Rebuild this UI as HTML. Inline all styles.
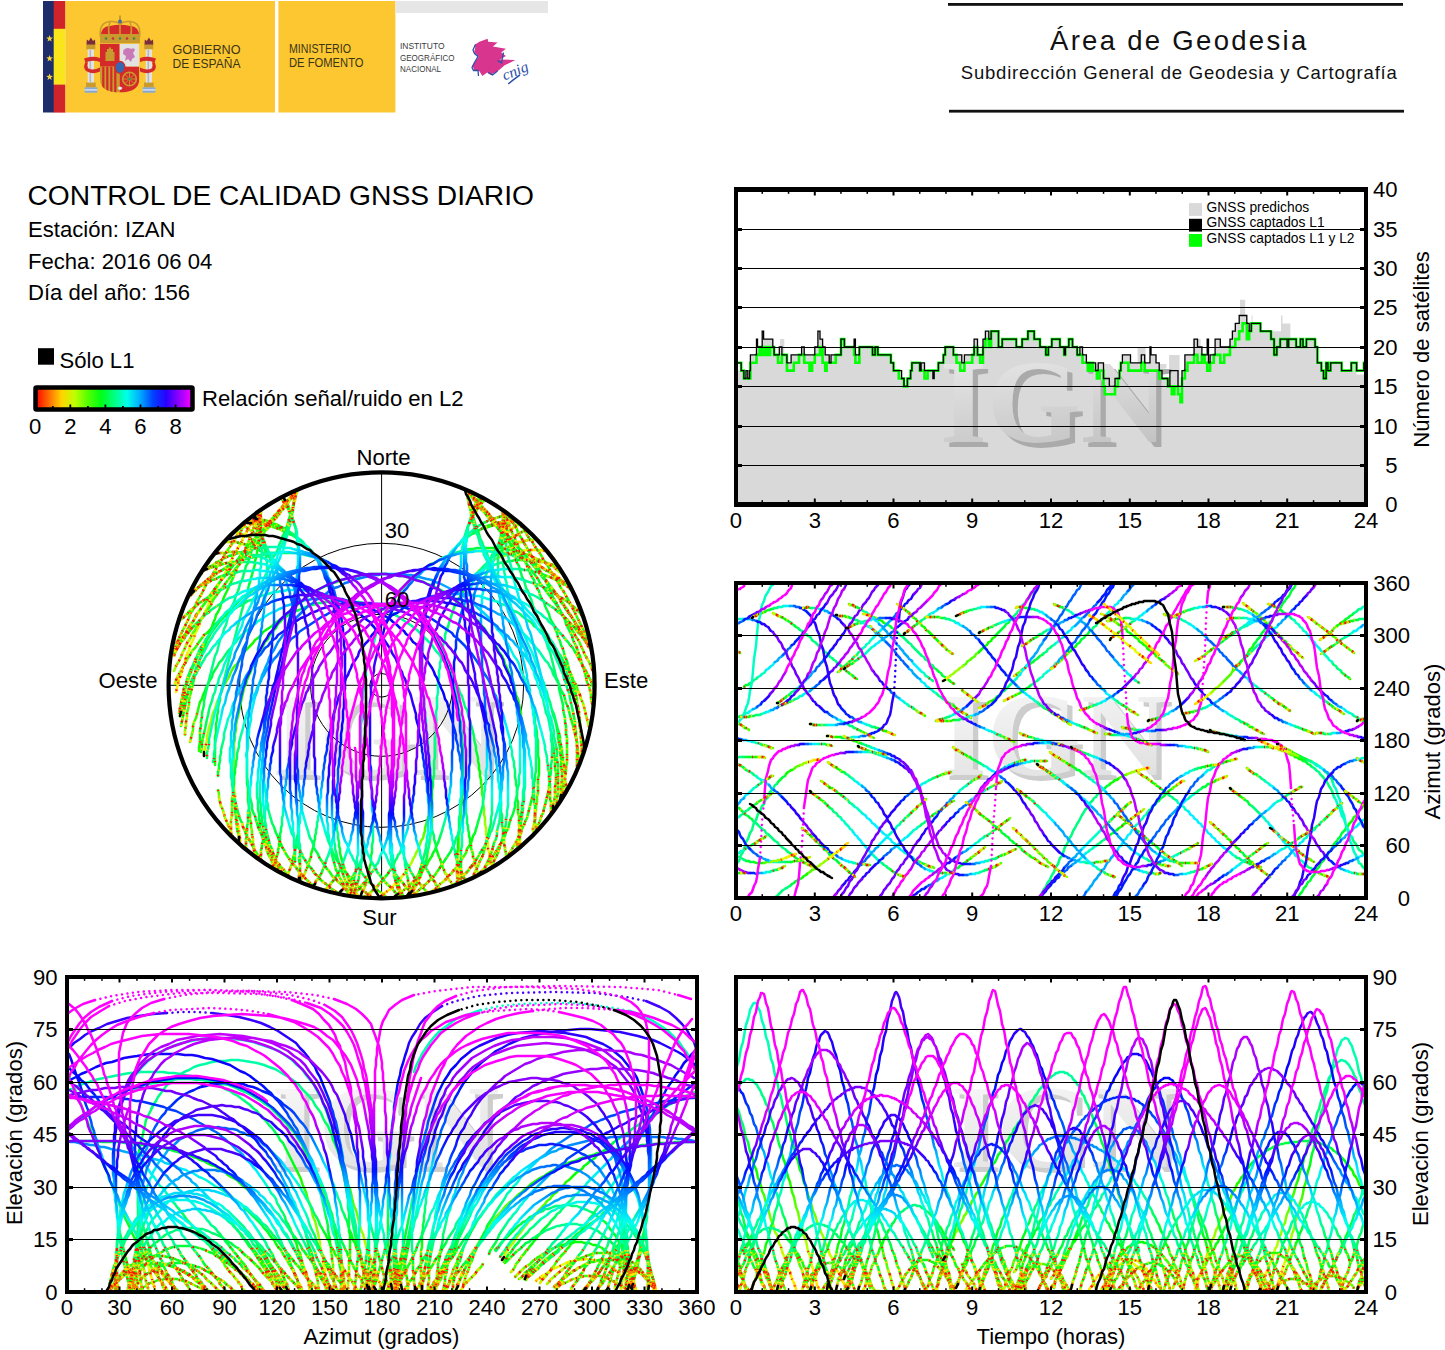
<!DOCTYPE html><html><head><meta charset="utf-8"><title>Control de calidad GNSS diario</title><style>html,body{margin:0;padding:0;background:#fff;width:1445px;height:1350px;overflow:hidden}</style></head><body><svg width="1445" height="1350" viewBox="0 0 1445 1350" font-family='"Liberation Sans", sans-serif' style="position:absolute;left:0;top:0"><defs><clipPath id="clip2"><rect x="736" y="583" width="630" height="315"/></clipPath><clipPath id="clip3"><rect x="67" y="977" width="630" height="315"/></clipPath><clipPath id="clip4"><rect x="736" y="977" width="630" height="315"/></clipPath><linearGradient id="gl0" gradientUnits="userSpaceOnUse" x1="0" x2="0" y1="1292" y2="977"><stop offset="0.000" stop-color="#ffda00"/><stop offset="0.056" stop-color="#fdff00"/><stop offset="0.111" stop-color="#ceff00"/><stop offset="0.167" stop-color="#a7ff00"/><stop offset="0.222" stop-color="#80ff00"/><stop offset="0.278" stop-color="#55ff00"/><stop offset="0.333" stop-color="#2aff00"/><stop offset="0.389" stop-color="#00ff02"/><stop offset="0.444" stop-color="#00ff2e"/><stop offset="0.500" stop-color="#00ff5a"/><stop offset="0.556" stop-color="#00ff6f"/><stop offset="0.611" stop-color="#00ff84"/><stop offset="0.667" stop-color="#00ff98"/><stop offset="0.722" stop-color="#00ffa5"/><stop offset="0.778" stop-color="#00ffb2"/><stop offset="0.833" stop-color="#00ffbf"/><stop offset="0.889" stop-color="#00ffc7"/><stop offset="0.944" stop-color="#00ffcf"/><stop offset="1.000" stop-color="#00ffd7"/></linearGradient><radialGradient id="gr0" gradientUnits="userSpaceOnUse" cx="381.6" cy="685.3" r="213"><stop offset="0.000" stop-color="#00ffd7"/><stop offset="0.056" stop-color="#00ffcf"/><stop offset="0.111" stop-color="#00ffc7"/><stop offset="0.167" stop-color="#00ffbf"/><stop offset="0.222" stop-color="#00ffb2"/><stop offset="0.278" stop-color="#00ffa5"/><stop offset="0.333" stop-color="#00ff98"/><stop offset="0.389" stop-color="#00ff84"/><stop offset="0.444" stop-color="#00ff6f"/><stop offset="0.500" stop-color="#00ff5a"/><stop offset="0.556" stop-color="#00ff2e"/><stop offset="0.611" stop-color="#00ff02"/><stop offset="0.667" stop-color="#2aff00"/><stop offset="0.722" stop-color="#55ff00"/><stop offset="0.778" stop-color="#80ff00"/><stop offset="0.833" stop-color="#a7ff00"/><stop offset="0.889" stop-color="#ceff00"/><stop offset="0.944" stop-color="#fdff00"/><stop offset="1.000" stop-color="#ffda00"/></radialGradient><linearGradient id="gl1" gradientUnits="userSpaceOnUse" x1="0" x2="0" y1="1292" y2="977"><stop offset="0.000" stop-color="#b1ff00"/><stop offset="0.056" stop-color="#75ff00"/><stop offset="0.111" stop-color="#2eff00"/><stop offset="0.167" stop-color="#00ff0e"/><stop offset="0.222" stop-color="#00ff49"/><stop offset="0.278" stop-color="#00ff8b"/><stop offset="0.333" stop-color="#00ffcc"/><stop offset="0.389" stop-color="#00efff"/><stop offset="0.444" stop-color="#00abff"/><stop offset="0.500" stop-color="#0068ff"/><stop offset="0.556" stop-color="#0048ff"/><stop offset="0.611" stop-color="#0028ff"/><stop offset="0.667" stop-color="#0008ff"/><stop offset="0.722" stop-color="#0b00ff"/><stop offset="0.778" stop-color="#1f00ff"/><stop offset="0.833" stop-color="#3300ff"/><stop offset="0.889" stop-color="#3f00ff"/><stop offset="0.944" stop-color="#4b00ff"/><stop offset="1.000" stop-color="#5700ff"/></linearGradient><radialGradient id="gr1" gradientUnits="userSpaceOnUse" cx="381.6" cy="685.3" r="213"><stop offset="0.000" stop-color="#5700ff"/><stop offset="0.056" stop-color="#4b00ff"/><stop offset="0.111" stop-color="#3f00ff"/><stop offset="0.167" stop-color="#3300ff"/><stop offset="0.222" stop-color="#1f00ff"/><stop offset="0.278" stop-color="#0b00ff"/><stop offset="0.333" stop-color="#0008ff"/><stop offset="0.389" stop-color="#0028ff"/><stop offset="0.444" stop-color="#0048ff"/><stop offset="0.500" stop-color="#0068ff"/><stop offset="0.556" stop-color="#00abff"/><stop offset="0.611" stop-color="#00efff"/><stop offset="0.667" stop-color="#00ffcc"/><stop offset="0.722" stop-color="#00ff8b"/><stop offset="0.778" stop-color="#00ff49"/><stop offset="0.833" stop-color="#00ff0e"/><stop offset="0.889" stop-color="#2eff00"/><stop offset="0.944" stop-color="#75ff00"/><stop offset="1.000" stop-color="#b1ff00"/></radialGradient><linearGradient id="gl2" gradientUnits="userSpaceOnUse" x1="0" x2="0" y1="1292" y2="977"><stop offset="0.000" stop-color="#81ff00"/><stop offset="0.056" stop-color="#3dff00"/><stop offset="0.111" stop-color="#00ff14"/><stop offset="0.167" stop-color="#00ff58"/><stop offset="0.222" stop-color="#00ff9c"/><stop offset="0.278" stop-color="#00ffe7"/><stop offset="0.333" stop-color="#00ccff"/><stop offset="0.389" stop-color="#007fff"/><stop offset="0.444" stop-color="#0032ff"/><stop offset="0.500" stop-color="#1b00ff"/><stop offset="0.556" stop-color="#3f00ff"/><stop offset="0.611" stop-color="#6400ff"/><stop offset="0.667" stop-color="#8800ff"/><stop offset="0.722" stop-color="#9f00ff"/><stop offset="0.778" stop-color="#b500ff"/><stop offset="0.833" stop-color="#cc00ff"/><stop offset="0.889" stop-color="#da00ff"/><stop offset="0.944" stop-color="#e700ff"/><stop offset="1.000" stop-color="#f500ff"/></linearGradient><radialGradient id="gr2" gradientUnits="userSpaceOnUse" cx="381.6" cy="685.3" r="213"><stop offset="0.000" stop-color="#f500ff"/><stop offset="0.056" stop-color="#e700ff"/><stop offset="0.111" stop-color="#da00ff"/><stop offset="0.167" stop-color="#cc00ff"/><stop offset="0.222" stop-color="#b500ff"/><stop offset="0.278" stop-color="#9f00ff"/><stop offset="0.333" stop-color="#8800ff"/><stop offset="0.389" stop-color="#6400ff"/><stop offset="0.444" stop-color="#3f00ff"/><stop offset="0.500" stop-color="#1b00ff"/><stop offset="0.556" stop-color="#0032ff"/><stop offset="0.611" stop-color="#007fff"/><stop offset="0.667" stop-color="#00ccff"/><stop offset="0.722" stop-color="#00ffe7"/><stop offset="0.778" stop-color="#00ff9c"/><stop offset="0.833" stop-color="#00ff58"/><stop offset="0.889" stop-color="#00ff14"/><stop offset="0.944" stop-color="#3dff00"/><stop offset="1.000" stop-color="#81ff00"/></radialGradient><linearGradient id="gl3" gradientUnits="userSpaceOnUse" x1="0" x2="0" y1="1292" y2="977"><stop offset="0.000" stop-color="#52ff00"/><stop offset="0.056" stop-color="#05ff00"/><stop offset="0.111" stop-color="#00ff57"/><stop offset="0.167" stop-color="#00ffa3"/><stop offset="0.222" stop-color="#00fff0"/><stop offset="0.278" stop-color="#00baff"/><stop offset="0.333" stop-color="#0066ff"/><stop offset="0.389" stop-color="#000fff"/><stop offset="0.444" stop-color="#4700ff"/><stop offset="0.500" stop-color="#9e00ff"/><stop offset="0.556" stop-color="#c700ff"/><stop offset="0.611" stop-color="#f000ff"/><stop offset="0.667" stop-color="#ff00ff"/><stop offset="0.722" stop-color="#ff00ff"/><stop offset="0.778" stop-color="#ff00ff"/><stop offset="0.833" stop-color="#ff00ff"/><stop offset="0.889" stop-color="#ff00ff"/><stop offset="0.944" stop-color="#ff00ff"/><stop offset="1.000" stop-color="#ff00ff"/></linearGradient><radialGradient id="gr3" gradientUnits="userSpaceOnUse" cx="381.6" cy="685.3" r="213"><stop offset="0.000" stop-color="#ff00ff"/><stop offset="0.056" stop-color="#ff00ff"/><stop offset="0.111" stop-color="#ff00ff"/><stop offset="0.167" stop-color="#ff00ff"/><stop offset="0.222" stop-color="#ff00ff"/><stop offset="0.278" stop-color="#ff00ff"/><stop offset="0.333" stop-color="#ff00ff"/><stop offset="0.389" stop-color="#f000ff"/><stop offset="0.444" stop-color="#c700ff"/><stop offset="0.500" stop-color="#9e00ff"/><stop offset="0.556" stop-color="#4700ff"/><stop offset="0.611" stop-color="#000fff"/><stop offset="0.667" stop-color="#0066ff"/><stop offset="0.722" stop-color="#00baff"/><stop offset="0.778" stop-color="#00fff0"/><stop offset="0.833" stop-color="#00ffa3"/><stop offset="0.889" stop-color="#00ff57"/><stop offset="0.944" stop-color="#05ff00"/><stop offset="1.000" stop-color="#52ff00"/></radialGradient><clipPath id="clipsky"><circle cx="381.6" cy="685.3" r="213"/></clipPath></defs><rect width="1445" height="1350" fill="#fff"/><rect x="43" y="1" width="11" height="111.5" fill="#1d2d6b"/><rect x="53.7" y="1" width="11.8" height="28" fill="#d1232a"/><rect x="53.7" y="28.8" width="11.8" height="56" fill="#f9e51c"/><rect x="53.7" y="84.6" width="11.8" height="28" fill="#d1232a"/><polygon points="49.6,35.1 50.5,37.5 53.0,37.6 51.0,39.2 51.7,41.6 49.6,40.2 47.5,41.6 48.2,39.2 46.2,37.6 48.7,37.5" fill="#f2d23c"/><polygon points="49.6,54.9 50.5,57.3 53.0,57.4 51.0,59.0 51.7,61.4 49.6,60.0 47.5,61.4 48.2,59.0 46.2,57.4 48.7,57.3" fill="#f2d23c"/><polygon points="49.6,73.4 50.5,75.8 53.0,75.9 51.0,77.5 51.7,79.9 49.6,78.5 47.5,79.9 48.2,77.5 46.2,75.9 48.7,75.8" fill="#f2d23c"/><rect x="65.4" y="1" width="209.6" height="111.5" fill="#fcc731"/><rect x="278.4" y="1" width="117" height="111.5" fill="#fcc731"/><rect x="395.4" y="1" width="152.6" height="12" fill="#e6e6e6"/><g><rect x="87.7" y="49" width="6.3" height="34" fill="#e2e2e2"/><rect x="89.5" y="50" width="1.6" height="32" fill="#b8b8b8"/><rect x="86.3" y="44" width="9" height="5.3" fill="#c99b2e"/><path d="M86.5 44.5 L86.8 39.5 L88.8 41 L90.9 37.5 L93 41 L95 39.5 L95.3 44.5Z" fill="#7a2d3c"/><rect x="86" y="82.5" width="9.7" height="4.8" fill="#c99b2e"/><rect x="84.7" y="87.3" width="12.6" height="5.4" fill="#86a9d8"/><rect x="84.7" y="89.3" width="12.6" height="1.2" fill="#e8eef8"/><rect x="145.7" y="49" width="6.3" height="34" fill="#e2e2e2"/><rect x="147.5" y="50" width="1.6" height="32" fill="#b8b8b8"/><rect x="144.3" y="44" width="9" height="5.3" fill="#c99b2e"/><path d="M144.5 44.5 L144.8 39.5 L146.8 41 L148.9 37.5 L151 41 L153 39.5 L153.3 44.5Z" fill="#7a2d3c"/><rect x="144" y="82.5" width="9.7" height="4.8" fill="#c99b2e"/><rect x="142.7" y="87.3" width="12.6" height="5.4" fill="#86a9d8"/><rect x="142.7" y="89.3" width="12.6" height="1.2" fill="#e8eef8"/><path d="M84 58.5 Q92 55.5 100 58 L100 62 Q92 59.5 85.5 62.5Z" fill="#d42a2a"/><path d="M85.5 62 Q82.5 67 86 71 Q92 75 100 71.5 L100 67.5 Q93 71 88.5 68.5 Q86.5 66 88 62.5Z" fill="#d42a2a"/><path d="M140 58 Q148 55.5 156 58.5 L154.5 62.5 Q148 59.5 140 62Z" fill="#d42a2a"/><path d="M154.5 62 Q157.5 67 154 71 Q148 75 140 71.5 L140 67.5 Q147 71 151.5 68.5 Q153.5 66 152 62.5Z" fill="#d42a2a"/><path d="M101 36 Q100.5 26.5 110 26 Q120 23.5 130 26 Q139.5 26.5 139 36Z" fill="#d42a2a"/><path d="M100.5 37 Q98.5 22.5 110 21.5 Q117.5 21 120 24.5 Q122.5 21 130 21.5 Q141.5 22.5 139.5 37 M110 22 Q107.5 29 109.5 36 M130 22 Q132.5 29 130.5 36 M120 24 L120 36" fill="none" stroke="#c99b2e" stroke-width="1.6"/><rect x="100" y="34" width="40" height="9.3" fill="#c99b2e" rx="1"/><circle cx="106" cy="38.5" r="1.3" fill="#3d8a4a"/><circle cx="113" cy="38.5" r="1.3" fill="#c8303a"/><circle cx="120" cy="38.5" r="1.3" fill="#3d8a4a"/><circle cx="127" cy="38.5" r="1.3" fill="#c8303a"/><circle cx="134" cy="38.5" r="1.3" fill="#3d8a4a"/><rect x="119" y="15.5" width="2" height="7" fill="#c99b2e"/><circle cx="120" cy="21.5" r="2" fill="#4a6a9a"/><clipPath id="shc"><path d="M100 43.7 H139.3 V79 Q139.3 92.2 119.7 92.6 Q100 92.2 100 79Z"/></clipPath><g clip-path="url(#shc)"><rect x="100" y="43.7" width="19.7" height="23" fill="#d42a2a"/><rect x="119.7" y="43.7" width="19.6" height="23" fill="#e2e2e2"/><rect x="100" y="66.7" width="19.7" height="26" fill="#c99b2e"/><rect x="102.2" y="66.7" width="2.2" height="26" fill="#d42a2a"/><rect x="106.2" y="66.7" width="2.2" height="26" fill="#d42a2a"/><rect x="110.2" y="66.7" width="2.2" height="26" fill="#d42a2a"/><rect x="114.2" y="66.7" width="2.2" height="26" fill="#d42a2a"/><rect x="119.7" y="66.7" width="19.6" height="26" fill="#d42a2a"/></g><path d="M105.5 61 L105.5 52 L107 52 L107 49 L109 49 L109 47.5 L111 47.5 L111 49 L113 49 L113 52 L114.5 52 L114.5 61Z" fill="#c99b2e"/><path d="M123.5 50 Q127 46.5 131 49 Q134 47 135 50 L133 53 L135 57 L132 59 L131 62 L128 59 L125 61 L126 56 L123 54Z" fill="#c978b8"/><circle cx="129.5" cy="79" r="6.8" fill="none" stroke="#c99b2e" stroke-width="1.6"/><path d="M129.5 72.5 V85.5 M123 79 H136 M125 74.5 L134 83.5 M134 74.5 L125 83.5" stroke="#c99b2e" stroke-width="0.9"/><circle cx="129.5" cy="79" r="1.3" fill="#3d8a4a"/><ellipse cx="120" cy="67.3" rx="5" ry="6" fill="#3a66b0" stroke="#d42a2a" stroke-width="1.2"/><path d="M117.5 88 Q120 85 122.5 88 Q120 92 117.5 88Z" fill="#e8e8e8"/></g><path d="M474.7 44.7 L479.4 41.8 L487.6 38.8 L488.2 41.8 L497.6 42.4 L492.9 46.5 L505.9 48.8 L501.2 52.4 L505.9 55.9 L500 59.4 L515.3 60 L504.7 65.3 L497.6 71.2 L490.6 74.7 L487.1 72.4 L482.4 75.9 L479.4 71.2 L474.1 70 L472.4 65.3 L478.8 56.5 L474.1 52.4 L475.3 47.6Z" fill="#d8358e"/><path d="M475.5 44.5 L473 50 L474.5 53.5 L478 56.5 L474.5 62.5 L472 67.5 L473.5 70.5 L478 70.5 L478.5 76 M488 72.5 L492.5 75 L497.5 71 M497.5 60.5 L501.5 63 L502.5 57.5 L503.5 52.5" fill="none" stroke="#2a4fa8" stroke-width="1.3"/><text x="0" y="0" font-size="15" font-style="italic" fill="#2a4fa8" font-family="Liberation Serif" transform="translate(504.5 80.5) rotate(-22)" textLength="27" lengthAdjust="spacingAndGlyphs">cnig</text><path d="M508.8 83.5 Q514 79 519.4 75.3" stroke="#2a4fa8" stroke-width="1.6" fill="none" stroke-linecap="round"/><g fill="#3b3418" font-family="Liberation Sans" font-size="12.3"><text x="172.5" y="54.3" textLength="68" lengthAdjust="spacingAndGlyphs">GOBIERNO</text><text x="172.5" y="68" textLength="68" lengthAdjust="spacingAndGlyphs">DE ESPAÑA</text><text x="289" y="53.2" textLength="62" lengthAdjust="spacingAndGlyphs">MINISTERIO</text><text x="289" y="67.2" textLength="74.5" lengthAdjust="spacingAndGlyphs">DE FOMENTO</text></g><g fill="#3a3a3a" font-family="Liberation Sans" font-size="9.2"><text x="400" y="49.2" textLength="44.5" lengthAdjust="spacingAndGlyphs">INSTITUTO</text><text x="400" y="60.6" textLength="54.5" lengthAdjust="spacingAndGlyphs">GEOGRÁFICO</text><text x="400" y="71.6" textLength="41" lengthAdjust="spacingAndGlyphs">NACIONAL</text></g><rect x="948" y="3" width="455" height="2.8" fill="#111"/><rect x="949" y="109.8" width="455" height="2.8" fill="#111"/><text x="1050" y="49.8" font-size="27.5" letter-spacing="2.3" fill="#111">Área de Geodesia</text><text x="960.8" y="78.9" font-size="18.5" letter-spacing="0.8" fill="#111">Subdirección General de Geodesia y Cartografía</text><text x="27.5" y="205" font-size="28.2" text-anchor="start" >CONTROL DE CALIDAD GNSS DIARIO</text><text x="28" y="237" font-size="22.1" text-anchor="start" >Estación: IZAN</text><text x="28" y="268.5" font-size="22.1" text-anchor="start" >Fecha: 2016 06 04</text><text x="28" y="299.5" font-size="22.1" text-anchor="start" >Día del año: 156</text><rect x="38" y="348.2" width="16" height="16.5" fill="#000"/><text x="59.5" y="367.5" font-size="22.1" text-anchor="start" >Sólo L1</text><defs><linearGradient id="cb" x1="0" x2="1" y1="0" y2="0"><stop offset="0.000" stop-color="#ff0000"/><stop offset="0.083" stop-color="#ff6a00"/><stop offset="0.167" stop-color="#ffd400"/><stop offset="0.250" stop-color="#bfff00"/><stop offset="0.333" stop-color="#55ff00"/><stop offset="0.417" stop-color="#00ff15"/><stop offset="0.500" stop-color="#00ff80"/><stop offset="0.583" stop-color="#00ffea"/><stop offset="0.667" stop-color="#00aaff"/><stop offset="0.750" stop-color="#0040ff"/><stop offset="0.833" stop-color="#2a00ff"/><stop offset="0.917" stop-color="#9500ff"/><stop offset="1.000" stop-color="#ff00ff"/></linearGradient></defs><rect x="35.5" y="387.5" width="157" height="22" fill="url(#cb)" stroke="#000" stroke-width="4.5" rx="1"/><rect x="51.9" y="406" width="1.8" height="2" fill="#000"/><rect x="69.4" y="404.5" width="1.8" height="3.5" fill="#000"/><rect x="87" y="406" width="1.8" height="2" fill="#000"/><rect x="104.5" y="404.5" width="1.8" height="3.5" fill="#000"/><rect x="122" y="406" width="1.8" height="2" fill="#000"/><rect x="139.6" y="404.5" width="1.8" height="3.5" fill="#000"/><rect x="157.2" y="406" width="1.8" height="2" fill="#000"/><rect x="174.7" y="404.5" width="1.8" height="3.5" fill="#000"/><text x="35.2" y="433.6" font-size="22.1" text-anchor="middle" >0</text><text x="70.3" y="433.6" font-size="22.1" text-anchor="middle" >2</text><text x="105.4" y="433.6" font-size="22.1" text-anchor="middle" >4</text><text x="140.5" y="433.6" font-size="22.1" text-anchor="middle" >6</text><text x="175.6" y="433.6" font-size="22.1" text-anchor="middle" >8</text><text x="202" y="405.5" font-size="22.1" text-anchor="start" >Relación señal/ruido en L2</text><path d="M736 504.5L736.0 370.6L749.1 370.6L749.1 378.5L749.6 378.5L749.6 370.6L750.7 370.6L750.7 354.9L756.5 354.9L756.5 339.1L757.5 339.1L757.5 347.0L762.2 347.0L762.2 331.2L763.8 331.2L763.8 339.1L772.8 339.1L772.8 347.0L774.3 347.0L774.3 354.9L779.6 354.9L779.6 347.0L780.1 347.0L780.1 339.1L784.3 339.1L784.3 354.9L786.9 354.9L786.9 362.8L791.1 362.8L791.1 354.9L801.6 354.9L801.6 347.0L804.2 347.0L804.2 354.9L814.8 354.9L814.8 347.0L817.9 347.0L817.9 331.2L820.0 331.2L820.0 339.1L822.6 339.1L822.6 347.0L825.2 347.0L825.2 354.9L829.5 354.9L829.5 362.8L831.0 362.8L831.0 354.9L841.0 354.9L841.0 339.1L844.7 339.1L844.7 347.0L854.1 347.0L854.1 339.1L855.7 339.1L855.7 354.9L859.4 354.9L859.4 347.0L872.5 347.0L872.5 354.9L875.1 354.9L875.1 347.0L877.8 347.0L877.8 354.9L890.9 354.9L890.9 362.8L893.5 362.8L893.5 370.6L901.9 370.6L901.9 378.5L904.0 378.5L904.0 386.4L907.7 386.4L907.7 378.5L910.8 378.5L910.8 370.6L911.9 370.6L911.9 362.8L919.8 362.8L919.8 370.6L921.3 370.6L921.3 362.8L924.5 362.8L924.5 370.6L932.9 370.6L932.9 378.5L934.5 378.5L934.5 370.6L938.6 370.6L938.6 362.8L943.4 362.8L943.4 354.9L945.5 354.9L945.5 347.0L953.4 347.0L953.4 354.9L961.8 354.9L961.8 362.8L964.4 362.8L964.4 354.9L974.4 354.9L974.4 339.1L977.5 339.1L977.5 354.9L983.3 354.9L983.3 339.1L985.4 339.1L985.4 331.2L989.1 331.2L989.1 339.1L991.1 339.1L991.1 331.2L998.5 331.2L998.5 347.0L1002.2 347.0L1002.2 339.1L1016.3 339.1L1016.3 347.0L1022.1 347.0L1022.1 339.1L1027.9 339.1L1027.9 331.2L1034.2 331.2L1034.2 339.1L1040.0 339.1L1040.0 347.0L1045.8 347.0L1045.8 354.9L1048.4 354.9L1048.4 347.0L1052.0 347.0L1052.0 339.1L1059.9 339.1L1059.9 347.0L1064.1 347.0L1064.1 354.9L1065.7 354.9L1065.7 347.0L1068.8 347.0L1068.8 339.1L1072.5 339.1L1072.5 347.0L1077.2 347.0L1077.2 354.9L1079.9 354.9L1079.9 347.0L1082.5 347.0L1082.5 354.9L1086.7 354.9L1086.7 362.8L1095.6 362.8L1095.6 370.6L1098.2 370.6L1098.2 362.8L1103.5 362.8L1103.5 378.5L1109.3 378.5L1109.3 386.4L1115.0 386.4L1115.0 378.5L1119.8 378.5L1119.8 370.6L1120.8 370.6L1120.8 362.8L1122.4 362.8L1122.4 354.9L1130.8 354.9L1130.8 362.8L1137.6 362.8L1137.6 347.0L1145.5 347.0L1145.5 362.8L1150.2 362.8L1150.2 347.0L1151.3 347.0L1151.3 354.9L1156.0 354.9L1156.0 362.8L1159.2 362.8L1159.2 370.6L1162.3 370.6L1162.3 378.5L1168.1 378.5L1168.1 386.4L1169.1 386.4L1169.1 354.9L1179.6 354.9L1179.6 386.4L1182.2 386.4L1182.2 370.6L1184.9 370.6L1184.9 354.9L1192.8 354.9L1192.8 339.1L1200.6 339.1L1200.6 347.0L1202.2 347.0L1202.2 354.9L1207.5 354.9L1207.5 339.1L1208.5 339.1L1208.5 362.8L1210.1 362.8L1210.1 354.9L1215.3 354.9L1215.3 339.1L1220.6 339.1L1220.6 347.0L1230.0 347.0L1230.0 339.1L1232.7 339.1L1232.7 331.2L1235.3 331.2L1235.3 323.4L1239.5 323.4L1239.5 315.5L1240.0 315.5L1240.0 299.8L1245.2 299.8L1245.2 315.5L1246.8 315.5L1246.8 323.4L1249.4 323.4L1249.4 331.2L1251.6 331.2L1251.6 315.5L1252.6 315.5L1252.6 323.4L1260.5 323.4L1260.5 331.2L1271.0 331.2L1271.0 339.1L1272.0 339.1L1272.0 331.2L1281.0 331.2L1281.0 315.5L1282.5 315.5L1282.5 323.4L1290.4 323.4L1290.4 339.1L1296.2 339.1L1296.2 347.0L1300.4 347.0L1300.4 339.1L1303.0 339.1L1303.0 347.0L1306.7 347.0L1306.7 339.1L1315.1 339.1L1315.1 347.0L1317.7 347.0L1317.7 362.8L1321.4 362.8L1321.4 370.6L1323.5 370.6L1323.5 378.5L1326.1 378.5L1326.1 362.8L1328.2 362.8L1328.2 370.6L1330.8 370.6L1330.8 362.8L1341.8 362.8L1341.8 370.6L1351.3 370.6L1351.3 362.8L1356.6 362.8L1356.6 374.6L1363.9 374.6L1363.9 362.8L1366.0 362.8L1366 504.5Z" fill="#d9d9d9"/><defs><linearGradient id="wmg" x1="0" y1="0" x2="0.25" y2="1"><stop offset="0" stop-color="#eeeeee"/><stop offset="1" stop-color="#c2c2c2"/></linearGradient></defs><g transform="translate(944 442.2) scale(1.018 1)" font-family="Liberation Serif" font-weight="bold" font-size="118.5"><text x="1.2" y="5.2" fill="#aaaaaa">IGN</text><text x="-3.95" y="0" fill="url(#wmg)">IGN</text></g><path d="M736.0 362.8 L741.2 362.8 L741.2 370.6 L743.9 370.6 L743.9 378.5 L750.4 378.5 L750.4 362.8 L756.5 362.8 L756.5 354.9 L759.6 354.9 L759.6 347.0 L762.2 347.0 L762.2 354.9 L764.9 354.9 L764.9 347.0 L767.5 347.0 L767.5 354.9 L770.1 354.9 L770.1 347.0 L774.1 347.0 L774.1 354.9 L778.0 354.9 L778.0 362.8 L781.9 362.8 L781.9 354.9 L786.9 354.9 L786.9 370.6 L793.8 370.6 L793.8 362.8 L799.0 362.8 L799.0 354.9 L804.2 354.9 L804.2 362.8 L809.5 362.8 L809.5 370.6 L812.1 370.6 L812.1 362.8 L814.8 362.8 L814.8 354.9 L820.0 354.9 L820.0 347.0 L822.6 347.0 L822.6 362.8 L825.2 362.8 L825.2 370.6 L826.6 370.6 L826.6 362.8 L835.8 362.8 L835.8 354.9 L841.0 354.9 L841.0 339.1 L844.4 339.1 L844.4 347.0 L854.1 347.0 L854.1 354.9 L855.4 354.9 L855.4 362.8 L859.4 362.8 L859.4 347.0 L872.5 347.0 L872.5 354.9 L875.1 354.9 L875.1 347.0 L877.8 347.0 L877.8 354.9 L890.9 354.9 L890.9 362.8 L893.5 362.8 L893.5 370.6 L898.8 370.6 L898.8 378.5 L904.0 378.5 L904.0 386.4 L907.4 386.4 L907.4 378.5 L910.6 378.5 L910.6 370.6 L911.9 370.6 L911.9 362.8 L919.8 362.8 L919.8 370.6 L924.5 370.6 L924.5 378.5 L927.6 378.5 L927.6 370.6 L938.4 370.6 L938.4 362.8 L943.4 362.8 L943.4 354.9 L945.2 354.9 L945.2 347.0 L953.4 347.0 L953.4 354.9 L956.5 354.9 L956.5 362.8 L960.2 362.8 L960.2 370.6 L964.4 370.6 L964.4 362.8 L972.2 362.8 L972.2 354.9 L974.1 354.9 L974.1 347.0 L977.5 347.0 L977.5 354.9 L980.1 354.9 L980.1 362.8 L983.0 362.8 L983.0 347.0 L985.4 347.0 L985.4 339.1 L988.8 339.1 L988.8 347.0 L991.1 347.0 L991.1 331.2 L998.5 331.2 L998.5 347.0 L1002.2 347.0 L1002.2 339.1 L1016.3 339.1 L1016.3 347.0 L1022.1 347.0 L1022.1 339.1 L1027.9 339.1 L1027.9 331.2 L1034.2 331.2 L1034.2 339.1 L1040.0 339.1 L1040.0 347.0 L1045.8 347.0 L1045.8 354.9 L1048.4 354.9 L1048.4 347.0 L1051.8 347.0 L1051.8 339.1 L1059.9 339.1 L1059.9 347.0 L1064.1 347.0 L1064.1 354.9 L1065.4 354.9 L1065.4 347.0 L1068.8 347.0 L1068.8 339.1 L1072.5 339.1 L1072.5 347.0 L1077.2 347.0 L1077.2 354.9 L1082.5 354.9 L1082.5 362.8 L1087.8 362.8 L1087.8 370.6 L1090.4 370.6 L1090.4 362.8 L1093.0 362.8 L1093.0 370.6 L1096.9 370.6 L1096.9 378.5 L1099.6 378.5 L1099.6 370.6 L1103.5 370.6 L1103.5 386.4 L1104.8 386.4 L1104.8 394.2 L1115.0 394.2 L1115.0 386.4 L1117.9 386.4 L1117.9 378.5 L1119.5 378.5 L1119.5 370.6 L1120.8 370.6 L1120.8 362.8 L1128.4 362.8 L1128.4 370.6 L1141.3 370.6 L1141.3 362.8 L1144.7 362.8 L1144.7 370.6 L1159.2 370.6 L1159.2 378.5 L1167.8 378.5 L1167.8 386.4 L1171.8 386.4 L1171.8 394.2 L1174.4 394.2 L1174.4 386.4 L1178.0 386.4 L1178.0 394.2 L1180.4 394.2 L1180.4 402.1 L1182.0 402.1 L1182.0 378.5 L1184.9 378.5 L1184.9 370.6 L1187.5 370.6 L1187.5 362.8 L1194.1 362.8 L1194.1 354.9 L1197.5 354.9 L1197.5 362.8 L1201.9 362.8 L1201.9 354.9 L1204.6 354.9 L1204.6 362.8 L1207.2 362.8 L1207.2 370.6 L1210.1 370.6 L1210.1 362.8 L1213.8 362.8 L1213.8 354.9 L1220.3 354.9 L1220.3 362.8 L1224.2 362.8 L1224.2 354.9 L1230.0 354.9 L1230.0 347.0 L1235.3 347.0 L1235.3 339.1 L1239.2 339.1 L1239.2 331.2 L1242.6 331.2 L1242.6 323.4 L1246.8 323.4 L1246.8 339.1 L1249.2 339.1 L1249.2 331.2 L1251.3 331.2 L1251.3 323.4 L1260.5 323.4 L1260.5 331.2 L1271.0 331.2 L1271.0 339.1 L1274.1 339.1 L1274.1 354.9 L1276.8 354.9 L1276.8 347.0 L1280.2 347.0 L1280.2 339.1 L1287.2 339.1 L1287.2 347.0 L1288.6 347.0 L1288.6 339.1 L1296.2 339.1 L1296.2 347.0 L1300.4 347.0 L1300.4 339.1 L1303.0 339.1 L1303.0 347.0 L1306.4 347.0 L1306.4 339.1 L1315.1 339.1 L1315.1 347.0 L1317.4 347.0 L1317.4 362.8 L1321.4 362.8 L1321.4 370.6 L1323.5 370.6 L1323.5 378.5 L1326.1 378.5 L1326.1 362.8 L1327.9 362.8 L1327.9 370.6 L1330.6 370.6 L1330.6 362.8 L1341.6 362.8 L1341.6 370.6 L1351.3 370.6 L1351.3 362.8 L1356.6 362.8 L1356.6 370.6 L1363.9 370.6 L1363.9 362.8 L1366.0 362.8" stroke="#00ff00" stroke-width="2.6" fill="none"/><path d="M736.0 362.8 L741.2 362.8 L741.2 370.6 L743.9 370.6 L743.9 378.5 L746.0 378.5 L746.0 370.6 L747.8 370.6 L747.8 378.5 L749.6 378.5 L749.6 370.6 L750.4 370.6 L750.4 354.9 L756.5 354.9 L756.5 339.1 L757.5 339.1 L757.5 347.0 L762.2 347.0 L762.2 331.2 L763.6 331.2 L763.6 339.1 L772.8 339.1 L772.8 347.0 L774.1 347.0 L774.1 354.9 L779.3 354.9 L779.3 347.0 L781.9 347.0 L781.9 354.9 L786.9 354.9 L786.9 362.8 L791.1 362.8 L791.1 354.9 L801.6 354.9 L801.6 347.0 L804.2 347.0 L804.2 354.9 L814.8 354.9 L814.8 347.0 L817.9 347.0 L817.9 331.2 L820.0 331.2 L820.0 339.1 L822.6 339.1 L822.6 347.0 L825.2 347.0 L825.2 354.9 L829.2 354.9 L829.2 362.8 L831.0 362.8 L831.0 354.9 L841.0 354.9 L841.0 339.1 L844.4 339.1 L844.4 347.0 L854.1 347.0 L854.1 339.1 L855.4 339.1 L855.4 354.9 L859.4 354.9 L859.4 347.0 L872.5 347.0 L872.5 354.9 L875.1 354.9 L875.1 347.0 L877.8 347.0 L877.8 354.9 L890.9 354.9 L890.9 362.8 L893.5 362.8 L893.5 370.6 L901.6 370.6 L901.6 378.5 L904.0 378.5 L904.0 386.4 L907.4 386.4 L907.4 378.5 L910.6 378.5 L910.6 370.6 L911.9 370.6 L911.9 362.8 L919.8 362.8 L919.8 370.6 L921.1 370.6 L921.1 362.8 L924.5 362.8 L924.5 370.6 L932.9 370.6 L932.9 378.5 L934.2 378.5 L934.2 370.6 L938.4 370.6 L938.4 362.8 L943.4 362.8 L943.4 354.9 L945.2 354.9 L945.2 347.0 L953.4 347.0 L953.4 354.9 L961.8 354.9 L961.8 362.8 L964.4 362.8 L964.4 354.9 L974.1 354.9 L974.1 339.1 L977.5 339.1 L977.5 354.9 L983.0 354.9 L983.0 339.1 L985.4 339.1 L985.4 331.2 L988.8 331.2 L988.8 339.1 L991.1 339.1 L991.1 331.2 L998.5 331.2 L998.5 347.0 L1002.2 347.0 L1002.2 339.1 L1016.3 339.1 L1016.3 347.0 L1022.1 347.0 L1022.1 339.1 L1027.9 339.1 L1027.9 331.2 L1034.2 331.2 L1034.2 339.1 L1040.0 339.1 L1040.0 347.0 L1045.8 347.0 L1045.8 354.9 L1048.4 354.9 L1048.4 347.0 L1051.8 347.0 L1051.8 339.1 L1059.9 339.1 L1059.9 347.0 L1064.1 347.0 L1064.1 354.9 L1065.4 354.9 L1065.4 347.0 L1068.8 347.0 L1068.8 339.1 L1072.5 339.1 L1072.5 347.0 L1077.2 347.0 L1077.2 354.9 L1079.9 354.9 L1079.9 347.0 L1082.5 347.0 L1082.5 354.9 L1086.4 354.9 L1086.4 362.8 L1095.6 362.8 L1095.6 370.6 L1098.2 370.6 L1098.2 362.8 L1103.5 362.8 L1103.5 378.5 L1109.3 378.5 L1109.3 386.4 L1115.0 386.4 L1115.0 378.5 L1119.5 378.5 L1119.5 370.6 L1120.8 370.6 L1120.8 362.8 L1122.4 362.8 L1122.4 354.9 L1130.5 354.9 L1130.5 362.8 L1141.3 362.8 L1141.3 354.9 L1144.7 354.9 L1144.7 362.8 L1150.0 362.8 L1150.0 347.0 L1151.0 347.0 L1151.0 354.9 L1156.0 354.9 L1156.0 362.8 L1159.2 362.8 L1159.2 370.6 L1162.0 370.6 L1162.0 378.5 L1167.8 378.5 L1167.8 386.4 L1169.9 386.4 L1169.9 370.6 L1178.0 370.6 L1178.0 386.4 L1182.0 386.4 L1182.0 370.6 L1184.9 370.6 L1184.9 354.9 L1194.1 354.9 L1194.1 339.1 L1197.5 339.1 L1197.5 347.0 L1201.9 347.0 L1201.9 354.9 L1207.2 354.9 L1207.2 339.1 L1208.5 339.1 L1208.5 362.8 L1210.1 362.8 L1210.1 354.9 L1215.1 354.9 L1215.1 339.1 L1220.3 339.1 L1220.3 347.0 L1230.0 347.0 L1230.0 339.1 L1232.4 339.1 L1232.4 331.2 L1235.3 331.2 L1235.3 323.4 L1239.2 323.4 L1239.2 315.5 L1246.8 315.5 L1246.8 323.4 L1249.2 323.4 L1249.2 331.2 L1251.3 331.2 L1251.3 323.4 L1260.5 323.4 L1260.5 331.2 L1271.0 331.2 L1271.0 339.1 L1274.1 339.1 L1274.1 354.9 L1276.8 354.9 L1276.8 347.0 L1280.2 347.0 L1280.2 339.1 L1287.2 339.1 L1287.2 347.0 L1288.6 347.0 L1288.6 339.1 L1296.2 339.1 L1296.2 347.0 L1300.4 347.0 L1300.4 339.1 L1303.0 339.1 L1303.0 347.0 L1306.4 347.0 L1306.4 339.1 L1315.1 339.1 L1315.1 347.0 L1317.4 347.0 L1317.4 362.8 L1321.4 362.8 L1321.4 370.6 L1323.5 370.6 L1323.5 378.5 L1326.1 378.5 L1326.1 362.8 L1327.9 362.8 L1327.9 370.6 L1330.6 370.6 L1330.6 362.8 L1341.6 362.8 L1341.6 370.6 L1351.3 370.6 L1351.3 362.8 L1356.6 362.8 L1356.6 370.6 L1363.9 370.6 L1363.9 362.8 L1366.0 362.8" stroke="#000" stroke-width="1.3" fill="none"/><rect x="1189" y="203.1" width="13" height="12.8" fill="#d9d9d9"/><rect x="1189" y="218.8" width="13" height="12.8" fill="#000"/><rect x="1189" y="234" width="13" height="12.8" fill="#00ff00"/><text x="1206.5" y="211.9" font-size="13.8" text-anchor="start" >GNSS predichos</text><text x="1206.5" y="227.2" font-size="13.8" text-anchor="start" >GNSS captados L1</text><text x="1206.5" y="242.6" font-size="13.8" text-anchor="start" >GNSS captados L1 y L2</text><rect x="736" y="465" width="630" height="1" fill="#000"/><rect x="736" y="426" width="630" height="1" fill="#000"/><rect x="736" y="386" width="630" height="1" fill="#000"/><rect x="736" y="347" width="630" height="1" fill="#000"/><rect x="736" y="307" width="630" height="1" fill="#000"/><rect x="736" y="268" width="630" height="1" fill="#000"/><rect x="736" y="229" width="630" height="1" fill="#000"/><rect x="761.5" y="192" width="1.5" height="1.8" fill="#000"/><rect x="761.5" y="500.2" width="1.5" height="1.8" fill="#000"/><rect x="787.8" y="192" width="1.5" height="1.8" fill="#000"/><rect x="787.8" y="500.2" width="1.5" height="1.8" fill="#000"/><rect x="813.8" y="192" width="2" height="3.5" fill="#000"/><rect x="813.8" y="498.5" width="2" height="3.5" fill="#000"/><rect x="840.2" y="192" width="1.5" height="1.8" fill="#000"/><rect x="840.2" y="500.2" width="1.5" height="1.8" fill="#000"/><rect x="866.5" y="192" width="1.5" height="1.8" fill="#000"/><rect x="866.5" y="500.2" width="1.5" height="1.8" fill="#000"/><rect x="892.5" y="192" width="2" height="3.5" fill="#000"/><rect x="892.5" y="498.5" width="2" height="3.5" fill="#000"/><rect x="919" y="192" width="1.5" height="1.8" fill="#000"/><rect x="919" y="500.2" width="1.5" height="1.8" fill="#000"/><rect x="945.2" y="192" width="1.5" height="1.8" fill="#000"/><rect x="945.2" y="500.2" width="1.5" height="1.8" fill="#000"/><rect x="971.2" y="192" width="2" height="3.5" fill="#000"/><rect x="971.2" y="498.5" width="2" height="3.5" fill="#000"/><rect x="997.8" y="192" width="1.5" height="1.8" fill="#000"/><rect x="997.8" y="500.2" width="1.5" height="1.8" fill="#000"/><rect x="1024" y="192" width="1.5" height="1.8" fill="#000"/><rect x="1024" y="500.2" width="1.5" height="1.8" fill="#000"/><rect x="1050" y="192" width="2" height="3.5" fill="#000"/><rect x="1050" y="498.5" width="2" height="3.5" fill="#000"/><rect x="1076.5" y="192" width="1.5" height="1.8" fill="#000"/><rect x="1076.5" y="500.2" width="1.5" height="1.8" fill="#000"/><rect x="1102.8" y="192" width="1.5" height="1.8" fill="#000"/><rect x="1102.8" y="500.2" width="1.5" height="1.8" fill="#000"/><rect x="1128.8" y="192" width="2" height="3.5" fill="#000"/><rect x="1128.8" y="498.5" width="2" height="3.5" fill="#000"/><rect x="1155.2" y="192" width="1.5" height="1.8" fill="#000"/><rect x="1155.2" y="500.2" width="1.5" height="1.8" fill="#000"/><rect x="1181.5" y="192" width="1.5" height="1.8" fill="#000"/><rect x="1181.5" y="500.2" width="1.5" height="1.8" fill="#000"/><rect x="1207.5" y="192" width="2" height="3.5" fill="#000"/><rect x="1207.5" y="498.5" width="2" height="3.5" fill="#000"/><rect x="1234" y="192" width="1.5" height="1.8" fill="#000"/><rect x="1234" y="500.2" width="1.5" height="1.8" fill="#000"/><rect x="1260.2" y="192" width="1.5" height="1.8" fill="#000"/><rect x="1260.2" y="500.2" width="1.5" height="1.8" fill="#000"/><rect x="1286.2" y="192" width="2" height="3.5" fill="#000"/><rect x="1286.2" y="498.5" width="2" height="3.5" fill="#000"/><rect x="1312.8" y="192" width="1.5" height="1.8" fill="#000"/><rect x="1312.8" y="500.2" width="1.5" height="1.8" fill="#000"/><rect x="1339" y="192" width="1.5" height="1.8" fill="#000"/><rect x="1339" y="500.2" width="1.5" height="1.8" fill="#000"/><rect x="738" y="464" width="4" height="3" fill="#000"/><rect x="1360" y="464" width="4" height="3" fill="#000"/><rect x="738" y="425" width="4" height="3" fill="#000"/><rect x="1360" y="425" width="4" height="3" fill="#000"/><rect x="738" y="385" width="4" height="3" fill="#000"/><rect x="1360" y="385" width="4" height="3" fill="#000"/><rect x="738" y="346" width="4" height="3" fill="#000"/><rect x="1360" y="346" width="4" height="3" fill="#000"/><rect x="738" y="306" width="4" height="3" fill="#000"/><rect x="1360" y="306" width="4" height="3" fill="#000"/><rect x="738" y="267" width="4" height="3" fill="#000"/><rect x="1360" y="267" width="4" height="3" fill="#000"/><rect x="738" y="228" width="4" height="3" fill="#000"/><rect x="1360" y="228" width="4" height="3" fill="#000"/><rect x="734" y="187" width="4" height="320" fill="#000"/><rect x="1364" y="187" width="4" height="320" fill="#000"/><rect x="734" y="187" width="634" height="5" fill="#000"/><rect x="734" y="502" width="634" height="5" fill="#000"/><text x="736" y="527.8" font-size="22.1" text-anchor="middle" >0</text><text x="814.8" y="527.8" font-size="22.1" text-anchor="middle" >3</text><text x="893.5" y="527.8" font-size="22.1" text-anchor="middle" >6</text><text x="972.2" y="527.8" font-size="22.1" text-anchor="middle" >9</text><text x="1051" y="527.8" font-size="22.1" text-anchor="middle" >12</text><text x="1129.8" y="527.8" font-size="22.1" text-anchor="middle" >15</text><text x="1208.5" y="527.8" font-size="22.1" text-anchor="middle" >18</text><text x="1287.2" y="527.8" font-size="22.1" text-anchor="middle" >21</text><text x="1366" y="527.8" font-size="22.1" text-anchor="middle" >24</text><text x="1397.5" y="512.3" font-size="22.1" text-anchor="end" >0</text><text x="1397.5" y="472.9" font-size="22.1" text-anchor="end" >5</text><text x="1397.5" y="433.6" font-size="22.1" text-anchor="end" >10</text><text x="1397.5" y="394.2" font-size="22.1" text-anchor="end" >15</text><text x="1397.5" y="354.8" font-size="22.1" text-anchor="end" >20</text><text x="1397.5" y="315.4" font-size="22.1" text-anchor="end" >25</text><text x="1397.5" y="276.1" font-size="22.1" text-anchor="end" >30</text><text x="1397.5" y="236.7" font-size="22.1" text-anchor="end" >35</text><text x="1397.5" y="197.3" font-size="22.1" text-anchor="end" >40</text><text x="0" y="0" font-size="22.1" text-anchor="middle" transform="translate(1428.5 349.5) rotate(-90)">Número de satélites</text><defs><linearGradient id="wmw" x1="0" y1="0" x2="0.25" y2="1"><stop offset="0" stop-color="#fbfbfb"/><stop offset="1" stop-color="#e0e0e0"/></linearGradient></defs><g transform="translate(944.2 774.7) scale(1.018 1)" font-family="Liberation Serif" font-weight="bold" font-size="118.5"><text x="1.2" y="5.2" fill="#cdcdcd">IGN</text><text x="-3.95" y="0" fill="url(#wmw)">IGN</text></g><g clip-path="url(#clip2)" fill="none" stroke-width="2.5" stroke-linejoin="round" stroke-linecap="round"><path d="M956 616l2-1 1 0 1-1 2-1M1092 731l1 0 1 1 2 1 1 0M1211 823l1 1 2 1 1 2 1 1 2 1 1 1 1 1 2 2M1261 870l1 1 2 1 1 1 1 1 2 1 1 1 1 1M802 828l1 1 1 1 2 1M853 875l1 1 1 1M1110 640l1-2 2-1 1-1M1273 748l1 0M774 614l1 0 2 1 1 1 1 0 2 1M954 748l1 1 1 1 2 0 1 1 1 1 2 1 1 1M1102 862l2-1 1 0 1 0 1 0 2-1M1080 710l1 0 1-1M1300 787l2 0M736 650l1 1 2 1 1 1M859 747l2 1 1 0 1 1 2 0M996 866l1-1 1 0 2-1 1-1M1269 604l1 1 2 0 1 1 1 0M830 745l2 1M866 734l1 0 2 1 1 1 1 1 1 0 2 1M967 803l1 1 2 1 1 1 1 1 2 1 1 1 1 1 2 2 1 1M1039 862l1 1 2 1 1 0 1 1 2 1 1 0 1 1M1341 624l1 0 2-1 1 0 1-1 2 0M762 863l2 0 1 0 1-1 2 0 1 0 1 0 1 0M1286 752l1 1 2 1 1 0 1 1 1 0 2 1 1 1M936 721l1-1 1 0M1128 804l2-1 1-1M830 736l2 1 1 0 1 0 2 0M971 858l1-1 2-1 1-1 1-1 2-1 1-1M1250 609l2 1 1 1 1 1 2 1 1 1 1 1 2 2 1 1 1 1 2 1M1286 642l1 2 2 1 1 1 1 1 1 2 2 1 1 1 1 1 2 1 1 2M1122 727l1 1 1 0M1311 830l1-1 2-1M836 615l1 0 1 1 2 0 1 0 1 0M960 711l2 1 1 1 1 0 2 1 1 1 1 1 2 1 1 1M1038 765l1 1 1 1 2 1 1 1 1 0 2 1 1 1 1 1M1165 865l1 1 2 0 1 0 1 0M924 802l1-2 1-1M1316 733l1 0M1009 698l1 0 2-1 1-1 1 0 2-1M1216 780l2 0 1-1 1 0 2-1M845 737l1 1 2 0 1 1 1 0 2 1M1009 852l1 0 2-1 1-1 1 0 2-1M1311 619l1 1 2 1 1 1 1 1 1 1 2 1 1 1 1 1 2 1 1 1 1 1 2 1 1 1 1 1 2 1 1 1 1 1 1 1 2 1 1 2 1 1 2 1 1 1 1 1 2 1 1 1 1 1 2 1 1 1 1 1 2 1 1 1 1 1M899 605l1 1 1 1 2 1 1 1 1 1 2 1 1 1M943 646l2 1 1 2 1 1 2 1 1 1 1 1 2 1M1071 747l1 1 1 1 2 0 1 1M1207 866l1 0 2-1 1-1 1 0M807 864l1 1 2 0 1 1 1 1 1 0 2 1M1107 621l2 0 1 0 1-1 2 0 1 0M1256 730l1 0 1 1 2 1 1 1 1 0 2 1M1346 792l2 1 1 1 1 1 2 1 1 1 1 1 2 1 1 1M942 721l1 0 2 0 1 0 1 0M1127 822l1-1 2-1 1-1 1-1 2-1 1-1 1-1 2-1M798 861l1-1 1 0 2 0 1-1 1 0M1109 618l1 0 1 1 2 1 1 1 1 1 2 1 1 1 1 1M1165 663l1 2 2 1 1 1 1 1 2 1 1 1 1 1 2 1 1 1 1 1M1285 748l1 1 1 0 2 1 1 1 1 0M849 604l1 1M1039 766l1 0 2 1M1160 873l1 0M802 608l1 0 1 0M924 715l1 1M1017 789l1 1 2 1 1 1M1114 877l1 0M765 798l1-1 2-1 1-1 1 0 1-1 2-1M1182 714l2 0 1-1 1 0 2 0 1 0M771 748l2 0M1222 639l1 0 1-1 2-1M741 873l2 0 1 0 1 0 1 0M1017 607l1 0 2 0 1 0 1 0M1131 711l1 1 2 0 1 1 1 1 2 1M1231 789l1 1 1 1 2 1 1 1 1 1M1324 875l1 1 2 0 1 1 1 0M884 754l2 1M1321 654l2-1 1-1M745 728l1 0 2 1 1 1M821 781l2 1 1 1 1 1 2 1M932 867l1 0 1 1M1227 619l1 0 2-1M1054 667l1-1 1-2 2-1 1-1 1-1 2-1 1-2 1-1M1228 761l2 0 1-1 1 0 1 0M783 867l2-1M1054 604l1 1M1247 768l1 1 1 1M1365 874l1 0M757 615l1-1 2 0 1-1 1 0M886 731l1 1 1 0 2 1 1 0M1023 838l2 1 1 1 1 1 2 2 1 1 1 1 2 1 1 2 1 1 2 1 1 2 1 1 1 1 2 1 1 2 1 1 2 1 1 1 1 2 2 1 1 1 1 1 2 1 1 2 1 1 2 1M1329 633l2-1 1-1 1-1 1-2 2-1 1-1M811 792l1 1 1 1 2 1 1 1 1 1M900 875l1 1 2 0 1 1 1 0M1173 617l1-1 2-1 1 0 1-1 2 0M1310 732l1 0 1 1 2 1 1 0M1025 760l1 0M1014 676l2-1 1-1 1-1 2-1 1-1 1-1M1211 765l1 0 2 0 1 0 1 0M779 706l2-1 1 0M1001 782l1-1M963 666l1-1 2-1 1-2 1-1 2-1 1-1 1-1 2-1 1-1 1-2 2-1 1-1M1118 779l1-1 2-1 1 0 1-1 1-1 2 0 1-1M792 770l2-1 1-1 1-1 2-1 1 0 1-1M1222 683l1-1 1-1 2-2 1-1 1-1 2-2 1-1 1-2 1-1 2-2M1363 806l2-1 1-1M984 706l1-1 2-1 1-1 1-1M1173 788l1-1 2-1 1-1 1-1 2-1M1164 614l1 1 1 0M1286 708l1 1 2 1 1 1M1357 758l1 1 1 1 2 1M846 628l2 0 1-1M1012 741l1 0 1 1M1117 814l1 1 1 1 2 1 1 1M1180 864l1 1 1 1M1022 646l1-1 2-1 1 0M1207 751l1 1M904 634l1-1 2-1 1-1M1046 761l1 0M764 838l1-1 1-1M1210 730l1 1 1 0M870 626l1 1 1 2 2 1 1 1 1 1 2 1 1 1 1 1 2 1M1020 733l1 1 1 0 1 1M1195 845l2-1 1-1M771 776l2 0M1148 721l1-1 2 0M1341 804l1-1M807 874l1-1 2-1 1-1 1-1 1 0 2-1 1-1 1-1M1298 756l1 0 1 1 2 1 1 0 1 1M810 724l1 0 1 0M1008 820l1-1 1-1M829 763l1 1 2 1 1 1 1 1 2 0M949 873l1 0 1 0 2 0 1-1M1224 607l2 0 1 0 1 0 2 0M1338 710l2 1 1 1 1 1 2 1M928 617l1 0 1 0 2 0 1 0M1060 718l2 1 1 1 1 1 1 0 2 1 1 1 1 1M1139 773l1 1 2 1 1 1 1 1 2 0 1 1 1 1 1 1 2 1M1256 866l1 0 1 0 2 1 1 0M777 703l1 0 1-1M980 776l1-1M1357 721l1-1 1 0M740 717l1 0 2 0 1 0 1 0 1 0M945 807l1-1 1-1 2-1 1-1 1-1 2-1 1 0M756 757l1 0 1 0 2 0 1 0M1201 658l1-1 1-1 2-1 1-1 1-1 1-1 2-1M870 616l1 0 1 1 2 0 1 1 1 0M962 690l1 1 1 1 2 1 1 1 1 1M1059 758l1 1 2 1 1 1 1 0 1 1 2 1M1189 863l1 0 1 0 2 0 1 0M1105 734l1 0M1265 845l1-1 2-1M979 633l1-1 1 0M1151 745l1 0M1270 828l2 1 1 1 1 1 1 1 2 1 1 1M1308 859l2 0 1 1 1 1 2 1M946 773l1 0 2 0 1-1 1 0" stroke="#55ff00" stroke-width="2.5" fill="none" stroke-linejoin="round" stroke-linecap="round" /><path d="M962 613l1 0 1-1 2 0 1-1M1086 728l2 1 1 1 1 0 2 1M1222 833l1 1 1 1 2 1 1 2 1 1 2 1 1 2 1 1 1 1 2 1 1 2 1 1 2 1M1247 857l1 1 1 2 1 1 2 1 1 1 1 2 2 1 1 1 1 1 2 1 1 1M806 831l1 1 1 2 2 1 1 1 1 1 1 1 2 2 1 1 1 1M842 866l2 1 1 1 1 1 2 2 1 1 1 1 2 1 1 1M1114 636l1-1 2-1 1-1 1-1 2-1 1-1M1269 747l1 0 2 1 1 0M781 617l1 0 1 1 2 1 1 1 1 0 1 1M853 676l1 1 1 1 2 1M963 754l1 0 2 1 1 1 1 1 2 0M1097 862l1 0 2 0 1 0 1 0M1082 709l2 0 1 0 1-1 2 0M1294 791l1-1 1 0 2-1 1-1 1-1M865 749l1 1 1 0 2 1M991 868l1 0 1-1 2 0 1-1M1274 606l1 1 2 1 1 0 1 1M1349 678l1 1M827 745l1 0 1 0 1 0M1233 669l2-2 1-1 1-1 2-1 1-1M861 731l1 1 1 0 2 1 1 1M979 813l1 1 1 1 2 1 1 1 1 1 2 1 1 1 1 1 2 1 1 1M1029 855l1 1 1 1 2 1 1 0 1 1 2 1 1 1 1 1M1348 622l1 0 1-1 2 0 1 0M754 862l2 1 1 0 1 0 2 0 1 0 1 0M1295 757l1 0 2 1 1 1 1 0 2 1 1 1 1 0M938 720l1 0 2-1 1 0M1119 812l2-1 1-1 1-1 1-1 2-2 1-1 1-1M836 737l1 0 1 0 2 0 1 0M963 864l1-1 2-1 1-1 1-1 2-1 1-1M1264 620l1 1 1 2 2 1 1 1 1 1 2 2 1 1 1 1 1 2 2 1 1 1 1 2 2 1 1 1 1 2 2 1 1 1M1124 728l2 0 1 0 1 1 2 0M1303 835l1 0 2-1 1-1 1-1 2-1 1-1M842 616l2 0 1 0 1 1 2 0M953 705l1 1 1 1 1 1 2 1 1 1 1 1M1048 772l2 1 1 1 1 1 2 1 1 1 1 1M1160 864l1 1 2 0 1 0 1 0M916 809l1-2 1-1 2-1 1-1 1-1 2-1M1317 733l2 0 1 0 1 0 2 0M1016 695l1-1 1 0 2-1 1-1 1-1 1-1M1208 784l2 0 1-1 1-1 2 0 1-1 1-1M852 740l1 0 1 1 1 0 2 1 1 0M1002 855l2 0 1-1 1 0 2-1 1-1M908 612l1 1 2 2 1 1 1 1 1 1 2 1 1 2 1 1 2 1 1 1 1 2 2 1 1 1 1 2 2 1 1 1 1 1 2 2 1 1 1 1 2 2 1 1 1 1 1 1 2 2 1 1 1 1M1076 750l1 0 2 1 1 0 1 1M1202 869l1-1 2 0 1-1 1-1M736 806l1 1 2 1M800 860l2 1 1 1 1 1 2 0 1 1M1114 620l1-1 2 0 1 0 1 0M1248 725l1 1 1 1 2 0 1 1 1 1 2 1M1357 800l1 1 1 1 2 1 1 1 1 1 2 1 1 2M947 721l2 0 1 0 1 0 2-1 1 0M1117 830l1-1 1-1 2-1 1-1 1-1 1-1 2-1 1-1M791 862l1 0 2-1 1 0 1 0 2 0M1119 625l2 0 1 1 1 1 1 1 2 1 1 2 1 1 2 1 1 1 1 1 2 1 1 1 1 1 2 1 1 2 1 1 2 1 1 1 1 1 2 1 1 2 1 1 1 1 2 1 1 1 1 1 2 1 1 2 1 1 2 1 1 1 1 1 2 1 1 1 1 1M1291 751l1 1 2 1 1 1 1 0 2 1 1 1M850 605l2 0 1 0 1 1 1 1M1042 767l1 1 1 1 2 1 1 1M1156 874l1 0 2 0 1-1M804 608l2 0 1-1 1 0M918 712l2 1 1 0 1 1 2 1M1021 792l1 1 1 1 2 1 1 1M1109 875l1 0 1 1 2 0 1 1M758 802l2-1 1-1 1 0 2-1 1-1M1189 713l1-1 1 0 2 0M766 746l2 0 1 1 1 0 1 1M1226 637l1-1 1-1 2 0 1-1 1-1M737 873l2 0 1 0 1 0M1022 607l1 0 2 1 1 0M1126 707l1 1 1 1 2 1 1 1M1237 794l2 1 1 1 1 1 2 1 1 1M1319 873l1 1 1 0 2 1 1 0M879 753l1 0 2 1 1 0 1 0M1324 652l1-1 2-1 1-1 1-1 2-1 1-1M739 724l1 0 1 1 2 1 1 1 1 1M827 785l1 1 1 1 1 1 2 0 1 1 1 1 2 1M926 865l2 1 1 0 1 1 2 0M1230 618l1 0 1 0 1 0 2 0M1064 657l1-1 2-2 1-1 1-1 2-1 1-2 1-1 2-1 1-1 1-2M1223 763l1-1 2 0 1-1 1 0M779 869l2-1 1 0 1-1M1055 605l1 0 2 1 1 0 1 1M1249 770l1 1 2 1 1 1 1 1M1361 874l1 0 1 0 2 0M762 613l2-1 1 0 1-1 2-1 1 0M879 729l1 0 2 1 1 0 1 1 2 0M1337 626l1-1 2-1 1-1 1-1 2-1 1-1 1-1M817 797l2 1 1 1 1 1 2 1 1 1M895 873l1 0 1 1 2 1 1 0M1180 614l1-1 1-1 2 0M1304 730l2 0 1 1 1 0 2 1M838 672l2-1 1-2 1-1 2-1 1-1M1021 761l1 0 1-1 2 0M1022 670l1-1 2-1 1-1 1-1 2-1 1-1 1-1 2-1M1205 767l1-1 1 0 1 0 2 0 1-1M782 705l1-1 2 0 1-1 1 0M996 784l1 0 1-1 2 0 1-1M979 652l1-1 1-1 2-2 1-1 1-1 2-1 1-2 1-1 2-1 1-2 1-1 2-1 1-2M1109 785l1-1 1-1 2-1 1-1 1-1 2 0 1-1M785 776l1-2 1-1 1-1 2-1 1-1 1 0M1235 669l1-1 1-2 2-1 1-2 1-2 2-1 1-2 1-2 2-1 1-2 1-2 1-2 2-1 1-2 1-2M1346 828l2-2 1-2 1-1 2-2 1-2 1-2 2-1 1-2 1-1 1-2 2-2 1-1 1-2M989 702l2-1 1 0 1-1 2-1 1-1 1-1M1165 795l1-2 2-1 1-1 1-1 2-1 1-1M736 763l1 1 2 1 1 0 1 1M865 864l1 1 1 0 2 0 1 0M1166 615l2 0 1 0 1 1 2 0M1277 702l1 1 1 1 2 0 1 1 1 1 2 1 1 1M1361 761l1 0 1 1 2 1 1 1M849 627l1 0 2-1 1-1 1 0 1-1M1005 738l1 0 2 1 1 0 1 1 2 1M1122 818l1 1 1 1 2 1 1 1 1 1 2 1 1 1 1 2 2 1 1 1 1 1M1168 856l1 1 1 1 2 1 1 1 1 0 2 1 1 1 1 1 2 1M1026 644l1-1 2-1 1-1 1-1 2-1M1202 750l1 0 2 0 1 1 1 0M908 631l1-1 2-1 1-1 1-1 1-1M1058 744l1 0 1 1 2 0 1 0M844 669l1-1 1-1 2-1 1-1M1040 761l2 0 1 0 1 0 2 0M756 843l1-1 1-1 2-1 1-1 1 0 2-1M1212 731l2 1 1 0 1 0 2 1M1023 735l2 0 1 1 1 0 2 1M1189 849l1-1 1-1 2-1 1 0 1-1M766 779l2 0 1-1 1-1 1-1M1151 720l1 0 1-1 2 0M1332 812l1-1 1-1 2-1 1-1 1-2 2-1 1-1M799 879l1 0 2-1 1-1 1-1 2-1 1-1M1304 759l2 0 1 1 1 0 2 1 1 0M812 724l1 1 2 0 1 0 1 0M1000 826l1-1 1-1 2-1 1-1 1-1 2-1M836 767l1 1 1 1 2 1 1 1M945 873l1 0 1 0 2 0M1230 607l1 0 1 0 1 1M1333 707l1 1 2 1 1 0 1 1M933 617l1 0 2 0 1 0 1 0M1052 713l2 1 1 1 1 0 2 1 1 1 1 1M1151 781l1 1 1 1 2 1 1 1 1 1 2 1M1250 864l2 0 1 1 1 0 2 1M779 702l2-1 1-1 1-1 2-1M976 779l2-1 1-1 1-1M1359 720l2 0 1-1 1 0M746 717l2 0 1 0 1-1M938 812l1-1 2-1 1-1 1-1 2-1M749 757l1 0 2 0 1 0 1 0 2 0M1210 651l1-1 1-1 2-1 1-1 1-1 2-1 1-1 1-1M876 618l2 1 1 1 1 0 2 1 1 1 1 1 2 1M947 679l2 1 1 1 1 1 2 1 1 1M1067 763l1 1 1 1 2 0 1 1 1 1 2 1 1 1M1181 863l1 0 2 0 1 0 1 0 2 0 1 0M1106 734l1 0 2 0 1 0M1257 851l1-1 2-1 1-1 1-1 2-1 1-1M981 632l2-1 1-1 1 0 2-1 1-1M1144 742l2 0 1 1 1 1 1 0 2 1M1278 834l1 2 2 1 1 1 1 1 2 1 1 1 1 1 2 1 1 1 1 1 1 1 2 1 1 1 1 1 2 1 1 2 1 1 2 1 1 1 1 1 2 1 1 1 1 1M941 775l1 0 1-1 2 0 1-1" stroke="#0eff00" stroke-width="2.5" fill="none" stroke-linejoin="round" stroke-linecap="round" /><path d="M967 611l1 0 2-1 1 0 1 0M1081 726l1 1 2 0 1 1 1 0M1239 849l1 2 1 1 2 1 1 2 1 1 2 1M817 842l2 1 1 2 1 1 2 1 1 2 1 1 2 1 1 1 1 2 1 1 2 1 1 2 1 1 2 1 1 1 1 1 2 2 1 1 1 1M1122 630l1-1 1-1 2-1 1-1 1-1M1266 747l2 0 1 0M788 621l2 1 1 1 1 1 2 1 1 1 1 1 2 1 1 1M841 666l1 1 2 1 1 1 1 2 2 1 1 1 1 1 2 1 1 1M970 757l1 1 1 1 2 1 1 0 1 1 2 1M1092 863l1 0 1 0 2-1 1 0M1088 708l1-1 1 0 2-1M1289 794l1-1 1 0 1-1 2-1M869 751l1 0 1 1 1 0 2 1M985 870l2 0 1-1 1 0 2-1M1279 609l2 1 1 1 1 1 2 1 1 1M1341 671l1 2 2 1 1 1 1 1 2 1 1 1M823 744l1 0 1 0 2 1M1240 663l1-2 2-1 1-1 1-1 2-2 1-1M854 728l1 0 2 1 1 1 1 0 2 1M992 823l1 2 2 1 1 1 1 1 1 1 2 1 1 1 1 2 2 1 1 1 1 1 2 1 1 1 1 2 2 1 1 1 1 1 2 1 1 1 1 1 2 1 1 1 1 2 1 1 2 1 1 1 1 1 2 1M1353 621l1-1 2 0 1 0 1 0 1-1M745 860l1 1 2 0 1 0 1 1 2 0 1 0 1 0M1304 761l2 1 1 1 1 1 2 1 1 1 1 1M942 719l1 0 2-1 1 0M1111 820l2-2 1-1 1-1 2-1 1-1 1-2M841 737l1 1 2 0 1 0 1 0M956 868l2 0 1-1 1-1 2-1 1-1M1130 729l1 0 1 0 2 0M1296 840l2-1 1-1 1-1 2-1 1-1M848 617l1 0 1 1 2 0 1 1 1 0M945 700l1 1 1 1 2 1 1 1 1 1 2 0M1056 778l2 0 1 1 1 1 2 1 1 1 1 1 1 1M1153 862l2 1 1 0 1 1 2 0 1 0M736 718l1-1 2 0 1-1M908 816l1-1 2-2 1-1 1-1 1-1 2-1M1323 733l1 1 1 0M1023 690l2 0 1-1 1-1 2-1 1-1 1-1M1201 789l1-1 1-1 2 0 1-1 1-1 1-1M858 742l1 1 2 0 1 1 1 0M996 858l1 0 1-1 2-1 1 0 1-1M1081 752l1 0 2 1 1 0 1 1M1197 871l1-1 1 0 2-1 1 0M739 808l1 1 1 1 2 2 1 1 1 1 1 1 2 1 1 1 1 1 2 1 1 2M788 852l2 1 1 1 1 1 2 1 1 1 1 1 2 1 1 1 1 0M1119 619l2 0 1 0 1 0 1-1 2 0M1241 722l2 0 1 1 1 1 2 0 1 1M954 720l1 0 1 0 2 0 1 0M1105 839l1-1 1-1 2-1 1-1 1-1 2-1 1-1 1-1 2-1M785 862l1 0 1 0 1 0 2 0 1 0M1299 756l1 0 2 1 1 1 1 0 2 1 1 1M855 607l2 0 1 1 1 0 2 1M1047 771l1 1 2 0 1 1 1 1M1152 873l1 0 2 1 1 0M808 607l2 1 1 0 1 0M913 708l1 1 2 1 1 1 1 1M1026 796l1 1 2 1 1 1 1 1 2 1M1105 873l1 1 1 0 2 1M749 809l1-1 2-1 1-1 1-1 2-1 1-1 1-1M1193 712l1-1 1 0 2 0 1-1 1 0M761 744l1 1 2 0 1 0 1 1M1232 633l1-1 2 0 1-1 1-1 2 0M736 873l1 0M1026 608l1 0 2 0 1 0 1 1M1121 704l1 1 1 0 1 1 2 1M1244 799l1 1 2 1 1 1 1 2 1 1 2 1M1312 869l2 1 1 1 1 1 1 0 2 1M875 753l1 0 2 0 1 0M1332 646l1 0 1-1 2-1 1-1 1-1M736 722l1 1 2 1M836 791l1 1 1 1 2 1 1 1 1 1 2 1M920 862l1 1 1 0 2 1 1 0 1 1M1235 618l1 0 1 0 2 0M1361 720l1 1 1 0 2 1 1 1M1077 644l2-1 1-1 1-2 1-1 2-1 1-2 1-1 2-1 1-2 1-1M1218 765l1-1 1 0 2-1 1 0M775 870l2 0 1-1 1 0M1060 607l2 0 1 1 1 0M1254 774l2 0 1 1 1 1M1357 874l1 0 1 0 2 0M769 610l1 0 1-1 2 0 1-1M874 727l1 0 1 1 2 0 1 1M1346 619l2-1 1-1 1-1 2-1 1-1 1-1M824 802l1 1 2 2 1 1 1 1 1 1 2 1M888 868l2 1 1 1 1 1 2 1 1 1M1184 612l1-1 1 0 2-1 1 0M1300 728l2 1 1 0 1 1M845 666l1-1 2-2 1-1 1-1 2-1 1-2M1017 762l1 0 2-1 1 0M1033 662l1-1 1-1 2-1 1-1 1-1 1-1 2-1 1-1M1198 768l1 0 2 0 1-1 1 0 2 0M787 703l1-1 2 0 1-1 1 0M991 787l1-1 1 0 2-1 1-1M996 635l1-1 1-1 2-2 1-1 1-1 2-2 1-1 1-2 2-1 1-1 1-2 2-1 1-2M1100 793l1-2 1-1 2-1 1-1 1-1 1-1 2-1M777 784l1-2 1-1 2-2 1-1 1-1 2-1M1254 644l2-2 1-2 1-1 2-2 1-2 1-2 2-2 1-2 1-1 2-2 1-2 1-2 2-2 1-2 1-2 1-2 2-1 1-2 1-2 2-2 1-2 1-2 2-2 1-2 1-1 2-2 1-2 1-2 1-2 2-2 1-2 1-2M1298 898l1-2 1-2 2-2 1-2 1-2 2-2 1-2 1-2 2-1 1-2 1-2 2-2 1-2 1-2 1-2 2-2 1-2 1-2 2-2 1-1 1-2 2-2 1-2 1-2 2-2 1-2 1-2 1-2 2-2 1-1 1-2 2-2 1-2 1-2 2-2 1-1 1-2M997 697l1-1 2-1 1-2 1-1 2-1M1156 803l1-1 2-1 1-2 1-1 2-1 1-1 1-1M741 766l2 1 1 1 1 1 1 1 2 1M859 864l2 0 1 0 1 0 2 0M1172 616l1 0 1 1 2 0 1 1M1270 697l2 1 1 1 1 1 1 1 2 1M855 624l2 0 1-1 1 0 2 0M1000 735l1 1 1 0 2 1 1 1M1136 830l2 1 1 1 1 1 2 1 1 1 1 1 2 2 1 1 1 1 1 1 2 1 1 1 1 1 2 1 1 1 1 1 2 2 1 1 1 1 2 1 1 1 1 1 1 1 2 1M1033 639l1-1 1 0 2-1 1-1 1-1M1197 748l1 1 1 0 2 0 1 1M914 626l2-1 1-1 1-1 2-1 1-1M1055 744l1 0 2 0M849 665l1-1 2 0 1-1 1-1 1-1 2-1M1037 761l1 0 1 0 1 0M749 847l1-1 2-1 1-1 1 0 2-1M1218 733l1 0 1 0 2 1M1029 737l1 0 1 0 2 1M1184 851l1 0 1-1 2-1 1 0M762 782l2-1 1-1 1-1M1155 719l1 0 1-1 2 0M1324 820l1-1 2-2 1-1 1-1 2-1 1-2M790 886l1-1 1-1 2-1 1-1 1-1 2-1 1-1M1311 761l1 1 2 1 1 1 1 0 1 1M817 725l2 0 1 0 1 0M992 832l1-1 2-1 1-1 1-1 1-1 2-1M841 771l1 1 2 0 1 1 1 1M939 873l2 0 1 0 1 0 2 0M1233 608l2 0 1 0 1 0 2 1M1327 702l1 1 1 1 2 1 1 1 1 1M938 617l1 0 2 1 1 0 1 0 2 0M1044 708l2 1 1 0 1 1 2 1 1 1 1 1M1159 787l1 1 1 1 2 1 1 1 1 1 1 1 2 1M1243 861l1 0 1 1 2 0 1 1 1 0 1 1M785 698l1-1 1-1 1 0 2-2M971 782l1-1 2-1 1-1 1 0M1363 719l2 0 1-1M750 716l2 0 1 0 1 0 2-1M928 820l1-2 1-1 2-1 1-1 1-1 2-1 1-1 1 0M743 757l1 0 1 0 1 0 2 0 1 0M1220 643l2-1 1-1 1-1 2-1 1-1 1-1 2-1 1-1M886 624l1 0 1 1 2 1 1 1 1 1 2 1 1 1 1 1 1 1M933 666l1 2 2 1 1 1 1 1 1 1 2 1 1 2 1 1 2 1 1 1 1 1M1076 769l1 1 2 0 1 1 1 1 1 1 2 1M1174 862l2 0 1 0 1 1 2 0 1 0M1110 734l1 1 2 0 1 0M1250 856l2-1 1-1 1-1 2-1 1-1M988 628l1 0 2-1 1 0 1-1M1139 740l1 0 2 1 1 0 1 1M744 687l1-1 1-1 2 0 1-1 1-1M934 778l2-1 1 0 1-1 1 0 2-1" stroke="#00ff39" stroke-width="2.5" fill="none" stroke-linejoin="round" stroke-linecap="round" /><path d="M972 610l2-1 1 0 1 0 2-1M1077 725l2 0 1 1 1 0M1128 625l2-1 1-1 1-1 2-1 1-1M1261 747l1 0 2 0 1 0 1 0M799 629l1 1 2 1 1 1 1 1 2 1 1 1 1 1 2 1 1 1 1 2 1 1 2 1 1 1 1 1 2 2 1 1 1 1 2 1 1 2 1 1 2 1 1 1 1 1 1 2 2 1 1 1 1 1 2 1 1 2 1 1 2 1 1 1M978 762l1 1 1 0 1 1 2 1 1 1M1085 862l1 1 2 0 1 0 1 0 2 0M1092 706l1 0 1-1 2 0 1-1M1281 800l1-1 1-1 2-1 1-1 1-1 2-1M874 753l1 0 1 1 2 0 1 1M980 872l1 0 2-1 1 0 1-1M1286 614l1 1 2 1 1 1 1 1 1 1 2 1M1332 662l1 2 1 1 2 1 1 2 1 1 2 1 1 1M819 744l1 0 1 0 2 0M1248 655l1-1 1-1 2-2 1-1 1-1 2-2 1-1 1-1M736 619l1 0M848 724l1 1 1 1 2 0 1 1 1 1M1359 619l2 0 1 0 1 0 2 0 1 0M736 855l1 1 2 1 1 0 1 1 2 1 1 1 1 0M1312 767l2 1 1 1 1 1 1 1 2 1 1 2 1 1 2 2 1 1 1 2 2 2 1 2 1 2 2 3 1 2 1 3 1 3M1352 837l1 3 1 2 2 2 1 2 1 2 1 2 2 1 1 1 1 2 2 1 1 1M946 718l1-1 2 0 1-1M1101 830l1-1 2-2 1-1 1-1 1-1 2-2 1-1 1-1M846 738l2 0 1 0 1 0M950 873l1-1 2-1 1-1 1-1 1-1M1134 729l1 1 1 0 2 0 1 0M1289 845l1-1 1-1 1 0 2-1 1-1 1-1M854 619l1 1 2 0 1 1 1 0 2 1M936 693l1 1 1 1 1 1 2 1 1 1 1 1 2 1M1065 784l2 1 1 1 1 1 2 1 1 1 1 1 2 1M1147 859l1 1 1 1 2 0 1 1 1 0M740 716l1 0 2-1 1 0M899 825l1-1 1-2 2-1 1-1 1-2 2-1 1-1M1325 734l2 0 1 0 1 0 2 0M1031 685l2-1 1-1 1-1 2-1 1-1 1-1M1194 794l1-1 2-1 1-1 1-1 2-1M863 744l2 1 1 0 1 1 2 0 1 1M989 860l2 0 1-1 1 0 2 0 1-1M1086 754l2 0 1 1 1 0M1191 872l2 0 1 0 1-1 2 0M753 821l1 1 2 1 1 1 1 1 2 2 1 1 1 1 2 1 1 1 1 2 2 1 1 1 1 1 1 1 2 2 1 1 1 1 2 1 1 1 1 2 2 1 1 1 1 1 2 1 1 1 1 1 1 1M1126 618l1 0 1 0 2 0 1 1M1235 718l1 1 1 0 2 1 1 1 1 1M959 720l1-1 2 0 1 0 1-1M1096 846l1-1 1-1 2-1 1-1 1-1 2-1 1-1M778 862l1 0 2 0 1 0 1 0 2 0M1307 760l1 0 2 1 1 1 1 0M861 609l1 1 1 1 2 1 1 0M926 676l2 1 1 1 1 1 2 1 1 1M1052 774l2 1 1 1 1 1 2 1M1148 873l1 0 2 0 1 0M812 608l1 0 2 0 1 0 1 0M908 705l1 1 2 1 1 0 1 1M1033 801l1 1 1 2 2 1 1 1 1 1M1098 869l2 1 1 1 1 0 2 1 1 1M740 816l1-1 2-1 1-1 1-1 1-1 2-1 1-1M1199 710l2-1 1 0 1-1 2 0M756 743l1 0 1 0 2 1 1 0M1239 630l1-1 1-1 2-1 1 0 1-1M1031 609l2 0 1 0 1 1 2 0M1115 700l2 1 1 1 1 1 2 1M1252 806l1 1 1 1 2 2 1 1 1 1 2 2M1306 864l1 2 1 1 2 1 1 0 1 1M870 752l1 0 1 0 2 0 1 1M1338 642l2-1 1-1 1-1 2-1 1-1 1 0M844 797l1 1 1 1 2 1 1 2 1 1 2 1 1 1M913 858l1 1 2 1 1 1 1 0 2 1M1239 618l1 0 1 0 2 0 1 0M1353 715l1 1 2 1 1 0 1 1 1 1 2 1M1090 631l2-1 1-2 1-1 2-1 1-2 1-1 2-1 1-2M1212 768l2-1 1-1 1 0 2-1M770 872l1-1 2 0 1-1 1 0M1064 608l1 1 2 1 1 0 1 1M1135 680l1 1 2 1 1 1M1258 776l2 1 1 1 1 1 2 1 1 1M1352 873l1 0 1 0 2 0 1 1M774 608l1 0 2 0 1-1 1 0M870 726l1 0 1 1 2 0M1354 613l2-1 1-1 1-1 1-1 2 0M832 809l1 2 1 1 2 1 1 1 1 2 2 1 1 1M880 862l2 1 1 1 1 1 2 1 1 1 1 1M1189 610l1 0 1-1 2 0 1-1M1295 726l1 1 2 0 1 1 1 0M853 658l1-1 1-1 2-1 1-2 1-1 2-1 1-2 1-1M1013 764l1-1 2 0 1-1M1043 654l1-1 2-1 1-1 1-2 2-1 1-1 1-1 2-1M1193 770l1 0 1-1 2 0 1-1M792 701l2-1 1-1 1 0 2-1M984 791l1-1 2-1 1 0 1-1 2-1M1013 617l1-1 2-2 1-1 1-2 2-1 1-2 1-2 1-1 2-2 1-2 1-1 2-2 1-2 1-2 2-2 1-1 1-2 2-2 1-2M1039 898l1-2 2-3 1-2 1-2 2-2 1-3 1-2 2-2 1-3 1-2 2-3 1-3 1-2 2-3 1-3 1-3 2-2 1-3 1-3 1-3 2-3 1-2 1-3 2-3 1-2 1-3 2-3 1-2 1-2 2-3 1-2 1-2 1-2 2-3 1-2 1-1 2-2 1-2 1-2 2-2 1-1 1-2 2-1 1-2 1-1 2-1M736 866l1-3 2-2 1-3 1-3 2-3 1-3 1-3 1-4 2-3 1-3 1-3 2-3 1-4 1-3 2-3 1-3 1-3 2-3 1-2 1-3 2-2 1-3 1-2 2-2 1-3 1-2 1-1 2-2 1-2 1-2 2-1M1004 691l1-1 1-1 2-2 1-1 1-1 2-2M1146 815l1-2 1-1 1-2 2-1 1-2 1-1 2-1 1-2M748 771l1 0 1 1 2 1 1 1 1 1 2 1M854 863l1 0 2 1 1 0 1 0M1177 618l1 0 2 1 1 0 1 1 2 1M1261 690l1 1 2 1 1 1 1 1 2 1 1 1 1 1M861 623l1-1 1 0 2-1 1 0M995 733l1 1 1 0 1 1 2 0M1039 635l1-1 2 0 1-1 1-1 2-1 1-1M1191 747l2 1 1 0 1 0 2 0M921 621l1-1 2-1 1-1 1-1M1050 743l1 0 1 1 2 0 1 0M857 660l1-1 1-1 2-1 1-1 1-1 2-1M1031 761l2 0 1 0 1 0 2 0M743 851l1-1 1-1 1-1 2 0 1-1M1222 734l1 0 1 0 2 0 1 1M1033 738l1 0 1 1 2 0 1 0M1177 855l1-1 2-1 1 0 1-1 2-1M756 787l1-1 1-1 2-1 1-1 1-1M1159 718l1-1 1 0 2-1M1314 830l1-1 1-2 1-1 2-1 1-1 1-2 2-1 1-1M736 724l1-1M775 897l2-1 1-1 1-1 2-2 1-1 1-1 2-1 1-1 1 0 1-1 2-1M1317 765l2 1 1 1 1 1 2 1 1 1 1 2 2 1 1 2 1 1 2 2 1 2 1 3M1359 863l2 1 1 2 1 1 2 2 1 1M821 725l2 0 1 0 1 0 2 0M983 838l1-1 1-1 2 0 1-1 1-1 2-1 1-1M846 774l2 1 1 1 1 1 2 1M934 872l2 0 1 0 1 1 1 0M1239 609l1 0 1 0 2 1 1 0M1321 698l2 1 1 1 1 1 2 1M945 618l1 1 1 0 2 0 1 1 1 0M1037 702l1 1 1 1 1 1 2 1 1 1 1 1M1168 794l1 1 1 1 2 1 1 1 1 1 2 1 1 1M1235 856l1 1 1 1 2 0 1 1 1 1 2 1M790 694l1-1 1-1 2-1 1-1M966 786l1-1 1-1 2-1 1-1M756 715l1 0 1 0 2 0 1-1 1 0M918 827l2-1 1-1 1-1 2-1 1-1 1-1 2-1M737 758l2-1 1 0 1 0 2 0M1231 635l1 0 1-1 2-1 1-1 1-1 2-1 1-1M897 632l2 2 1 1 1 1 2 1 1 1 1 1 2 2 1 1 1 1 2 1 1 2 1 1 1 1 2 2 1 1 1 1 2 2 1 1 1 1 2 1 1 2 1 1 2 1 1 2 1 1 2 1 1 1M1084 774l1 1 1 1 2 1 1 1 1 1M1168 860l1 0 1 1 2 0 1 0 1 1M1114 735l1 0 2 0 1 0M1244 861l1-1 2-1 1-1 1-1 1-1M993 626l2-1 1 0 1-1 1 0 2-1M1134 738l1 0 1 1 2 0 1 1M750 683l2-1 1-1 1-1 2-1 1-1 1-1M929 780l1 0 2-1 1-1 1 0" stroke="#00ff80" stroke-width="2.5" fill="none" stroke-linejoin="round" stroke-linecap="round" /><path d="M978 608l1 0 1 0 1-1M1073 723l2 1 1 0 1 1M1135 620l1-1 2-1 1-1 1-1 2-1M1257 747l1 0 2 0 1 0M984 766l1 0 2 1 1 1 1 1M1080 862l1 0 1 0 2 0 1 0M1097 704l1 0 2-1 1 0 1-1M1274 804l1-1 2-1 1-1 1 0 2-1M879 755l1 0 2 1 1 0M975 874l1-1 2 0 1 0 1-1M1294 620l1 1 1 2 2 1 1 1 1 2 2 1 1 2 1 1 2 1 1 2M1319 648l1 1 1 2 2 1 1 2 1 1 2 2 1 1 1 2 2 1 1 1M815 744l1 0 1 0 2 0M1258 645l2-1 1-2 1-1 2-1 1-2 1-1 2-1 1-2M737 619l2 0 1 0 1 0 2 0M842 722l2 0 1 1 1 1 2 0M1334 797l2 3 1 3 1 3 2 3 1 4 1 3 2 3 1 3 1 4 2 3 1 3 1 3 2 2M950 716l1 0 2-1 1-1 1 0M1090 841l2-2 1-1 1-1 2-2 1-1 1-1 2-2 1-1M850 738l2-1 1 0 1 0 1 0M945 876l1-1 1-1 2 0 1-1M1139 730l1 0 2 0 1 0M1281 850l1-1 1 0 2-1 1-1 1-1 2-1M861 622l1 1 1 0 2 1 1 1 1 1M928 687l1 1 1 1 2 1 1 1 1 1 2 1M1075 791l1 1 1 1 2 1 1 2 1 1 1 1M1139 855l1 1 2 0 1 1 1 1 2 1 1 0M744 715l1-1 1-1 2 0 1-1M888 836l2-2 1-1 1-1 2-2 1-1 1-1 1-2 2-1M1331 734l1-1 1 0 1 0M1039 679l1-1 2-1 1-1 1-2 2-1 1-1 1-1M1186 800l2-1 1-1 1-1 1-1 2-1 1-1M870 747l1 0 1 1 2 0 1 1M984 862l1-1 2 0 1 0 1-1M1090 755l2 1 1 0 1 1M1186 874l2-1 1 0 1 0 1-1M1131 619l1 0 2 0 1 0 1 0M1228 714l2 1 1 1 1 0 1 1 2 1M964 718l2 0 1 0 1-1 2 0M1086 853l2-1 1-1 1-1 2-1 1-1 1-1 2-1M773 862l1 0 1 0 2 0 1 0M1312 762l2 1 1 1 1 1 1 1 2 0M866 612l1 1 2 1 1 1 1 1 1 1M920 670l1 1 1 1 2 1 1 2 1 1M1058 778l1 1 1 1 2 1M1143 872l1 0 2 0 1 1 1 0M817 608l2 1 1 0 1 0M903 701l1 1 1 1 2 1 1 1M1039 807l1 1 2 2 1 1 1 1 2 1M1093 865l1 1 2 1 1 1 1 1M736 819l1-1 2-1 1-1M1205 708l1-1 1 0 1-1 2-1M1359 824l2-2 1-1 1-1 2-1 1-1M752 742l1 0 1 0 2 1M1245 626l2 0 1-1 1-1 1 0M1037 610l1 1 1 0 1 1M1110 696l1 1 2 1 1 1 1 1M1260 814l1 1 1 1 2 2 1 1 1 2 2 1 1 2M1296 856l2 1 1 2 1 1 2 1 1 1 1 1 2 1M865 752l1 0 1 0 2 0 1 0M1346 637l2-1 1-1 1-1 2-1 1-1 1-1M853 805l1 1 1 1 2 1 1 1 1 1 2 2 1 1 1 1M903 851l1 1 1 1 2 1 1 1 1 1 2 1 1 0 1 1M1244 618l1 0 2 0 1 1 1 0M1346 711l2 1 1 1 1 0 2 1 1 1M1101 620l1-1 2-1 1-2 1-1 1-1 2-2 1-1 1-1M1207 771l1-1 2 0 1-1 1-1M766 872l2 0 1 0 1 0M1069 611l2 1 1 1 1 1 2 1 1 1M1128 674l2 1 1 1 1 2 2 1 1 1M1265 781l1 1 2 1 1 1 1 1M1348 871l1 1 1 0 2 1M779 607l2 0 1 0 1-1 2 0M865 724l1 0 1 1 2 0 1 1M1361 609l1-1 1-1 2-1 1-1M841 818l1 2 2 1 1 2 1 1 2 2 1 1 1 2 2 1 1 2M870 852l1 1 1 1 2 2 1 1 1 1 2 2 1 1 1 1M1194 608l1 0 2 0 1 0 1-1M1291 725l1 0 2 1 1 0M863 648l2-1 1-2 1-1 2-1 1-2 1-1 1-1 2-2M1009 765l1 0 2-1 1 0M1054 645l1-1 1-1 2-1 1-2 1-1 2-1 1-1 1-1M1188 773l1-1 1-1 1 0 2-1M798 698l1-1 1-1 2 0 1-1M978 795l1 0 1-1 1-1 2-1 1-1M1012 683l1-1 1-1 2-2 1-1 1-2 2-1M1134 829l1-2 1-2 2-1 1-2 1-1 2-2 1-1 1-2 2-1M756 776l1 1 1 1 2 1 1 1 1 0M849 862l1 0 2 0 1 1 1 0M1184 621l1 0 1 1 2 1 1 1 1 0M1253 684l1 1 2 1 1 1 1 1 2 1 1 1M866 621l1 0 2-1 1 0 1 0M989 731l2 0 1 1 1 0 2 1M1047 630l1 0 2-1 1-1 1-1 2 0M1188 747l1 0 1 0 1 0M926 617l2-1 1-1 1-1 2-1 1 0M1046 743l1 0 1 0 2 0M865 654l1-1 1-1 2-2 1-1 1-1 1-1 2-1M1027 762l2 0 1 0 1-1M736 854l1 0 2-1 1-1 1-1 2 0M1227 735l1 0 2 0 1 0 1 1M1365 854l1-1M1038 739l1 1 1 0 2 0 1 1M1170 858l2-1 1 0 1-1 2-1 1 0M750 792l2-2 1-1 1-1 2-1M1163 716l1 0 1-1 1-1 2 0M1303 841l1-2 2-1 1-1 1-2 2-1 1-1 1-2 2-1M737 723l2-1 1-2 1-1 2-2 1-3 1-3 1-3 2-5 1-5 1-7 2-9 1-11 1-12 2-13 1-12 1-10 2-8 1-6 1-5 2-4 1-4 1-2 2-3 1-2 1-2 1-2 2-1 1-2M1333 783l1 3 2 3 1 3 1 4 2 4 1 5 1 5 2 5 1 5 1 6 2 5 1 5 1 5 2 4 1 4 1 3 2 3 1 3 1 2 1 3M827 725l1 0 1 0 1 0M975 844l1-1 2-1 1-1 1-1 1-1 2-1M852 778l1 1 1 1 1 1 2 1M930 871l2 0 1 1 1 0M1244 610l1 1 2 0 1 1M1316 694l1 1 2 1 1 1 1 1M951 620l2 1 1 0 1 1 1 1M1030 697l1 1 2 1 1 1 1 1 2 1M1177 801l1 2 2 1 1 1 1 1 2 1 1 2 1 1 2 1M1226 849l1 1 1 1 2 1 1 1 1 1 1 1 2 1M795 690l1-1 2-1 1-1 1-1 2-2M959 792l1-2 2-1 1-1 1-1 2-1M762 714l2-1 1 0 1-1M909 835l2-2 1-1 1-1 1-1 2-1 1-1 1-1M736 758l1 0M1240 629l1-1 2-1 1-1 1-1 2-1 1-1M1361 759l1-1 1 0 2 0 1 0M1090 779l2 1 1 1 1 1 2 1 1 1 1 1M1161 856l2 1 1 1 1 0 1 1 2 1M1118 735l1 0 2 0 1 0M1239 865l1-1 1-1 2-1 1-1M1000 623l1 0 1-1 2 0 1-1M1128 736l2 1 1 0 1 0 2 1M758 677l2-1 1-1 1-1 2-1 1-1 1-2M924 783l1 0 1-1 2-1 1-1" stroke="#00ffc6" stroke-width="2.5" fill="none" stroke-linejoin="round" stroke-linecap="round" /><path d="M981 607l2 0 1 0 1 0 2 0M1069 721l2 1 1 1 1 0M1142 615l1-1 1-1 2-1 1-1M1254 747l2 0 1 0M989 769l2 1 1 1 1 0 2 1 1 1M1075 860l1 1 1 0 2 0 1 1M1102 702l2-1 1 0 1-1 1-1M1266 811l2-1 1-1 1-1 2-2 1-1 1-1M883 756l1 1 2 0 1 1M971 874l1 0 2 0 1 0M1307 634l1 1 2 2 1 2 1 1 2 2 1 1 1 2 1 1 2 2M811 744l1 0 1 0 2 0M1269 634l1-1 2-1 1-1 1-2 1-1 2-1 1-2M743 619l1 0 1 0 1 0 2 0M837 719l1 1 2 0 1 1 1 1M955 714l1-1 2-1 1-1M1081 850l1-1 2-2 1-1 1-1 2-2 1-1 1-1M855 737l2 0 1 0 1 0M939 879l2-1 1 0 1-1 2-1M1143 730l1 0 2 1 1 0 1 0M1275 854l2-1 1-1 1-1 2-1M867 626l2 1 1 0 1 1 1 1 2 1 1 2M920 679l1 2 1 1 2 1 1 1 1 2 2 1M1082 798l2 1 1 1 1 1 2 2 1 1 1 1 2 2M1131 849l1 1 2 1 1 1 1 1 2 1 1 1M749 712l1-1 2-1 1-1M878 847l1-2 1-1 2-2 1-1 1-1 2-2 1-1 1-1M1334 733l2 0 1 0M1048 671l2-1 1-2 1-1 2-1 1-2 1-1 2-1M1178 807l2-1 1-1 1-1 2-2 1-1 1-1M875 749l1 0 2 1 1 0M979 863l1 0 1-1 2 0 1 0M1094 757l2 0 1 1 1 0 2 1M1182 874l2 0 1 0 1 0M1136 619l2 0 1 1 1 0 2 0M1223 711l1 0 2 1 1 1 1 1M970 717l1-1 1 0 2-1 1 0M1079 860l1-1 1-1 1-1 2-2 1-1 1-1M768 860l1 1 1 0 1 0 2 1M1319 766l1 1 1 1 2 1 1 1M872 617l2 2 1 1 1 1 2 1 1 2M912 661l1 2 1 1 2 2 1 1 1 1 2 2M1062 781l1 1 1 1 1 1 2 1M1139 870l1 1 2 0 1 1M821 609l2 1 1 0 1 1M899 698l1 1 1 1 2 1M1046 813l1 2 1 1 2 2 1 1 1 1 2 2 1 1M1085 858l1 1 2 2 1 1 1 1 2 1 1 1M1210 705l1 0 1-1 2-1 1 0M1350 832l2-1 1-2 1-1 2-1 1-1 1-1 1-1M746 740l2 1 1 0 1 0 2 1M1250 624l2-1 1-1 1 0 2-1 1 0M1040 612l2 0 1 1 1 1 2 1M1105 691l1 2 1 1 2 1 1 1M1269 824l1 1 2 2 1 1 1 2 1 1 2 2 1 1 1 2 2 2 1 1 1 2 2 2 1 1 1 2 2 1 1 2 1 1 1 2 2 1 1 2 1 1M861 752l1 0 1 0 2 0M1354 631l2 0 1-1 1-1 1-1 2-1M863 814l2 1 1 1 1 2 2 1 1 1 1 1 1 2 2 1 1 1 1 1 2 2 1 1 1 1 2 2 1 1 1 1 2 1 1 2 1 1 2 1 1 1 1 2 2 1 1 1 1 1 1 1 2 2 1 1 1 1 2 1M1249 619l1 0 2 0 1 1 1 0M1341 707l1 1 2 1 1 1 1 1M1111 610l2-2 1-1 1-2 2-1 1-1 1-2 2-1M1203 775l2-2 1-1 1-1M762 873l2 0 1 0 1-1M1076 616l1 1 2 1 1 1 1 1 1 2M1122 667l1 2 1 1 2 1 1 2 1 1M1270 785l2 1 1 1 1 1M1344 870l1 0 1 1 2 0M785 606l1 0 1 0 1 0 2 0M861 722l1 1 1 0 2 1M853 832l1 1 1 2 2 1 1 2 1 1 2 2 1 2 1 1 2 2 1 1 1 2 2 1 1 2M1199 607l2 0 1 0 1 0M1287 723l2 1 1 0 1 1M874 637l1-1 1-1 2-2 1-1 1-1 2-2 1-1M1005 767l1 0 2-1 1-1M1064 636l1-2 2-1 1-1 1-1 2-1 1-2 1-1 2-1M1182 776l2-1 1-1 1-1 2 0M803 695l1-1 2-1 1-1 1 0 2-1M971 800l1-1 2-1 1-1 1-1 2-1M1020 675l1-2 1-2 1-1 2-2 1-2 1-1 2-2M1117 851l1-2 1-2 2-1 1-2 1-2 1-2 2-1 1-2 1-2 2-1 1-2 1-2 2-1M762 780l2 1 1 1 1 1 2 1 1 1M842 859l2 1 1 0 1 1 2 0 1 1M1190 624l1 1 2 1 1 1 1 1 2 1M1245 677l2 1 1 1 1 2 1 1 2 1 1 1M871 620l1-1 2 0 1 0 1 0M984 728l1 1 2 1 1 0 1 1M1054 627l1-1 1-1 2-1 1 0M1182 746l2 0 1 0 1 1 2 0M933 613l1-1 2-1 1-1 1-1M1043 743l1 0 2 0M874 646l1-1 1-1 2-1 1-1 1-1 2-1M1022 763l1 0 2 0 1-1 1 0M1232 736l1 0 2 0 1 0M1358 858l1-1 2-1 1 0 1-1 2-1M1043 741l1 0 2 0 1 1 1 0M1165 860l1-1 2 0 1-1 1 0M744 798l1-2 1-1 2-1 1-1 1-1M1168 714l1-1 1-1 2-1M1294 850l1-1 1-2 2-1 1-1 1-2 2-1 1-1M830 725l2 0 1 0 1 0 2 0M968 849l2-1 1-1 1-1 2-1 1-1M857 782l1 1 1 1 2 1 1 1M925 869l1 0 2 1 1 0 1 1M1248 612l1 1 1 0 2 1 1 1M1311 690l1 1 2 1 1 1 1 1M956 623l2 0 1 1 1 1 2 1 1 0M1023 692l2 1 1 1 1 1 2 1 1 1M1188 811l1 1 1 2 1 1 2 1 1 2 1 1 2 1 1 2 1 1 2 1 1 2 1 1 2 1 1 2 1 1 1 2 2 1 1 1 1 2 2 1 1 1 1 2 2 1 1 1 1 1 2 2 1 1 1 1 2 1M802 684l1-1 1-1 2-2 1-1 1-1M954 796l1-1 1-1 2-1 1-1M766 712l2 0 1-1 1 0 1-1M900 842l1-1 2-1 1-1 1-1 2-1 1-1 1-1M1248 623l1-1 1-1 2-1 1-1 1-1 2-1M1356 760l1-1 1 0 1 0 2 0M1098 785l2 1 1 1 1 1 2 2 1 1 1 1M1155 852l1 1 1 1 2 1 1 1 1 0M1122 735l1 0 1 0 2-1M1232 870l1-1 2-1 1-1 1-1 2-1M1005 621l1 0 2-1 1 0 1 0M1124 735l2 0 1 1 1 0M766 670l2-1 1-1 1-1 1-1 2-1 1-2 1-1M917 788l1-1 2-1 1-1 1-1 2-1" stroke="#00f1ff" stroke-width="2.5" fill="none" stroke-linejoin="round" stroke-linecap="round" /><path d="M987 607l1 0 1 0 2 0M1065 720l2 0 1 1 1 0M1147 611l1-1 1-1 2-1 1-1M1250 748l2 0 1 0 1-1M996 773l1 1 1 1 2 1 1 1M1069 858l2 1 1 1 1 0 2 0M1107 699l2-1 1-1 1 0 2-1M1260 816l1-1 1-1 2-1 1-1 1-1M887 758l1 0 2 1 1 0M967 875l1 0 2-1 1 0M808 744l2 0 1 0M1278 625l1-1 2-1 1-2 1-1 2-1 1-2M748 619l1 0 1 0 2 1 1 0M832 716l1 1 1 0 2 1 1 1M959 711l1 0 2-1 1-1M1072 860l1-2 2-1 1-1 1-2 2-1 1-2 1-1M859 737l2-1 1 0 1 0M934 882l2-1 1 0 1-1 1-1M1148 731l1 0 2 0 1 0M1269 858l1-1 2-1 1-1 1-1 1 0M875 632l1 1 2 1 1 1 1 1 2 2 1 1 1 1 2 2M908 667l1 2 2 1 1 1 1 2 1 1 2 2 1 1 1 1 2 1M1092 807l1 1 1 1 2 2 1 1 1 2 2 1 1 1 1 2 2 1 1 2 1 1M1117 834l1 2 1 1 2 2 1 1 1 1 1 2 2 1 1 1 1 1 2 2 1 1M753 709l1 0 2-1 1-1M869 856l1-1 1-1 1-2 2-1 1-2 1-1 2-1M1337 733l1 0 2 0 1-1M1058 662l1-2 1-1 2-2 1-1 1-2 1-1 2-2M1170 816l2-2 1-1 1-1 2-2 1-1 1-2M879 750l1 1 2 0 1 1 1 0M974 864l1 0 1-1 2 0 1 0M1100 759l1 1 1 0M1178 875l2-1 1 0 1 0M1142 620l1 1 1 0 2 1 1 0M1218 707l1 1 1 1 2 1 1 1M975 715l1-1 2 0 1-1 1-1M1071 866l1-1 1-1 2-1 1-1 1-1 2-1M761 857l1 1 2 1 1 0 1 1 2 0M1324 770l1 1 2 1 1 1 1 1 2 1M879 624l1 1 2 1 1 2 1 1 2 2 1 1 1 2 2 1 1 2 1 1 2 2 1 1 1 2 1 2 2 1 1 2 1 1 2 2 1 2 1 1 2 2 1 1 1 2 2 1 1 1M1067 785l1 1 1 1 2 1M1135 869l1 0 2 1 1 0M825 611l2 0 1 1 1 1 1 0M894 694l1 1 1 1 1 1 2 1M1055 823l1 2 2 1 1 2 1 1 2 2 1 1 1 2 1 2 2 1 1 2 1 1 2 2 1 2 1 1 2 2 1 1 1 2 2 1 1 2 1 1 1 1 2 2 1 1M1215 703l1-1 2-1 1-1 1-1M1341 840l1-1 2-1 1-1 1-2 2-1 1-1 1-1M743 740l1 0 1 0 1 0M1257 621l1-1 2 0 1-1M1046 615l1 1 1 1 2 1 1 1M1100 686l1 2 1 1 2 1 1 1M736 625l1-1 2-1M857 752l1 0 1 0 2 0M1361 627l1-1 1-1 2 0 1-1M1254 620l2 1 1 0 1 0 2 1M1336 704l1 1 1 1 2 1 1 0M1121 600l1-2 1-1 1-2 2-1 1-2 1-1M1198 779l1-1 2-1 1-1 1-1M758 873l2 0 1 0 1 0M1082 622l2 1 1 1 1 1 2 2 1 1 1 2M1113 657l1 2 1 1 2 2 1 1 1 2 2 1 1 1M1274 788l1 1 2 1 1 1 1 2M1338 867l2 1 1 1 1 0 2 1M790 606l1 0 1 0 2 0M857 720l1 1 1 1 2 0M1203 607l2 0 1-1 1 0M1283 722l2 0 1 1 1 0M883 628l1-1 2-2 1-1 1-1 2-2 1-1 1-1M1001 770l1-1 2-1 1-1M1075 626l1-1 1-1 2-2 1-1 1-1 1-2 2-1M1177 779l1-1 2-1 1-1 1 0M810 691l1-1 1-1 1-1 2-1M966 805l1-1 1-2 2-1 1-1M1029 663l1-2 1-2 2-2 1-1 1-2 2-2 1-2 1-2 1-2 2-2 1-2 1-2M1086 892l2-2 1-1 1-2 2-2 1-2 1-2 2-2 1-1 1-2 2-2 1-2 1-2 2-1 1-2 1-2 1-2 2-2 1-1 1-2 2-2 1-2 1-2 2-1M769 785l1 1 1 2 2 1 1 1M837 856l1 1 2 1 1 0 1 1M1197 629l1 1 1 1 2 1 1 1 1 2 2 1 1 1 1 1M1235 667l1 1 1 2 2 1 1 1 1 1 2 2 1 1 1 1M876 619l2 0 1-1 1 0M980 727l1 0 2 1 1 0M1059 624l1-1 2-1 1 0 1-1 1-1M1178 746l2 0 1 0 1 0M938 609l1-1 2 0 1-1M1039 743l1 0 2 0 1 0M882 640l1-1 1-1 2-1 1-1 1-1 2-1M1018 764l2 0 1-1 1 0M1236 736l1 0 2 1 1 0M1353 860l1 0 2-1 1-1 1 0M1048 742l2 0 1 1 1 0M1160 862l1-1 2 0 1-1 1 0M737 805l2-2 1-1 1-2 2-1 1-1M1172 711l1 0 1-1 2-1M1285 860l1-2 1-1 2-1 1-2 1-1 1-2 2-1M836 725l1 0 1-1 2 0M962 853l1-1 1 0 2-1 1-1 1-1M862 786l1 1 2 1 1 2M921 866l1 1 2 1 1 1M1253 615l1 1 2 1 1 1 1 1M1304 683l2 2 1 1 1 1 2 2 1 1M963 626l1 1 2 1 1 1 1 1 2 1M1016 685l1 1 1 1 2 2 1 1 1 1 1 1M808 678l2-2 1-1 1-2 1-1 2-1M947 803l2-1 1-2 1-1 2-1 1-2M771 710l2 0 1-1 1-1 2 0M891 850l1-1 2-1 1-1 1-1 1-1 2-1 1-2M1256 617l1 0 1-1 2-1 1-1 1-1M1352 761l1 0 1-1 2 0M1106 792l1 2 2 1 1 1 1 2 2 1 1 2M1147 845l1 1 1 1 2 2 1 1 1 1 2 1M1126 734l1 0 1 0 2 0M1228 873l2-1 1-1 1-1M1010 620l2-1 1 0 1 0 2-1M1119 733l2 1 1 0 1 0 1 1M775 662l2-1 1-1 1-2 2-1 1-1 1-1M912 792l1-1 1-1 2-1 1-1" stroke="#00aaff" stroke-width="2.5" fill="none" stroke-linejoin="round" stroke-linecap="round" /><path d="M991 607l1 0 1 0 2 0M1062 718l1 0 1 1 1 1M1152 607l1-1 2-1 1-1M1247 749l1-1 1 0 1 0M1001 777l1 1 2 1 1 1 1 2M1064 856l1 0 2 1 1 1 1 0M1113 696l1-1 1-1 2-1 1-1M1252 824l1-1 1-2 2-1 1-1 1-1 2-2M891 759l1 1 2 0 1 1M963 875l1 0 2 0 1 0M804 744l2 0 1 0 1 0M1286 617l1-1 2-1 1-2 1-1 1-2 2-1M753 620l1 0 2 1 1 0M827 712l1 1 1 1 1 1 2 1M963 709l1-1 2-1 1-1M1064 868l1-1 2-2 1-1 1-2 2-1 1-1M863 736l2 0 1-1 1 0 2 0 1-1M926 887l2-1 1-1 1 0 2-1 1-1 1-1M1152 731l1 0 2 0 1-1M1264 861l1-1 1-1 2-1 1 0M886 642l1 1 1 1 2 2 1 1 1 2 2 1 1 2 1 1 1 2 2 2 1 1 1 2 2 1 1 2 1 1 2 2 1 1M1106 822l1 2 2 1 1 2 1 1 2 2 1 1 1 2 2 1M757 707l1-1 2-1 1-1M859 866l2-1 1-1 1-2 2-1 1-2 1-1 2-2M1341 732l1 0 2 0 1 0M1067 651l1-1 1-2 2-2 1-1 1-2 2-1 1-2 1-2 2-2 1-1 1-2 1-2 2-2 1-1 1-2 2-2 1-2 1-2M1151 841l1-1 1-2 2-2 1-2 1-2 2-1 1-2 1-2 2-2 1-1 1-2 1-2 2-1 1-2 1-1M884 752l2 1 1 0 1 1M970 864l1 0 1 0 2 0M1102 760l2 1 1 0 1 1M1174 875l2 0 1 0 1 0M1147 622l1 1 1 0 2 1 1 1M1212 703l2 1 1 1 1 1 2 1M980 712l1 0 2-1 1-1 1-1 2-1 1-1M1059 877l1-2 2-1 1-1 1-1 1-1 2-1 1-2 1-1 2-1M750 849l2 2 1 1 1 1 2 1 1 1 1 1 2 1 1 0M1331 775l1 1 1 1 1 2 2 1 1 2 1 1 2 2 1 1M1071 788l1 1 1 1 2 1 1 2M1131 866l1 1 2 1 1 1M830 613l2 1 1 1 1 1M890 690l1 2 1 1 2 1M1220 699l2-1 1-1 1-1 2-1M1332 849l1-1 1-1 2-1 1-2 1-1 2-1 1-2M739 739l1 0 1 0 2 1M1261 619l1 0 2-1 1 0 1-1M1051 619l1 1 2 1 1 2 1 1M1093 679l1 1 2 2 1 2 1 1 2 1M739 623l1-1 1 0 2-1 1-1M853 752l1 0 1 0 2 0M1260 622l1 1 1 0 2 1M1331 700l1 1 1 1 1 1 2 1M1128 591l2-2 1-2 1-1 2-2M1135 897l1-1 2-2 1-2 1-2 2-2 1-2M1189 791l1-2 1-2 2-1 1-2 1-2 2-1 1-2M754 873l2 1 1 0 1-1M1090 630l2 1 1 2 1 1 2 2 1 2 1 1 2 2 1 1 1 2 2 2 1 1 1 2 1 2 2 1 1 2 1 1 2 2M1279 793l2 1 1 1 1 2M1334 864l2 1 1 1 1 1M794 606l1 0 1 1 2 0 1 0 1 1M850 717l2 0 1 1 1 1 1 1 2 0M1207 606l1 0 2 0 1 0M1279 720l2 0 1 1 1 1M892 619l2-2 1-1 1-2 1-1 2-1 1-2M997 772l1-1 2 0 1-1M1084 617l1-1 1-1 2-2 1-1 1-2 2-1 1-1 1-2 2-1 1-2 1-1M1166 788l2-1 1-1 1-2 2-1 1-1 1-1 2-1 1-1M815 687l1-1 1-1 2-1 1-2M958 812l1-2 1-1 2-1 1-1 1-1 2-1M1044 640l2-2 1-2 1-2 2-2 1-2 1-2 2-2 1-2 1-2 2-2 1-2 1-2 2-2 1-2 1-2 1-2 2-2 1-2 1-2 2-2 1-2 1-2 2-2 1-2 1-2 2-1 1-2 1-2M1082 898l2-2 1-2 1-2M774 790l1 1 2 1 1 1 1 1 2 2 1 1M832 853l1 1 1 0 2 1 1 1M1207 638l1 2 2 1 1 1 1 1 2 2 1 1 1 2 2 1 1 1 1 2 2 1 1 2 1 1 2 1 1 2 1 1 2 2 1 1 1 1 1 2 2 1M880 618l2 0 1 0 1 0 2 0M976 725l2 1 1 0 1 1M1065 620l2 0 1-1 1-1M1174 745l2 0 1 0 1 1M942 607l1-1 2-1 1-1 1 0M1037 743l1 0 1 0M890 634l1-1 1-1 2-1 1-2 1-1M1014 765l2 0 1 0 1-1M1240 737l1 0 2 0 1 0M1348 863l1-1 1-1 2 0 1-1M1052 743l2 0 1 1 1 0M1156 863l1 0 2-1 1 0M736 806l1-1M1176 709l1-1 1-1 2-1M1277 868l1-1 1-2 2-1 1-2 1-1 2-1M840 724l1 0 1 0 2 0M955 858l1-1 2-1 1-1 1-1 2-1M866 790l1 1 2 1 1 2 1 1M916 862l1 1 1 1 2 1 1 1M1258 619l2 2 1 1 1 1 2 2M1299 677l1 2 2 1 1 2 1 1M970 631l1 2 1 1 2 1 1 1 1 2 2 1 1 1M1006 675l2 1 1 2 1 1 2 2 1 1 1 1 2 2M815 671l1-2 1-2 2-1 1-2 1-1 2-2 1-2M939 812l2-1 1-2 1-1 2-2 1-1 1-2M777 708l1-1 1-1 2-1M883 858l1-2 2-1 1-1 1-1 2-1 1-2M1262 613l2-1 1-1 1-1 2-1 1-1 1-1 2-1 1-1M1344 764l1 0 1-1 2-1 1 0 1-1 2 0M1114 801l1 2 2 1 1 2 1 2 2 2 1 1 1 2 1 2 2 2 1 2 1 2 2 2 1 1 1 2 2 2 1 2 1 2 2 2 1 1 1 2 2 2 1 1 1 2 2 1 1 2M1130 734l1 0 1 0M1223 876l1-1 2 0 1-1 1-1M1016 618l1 0 1 0 2-1M1115 732l2 0 1 1 1 0M783 655l2-2 1-1 1-1 1-2 2-1 1-2 1-1M905 797l2-1 1-1 1-1 2-1 1-1" stroke="#0063ff" stroke-width="2.5" fill="none" stroke-linejoin="round" stroke-linecap="round" /><path d="M995 607l1 1 1 0 1 0M1058 715l1 1 1 1 2 1M1156 604l1-1 2-1 1-1 1-1M1244 749l1 0 2 0M1006 782l2 1 1 1 1 1 2 2 1 1M1059 852l1 1 2 1 1 1 1 1M1118 692l1-1 2-1 1-1M1244 832l1-2 2-1 1-1 1-2 1-1 2-1M895 761l1 1 1 0 2 1M959 875l1 0 2 0 1 0M802 744l1 0 1 0M1294 609l1-1 1-2 2-1 1-1 1-2M757 621l1 1 2 0 1 1 1 1M821 708l2 2 1 1 1 1 2 0M967 706l1-1 2-2 1-1M1056 877l2-2 1-1 1-2 2-1 1-1 1-2M870 734l1 0 1-1 2 0 1-1 1 0 2-1 1-1M916 894l1-1 1-1 2-1 1-1 1-1 2 0 1-1 1-1M1156 730l1 0 2 0 1 0M1258 864l2-1 1-1 1-1 2 0M761 704l1-2 2-1 1-1M852 875l1-1 1-2 1-1 2-2 1-1 1-2M1345 732l1-1 2 0M1090 620l2-2 1-2 1-1 2-2 1-2 1-2 2-2 1-2 1-2 2-2 1-2 1-2 1-2 2-2 1-2 1-2 2-2 1-3M1115 897l2-2 1-2 1-2 2-2 1-2 1-2 1-2 2-3 1-2 1-2 2-2 1-2 1-2 2-2 1-2 1-2 2-2 1-3 1-2 2-2 1-2 1-2 2-2 1-2 1-2 1-2 2-2M888 754l2 0 1 1 1 1 2 0M964 864l2 0 1 0 1 0 2 0M1106 762l1 1 2 0 1 1M1170 874l2 0 1 0 1 1M1152 625l1 1 2 1 1 1 1 1 2 1M1206 697l1 1 1 1 2 1 1 2 1 1M988 707l1-1 2-1 1-1 1-1 2-2 1-1 1-2 1-1 2-2 1-2M1042 896l1-2 1-1 2-2 1-2 1-1 2-2 1-1 1-2 2-1 1-1 1-2 2-1 1-1M736 828l1 2 2 2 1 3 1 2 2 2 1 2 1 2 1 2 2 1 1 2 1 1M1341 786l1 2 2 2 1 2 1 2 2 2 1 2 1 2 2 3 1 2 1 3 2 2 1 3 1 2 1 3 2 3 1 2 1 3 2 2 1 3M1076 793l1 1 2 1 1 2 1 1M1126 862l1 1 1 1 2 1 1 1M834 616l2 1 1 1 1 1M884 685l2 1 1 2 1 1 2 1M1226 695l1-1 1-1 2-1 1-1M1323 859l1-1 1-2 2-1 1-2 1-1 2-1 1-2M736 738l1 0 2 1M1266 617l2 0 1 0 1-1M1363 738l2 0 1 0M1056 624l2 1 1 2 1 2 2 1 1 2M1086 670l2 2 1 2 1 2 2 1 1 2M744 620l1-1 1 0 2-1 1-1M849 752l1 0 2 0 1 0M1264 624l1 1 1 0 2 1 1 1M1325 695l2 1 1 1 1 2 2 1M1143 886l1-2 2-2 1-2 1-3 1-2 2-2 1-3 1-2 2-3 1-3 1-3 2-3 1-3 1-3 2-3 1-3 1-3 1-4 2-3 1-3 1-3 2-3 1-4 1-3 2-3 1-3 1-2 2-3 1-3 1-2 2-3 1-2 1-2 2-2 1-2M750 873l2 0 1 0 1 0M1283 797l2 1 1 1 1 2 2 1M1329 860l2 1 1 1 1 1 1 1M800 608l2 0 1 1 1 1 2 1 1 1 1 1 2 2 1 1M840 706l1 2 1 1 2 2 1 1 1 2 2 1 1 1 1 1M1211 606l1 1 2 0 1 0M1275 718l2 0 1 1 1 1M900 610l1-1 2-2 1-1 1-2 2-1M993 776l2-2 1-1 1-1M1098 602l2-2 1-1 1-2 2-2 1-1 1-2 1-2 2-2 1-1 1-2M1113 898l1-3 1-2 2-2 1-2 1-3 2-2M1151 811l1-2 1-3 2-2 1-2 1-2 2-2 1-2 1-2 2-1 1-2 1-1 1-2M820 682l1-1 2-1 1-1 1-1M951 818l2-1 1-1 1-2 1-1 2-1M782 797l1 1 2 2 1 1 1 1 1 2M824 846l1 1 2 1 1 1 1 2 1 1 2 1M886 618l1 0 1 0 2 0M971 722l1 1 2 1 1 0 1 1M1069 618l2 0 1-1 1 0 2-1M1170 745l2 0 1 0 1 0M947 604l2-1 1-1 1-1M1033 744l1-1 1 0 2 0M896 628l1-1 2-1 1-1 1-1 2-1 1-1M1010 767l2-1 1 0 1-1M1244 737l1 0 2 0 1 1M1344 864l1 0 1-1 2 0M1056 744l2 0 1 1 1 0M1151 865l1-1 1 0 2 0 1-1M1180 706l1-1 1-1 2-2M1269 877l1-2 2-1 1-2 1-1 1-2 2-1M844 724l1-1 1 0 2 0M950 862l1-1 2-1 1-1 1-1M871 795l1 2 2 1 1 2 1 2 2 1M911 857l1 1 1 2 1 1 2 1M1264 625l1 1 1 2 2 1 1 2 1 2 2 2M1291 666l1 2 2 2 1 2 1 2 2 1 1 2M979 640l1 2 1 1 2 2 1 2 1 1 2 2 1 2 1 1 2 2 1 2 1 1 2 2 1 2 1 2 1 1 2 2 1 2 1 1 2 2 1 1 1 2M824 659l1-1 2-2 1-2 1-1 1-2 2-2 1-1M932 822l1-1 1-2 2-2 1-1 1-2 1-2M781 705l1 0 1-1 2-1 1-1M875 865l1-1 2-1 1-2 1-1 2-1 1-1M1273 605l1-1 1-2 2-1 1-1 1-1 2-1 1-1 1-2 2-1 1-2 1-1M1332 773l1-1 1-2 2-1 1-1 1-1 2 0 1-1 1-1 2-1M1132 734l2-1 1 0 1 0M1219 879l1-1 2-1 1-1M1020 617l1 0 1 0 1 0 2 0M1111 730l2 1 1 0 1 1M792 645l2-1 1-2 1-1 2-2 1-1 1-2 2-1 1-2M899 804l1-1 1-2 2-1 1-1 1-2" stroke="#001cff" stroke-width="2.5" fill="none" stroke-linejoin="round" stroke-linecap="round" /><path d="M998 608l2 1 1 0 1 1 2 0 1 1M1051 711l1 1 2 1 1 1 1 1 2 0M1161 600l2-1 1 0 1-1M1241 750l2-1 1 0M1013 788l1 2 2 1 1 2 1 1 2 2 1 2 1 2 1 2 2 2 1 2 1 2M1043 833l1 2 2 2 1 2 1 2 2 1 1 2 1 1 2 2 1 1 1 1 2 2 1 1M1122 689l1-1 1-1 2-2 1-1M1235 841l1-1 1-1 2-2 1-1 1-2 2-1 1-1M899 763l1 1 1 1 2 1 1 1 1 1M953 873l1 0 1 1 1 0 2 0 1 1M798 745l1 0 1-1 2 0M1300 602l2-1 1-2 1-1 2-2 1-1M762 624l2 0 1 1 1 1 2 1 1 1 1 2 1 1 2 1M812 699l1 2 2 1 1 2 1 1 2 1 1 1 1 1M971 702l1-1 2-1 1-2M1048 886l2-2 1-1 1-2 2-1 1-2 1-1M879 730l1-1 2-1 1-1 1-2 2-1 1-2 1-3 2-4 1-5 1-7 2-10M899 619l1-11 1-6 2-5 1-4 1-3 2-2 1-2 1-1 2-2M912 897l1-1 1-1 2-1M1160 730l1 0 2 0M1253 867l1-1 2-1 1-1 1 0M765 700l1-1 2-2 1-1 1-2M842 886l2-2 1-1 1-2 2-1 1-2 1-1 2-2M1348 731l1-1 1 0M894 756l1 1 1 1 1 0 2 1 1 1M956 862l2 1 1 0 1 0 2 1 1 0 1 0M1110 764l1 1 2 1 1 1 1 1 2 1M1164 872l1 1 1 0 2 0 1 1 1 0M1159 630l1 1 1 1 2 2 1 1 1 2 1 1 2 2 1 2 1 1M1193 680l1 2 1 2 2 2 1 1 1 2 2 2 1 1 1 2 2 1 1 2M1001 693l1-2 2-2 1-3 1-3 2-3 1-3 1-3 2-4 1-4 1-5 2-4 1-5 1-5 2-5 1-6 1-5 1-5 2-4 1-5 1-4 2-4 1-4 1-3 2-4 1-3 1-2 2-3 1-2 1-3 1-2M1081 798l1 2 2 1 1 2 1 2M1121 857l1 1 1 2 1 1 2 1M838 619l2 1 1 2 1 1 2 2M879 679l1 2 2 1 1 2 1 1M1231 691l1-2 1-1 2-1 1-2 1-1 2-2 1-1 1-2M1306 879l1-2 1-2 2-1 1-2 1-1 2-2 1-1 1-2 1-1 2-2 1-1 1-2 2-1M1270 616l2 0 1 0 1-1 1 0M1359 737l2 0 1 1 1 0M1063 632l1 2 1 2 2 2 1 2 1 2 2 2 1 3 1 2 2 2 1 2 1 2 2 3 1 2 1 2 1 2 2 2 1 2 1 2M749 617l1-1 2-1 1 0 1-1M845 753l1-1 2 0 1 0M1269 627l1 1 2 1 1 1 1 1 1 2M1319 689l1 1 1 1 2 2 1 1 1 1M748 873l1 0 1 0M1289 802l1 2 1 2 1 1 2 2 1 2M1324 854l1 2 2 1 1 1 1 2M811 616l1 2 1 3 2 2 1 3 1 4 2 4 1 4 1 6 2 5 1 6 1 6 2 6 1 6 1 5 1 5 2 5 1 4 1 3 2 3 1 3 1 3 2 2M1215 607l1 0 2 1 1 0 1 1 2 0M1269 713l1 1 2 1 1 1 1 1 1 1M907 603l1-2 1-1 2-1 1-2 1-2 1-1M988 780l1-1 2-1 1-1 1-1M1121 884l1-3 1-3 1-2 2-3 1-3 1-4 2-3 1-3 1-3 2-4 1-3 1-4 2-3 1-4 1-3 2-4 1-3 1-3 2-3 1-3 1-3 1-3 2-3M825 678l2-2 1-1 1-1 1-2 2-1M943 827l2-2 1-1 1-2 2-1 1-2 1-1M788 804l2 1 1 2 1 1 2 2 1 1 1 2 2 2 1 1 1 2 2 2M812 833l1 1 2 2 1 1 1 2 2 1 1 2 1 1 2 2 1 1M890 618l1 0 1 1 2 0M967 720l1 1 2 1 1 0M1075 616l1-1 1 0 2-1 1 0M1166 745l2 0 1 0 1 0M951 601l2-1 1 0 1-1M1030 744l1 0 2 0M904 622l1-1 2-1 1-1 1-2M1006 769l2-1 1-1 1 0M1248 738l1 0 1 0 2 0M1338 866l2 0 1-1 1 0 2-1M1060 745l2 0 1 1 1 0M1147 866l1-1 1 0 2 0M1184 702l1-1 1-1 2-2M1261 886l1-2 2-1 1-2 1-1 2-2 1-1M848 723l1-1 1 0 2 0M945 865l1-1 1-1 2 0 1-1M878 803l1 2 1 2 2 2 1 2 1 3 2 2 1 2 1 3 2 2 1 2 1 3 2 2 1 3 1 2 1 2 2 3 1 2 1 2 2 2 1 2 1 2 2 2 1 2 1 1 2 2M1272 635l1 2 1 2 1 2 2 2 1 2 1 2 2 2 1 3 1 2 2 2 1 2 1 2 2 2 1 2 1 2M833 648l1-2 2-2 1-2 1-2 2-1 1-2 1-2 2-2 1-2 1-2 2-1 1-2 1-2M918 841l2-2 1-2 1-2 2-2 1-2 1-2 2-1 1-2 1-2 2-2M786 702l1-1 1-1 2-1 1-2 1-1 2-1 1-2M862 879l1-2 2-1 1-2 1-1 2-1 1-2 1-1 1-1 2-2 1-1M1287 591l2-2 1-1 1-2 1-2M1294 897l1-3 1-2 2-3 1-3 1-4 2-4 1-5 1-5 2-6 1-7 1-7 2-8 1-7 1-8 2-7 1-6 1-6 1-5 2-4 1-4 1-4 2-3 1-2 1-3 2-2 1-2 1-1 2-2 1-1M1136 733l2-1 1 0M1215 882l1-1 2-1 1-1M1025 617l1 0 1 0 2 0M1107 729l2 0 1 1 1 0M803 633l1-1 2-2 1-2 1-1 2-2 1-1 1-2 1-2 2-1 1-2 1-2 2-1 1-2 1-2 2-2 1-1 1-2 2-2M886 821l1-2 1-2 2-2 1-2 1-1 2-2 1-1 1-2 1-1 2-2" stroke="#2a00ff" stroke-width="2.5" fill="none" stroke-linejoin="round" stroke-linecap="round" /><path d="M1005 611l1 1 2 1 1 2 1 1 2 2 1 1 1 2M1042 700l1 2 1 2 2 1 1 2 1 1 2 2 1 1M1165 598l1-1 2-1 1-1M1237 751l2 0 1-1 1 0M1027 808l2 2 1 2 1 2 2 2 1 2 1 3 2 2 1 2 1 2 1 2 2 2 1 2M1127 684l1-1 2-2 1-1 1-1 2-2M1226 852l1-2 1-1 2-2 1-1 1-2 1-1 2-2M905 768l2 1 1 1 1 2 2 1 1 2 1 2M943 866l2 1 1 2 1 1 2 1 1 1 1 0 2 1M795 745l1 0 2 0M1307 595l1-2 2-1 1-2 1-1 2-2M773 632l1 2 1 1 2 2 1 2 1 2 2 2 1 2 1 3 2 2 1 2 1 3 1 3 2 2 1 3 1 3 2 3 1 2 1 3 2 3 1 2 1 3 2 2 1 2 1 3 2 2 1 2 1 1 2 2 1 2 1 1M975 698l1-1 2-2 1-1M1042 894l1-2 1-1 2-2 1-2 1-1M1163 730l1 0 1 0 1 0M1249 869l1-1 2-1 1 0M770 694l1-1 2-2 1-2M836 894l1-1 1-2 2-2 1-1 1-2M1350 730l2 0 1-1 1 0M900 760l1 1 2 1 1 1 1 1 2 2 1 1 1 2 2 1 1 2M945 854l1 2 1 1 2 1 1 1 1 1 2 1 1 0 1 1 1 0M1117 769l1 1 1 1 2 2 1 1 1 2 1 2 2 2M1155 864l1 2 1 1 2 2 1 1 1 0 2 1 1 1M1170 643l2 2 1 2 1 2 2 2 1 3 1 2 2 2 1 2 1 3 2 2 1 2 1 2 2 3 1 2 1 2 1 2 2 2M1086 805l2 2 1 1 1 2 2 2 1 2M1114 849l1 2 2 1 1 2 1 2 2 1M844 625l1 1 1 2 2 1 1 2 1 2M872 670l2 2 1 2 1 1 2 2 1 2M1241 679l2-2 1-2 1-2 2-2 1-2 1-2 1-2 2-2 1-3 1-2 2-3 1-2 1-3 2-3 1-3M1278 607l1-2 2-3 1-2 1-3 2-2 1-2 1-3 2-2 1-2 1-2M1292 897l2-2 1-2 1-2 2-2 1-2 1-2 2-1 1-2 1-2 2-1M1275 615l2 0 1-1 1 0M1356 736l1 0 1 1 1 0M754 614l2-1 1-1 1 0 2-1M841 753l1 0 2 0 1 0M1275 633l2 1 1 1 1 2 2 1 1 2M1311 680l1 1 2 2 1 1 1 2 1 1 2 2M744 872l1 0 1 0 2 1M1295 811l1 2 2 1 1 2 1 2 2 2 1 2 1 3 2 2M1314 839l1 2 1 2 1 2 2 2 1 2 1 2 2 1 1 2M1222 609l1 1 1 1 2 1 1 1 1 1 2 2 1 2M1260 703l1 2 1 2 2 1 1 2 1 1 2 1 1 1M914 594l2-2 1-1 1-2 2-1 1-2M984 785l1-2 2-1 1-2M832 671l1-1 1-2 2-1 1-2 1-1 2-2M934 837l2-1 1-2 1-1 1-2 2-1 1-2 1-1M802 820l1 1 1 2 2 2 1 1 1 2 2 2 1 1 1 2M894 619l1 0 1 0 1 1 2 0M963 718l1 1 2 0 1 1M1080 614l1-1 1 0 2-1M1164 745l1 0 1 0M955 599l1-1 2-1 1 0M1026 745l1-1 2 0 1 0M909 617l2-1 1-1 1-1 1-1 2-1M1002 771l2-1 1-1 1 0M1252 738l1 0 1 0 2 0M1334 868l2-1 1 0 1-1M1064 746l1 0 2 1 1 0M1143 866l1 0 2 0 1 0M1188 698l1-1 1-2 1-1M1254 894l2-2 1-1 1-2 2-2 1-1M852 722l1-1 1 0M939 869l2-1 1-1 1-1 2-1M850 624l2-2 1-2 1-2 1-2 2-1 1-2 1-2 2-2 1-2 1-2 2-2 1-1 1-2 2-2 1-2 1-2 1-2 2-2 1-2 1-1 2-2M879 898l1-2 2-2 1-2 1-2 2-2 1-2 1-1 2-2 1-2 1-2 2-2 1-2 1-2 1-2 2-2 1-2 1-2 2-1 1-2 1-2 2-2 1-2 1-2 2-2 1-2 1-2 1-2 2-2 1-2 1-1M795 693l1-1 2-2 1-1 1-2 2-2 1-2 1-2 2-2 1-2 1-3M844 589l1-2 1-2M848 898l1-2 1-2 2-2 1-2 1-2 1-1 2-2 1-2 1-1 2-2 1-1M1139 732l1 0 2-1 1 0M1211 884l1 0 2-1 1-1M1029 617l1 0 1 0 2 0M1104 727l1 1 1 0 1 1M827 603l1-2 1-2 1-2 2-2 1-1 1-2 2-2 1-2 1-2 2-3M841 896l1-2 2-2 1-2 1-2 2-2 1-3 1-2 2-2 1-2 1-3 1-2 2-2 1-3 1-2 2-3 1-2 1-2 2-3 1-2 1-2 2-3 1-2 1-2 1-3 2-2 1-2 1-2 2-2 1-2 1-3 2-2 1-2 1-1 2-2" stroke="#7100ff" stroke-width="2.5" fill="none" stroke-linejoin="round" stroke-linecap="round" /><path d="M1014 621l2 3 1 2 1 3 2 3 1 4 1 4 1 4 2 5 1 5 1 5 2 5 1 5 1 4 2 5 1 4 1 4 2 3 1 3 1 3 1 2 2 3M1169 595l1-1 2-1 1-1 1-1 2-1 1-2M1231 754l1-1 1 0 2-1 1 0 1-1M1134 677l1-1 1-2 2-1 1-2 1-2 2-1 1-2 1-2 2-2 1-2M1205 878l1-2 1-1 1-2 2-2 1-2 1-1 2-2 1-2 1-1 2-2 1-1 1-2 2-2 1-1 1-2 2-1M913 777l1 2 2 3 1 3 1 3 2 3 1 4 1 5 2 5 1 5 1 6 2 6 1 5 1 6 2 5 1 5 1 4 2 4 1 3 1 3 1 3 2 2 1 2 1 2M788 747l2 0 1-1 1 0 2 0 1-1M1314 587l1-2 1-1M1317 897l2-2 1-2 1-2 2-1 1-2 1-2 2-2M979 694l1-2 1-2 2-2 1-1 1-2 2-3 1-2 1-2M1027 600l2-3 1-2 1-2 2-2 1-2 1-1 2-2 1-2M1039 897l1-1 2-2M1166 730l2-1 1 0 1 0 2 0 1-1 1 0M1240 874l1-1 2-1 1 0 1-1 2-1 1-1 1 0M774 689l1-1 2-2 1-2 1-2 2-2 1-2 1-2 2-3 1-2M820 602l1-2 2-2 1-2 1-2 2-2 1-2 1-2 1-2 2-1M833 898l1-2 2-2M1354 729l2-1 1-1 1 0 1-1 2-1M912 772l1 2 1 3 2 2 1 3 1 3 2 3 1 4 1 4 2 4 1 5 1 4 2 5 1 4 1 5 2 4 1 4 1 4 2 3 1 3 1 3 1 3 2 2 1 2 1 2 2 1M1126 780l1 2 1 3 2 3 1 4 1 3 2 5 1 4 1 5 2 5 1 6 1 5 2 5 1 6 1 4 2 5 1 4 1 3 1 3 2 3 1 2 1 2 2 2M1093 814l1 2 2 3 1 2 1 2 2 2 1 2 1 3 2 2 1 2 1 2 1 3 2 2 1 2 1 2 2 2 1 2M850 633l2 2 1 2 1 2 1 2 2 2 1 3 1 2 2 2 1 2 1 3 2 2 1 2 1 2 2 3 1 2 1 2 1 2M1261 644l1-2 2-3 1-3 1-3 2-3 1-3 1-3 2-3 1-3 1-2 1-3 2-3 1-3M1279 614l2 0 1 0 1 0 2 0 1 0 1 0M1349 734l1 1 2 0 1 0 1 1 2 0M760 611l1-1 1-1 2 0 1-1 1-1 2-1M834 755l2-1 1 0 1 0 2-1 1 0M1282 640l1 1 2 2 1 1 1 2 2 2 1 2 1 2 1 2 2 1 1 2 1 2 2 2 1 2 1 2 2 2 1 2 1 2 2 2 1 1 1 2 2 2 1 2M737 868l2 1 1 1 1 0 2 1 1 1M1306 827l1 2 1 2 2 2 1 2 1 2 2 2M1231 618l1 2 1 2 2 3 1 3 1 3 2 4 1 4 1 5 2 5 1 5 1 6 2 5 1 6 1 5 1 4 2 5 1 4 1 3 2 3 1 3 1 3 2 2M921 586l1-2M924 897l1-1 1-2 2-2 1-2 1-2 2-2 1-2 1-2M975 798l1-2 2-2 1-2 1-2 1-2 2-2 1-1M840 662l1-2 1-1 2-2 1-2 1-1 2-2 1-2 1-2 2-2 1-2 1-1 1-2 2-2 1-2M909 871l2-2 1-2 1-2 1-2 2-2 1-2 1-1 2-2 1-2 1-2 2-1 1-2 1-2 2-2 1-1 1-2 2-2 1-1 1-2M899 620l1 1 1 0 2 1 1 1 1 0 2 1M955 712l1 1 2 1 1 1 1 1 2 1 1 1M1084 612l1 0 1-1 2 0 1-1 1 0 2 0M1156 744l1 0 2 0 1 0 1 1 2 0 1 0M959 597l1-1 2-1 1-1 1 0 2-1M1021 746l1-1 1 0 2 0 1 0M916 612l1-1 1-2 2-1 1-1 1-1 2-2 1-1 1-1 2-2M995 776l1-1 1-1 1-1 2-1 1 0 1-1M1256 738l1 0 1 1 2 0 1 0 1 0M1327 870l1 0 1 0 2-1 1 0 1-1 1 0M1068 747l1 1 2 0 1 1 1 0 2 1M1135 867l1 0 2 0 1 0 1 0 2-1 1 0M1191 694l2-2 1-2 1-2 2-1 1-2 1-3 2-2 1-2M1240 599l1-2 2-2 1-2 1-2 2-2 1-1 1-2 1-2M1252 897l1-2 1-1M854 721l1-1 2 0 1-1 1 0 2-1 1-1M929 877l1-1 2-1 1-1 1-1 2-1 1-1 1-1 1-1M808 674l2-2 1-3 1-3 1-3 2-3 1-3 1-4 2-3 1-4 1-3 2-4 1-4 1-3 2-4 1-4 1-3 1-4 2-3 1-3 1-3 2-3 1-3 1-3 2-3 1-2 1-3 2-2M1143 731l1-1 2 0 1-1 1-1M1203 890l2-1 1-1 1-1 1-1 2-1 1-1M1033 617l1 0 1 0 2 0 1 0 1 1 1 0M1097 724l1 0 2 1 1 1 1 0 2 1" stroke="#b800ff" stroke-width="2.5" fill="none" stroke-linejoin="round" stroke-linecap="round" /><path d="M1210 822l1 1M773 613l1 1M953 747l1 1M858 746l1 1M1268 604l1 0M966 802l1 1M771 862l2-1 1 0 1 0 2 0 1-1 1 0 2 0 1-1M1275 748l2 0 1 1 1 1 2 0 1 1 1 0 2 1 1 0M827 736l1 0 1 0 1 0M979 852l1-1 1-1 2-1 1-1 1-1M1243 603l1 1 1 1 2 1 1 1 1 1 1 1M1299 655l1 1 2 1 1 1M1037 764l1 1M1004 701l1-1 1 0 2-1 1-1M1222 778l1 0 1-1 2 0 1-1M844 736l1 1M1308 617l2 1 1 1M897 604l2 1M1345 791l1 1M937 721l1 0 1 0 2 0 1 0M1138 814l1-1 1-1 2-1 1-1 1-1M804 859l2-1 1 0 1 0 2-1M1101 614l1 0 2 1 1 1 1 0 1 1 2 1M1277 744l1 0 1 1 2 1 1 1 1 0 2 1M1016 608l1-1M1230 788l1 1M1051 669l1-1 2-1M1233 760l2-1 1 0 1 0M752 618l1-1 1-1 2 0 1-1M891 733l1 1 2 1 1 0M1013 828l1 1 2 1 1 2 1 1 2 1 1 1 1 1 1 2M1058 870l1 1 1 1 2 1 1 1 1 1 1 1 2 1M1320 640l1-1 2-1 1-1 1-1 2-1 1-1 1-1M810 791l1 1M1216 765l2 0 1-1 1 0M949 677l1-1 1-1 2-1 1-1 1-1 1-1 2-1 1-1 1-1 2-1 1-1M1127 774l1 0 2-1 1 0 1-1 2 0 1-1 1 0 2-1M800 765l2 0 1-1 1-1 2 0 1-1 1 0M1210 694l1-1 1-1 2-2 1-1 1-1 2-1 1-1 1-1 2-2M979 708l1 0 1-1 2-1 1 0M1180 783l1-1 1-1 2 0M817 867l2-1 1-1 1-1 2-1 1-1 1-1 2-1 1-1 1-1M1289 752l1 1 1 0 1 1 2 0 1 1 1 0 2 1M828 762l1 1M1223 607l1 0M926 617l2 0M1069 724l2 1M1138 772l1 1M761 757l1 0 2 0 1 1M1195 661l2-1 1-1 1 0 2-1M863 614l2 0 1 0 1 1 2 0 1 1M968 695l2 1 1 1 1 1 2 1 1 1 1 1 2 1M1050 752l1 1 1 1 2 1 1 1 1 1 2 0 1 1M1194 863l1 0 2 0 1 0 1 0" stroke="#9cff00" stroke-width="2.5" fill="none" stroke-linejoin="round" stroke-linecap="round" /><path d="M1177 588l1-1 2-1 1-1 1-1M1184 897l1-1 1-2 2-2 1-1 1-2 1-3 2-2 1-3 1-4 2-4 1-5 1-6 2-7 1-9 1-10 2-10 1-10 1-10 1-8 2-7 1-6 1-5 2-4 1-3 1-3 2-3 1-2 1-2 2-1 1-2 1-1 2-1 1-1 1-1 2-1 1-1M1147 660l1-2 1-2 2-2 1-2 1-2 2-2 1-3 1-2 2-2 1-3 1-2 2-2 1-3 1-2 1-3 2-2 1-2 1-3 2-2 1-3 1-2 2-3 1-2 1-2 2-3 1-2 1-2 2-3 1-2 1-2 2-2 1-2 1-2M1191 897l2-2 1-2 1-2 2-2 1-2 1-1 2-2 1-2 1-2 2-2M736 591l1-1 2-1 1 0 1-1 2-1 1-1 1-2 1-1M748 897l1-2 1-1 2-2 1-3 1-3 2-4 1-5 1-8 2-11M764 802l1-14 1-10 2-7 1-5 1-3 1-3 2-2 1-2 1-1 2-2 1-1 1-1 2 0 1-1 1-1 2 0 1-1 1 0 1-1M1327 884l1-3 1-2 2-2 1-2 1-3 1-2 2-3 1-3 1-3 2-3 1-3 1-3 2-3 1-3 1-3 2-3 1-4 1-3 2-3 1-4 1-3 2-3 1-3 1-3 1-3 2-3 1-3 1-2 2-3 1-2M989 678l2-2 1-3 1-2 2-3 1-3 1-2 1-3 2-3 1-3 1-3 2-3 1-3 1-3 2-3 1-3 1-3 2-3 1-3 1-3 2-3 1-2 1-3 2-2 1-3 1-2 1-3 2-2 1-2 1-2M1174 728l2 0 1 0 1-1 2 0 1-1 1 0 2-1 1 0 1-1 2 0 1-1 1-1 1-1 2-1 1-1 1-2 2-2 1-2 1-4 2-6 1-8M1207 603l1-11 2-6M1211 897l1-3 2-2 1-2 1-1 2-2 1-1 1-1 2-1 1-1 1-1 2 0 1-1 1-1 2-1 1 0 1-1 1-1 2-1 1 0 1-1 2-1 1 0M786 671l1-3 1-2 2-3 1-2 1-3 2-3 1-3 1-2 2-3 1-3 1-3 2-3 1-3 1-2 2-3 1-3 1-3 2-2 1-3 1-2 1-3 2-2 1-3 1-2 2-2 1-3M1361 725l1-1 1-1 2-1 1-1M1287 614l2 0 1 0 1 0 1 0 2 0 1 1 1 0 2 1 1 0 1 1 2 1 1 2 1 1 2 2 1 2 1 3 2 3 1 4 1 5 2 5 1 7 1 8 1 8 2 8 1 8 1 8 2 6 1 6 1 5 2 4 1 3 1 3 2 2 1 2 1 2 1 1 2 1 1 1 1 1 2 1 1 1 1 1 2 0 1 1 1 0 2 1 1 0M768 606l1 0 1-1 1-1 2-1 1-1 1 0 2-1 1-1 1-1 2-1 1-1 1-1 2-1 1-1 1-1 1-2 2-2 1-1 1-3M794 898l1-4 1-4 2-6 1-8 1-13M804 807l2-13 1-8 1-6 2-5 1-3 1-3 1-2 2-1 1-2 1-1 2-1 1-1 1-1 2-1 1-1 1 0 2-1 1 0 1-1 1 0 2-1 1 0 1 0M736 867l1 1M934 882l2-2 1-2 1-3 1-2 2-3 1-2 1-3 2-2 1-3 1-3 2-3 1-3 1-3 2-3 1-3 1-3 1-3 2-3 1-3 1-3 2-3 1-3 1-3 2-3 1-3 1-2 2-3 1-2 1-3 2-2 1-2M858 637l1-2 2-2 1-2 1-3 2-2 1-2 1-2 2-2 1-2 1-2 1-2 2-3 1-2 1-2 2-2 1-2 1-2 2-3 1-2 1-2 2-2 1-2 1-2 2-2 1-2M892 897l2-3 1-2 1-2 1-2 2-2 1-2 1-2 2-2 1-2 1-2 2-2 1-1 1-2M907 624l1 1 1 2 2 1 1 1 1 2 1 1 2 2 1 2 1 2 2 3 1 2 1 3 2 3 1 3 1 3 2 4 1 3 1 4 2 3 1 4 1 3 2 4 1 3 1 3 1 3 2 3 1 2 1 2 2 3 1 2 1 2 2 1 1 2 1 2 2 1 1 1 1 2M1092 610l1-1 1 0 2-1 1 0 1 0 2 0 1-1 1 0 2 0 1 0 1 0 1 0 2 0 1 0 1 0 2 1 1 1 1 1 2 1 1 2 1 3 2 5 1 8 1 14M1127 714l1 10 2 6 1 4 1 3 2 2 1 1 1 1 2 1 1 0 1 1 2 0 1 0 1 0 2 1 1 0 1 0 1 0 2 0 1 0 1 0 2 0 1 0M966 593l1-1 1-1 2-1 1 0 1-1 2-1 1-1 1-1 2-1 1-1M980 897l1-1 2-2 1-2 1-3 2-3 1-4 1-6 2-10M996 787l1-11 1-7 2-5 1-3 1-3 2-2 1-2 1-1 2-1 1-1 1-1 2-1 1 0 1-1 2-1 1 0 1 0 2-1 1 0M928 600l1-1 1-1 2-2 1-1 1-2 2-2 1-1 1-2 1-2 2-2M942 897l1-2 2-2 1-3 1-2 2-3 1-3 1-3 2-3 1-4 1-3 1-4 2-5 1-4 1-5 2-4 1-5 1-5 2-5 1-4 1-5 2-4 1-4 1-4 2-3 1-3 1-3 2-3 1-3 1-2 1-2 2-2 1-2 1-2 2-2 1-1 1-2 2-1 1-1 1-2 2-1M1262 739l2 0 1 0 1 0 2 1 1 0 1 0 2 0 1 1 1 0 1 1 2 0 1 1 1 1 2 1 1 1 1 2 2 2 1 4 1 4 2 6 1 10 1 14M1294 825l1 14 1 10 2 7 1 5 1 3 2 2 1 2 1 1 2 1 1 1 1 0 2 1 1 0 1 0 2 0 1 0 1 0 1 0 2 0 1 0 1-1 2 0 1 0 1 0 2-1M1075 750l1 0 1 1 2 1 1 0 1 1 1 1 2 1 1 1 1 2 2 1 1 2 1 2 2 2 1 3 1 3 2 4 1 4 1 5 2 6 1 6 1 7 2 8 1 7 1 7 1 6 2 6 1 5 1 4 2 3 1 3 1 3 2 2 1 2 1 1 2 1 1 1 1 1 1 1 2 1 1 0 1 1 2 0 1 0 1 0 2 1 1 0M1202 678l1-2 2-3 1-2 1-3 1-3 2-2 1-3 1-3 2-3 1-3 1-3 2-3 1-3 1-3 2-3 1-3 1-3 2-3 1-3 1-3 2-2 1-3 1-3 1-2 2-2 1-3 1-2 2-2 1-3M862 717l1 0 2-1 1-1 1-1 2-1 1-1 1-1 1-1 2-2 1-1 1-2 2-2 1-2 1-3 2-3 1-3 1-4 2-4 1-6 1-6 2-7 1-8 1-8 2-9 1-9 1-8 1-7 2-6 1-6 1-4 2-4 1-4 1-3 2-3 1-2M909 897l2-2 1-2 1-2 1-1 2-2 1-1 1-1 2-2 1-1 1-1 2-1 1-1 1-1 2-1 1-1M1148 728l1 0 2-1 1-1 1-1 2-1 1-1 1-2 2-1 1-2 1-2 2-2 1-3 1-3 1-5 2-5 1-6 1-8 2-9 1-12 1-12 2-11 1-11 1-8 2-7 1-6 1-4 2-4 1-3 1-3 2-2 1-2 1-2 1-2 2-1 1-2M1195 897l2-1 1-2 1-1 2-1 1-1 1-1M1040 618l2 1 1 0 1 1 2 1 1 1 1 1 2 1 1 1 1 2 2 2 1 2 1 2 2 2 1 3 1 3 2 4 1 4 1 4 1 5 2 4 1 5 1 5 2 5 1 5 1 4 2 5 1 3 1 4 2 3 1 3 1 3 1 2 2 2 1 2 1 1 2 2 1 1 1 2 2 1 1 1 1 1 2 1 1 1" stroke="#ff00ff" stroke-width="2.5" fill="none" stroke-linejoin="round" stroke-linecap="round" /><path d="M782 859l1 0 2-1 1 0 1-1 1 0 2-1 1 0 1-1M1097 620l1 1 2 1 1 1 1 1 2 1 1 1 1 1 1 1 2 1 1 1 1 1 2 1 1 1 1 1 2 1 1 1 1 1 2 1 1 1 1 1 1 2 2 1 1 1 1 1 2 1 1 1 1 1 2 1 1 1 1 2 2 1 1 1 1 1 2 1 1 1 1 1 2 1 1 1 1 1 1 1M1265 743l1 1 2 0 1 1 1 0 2 1 1 1 1 0 1 1M943 681l2-1 1-1 1-1 2-1M1138 770l1 0 1 0 2-1 1 0 1 0 2 0 1-1M808 762l2 0 1-1 1 0 1-1 2 0 1 0M1199 701l2-1 1 0 1-1 2-1 1-1 1-1 1-1 2-1M829 858l1-1 2-1 1-1 1-1 2-1 1-1 1-1 2-1 1-1 1-1M1110 609l1 1 2 1 1 1 1 2 2 1 1 1 1 1 2 1 1 2 1 1 1 1 2 1 1 2 1 1 2 1 1 1 1 2 2 1 1 1 1 2 2 1 1 1 1 1 2 2 1 1 1 1 2 2 1 1 1 1 1 1 2 2 1 1 1 1M1281 749l1 1 1 0 2 1 1 0 1 1 2 0" stroke="#e3ff00" stroke-width="2.5" fill="none" stroke-linejoin="round" stroke-linecap="round" /><path d="M792 855l2 0 1-1 1 0M1089 615l1 1 2 1 1 0 1 1 2 1 1 1M1149 662l2 1M1258 740l2 0 1 1 1 1 2 0 1 1M1147 768l1 0 1 0M816 760l1 0 2-1M1195 704l2-1 1-1 1-1M842 848l2-1 1-1 1-2 2-1M1104 604l1 1 1 1 1 1 2 1 1 1M1153 650l2 1 1 1 1 1 2 2M1277 747l1 1 1 1 2 0" stroke="#ffd400" stroke-width="2.5" fill="none" stroke-linejoin="round" stroke-linecap="round" /><path d="M760 858l1-16 1-20 2-20M1202 695l1-16 2-28 1-30 1-18M800 863l2-18 1-20 1-18M1123 643l1 24 2 28 1 19M991 866l1-16 1-22 2-24 1-17M1291 788l1 18 2 19" stroke="#ff00ff" stroke-width="2.5" fill="none" stroke-linejoin="round" stroke-linecap="round" stroke-dasharray="0.01 5.5"/><path d="M894 693l1-16 1-22 1-21 2-15" stroke="#2a00ff" stroke-width="2.5" fill="none" stroke-linejoin="round" stroke-linecap="round" stroke-dasharray="0.01 5.5"/><defs><path id="nac2" d="M956 616l2-1 1 0 1-1 2-1 1 0M1090 730l2 1 1 0 1 1 2 1 1 0M1210 822l1 1 1 1 2 1 1 2 1 1 2 1 1 1 1 1 2 2 1 1 1 1M1258 868l2 1 1 1 1 1 2 1 1 1 1 1 2 1 1 1 1 1M802 828l1 1 1 1 2 1 1 1 1 2 2 1 1 1 1 1 1 1 2 2 1 1 1 1 2 1M841 865l1 1 2 1 1 1 1 1 2 2 1 1 1 1 2 1 1 1 1 1 1 1M1110 640l1-2 2-1 1-1 1-1 2-1 1-1 1-1 2-1M1269 747l1 0 2 1 1 0 1 0M773 613l1 1 1 0 2 1 1 1 1 0 2 1 1 0M953 747l1 1 1 1 1 1 2 0 1 1 1 1 2 1 1 1 1 0M1101 862l1 0 2-1 1 0 1 0 1 0 2-1M1080 710l1 0 1-1 2 0 1 0 1-1M1292 792l2-1 1-1 1 0 2-1 1-1 1-1 2 0M736 650l1 1 2 1 1 1M858 746l1 1 2 1 1 0 1 1 2 0M993 867l2 0 1-1 1-1 1 0 2-1 1-1M1268 604l1 0 1 1 2 0 1 1 1 0M827 745l1 0 1 0 1 0 2 1M1233 669l2-2 1-1 1-1 2-1 1-1M865 733l1 1 1 0 2 1 1 1 1 1 1 0 2 1M966 802l1 1 1 1 2 1 1 1 1 1 2 1 1 1 1 1 2 2 1 1 1 1 1 1M1037 860l1 1 1 1 1 1 2 1 1 0 1 1 2 1 1 0 1 1M1341 624l1 0 2-1 1 0 1-1 2 0 1 0M788 857l2-1 1 0 1-1 2 0 1-1 1 0M1089 615l1 1 2 1 1 0 1 1 2 1 1 1 1 1 2 1 1 1 1 1 2 1 1 1M1139 654l1 1 2 1 1 1 1 1 2 1 1 1 1 1 1 1 2 1M1258 740l2 0 1 1 1 1 2 0 1 1 1 1 2 0M936 721l1-1 1 0 1 0 2-1M1118 814l1-2 2-1 1-1 1-1 1-1 2-2 1-1 1-1 2-1 1-1M827 736l1 0 1 0 1 0 2 1M975 855l1-1 2-1 1-1 1-1 1-1 2-1 1-1 1-1M1243 603l1 1 1 1 2 1 1 1 1 1 1 1 2 1 1 1 1 1M1294 650l1 1 1 1 2 1 1 2 1 1 2 1 1 1M1122 727l1 1 1 0 2 0 1 0 1 1M1302 836l1-1 1 0 2-1 1-1 1-1 2-1 1-1 1-1 2-1M836 615l1 0 1 1 2 0 1 0 1 0M958 709l1 1 1 1 2 1 1 1 1 0 2 1 1 1 1 1 2 1 1 1M1037 764l1 1 1 1 1 1 2 1 1 1 1 0 2 1 1 1 1 1 2 1M1164 865l1 0 1 1 2 0 1 0 1 0M914 810l2-1 1-2 1-1 2-1 1-1 1-1 2-1 1-2 1-1M1316 733l1 0 2 0 1 0 1 0M1004 701l1-1 1 0 2-1 1-1 1 0 2-1M1219 779l1 0 2-1 1 0 1-1 2 0 1-1M844 736l1 1 1 1 2 0 1 1 1 0 2 1 1 0M1006 854l2-1 1-1 1 0 2-1 1-1 1 0 2-1M1308 617l2 1 1 1 1 1 2 1 1 1 1 1 1 1 2 1 1 1 1 1 2 1 1 1 1 1 2 1 1 1 1 1 2 1 1 1 1 1 1 1 2 1 1 2 1 1 2 1 1 1 1 1 2 1 1 1 1 1 2 1 1 1 1 1 2 1 1 1 1 1M897 604l2 1 1 1 1 1 2 1 1 1 1 1 2 1 1 1 1 1 2 2M939 642l2 2 1 1 1 1 2 1 1 2 1 1 2 1 1 1 1 1 2 1M1071 747l1 1 1 1 2 0 1 1 1 0M1205 868l1-1 1-1 1 0 2-1 1-1 1 0M806 863l1 1 1 1 2 0 1 1 1 1 1 0 2 1M1107 621l2 0 1 0 1-1 2 0 1 0M1253 728l1 1 2 1 1 0 1 1 2 1 1 1 1 0 2 1M1345 791l1 1 2 1 1 1 1 1 2 1 1 1 1 1 2 1 1 1 1 1M937 721l1 0 1 0 2 0 1 0 1 0M1132 818l2-1 1-1 1-1 2-1 1-1 1-1 2-1 1-1 1-1M802 860l1-1 1 0 2-1 1 0 1 0 2-1M1101 614l1 0 2 1 1 1 1 0 1 1 2 1 1 0 1 1 2 1M1173 670l1 1 2 1 1 1 1 1M1277 744l1 0 1 1 2 1 1 1 1 0 2 1 1 1M849 604l1 1 2 0 1 0 1 1 1 1M1039 766l1 0 2 1 1 1 1 1 2 1 1 1M1156 874l1 0 2 0 1-1 1 0M802 608l1 0 1 0 2 0 1-1 1 0M917 711l1 1 2 1 1 0 1 1 2 1 1 1M1017 789l1 1 2 1 1 1 1 1 1 1 2 1 1 1M1109 875l1 0 1 1 2 0 1 1 1 0M762 800l2-1 1-1 1-1 2-1 1-1 1 0 1-1 2-1M1182 714l2 0 1-1 1 0 2 0 1 0M765 745l1 1 2 0 1 1 1 0 1 1 2 0M1222 639l1 0 1-1 2-1 1-1 1-1 2 0 1-1 1-1M740 873l1 0 2 0 1 0 1 0 1 0M1016 608l1-1 1 0 2 0 1 0 1 0M1130 710l1 1 1 1 2 0 1 1 1 1 2 1M1230 788l1 1 1 1 1 1 2 1 1 1 1 1 2 1M1323 875l1 0 1 1 2 0 1 1 1 0M879 753l1 0 2 1 1 0 1 0 2 1M1321 654l2-1 1-1 1-1 2-1 1-1 1-1 2-1 1-1M737 723l2 1 1 0 1 1 2 1 1 1 1 1 1 0 2 1 1 1M821 781l2 1 1 1 1 1 2 1 1 1 1 1 1 1 2 0 1 1 1 1 2 1M925 864l1 1 2 1 1 0 1 1 2 0 1 0 1 1M1227 619l1 0 2-1 1 0 1 0 1 0M1051 669l1-1 2-1 1-1 1-2 2-1M1231 760l1 0 1 0 2-1 1 0 1 0M778 869l1 0 2-1 1 0 1-1 2-1M1054 604l1 1 1 0 2 1 1 0M1247 768l1 1 1 1 1 1 2 1 1 1M1359 874l2 0 1 0 1 0 2 0 1 0M752 618l1-1 1-1 2 0 1-1 1-1M888 732l2 1 1 0 1 1 2 1 1 0M1013 828l1 1 2 1 1 2 1 1 2 1 1 1 1 1 1 2 2 1 1 1 1 1 2 2 1 1M1051 864l1 1 2 1 1 2 1 1 2 1 1 1 1 1 2 1 1 1 1 1 1 1 2 1M1320 640l1-1 2-1 1-1 1-1 2-1 1-1 1-1 2-1 1-1M810 791l1 1 1 1 1 1 2 1 1 1 1 1 2 1M899 875l1 0 1 1 2 0 1 1 1 0M1173 617l1-1 2-1 1 0 1-1 2 0M1308 731l2 1 1 0 1 1 2 1 1 0M838 672l2-1 1-2 1-1 2-1M1021 761l1 0 1-1 2 0 1 0M1014 676l2-1M1214 765l1 0 1 0 2 0 1-1 1 0M779 706l2-1 1 0 1-1 2 0 1-1 1 0M995 785l1-1 1 0 1-1 2 0 1-1 1-1M1143 769l1 0 2 0 1-1 1 0 1 0M813 760l2 0 1 0 1 0 2-1M1195 704l2-1 1-1 1-1 2-1 1 0M979 708l1 0 1-1 2-1 1 0 1-1M1177 785l1-1 2-1 1-1 1-1 2 0M736 763l1 1 2 1 1 0 1 1M863 864l2 0 1 1 1 0 2 0 1 0M1164 614l1 1 1 0 2 0 1 0 1 1M1275 701l2 1 1 1 1 1 2 0 1 1 1 1 2 1 1 1 1 1 2 1 1 1M1357 758l1 1 1 1 2 1 1 0 1 1 2 1 1 1M846 628l2 0 1-1 1 0 2-1 1-1 1 0M1005 738l1 0 2 1 1 0 1 1 2 1 1 0 1 1M1117 814l1 1 1 1 2 1 1 1 1 1 1 1 2 1 1 1 1 1 2 1 1 1 1 2 2 1 1 1 1 1 2 1M1165 854l1 1 2 1 1 1 1 1 2 1 1 1 1 0 2 1 1 1 1 1 2 1 1 1 1 1M1022 646l1-1 2-1 1 0 1-1 2-1 1-1 1-1 2-1M1201 749l1 1 1 0 2 0 1 1 1 0 1 1M904 634l1-1 2-1 1-1 1-1 2-1 1-1 1-1 1-1M1058 744l1 0 1 1 2 0 1 0M844 669l1-1 1-1 2-1 1-1M1040 761l2 0 1 0 1 0 2 0 1 0M756 843l1-1 1-1 2-1 1-1 1 0 2-1 1-1 1-1M1210 730l1 1 1 0 2 1 1 0 1 0M870 626l1 1 1 2 2 1 1 1 1 1 2 1 1 1 1 1 2 1M1020 733l1 1 1 0 1 1 2 0 1 1 1 0M1189 849l1-1 1-1 2-1 1 0 1-1 2-1 1-1M766 779l2 0 1-1 1-1 1-1 2 0M1148 721l1-1 2 0 1 0 1-1M1331 814l1-2 1-1 1-1 2-1 1-1 1-2 2-1 1-1 1-1M837 852l1-1 2-1 1-1 1-1 2-1 1-1 1-2 2-1M1104 604l1 1 1 1 1 1 2 1 1 1 1 1 2 1 1 1 1 2 2 1M1146 643l1 1 1 1 1 1 2 2 1 1 1 1 2 1 1 1 1 1 2 2M1277 747l1 1 1 1 2 0 1 1M810 724l1 0 1 0 1 1 2 0 1 0M998 827l2-1 1-1 1-1 2-1 1-1 1-1 2-1 1-1 1-1M828 762l1 1 1 1 2 1 1 1 1 1 2 0M947 873l2 0 1 0 1 0 2 0 1-1M1223 607l1 0 2 0 1 0 1 0 2 0M1336 709l1 0 1 1 2 1 1 1 1 1 2 1M926 617l2 0 1 0 1 0 2 0 1 0M1058 716l1 1 1 1 2 1 1 1 1 1 1 0 2 1 1 1 1 1 2 1M1138 772l1 1 1 1 2 1 1 1 1 1 2 0 1 1 1 1 1 1 2 1M1254 865l2 1 1 0 1 0 2 1 1 0M777 703l1 0 1-1 2-1 1-1 1-1M975 779l1 0 2-1 1-1 1-1 1-1M1357 721l1-1 1 0 2 0 1-1 1 0M740 717l1 0 2 0 1 0 1 0 1 0M943 808l2-1 1-1 1-1 2-1 1-1 1-1 2-1 1 0M758 757l2 0 1 0 1 0 2 0 1 1M1195 661l2-1 1-1 1 0 2-1 1-1 1-1M863 614l2 0 1 0 1 1 2 0 1 1 1 0M964 692l2 1 1 1 1 1 2 1 1 1 1 1 2 1 1 1 1 1 2 1M1050 752l1 1 1 1 2 1 1 1 1 1 2 0 1 1 1 1 2 1M1191 863l2 0 1 0 1 0 2 0 1 0 1 0M1105 734l1 0 1 0 2 0 1 0M1256 852l1-1 1-1 2-1 1-1 1-1 2-1 1-1 1-1 2-1M979 633l1-1 1 0 2-1 1-1 1 0 2-1 1-1M1144 742l2 0 1 1 1 1 1 0 2 1 1 0M1270 828l2 1 1 1 1 1 1 1 2 1 1 1 1 2 2 1 1 1 1 1 2 1 1 1 1 1 2 1 1 1 1 1 1 1 2 1 1 1 1 1 2 1 1 2 1 1 2 1 1 1 1 1 2 1 1 1 1 1 2 0 1 1 1 1 2 1M945 774l1-1 1 0 2 0 1-1 1 0"/><path id="nbc2" d="M963 613l1-1 2 0 1-1 1 0M1084 727l1 1 1 0 2 1 1 1 1 0M1223 834l1 1 2 1 1 2 1 1 2 1 1 2 1 1 1 1 2 1 1 2 1 1 2 1 1 2 1 1 2 1 1 2 1 1 2 1 1 1 1 2 1 1 2 1 1 1 1 2 2 1 1 1 1 1 2 1M816 841l1 1 2 1 1 2 1 1 2 1 1 2 1 1 2 1 1 1 1 2 1 1 2 1 1 2 1 1 2 1 1 1 1 1 2 2 1 1 1 1M1121 631l1-1 1-1 1-1 2-1 1-1 1-1 2-1 1-1M1264 747l1 0 1 0 2 0 1 0M782 617l1 1 2 1 1 1 1 0 1 1 2 1 1 1 1 1M846 671l2 1 1 1 1 1 2 1 1 1 1 1 1 1 2 1M963 754l1 0 2 1 1 1 1 1 2 0 1 1 1 1M1094 863l2-1 1 0 1 0 2 0 1 0M1086 708l2 0 1-1 1 0 2-1 1 0 1-1M1285 797l1-1 1-1 2-1 1-1 1 0 1-1M865 749l1 1 1 0 2 1 1 0 1 1M988 869l1 0 2-1 1 0 1-1M1274 606l1 1 2 1 1 0 1 1 2 1 1 1M1345 675l1 1 2 1 1 1 1 1M821 744l2 0 1 0 1 0M1239 664l1-1 1-2 2-1 1-1 1-1 2-2 1-1 1-1 1-1 2-2 1-1M857 729l1 1 1 0 2 1 1 1 1 0 2 1M980 814l1 1 2 1 1 1 1 1 2 1 1 1 1 1 2 1 1 1 1 2 2 1 1 1 1 1 1 1 2 1 1 1 1 2 2 1 1 1M1016 844l1 1 1 1 2 1 1 1 1 2 1 1 2 1 1 1 1 1 2 1 1 1 1 1 2 1 1 0 1 1 2 1 1 1M1349 622l1-1 2 0 1 0 1-1 2 0M781 860l1-1 1 0 2-1 1 0 1-1 1 0M1102 624l2 1 1 1 1 1 1 1 2 1 1 1 1 1 2 1 1 1 1 1 2 1 1 1 1 1 2 1 1 1 1 1 1 2 2 1 1 1 1 1 2 1 1 1 1 1 2 1 1 1 1 2 2 1 1 1 1 1 2 1M1268 744l1 1 1 0 2 1 1 1 1 0 1 1M942 719l1 0 2-1 1 0 1-1M1106 825l1-1 2-2 1-1 1-1 2-2 1-1 1-1 2-1 1-1 1-2M832 737l1 0 1 0 2 0 1 0M967 861l1-1 2-1 1-1 1-1 2-1 1-1 1-1M1253 611l1 1 2 1 1 1 1 1 2 2 1 1 1 1 2 1 1 1 1 2 2 1 1 1 1 1 2 2 1 1 1 1 1 2 2 1 1 1 1 2 2 1 1 1 1 2 2 1 1 1 1 2 2 1 1 1 1 1 1 2 2 1 1 1M1128 729l2 0 1 0 1 0 2 0 1 1M1292 843l2-1 1-1 1-1 2-1 1-1 1-1 2-1 1-1M842 616l2 0 1 0 1 1 2 0 1 0 1 1M947 702l2 1 1 1 1 1 2 0 1 1 1 1 1 1 2 1 1 1M1050 773l1 1 1 1 2 1 1 1 1 1 2 0 1 1 1 1M1156 863l1 1 2 0 1 0 1 1 2 0 1 0M736 718l1-1 2 0 1-1 1 0M903 821l1-1 1-2 2-1 1-1 1-1 2-2 1-1 1-1 1-1 2-1M1321 733l2 0 1 1 1 0 2 0M1012 697l1-1 1 0 2-1 1-1 1 0 2-1M1212 782l2 0 1-1 1-1 2 0 1-1M853 740l1 1 1 0 2 1 1 0 1 1M998 857l2-1 1 0 1-1 2 0 1-1 1 0M909 613l2 2 1 1 1 1 1 1 2 1 1 2 1 1 2 1 1 1 1 2 2 1 1 1 1 2 2 1 1 1 1 1 2 2 1 1 1 1 2 2 1 1 1 1 1 1 2 2M1077 750l2 1 1 0 1 1 1 0M1199 870l2-1 1 0 1-1 2 0M736 806l1 1 2 1 1 1 1 1 2 2 1 1 1 1M794 856l1 1 1 1 2 1 1 1 1 0 2 1 1 1 1 1 2 0M1115 619l2 0 1 0 1 0 2 0 1 0M1244 723l1 1 2 0 1 1 1 1 1 1 2 0 1 1M1358 801l1 1 2 1 1 1 1 1 2 1 1 2M943 721l2 0 1 0 1 0 2 0 1 0M1122 826l1-1 1-1 2-1 1-1 1-1 2-1 1-1 1-1 2-1M794 861l1 0 1 0 2 0 1-1 1 0 2 0M1111 619l2 1 1 1 1 1 2 1 1 1 1 1 2 0 1 1 1 1 1 1 2 1 1 2 1 1M1153 653l2 1 1 2 1 1 2 1 1 1 1 1 2 1 1 1 1 1 1 2 2 1 1 1 1 1 2 1 1 1M1286 749l1 0 2 1 1 1 1 0 1 1 2 1 1 1M855 607l2 0 1 1 1 0 2 1 1 1M929 678l1 1 2 1 1 1M1047 771l1 1 2 0 1 1 1 1 2 1M1149 873l2 0 1 0 1 0 2 1M808 607l2 1 1 0 1 0 1 0M911 707l1 0 1 1 1 1 2 1 1 1M1026 796l1 1 2 1 1 1 1 1 2 1 1 1 1 2M1101 871l1 0 2 1 1 1 1 1 1 0 2 1M753 806l1-1 2-1 1-1 1-1 2-1 1-1 1 0M1189 713l1-1 1 0 2 0 1-1 1 0M758 743l2 1 1 0 1 1 2 0 1 0M1232 633l1-1 2 0 1-1 1-1 2 0 1-1 1-1M736 873l1 0 2 0 1 0M1022 607l1 0 2 1 1 0 1 0M1123 705l1 1 2 1 1 1 1 1 2 1M1239 795l1 1 1 1 2 1 1 1 1 1 2 1M1315 871l1 1 1 0 2 1 1 1 1 0 2 1M872 752l2 0 1 1 1 0 2 0 1 0M1331 647l1-1 1 0 1-1 2-1 1-1 1-1 2-1 1-1 1-1M736 722l1 1M834 790l2 1 1 1 1 1 2 1 1 1 1 1 2 1 1 1 1 1 2 1M916 860l1 1 1 0 2 1 1 1 1 0 2 1 1 0M1233 618l2 0 1 0 1 0 2 0 1 0M1357 717l1 1 1 1 2 1 1 1 1 0 2 1 1 1M1056 664l2-1 1-1 1-1 2-1 1-2 1-1 1-1 2-2 1-1 1-1 2-1M1226 762l1-1 1 0 2 0 1-1M773 871l1-1 1 0 2 0 1-1M1059 606l1 1 2 0 1 1 1 0 1 1M1138 682l1 1M1253 773l1 1 2 0 1 1 1 1 2 1 1 1M1354 873l2 0 1 1 1 0 1 0M758 614l2 0 1-1 1 0 2-1 1 0M882 730l1 0 1 1 2 0 1 1 1 0M1027 841l2 2 1 1 1 1 2 1 1 2 1 1 2 1 1 2 1 1 1 1 2 1 1 2 1 1 2 1 1 1 1 2 2 1 1 1 1 1 2 1M1332 631l1-1 1-2 2-1 1-1 1-1 2-1 1-1M819 798l1 1 1 1 2 1 1 1 1 1 2 2 1 1M892 871l2 1 1 1 1 0 1 1 2 1M1180 614l1-1 1-1 2 0 1-1 1 0M1302 729l1 0 1 1 2 0 1 1 1 0M844 667l1-1 1-1 2-2 1-1 1-1 2-1 1-2 1-1 1-1 2-1M1014 763l2 0 1-1 1 0 2-1M1016 675l1-1 1-1 2-1 1-1 1-1 1-1 2-1 1-1M1207 766l1 0 2 0 1-1 1 0 2 0M787 703l1-1 2 0 1-1 1 0 2-1M987 789l1 0 1-1 2-1 1-1 1 0 2-1M943 681l2-1 1-1 1-1 2-1M1136 771l2-1 1 0 1 0 2-1 1 0M808 762l2 0 1-1 1 0 1-1M1202 700l1-1 2-1 1-1 1-1 1-1 2-1M985 705l2-1 1-1 1-1 2-1 1 0M1168 792l1-1 1-1 2-1 1-1 1-1 2-1 1-1M740 765l1 1 2 1 1 1 1 1 1 1 2 1 1 0 1 1M857 864l1 0 1 0 2 0 1 0 1 0M1170 616l2 0 1 0 1 1 2 0 1 1 1 0M1265 693l1 1 2 1 1 1 1 1 2 1 1 1 1 1 1 1 2 1M854 625l1-1 2 0 1-1 1 0 2 0 1-1M997 734l1 1 2 0 1 1 1 0 2 1 1 1M1135 829l1 1 2 1 1 1 1 1 2 1 1 1 1 1 2 2 1 1 1 1 1 1 2 1 1 1 1 1 2 1 1 1 1 1 2 2 1 1 1 1 2 1 1 1 1 1 1 1 2 1M1033 639l1-1 1 0 2-1 1-1 1-1 1-1 2 0M1194 748l1 0 2 0 1 1 1 0 2 0M914 626l2-1 1-1 1-1 2-1 1-1 1-1M1052 744l2 0 1 0 1 0 2 0M849 665l1-1 2 0 1-1 1-1 1-1 2-1 1-1 1-1 2-1M1034 761l1 0 2 0 1 0 1 0 1 0M745 849l1-1 2 0 1-1 1-1 2-1 1-1 1 0 2-1M1216 732l2 1 1 0 1 0 2 1 1 0M1027 736l2 1 1 0 1 0 2 1 1 0 1 1M1180 853l1 0 1-1 2-1 1 0 1-1 2-1 1 0M758 785l2-1 1-1 1-1 2-1 1-1 1-1M1155 719l1 0 1-1 2 0 1-1M1319 825l1-1 1-2 2-1 1-1 1-1 2-2 1-1 1-1 2-1 1-2M828 859l1-1 1-1 2-1 1-1 1-1 2-1 1-1M1115 614l2 1 1 1 1 1 2 1 1 2 1 1 1 1 2 1 1 2 1 1 2 1 1 1 1 2 2 1 1 1 1 2 2 1 1 1 1 1 2 2 1 1 1 1 2 2 1 1M1283 750l2 1 1 0 1 1 2 0M816 725l1 0 2 0 1 0 1 0 2 0M987 836l1-1 1-1 2-1 1-1 1-1 2-1 1-1 1-1 1-1M836 767l1 1 1 1 2 1 1 1 1 1M942 873l1 0 2 0 1 0 1 0M1230 607l1 0 1 0 1 1 2 0M1329 704l2 1 1 1 1 1 1 1 2 1M934 617l2 0 1 0 1 0 1 0 2 1M1048 710l2 1 1 1 1 1 2 1 1 1 1 0 2 1M1151 781l1 1 1 1 2 1 1 1 1 1 2 1 1 1 1 1 2 1M1247 862l1 1 1 0 1 1 2 0 1 1 1 0M783 699l2-1 1-1 1-1 1 0 2-2 1-1M968 784l2-1 1-1 1-1 2-1 1-1M1363 719l2 0 1-1M746 717l2 0 1 0 1-1 2 0 1 0M932 816l1-1 1-1 2-1 1-1 1 0 1-1 2-1 1-1 1-1M752 757l1 0 1 0 2 0 1 0 1 0M1202 657l1-1 2-1 1-1 1-1 1-1 2-1 1-1 1-1 2-1 1-1M871 616l1 1 2 0 1 1 1 0 2 1 1 1 1 0M953 683l1 1M962 690l1 1 1 1M1060 759l2 1 1 1 1 0 1 1 2 1 1 1 1 1 2 0M1185 863l1 0 2 0 1 0 1 0 1 0M1110 734l1 1 2 0 1 0 1 0M1247 859l1-1 1-1 1-1 2-1 1-1 1-1 2-1 1-1M988 628l1 0 2-1 1 0 1-1 2-1 1 0M1136 739l2 0 1 1 1 0 2 1 1 0 1 1M744 687l1-1 1-1M937 777l1-1 1 0 2-1 1 0 1-1 2 0"/></defs><use href="#nac2" stroke="#ffe000" stroke-linecap="butt" stroke-dasharray="2 5 1.5 6"/><use href="#nac2" stroke="#ff1000" stroke-linecap="butt" stroke-dasharray="1.5 4 2 5 1 6" stroke-dashoffset="2"/><use href="#nac2" stroke="#ff8000" stroke-linecap="butt" stroke-dasharray="1.5 9 1 11" stroke-dashoffset="5"/><use href="#nbc2" stroke="#ffdc00" stroke-linecap="butt" stroke-dasharray="1.5 7 1 9" stroke-dashoffset="3"/><use href="#nbc2" stroke="#ff1800" stroke-linecap="butt" stroke-dasharray="1 10 1.5 12"/><path d="M956 616l2-1M1110 640l1-2M858 746l1 1M1258 740l2 0M827 736l1 0M750 804l2 1 1 1 1 1 2 1 1 2 1 1 2 1 1 1 1 1 2 1 1 2 1 1 2 1 1 1 1 1 1 2 2 1 1 1 1 2 2 1 1 1 1 2 2 1 1 1 1 2 2 1 1 2 1 1 1 1 2 2 1 1 1 2 2 1 1 1 1 2 2 1 1 2 1 1 2 1 1 2 1 1 2 1 1 2 1 1 2 1 1 1 1 1 1 1 2 2 1 1 1 1 2 1 1 1 1 1 2 0 1 1 1 1 2 1 1 1 1 0 1 1 2 1M1096 623l1 0 1-1 2-1 1-1 1-1 2-1 1 0 1-1 1-1 2-1 1 0 1-1 2-1 1-1 1 0 2-1 1-1 1 0 2-1 1 0 1-1 1-1 2 0 1-1 1 0 2-1 1 0 1-1 2 0 1 0 1-1 2 0 1-1 1 0 2 0 1 0 1-1 2 0 1 0 1 0 1 0 2 0 1 0 1 0 2 0 1 1 1 0 2 0 1 1 1 1 2 1 1 2 1 2 1 2 2 3 1 5 1 5 2 8 1 11 1 13 2 14 1 13 1 11 2 8 1 6 1 4 2 4 1 3 1 2 2 1 1 2 1 1 1 1 2 1 1 0 1 1 2 1 1 0 1 0 2 1 1 0 1 0 2 1 1 0 1 0 1 1 2 0 1 0 1 0 2 1 1 0 1 0 2 0 1 0 1 1 2 0 1 0 1 0 2 1 1 0 1 0 2 1 1 0 1 0 1 0 2 1 1 0 1 1 2 0 1 0 1 1 2 0 1 1 1 0M836 615l1 0M1037 764l1 1M1071 747l1 1M1277 744l1 0M1230 788l1 1M752 618l1-1M810 791l1 1M943 681l2-1M846 628l2 0M904 634l1-1M844 669l1-1M1210 730l1 1M1148 721l1-1M810 724l1 0M1223 607l1 0M777 703l1 0M1357 721l1-1M979 633l1-1M1270 828l2 1" stroke="#000"/></g><rect x="736" y="845" width="630" height="1" fill="#000"/><rect x="736" y="793" width="630" height="1" fill="#000"/><rect x="736" y="740" width="630" height="1" fill="#000"/><rect x="736" y="688" width="630" height="1" fill="#000"/><rect x="736" y="635" width="630" height="1" fill="#000"/><rect x="761.5" y="585" width="1.5" height="1.8" fill="#000"/><rect x="761.5" y="894.2" width="1.5" height="1.8" fill="#000"/><rect x="787.8" y="585" width="1.5" height="1.8" fill="#000"/><rect x="787.8" y="894.2" width="1.5" height="1.8" fill="#000"/><rect x="813.8" y="585" width="2" height="3.5" fill="#000"/><rect x="813.8" y="892.5" width="2" height="3.5" fill="#000"/><rect x="840.2" y="585" width="1.5" height="1.8" fill="#000"/><rect x="840.2" y="894.2" width="1.5" height="1.8" fill="#000"/><rect x="866.5" y="585" width="1.5" height="1.8" fill="#000"/><rect x="866.5" y="894.2" width="1.5" height="1.8" fill="#000"/><rect x="892.5" y="585" width="2" height="3.5" fill="#000"/><rect x="892.5" y="892.5" width="2" height="3.5" fill="#000"/><rect x="919" y="585" width="1.5" height="1.8" fill="#000"/><rect x="919" y="894.2" width="1.5" height="1.8" fill="#000"/><rect x="945.2" y="585" width="1.5" height="1.8" fill="#000"/><rect x="945.2" y="894.2" width="1.5" height="1.8" fill="#000"/><rect x="971.2" y="585" width="2" height="3.5" fill="#000"/><rect x="971.2" y="892.5" width="2" height="3.5" fill="#000"/><rect x="997.8" y="585" width="1.5" height="1.8" fill="#000"/><rect x="997.8" y="894.2" width="1.5" height="1.8" fill="#000"/><rect x="1024" y="585" width="1.5" height="1.8" fill="#000"/><rect x="1024" y="894.2" width="1.5" height="1.8" fill="#000"/><rect x="1050" y="585" width="2" height="3.5" fill="#000"/><rect x="1050" y="892.5" width="2" height="3.5" fill="#000"/><rect x="1076.5" y="585" width="1.5" height="1.8" fill="#000"/><rect x="1076.5" y="894.2" width="1.5" height="1.8" fill="#000"/><rect x="1102.8" y="585" width="1.5" height="1.8" fill="#000"/><rect x="1102.8" y="894.2" width="1.5" height="1.8" fill="#000"/><rect x="1128.8" y="585" width="2" height="3.5" fill="#000"/><rect x="1128.8" y="892.5" width="2" height="3.5" fill="#000"/><rect x="1155.2" y="585" width="1.5" height="1.8" fill="#000"/><rect x="1155.2" y="894.2" width="1.5" height="1.8" fill="#000"/><rect x="1181.5" y="585" width="1.5" height="1.8" fill="#000"/><rect x="1181.5" y="894.2" width="1.5" height="1.8" fill="#000"/><rect x="1207.5" y="585" width="2" height="3.5" fill="#000"/><rect x="1207.5" y="892.5" width="2" height="3.5" fill="#000"/><rect x="1234" y="585" width="1.5" height="1.8" fill="#000"/><rect x="1234" y="894.2" width="1.5" height="1.8" fill="#000"/><rect x="1260.2" y="585" width="1.5" height="1.8" fill="#000"/><rect x="1260.2" y="894.2" width="1.5" height="1.8" fill="#000"/><rect x="1286.2" y="585" width="2" height="3.5" fill="#000"/><rect x="1286.2" y="892.5" width="2" height="3.5" fill="#000"/><rect x="1312.8" y="585" width="1.5" height="1.8" fill="#000"/><rect x="1312.8" y="894.2" width="1.5" height="1.8" fill="#000"/><rect x="1339" y="585" width="1.5" height="1.8" fill="#000"/><rect x="1339" y="894.2" width="1.5" height="1.8" fill="#000"/><rect x="738" y="844" width="4" height="3" fill="#000"/><rect x="1360" y="844" width="4" height="3" fill="#000"/><rect x="738" y="792" width="4" height="3" fill="#000"/><rect x="1360" y="792" width="4" height="3" fill="#000"/><rect x="738" y="739" width="4" height="3" fill="#000"/><rect x="1360" y="739" width="4" height="3" fill="#000"/><rect x="738" y="687" width="4" height="3" fill="#000"/><rect x="1360" y="687" width="4" height="3" fill="#000"/><rect x="738" y="634" width="4" height="3" fill="#000"/><rect x="1360" y="634" width="4" height="3" fill="#000"/><rect x="734" y="581" width="4" height="319" fill="#000"/><rect x="1364" y="581" width="4" height="319" fill="#000"/><rect x="734" y="581" width="634" height="4" fill="#000"/><rect x="734" y="896" width="634" height="4" fill="#000"/><text x="736" y="921.3" font-size="22.1" text-anchor="middle" >0</text><text x="814.8" y="921.3" font-size="22.1" text-anchor="middle" >3</text><text x="893.5" y="921.3" font-size="22.1" text-anchor="middle" >6</text><text x="972.2" y="921.3" font-size="22.1" text-anchor="middle" >9</text><text x="1051" y="921.3" font-size="22.1" text-anchor="middle" >12</text><text x="1129.8" y="921.3" font-size="22.1" text-anchor="middle" >15</text><text x="1208.5" y="921.3" font-size="22.1" text-anchor="middle" >18</text><text x="1287.2" y="921.3" font-size="22.1" text-anchor="middle" >21</text><text x="1366" y="921.3" font-size="22.1" text-anchor="middle" >24</text><text x="1410" y="905.8" font-size="22.1" text-anchor="end" >0</text><text x="1410" y="853.3" font-size="22.1" text-anchor="end" >60</text><text x="1410" y="800.8" font-size="22.1" text-anchor="end" >120</text><text x="1410" y="748.3" font-size="22.1" text-anchor="end" >180</text><text x="1410" y="695.8" font-size="22.1" text-anchor="end" >240</text><text x="1410" y="643.3" font-size="22.1" text-anchor="end" >300</text><text x="1410" y="590.8" font-size="22.1" text-anchor="end" >360</text><text x="0" y="0" font-size="22.1" text-anchor="middle" transform="translate(1440 741.5) rotate(-90)">Azimut (grados)</text><g transform="translate(276.6 774.7) scale(1.018 1)" font-family="Liberation Serif" font-weight="bold" font-size="118.5"><text x="1.2" y="5.2" fill="#cdcdcd">IGN</text><text x="-3.95" y="0" fill="url(#wmw)">IGN</text></g><g fill="none" stroke="#000" stroke-width="1"><circle cx="381.6" cy="685.3" r="142.0"/><circle cx="381.6" cy="685.3" r="71.0"/><circle cx="381.6" cy="685.3" r="11.8"/><line x1="168.60000000000002" y1="685.3" x2="594.6" y2="685.3"/><line x1="381.6" y1="472.29999999999995" x2="381.6" y2="898.3"/></g><g clip-path="url(#clipsky)" fill="none" stroke-width="2.5" stroke-linejoin="round" stroke-linecap="round"><path d="M447 630l1-3 1-4 1-3 1-3 1-3 1-3 1-3 1-3 2-3 1-2 2-3 1-3 2-2 1-3 2-3 1-2 2-2 2-3 2-2 2-2 2-2 2-2 2-2 2-2 3-1 2-2 2-2 3-1 2-2 3-1 2-1 3-1 3-1 2-1 3-1 3-1 3 0 3-1 3 0 3-1 3 0 3 0 3 0 3 0 3 0 4 1M255 515l-1 3-2 4-2 3-1 3-2 3-2 4-2 3-1 3-2 4-2 3-2 4-2 3-2 4-2 3-2 4-1 3-2 4-2 4-2 3-2 4-2 4-2 3-2 4-2 4-2 4-1 3-2 4-2 4-2 4-2 4-1 4-2 4-2 4-1 4-2 4-2 4-1 4-2 4-1 4-1 4-2 5-1 4-1 4-2 4-1 5-1 4-1 4M378 898l3-2 3-2 2-2 3-2 3-2 2-3 2-2 3-2 2-3 2-3 2-2 2-3 1-3 2-2 2-3 1-3 2-3 1-3 2-3 1-3 1-3 1-3 2-3 1-4 1-3 0-3 1-3 1-4 1-3 1-3 0-4 1-3 0-4 1-3 0-4 1-3 0-4 1-4 0-3 0-4 1-3 0-4 0-4 0-3 0-4 1-4 0-4 0-3 0-4 0-4 0-4 1-4 0-3 0-4 0-4 0-4 0-3 0-4 1-4 0-4 0-4 0-3 1-4 0-4 0-4 0-3 1-4 0-4 0-3 1-4 0-4 1-3 0-4 1-3 1-4 0-3 1-4 1-3 0-4 1-3 1-3 1-3M204 756l0-4 1-4 1-4 1-4 0-4 1-4 1-4 1-3 1-4 1-4 1-4 2-4 1-3 1-4 2-4 1-3 2-4 1-4 2-3 2-4 2-3 1-3 2-4 2-3 3-3 2-3 2-4 2-3 2-3 3-3 2-2 3-3 2-3 3-2 3-3 2-3 3-2 3-2 3-2 3-3 3-2 3-2 3-1 3-2 3-2 3-2 3-1 3-1 4-2 3-1 3-1 3-1 4-1 3-1 3 0 4-1 3 0 3-1 4 0 3 0 4 0 3 0 3 0 4 0 3 1 3 0 4 1 3 1 3 0 3 1 4 1 3 1 3 2 3 1 3 1 3 2 3 1 3 2 3 2 3 2 3 2 3 2 3 2 2 2 3 2 3 3 2 2 3 3 2 2 3 3 2 2 2 3 2 3 3 3 2 3 2 3 2 3 2 3 2 3 1 4 2 3 2 3 2 3 1 4 2 3 1 4 2 3 1 4 1 3 1 4 2 3 1 4 1 4 1 3 1 4 1 3 1 4 1 4 0 3 1 4 1 4 0 3 1 4 1 4 0 3 1 4 0 4 1 3 0 4 1 4 0 3 1 4 0 3 0 4 1 3 0 4 0 3 1 4 0 3 0 3 1 4 0 3 0 3 1 4 0 3 0 3 1 3 0 3 1 3 0 3 0 3 1 3 1 3 0 3 1 3 0 2 1 3M427 624l2 4 3 3 2 4 2 4 2 4 2 3 2 4 2 4 1 5 2 4 1 4 2 4 1 4 2 5 1 4 1 4 1 5 1 4 1 4 0 5 1 4 1 5 0 4 1 5 0 4 1 5 0 4 0 5 1 4 0 5 0 4 0 5 0 4 0 4 0 5 0 4 0 5-1 4 0 4 0 4 0 5 0 4-1 4 0 4 0 4 0 4-1 4 0 4 0 4-1 4 0 4 0 4 0 4 0 3-1 4 0 4 0 3 0 4 0 3 0 4 0 3 1 4 0 3M240 842l0-4-1-5 0-4-1-4-1-4 0-5-1-4 0-4-1-5 0-4 0-5-1-4 0-5 0-4 0-5 0-5 0-4 0-5 0-4 0-5 0-5 0-4 1-5 0-5 1-4 0-5 1-5 1-4 1-5 1-4 1-5 1-5 1-4 1-5 2-4 1-4 2-5 2-4 1-4 2-5 2-4 2-4 3-4 2-4 2-4 3-3 2-4 3-4 3-3 2-4 3-3 3-4 3-3 3-3 4-3 3-3 3-2 4-3 3-3 4-2 3-2 4-3 4-2 4-2 4-1 3-2 4-1 4-2 4-1 4-1 5-1 4-1 4-1 4 0 4-1 4 0 4 0 5 0 4 0 4 1 4 0 4 1 4 0 4 1 5 1 4 1 4 2 4 1 3 2 4 1 4 2 4 2 4 2 3 3 4 2 3 2 4 3 3 3 4 2 3 3 3 3 3 4 3 3 3 3 3 4 3 3 2 4 3 3 2 4 3 4 2 4 2 4 3 4 2 4 1 4 2 4 2 5 2 4 1 4 2 5 1 4 1 5 2 4 1 5 1 4 1 5 0 4 1 5 1 5 0 4M361 747l0-5 0-4 0-5 0-4 0-5 1-4 0-5 0-4 0-5 0-4 1-4 0-5 1-4 0-5 1-4 1-4 0-5 1-4 1-4 1-5 1-4 1-4 1-4 2-4 1-4 1-4 2-4 1-4 2-4 2-3 2-4 2-3 1-4 3-3 2-4 2-3 2-3 3-3 2-3 3-3 2-3 3-3 3-2 3-3 2-2 3-2 4-3 3-2 3-2 3-1 4-2 3-2 4-1 3-1 4-2 3-1 4-1 4 0 4-1 3-1 4 0 4 0 4 0 4 0 4 0 4 0 4 1 4 0 4 1 5 1 4 1 4 2 4 1 4 2 4 1 4 2 4 2 4 3 4 2 4 2 4 3 4 3 3 3 4 3 4 3M294 493l-2 3-3 3-3 4-3 3-3 3-3 4-3 3-3 4-3 3-3 4-3 3-3 4-3 4-3 3-3 4-3 4-3 3-3 4-3 4-4 4-3 3-3 4-3 4-3 4-3 4-3 4-3 4-3 4-3 4-2 4-3 4-3 5-3 4-2 4-3 4-3 5-2 4-3 5-2 4-3 5-2 4-2 5M411 894l2-3 2-3 2-4 1-3 2-3 1-4 2-3 1-4 1-3 1-4 1-3 1-4 0-4 1-4 1-3 0-4 1-4 0-4 0-4 1-4 0-4 0-4 0-4 0-4 0-4 0-4 0-4-1-4 0-5 0-4 0-4-1-4 0-5 0-4-1-4 0-5-1-4 0-4 0-5-1-4 0-5-1-4 0-4 0-5-1-4 0-5-1-4 0-5 0-4-1-5 0-4 0-5 0-4 0-5-1-4 0-4 0-5 0-4 0-4 1-5 0-4 0-4 0-4 1-5 0-4 0-4 1-4 1-4" stroke="url(#gr0)"/><path d="M361 895l1-3 2-3 1-3 1-3 1-3 1-4 1-3 0-3 1-4 1-3 0-4 0-3 1-4 0-4 0-3 1-4 0-4 0-3 0-4 0-4 0-4 0-4 0-4-1-4 0-4 0-4 0-4 0-4 0-5-1-4 0-4 0-4 0-5 0-4-1-4 0-5 0-4 0-4 0-5 0-4 0-5 0-4 0-4 0-5 0-4 0-5 0-4 0-5 0-4 1-5 0-4 0-5 1-4 0-4 1-5 1-4 0-4 1-5 1-4 1-4 1-4 1-4 1-4 1-5 2-3 1-4 1-4 2-4 2-4 1-3 2-4 2-4 2-3 2-3 2-4 2-3 2-3 3-3 2-3 3-3 2-3 3-2 3-3 2-2 3-3 3-2 3-2 3-2 4-2 3-2 3-2 4-1 3-2 4-1 3-1 4-1 4-1 3-1 4 0 4-1 4 0 4 0 4 0 4 0 4 0 4 0 4 1 4 1 4 0 4 1 4 2 4 1 4 1 4 2 4 2 5 2 4 2 4 2 4 2 3 3 4 3M298 490l-3 3-2 3-3 4-2 3-3 4-3 3-2 3-3 4-3 3-3 4-3 4-3 3-2 4-3 3-3 4-3 4-3 3-3 4-3 4-3 4-3 4-3 3-3 4-2 4-3 4-3 4-3 4-3 4-3 4-3 4-2 5-3 4-3 4-2 4-3 4-3 5-2 4-3 4-2 5-3 4-2 5-2 4-2 5-2 4-3 5-2 5M231 833l0-3 0-4 0-3 0-3 1-4 0-3 0-4 0-3 0-4 0-4 1-3 0-4 0-3 1-4 0-4 0-4 1-3 0-4 1-4 0-3 1-4 0-4 1-4 1-3 0-4 1-4 1-4 1-3 1-4 1-4 1-4 1-3 1-4 2-4 1-3 1-4 2-3 1-4 2-3 1-4 2-3 2-4 1-3 2-3 2-4 2-3 2-3 2-3 2-3 3-3 2-3 2-3 3-3 2-2 3-3 2-3 3-2 3-2 2-3 3-2 3-2 3-2 3-2 3-2 3-2 3-2 3-2 3-1 3-2 3-1 4-1 3-1 3-1 3-1 4-1 3-1 3-1 4 0 3-1 4 0 3 0 3 0 4 0 3 0 4 0 3 0 3 1 4 0 3 1 3 0 4 1 3 1 3 1 4 1 3 1 3 2 3 1 3 2 3 1 4 2 3 2 3 2 2 2 3 2 3 2 3 2 3 2 2 3 3 2 3 3 2 2 3 3 2 3 2 2 3 3 2 3 2 3 2 3 2 3 2 4 2 3 2 3 2 3 2 4 1 3 2 3 1 4 2 3 1 4 2 3 1 4 1 4 2 3 1 4 1 4 1 3 1 4 1 4 1 3 1 4 0 4 1 3 1 4 0 4 1 4 1 3 0 4 1 4 0 3 0 4 1 4 0 3 1 4 0 4 0 3 0 4 1 3 0 4 0 3 0 4 1 3 0 4 0 3 0 3 1 4 0 3 0 3 0 3 0 3 1 4M301 880l1-2 2-3 1-2 1-3 1-2 1-3 1-3 1-3 1-2 0-3 1-3 1-3 1-3 0-3 1-3 0-3 1-3 0-3 1-3 0-4 1-3 0-3 1-3 0-4 0-3 1-4 0-3 1-3 0-4 0-3 1-4 0-3 1-4 0-4 0-3 1-4 0-3 1-4 0-4 1-3 1-4 0-4 1-3 0-4 1-4 1-3 1-4 0-4 1-3 1-4 1-4 1-3 1-4 1-3 1-4 1-3 2-4 1-4 1-3 2-3 1-4 2-3 1-3 2-4 1-3 2-3 2-3 2-3 1-4 2-3 2-2 2-3 3-3 2-3 2-3 2-2 2-3 3-2 2-3 3-2 2-2 3-2 2-3 3-2 3-1 3-2 2-2 3-2 3-1 3-2 3-1 3-1 3-2 3-1 3-1 3-1 4-1 3 0 3-1 3 0 3-1 4 0 3 0 3 0 4 0 3 0 3 0 4 1 3 0 3 1 4 0 3 1 3 1 3 1 4 1 3 1 3 1 3 2 4 1 3 2 3 2 3 2 3 1 3 2 3 3 3 2 3 2 3 2 2 3 3 2 3 3 3 3 2 3 3 3 2 3 3 3 2 3 2 3 3 3 2 3 2 4 2 3 2 4 2 3 2 4 1 4 2 3 2 4 1 4 2 4 1 4 2 4 1 4 1 4 1 4 1 4 1 4 1 4M454 673l0-4 0-3 0-4 1-4 0-3 0-4 1-3 0-4 0-3 1-4 0-3 1-4 1-3 0-3 1-4 1-3 0-3 1-3 1-3 1-3 1-3 1-3 1-3 1-3 1-3 2-3 1-2 1-3 2-3 1-2 2-3 1-2 2-2 2-3 2-2 2-2 1-2 2-2 2-2 3-1 2-2 2-2 2-1 3-2 2-1 3-1 2-2 3-1 2-1 3-1 3 0 3-1 3-1 2 0 3 0 3-1M260 511l-1 3-1 3-1 3-1 4-2 3-1 3-1 3-2 4-1 3-1 3-2 4-1 3-2 4-1 3-2 4-1 3-2 4-1 3-2 4-1 3-2 4-2 4-1 3-2 4-2 4-1 3-2 4-1 4-2 4-2 3-1 4-2 4-1 4-2 4-1 4-2 4-1 4-2 4-1 4-1 4-2 4-1 4-1 4-1 4-2 4-1 4-1 5-1 4-1 4-1 4-1 4 0 5-1 4-1 4 0 4-1 5 0 4-1 4 0 5M395 896l3-2 3-2 3-2 3-2 2-2 3-3 2-2 2-3 3-2 2-3 2-3 2-3 2-2 1-3 2-3 2-3 1-3 2-3 1-3 2-4 1-3 1-3 1-3 1-3 1-4 1-3 1-4 1-3 0-3 1-4 1-3 0-4 1-3 0-4 1-4 0-3 1-4 0-3 0-4 0-4 1-4 0-3 0-4 0-4 0-4 0-3 1-4 0-4 0-4 0-3 0-4 0-4 0-4 0-4 0-4 0-3 0-4 0-4 0-4 0-4 0-3 0-4 0-4 0-4 1-3 0-4 0-4 0-4M180 716l0-5 1-5 1-5 2-5 1-5 1-5 2-5 1-4 2-5 2-5 2-4 2-5 2-4 2-4 3-5 2-4 3-4 2-4 3-4 3-4 3-4 3-3 3-4 3-3 3-3 4-4 3-3 3-3 4-3 4-2 3-3 4-2 4-3 3-2 4-2 4-2 4-2 4-1 4-2 4-1 4-1 4-1 5-1 4-1 4-1 4 0 4 0 4-1 4 0 4 0 4 1 4 0 4 1 4 0 4 1 4 1 4 1 4 1 4 2 4 1 3 2 4 2 4 1 3 2 4 2 3 3 3 2 4 3 3 2 3 3 3 3 3 2 3 3 3 4 2 3 3 3 3 3 2 4 3 3 2 4 2 4 2 3 2 4 2 4 2 4 2 4 2 4 1 4 2 4 1 4 2 5 1 4 1 4 1 5 1 4 1 4 1 5 1 4 1 5 0 4 1 5 1 4 0 5 0 4 1 5 0 4 0 5 1 4 0 4 0 5 0 4 0 5 0 4 0 5-1 4 0 4 0 4 0 5 0 4-1 4 0 4 0 4 0 5-1 4 0 4 0 4 0 4-1 4 0 3 0 4 0 4 0 4-1 4 0 3 0 4 0 3 0 4 0 3 0 4 0 3 1 4 0 3M247 523l4 0 4 0 3 1 4 0 4 1 3 1 4 1 3 1 3 1 4 2 3 1 3 2 3 1 3 2 3 2 2 2 3 2 3 3 2 2 3 2 2 3 2 3 2 2 2 3 2 3 2 3 2 3 2 3 1 4 2 3 1 3 2 4 1 3 1 4 1 4 1 3 1 4 1 4 1 4 1 4 1 4 0 4 1 4 0 4 1 4 0 4 0 4 1 5 0 4 0 4 0 5 0 4 0 4 0 5 0 4 0 5 0 4-1 5 0 4 0 4 0 5-1 4 0 5 0 4-1 5 0 4-1 5 0 4 0 5-1 4 0 4 0 5-1 4 0 4-1 5 0 4 0 4 0 5-1 4 0 4 0 4 0 4 0 4 0 4 0 4 0 5 0 3 0 4 0 4 0 4 1 4 0 4 1 4 0 4 1 3 0 4 1 4 1 3 1 4 1 3 1 4 2 3 1 4 1 3 2 3 2 4 2 3 2 3 2 3M590 648l-2-4-3-5-2-4-3-5-2-4-3-4-3-5-3-4-2-4-3-4-3-5-3-4-3-4-3-4-3-4-3-4-3-4-3-4-4-3-3-4-3-4-3-4-3-4-3-3-4-4-3-4-3-3-3-4-3-3-3-4-4-3-3-4-3-3-3-4-3-3-3-3-3-4-3-3-3-3-3-4-3-3M188 598l4-4 3-3 4-4 3-3 4-3 4-3 4-2 3-3 4-2 4-3 4-2 4-2 4-2 4-1 4-2 5-1 4-1 4-1 4-1 4-1 4-1 4 0 4 0 4 0 4 0 4 0 4 0 4 0 4 1 3 1 4 1 4 1 4 1 3 1 4 1M190 742l1-4 1-4 1-4 0-4 1-4 2-4 1-4 1-4 1-4 1-4 2-3 1-4 2-4 1-3 2-4 2-4 2-3 1-4 2-3 2-3 2-4 3-3 2-3 2-3 2-3 3-3 2-3 3-3 2-3 3-3 2-2 3-3 3-2 3-3 3-2 2-2 3-2 3-2 3-2 3-2 4-2 3-1 3-2 3-1 3-2 4-1 3-1 3-1 3-1 4-1 3-1 3 0 4-1 3 0 3 0 4-1 3 0 3 0 4 0 3 1 3 0 4 0 3 1 3 1 4 0 3 1 3 1 3 1 3 1 3 2 3 1 3 2 3 1 3 2 3 1 3 2 3 2 3 2 2 2 3 2 3 3 2 2 3 2 2 3 3 2 2 3 2 3 3 2 2 3 2 3 2 3 2 3 2 3 2 3 2 3 2 3 2 4 1 3 2 3 1 3 2 4 1 3 2 4 1 3 1 4 2 3 1 4 1 3 1 4 1 4 1 3 1 4 1 4 1 3 1 4 0 4 1 3 1 4 0 4 1 3 1 4 0 3 1 4 0 4 1 3 0 4 1 4 0 3 0 4 1 3 0 4 1 3 0 4 0 3 1 3 0 4 0 3 1 4 0 3 0 3 1 3 0 3 1 4 0 3 1 3 0 3 1 3 0 3 1 3 1 3 0 3 1 2 1 3 0 3 1 2 1 3 1 3M255 855l-1-4 0-4-1-4 0-4-1-4 0-4-1-4 0-4-1-4 0-5-1-4 0-4-1-5 0-4 0-5 0-4-1-4 0-5 0-4 0-5 0-5 0-4 0-5 0-4 1-5 0-4 0-5 1-5 0-4 1-5 1-4 0-5 1-5 1-4 1-5 1-4 2-5 1-4 1-4 2-5 1-4 2-4 2-5 2-4 1-4 2-4 3-4 2-4 2-4 3-4 2-3 3-4 2-3 3-4 3-3 3-4 3-3 3-3 3-3 3-3 4-2 3-3 4-3 3-2 4-2 3-3 4-2 4-1 4-2 3-2 4-1 4-2 4-1 4-1 4-1 5-1 4-1 4 0 4-1 4 0 4 0 4 0 5 0 4 0 4 1 4 0 4 1 4 1 4 1 4 1 5 1 3 2 4 1 4 2 4 2 4 2 4 2 3 2 4 2 4 3 3 3 4 2 3 3 3 3 4 3 3 3 3 3 3 4 3 3 2 4 3 3 3 4 2 4 3 4 2 4 2 4 2 4 3 4 2 4 1 4 2 5 2 4 1 4 2 5 1 4 2 5 1 4 1 5 1 5 1 4 1 5 0 5 1 4 1 5 0 5 1 4 0 5 0 5 0 4 1 5 0 5 0 4 0 5-1 5 0 4 0 5 0 5-1 4 0 5-1 4 0 5-1 4 0 4-1 5-1 4 0 4M431 823l1 4 0 3 1 3 1 3 0 3 1 3 1 3 0 3 1 3 1 3 1 3 1 2 1 3 1 3 1 3 1 2 1 3 2 2 1 3 1 2 2 2 1 2M175 684l1-4 2-4 2-4 2-3 2-4 2-3 2-4 2-3 2-4 3-3 2-3 2-3 3-4 2-3 3-2 3-3 2-3 3-3 3-2 3-3 3-2 3-2 3-3 3-2 3-2 3-2 3-1 3-2 3-2 3-1 4-2 3-1 3-1 3-1 4-1 3-1 3-1 3 0 4-1 3 0 3-1 4 0 3 0 3 0 3 0 4 0 3 1 3 0 3 1 3 0 4 1 3 1 3 1 3 1 3 1 3 1 3 2 3 1 3 2 2 1 3 2 3 2 3 1 2 2 3 2 2 3 3 2 2 2 3 2 2 3 2 2 2 3 3 3 2 2 2 3 2 3 2 3 2 3 2 3 1 3 2 3 2 3 1 3 2 4 1 3 2 3 1 4 2 3 1 3 1 4 1 3 2 4 1 3 1 4 1 4 1 3 1 4 1 3 0 4 1 4 1 3 1 4 0 4 1 3 1 4 0 4 1 4 0 3 1 4 0 3 1 4 0 4 1 3 0 4 1 4 0 3 1 4 0 3 0 4 1 3 0 4 0 3 1 4 0 3 1 3 0 4 1 3 0 3 1 3 0 4M260 512l0 2 1 3 0 3-1 3 0 3 0 3 0 3 0 3-1 3 0 3-1 4 0 3-1 3 0 3-1 4-1 3 0 3-1 4-1 3-1 4-1 3-1 4-1 3-1 4 0 3-1 4-1 3-2 4-1 4-1 3-1 4-1 4-1 4-1 3-1 4-1 4-1 4-1 4-1 3-1 4-1 4-1 4-1 4-1 4-1 4-1 4-1 4-1 4-1 4-1 4-1 4-1 4 0 4-1 4-1 4 0 4-1 4 0 4-1 4 0 5 0 4-1 4 0 4 0 4 0 4 0 4 0 4 0 4 0 4M218 790l1 4 0 4 1 4 1 4 2 4 1 4 1 4 2 4 1 3 2 4 1 4 2 4M432 891l3-2 3-2 2-3 3-2 3-3 2-3 3-2 2-3 3-3 2-3 2-3 2-3 2-3 2-3 1-4 2-3 2-3 1-3 1-4 2-3 1-4 1-3 1-4 1-3 1-4 1-3 1-4 1-3 0-4 1-4 0-3 1-4 0-4 1-4 0-3 0-4 0-4 1-4 0-3 0-4 0-4 0-4 0-4 0-4 0-3 0-4 0-4-1-4 0-4 0-4 0-4 0-4-1-4 0-3 0-4 0-4-1-4 0-4 0-4-1-4 0-3 0-4 0-4-1-4 0-4 0-3 0-4-1-4 0-4 0-3 0-4 0-4 0-3 0-4 0-3 0-4 0-3 0-4 0-3 0-4 0-3 1-3 0-4 0-3 1-3 0-3 0-3 1-3 1-3 0-3 1-3 1-3 1-3 0-3 1-3 1-2 1-3 2-3 1-2 1-3 1-2 2-2 1-3 2-2 1-2 2-2 2-2 2-2 1-2 2-1 2-2 2-2 3-1 2-2" stroke="url(#gr1)"/><path d="M254 518l3 1 4 1 3 0 4 1 3 2 4 1 3 1 3 2 3 1 3 2 3 2 3 2 2 2 3 2 3 2 2 2 2 3 3 2 2 3 2 3 2 3 2 3 2 2 1 4 2 3 2 3 1 3 1 4 2 3 1 3 1 4 1 4 1 3 1 4 1 4 1 4 0 4 1 3 0 4 1 5 0 4 1 4 0 4 0 4 0 4 1 5 0 4 0 4 0 5-1 4 0 4 0 5 0 4 0 5-1 4 0 4 0 5-1 4 0 5 0 4-1 5 0 4-1 5 0 4 0 5-1 4 0 4-1 5 0 4-1 5 0 4 0 4-1 5 0 4 0 4-1 5 0 4 0 4 0 4-1 4 0 4 0 5 0 4 0 4 0 4 0 4 1 4 0 4 0 3 1 4 0 4 1 4 1 4 0 3 1 4 1 4 1 3 1 4 1 4 2 3 1 3 2 4 2 3 1 3 2 4 2 3 2 3M594 674l-2-5-2-5-2-4-3-5-2-5-2-4-2-5-3-4-2-4-3-5-3-4-2-4-3-5-3-4-2-4-3-4-3-4-3-4-3-4-3-4-3-4-2-4-3-4-3-4-3-4-3-4-3-4-3-4-3-3-3-4-3-4-3-3-3-4-3-4-3-3-3-4-3-3-3-4-3-3-3-4-3-3-3-4-2-3-3-3-3-4-2-3M261 511l0 3-1 3-1 3 0 4-1 3-1 3 0 3-1 3-1 3-1 4-1 3-1 3-1 4-1 3-1 3-1 4-2 3-1 4-1 3-1 4-1 3-2 4-1 4-1 3-2 4-1 4-1 3-2 4-1 4-1 3-2 4-1 4-1 4-2 4-1 4-1 3-2 4-1 4-1 4-1 4-2 4-1 4-1 4-1 4-1 4-1 4-1 4-1 4-1 4-1 4-1 5-1 4 0 4-1 4-1 4 0 4-1 4 0 5-1 4 0 4 0 4 0 4-1 5 0 4M410 896l4-2 3-2 2-2 3-3 3-2 3-3 2-2 3-3 2-2 2-3 2-3 2-3 2-3 2-3 2-3 2-3 2-3 1-3 2-3 1-3 1-4 2-3 1-3 1-4 1-3 1-4 1-3 1-4 0-3 1-4 1-3 0-4 1-3 0-4 1-4 0-3 0-4 1-4 0-3 0-4 0-4 1-4 0-3 0-4 0-4 0-4 0-4 0-3 0-4 0-4 0-4 0-4 0-4-1-4 0-3 0-4 0-4 0-4 0-4 0-4 0-3 0-4-1-4 0-4 0-4 0-3 0-4 0-4 0-4 0-3 0-4 0-4 0-3 1-4 0-3 0-4 0-3 0-4 1-3 0-4 0-3 1-4 0-3 1-3 0-3 1-3 1-4 0-3 1-3 1-3 1-3 1-3 1-2 1-3 1-3 1-3 2-2 1-3 1-2 2-3 1-2 2-2 1-3 2-2 2-2 2-2 1-2 2-2 2-1 2-2 3-2 2-1 2-2 2-1 3-1 2-2 3-1 2-1 3-1M181 637l-3 4-2 5-2 4M407 896l2-3 2-3 2-3 1-3 2-4 1-3 2-4 1-3 1-3 1-4 1-4 1-3 1-4 1-4 0-3 1-4 0-4 1-4 0-4 0-4 0-4 1-4 0-4 0-4 0-4 0-4 0-4-1-4 0-4 0-4 0-5-1-4 0-4 0-4-1-5 0-4 0-4-1-5 0-4-1-5 0-4 0-4-1-5 0-4-1-5 0-4 0-5-1-4 0-5 0-4 0-5-1-4 0-4 0-5 0-4 0-5 0-4 0-4 0-5 0-4 0-4 0-5 1-4 0-4 0-4 1-4 0-4 1-4 1-4 0-4 1-4 1-4 1-4 1-4 1-3 1-4 2-3 1-4 2-3 1-3 2-4 1-3 2-3 2-3 2-3 2-3 2-2 2-3 3-3 2-2 3-2 2-3 3-2 2-2 3-2 3-2 3-1 3-2 3-2 4-1 3-1 3-1 4-1 3-1 4-1 4 0 3-1 4 0 4 0M297 492l-1 3-1 3-1 4-1 3 0 4-2 3-1 4-1 3-1 4-1 3-2 4-1 4-2 3-1 4-2 4-1 4-2 4-2 3-2 4-1 4-2 4-2 4-2 4-2 4-2 4-2 4-2 4-2 4-2 4-2 5-2 4-2 4-2 4-2 4-1 5-2 4-2 4-2 5-2 4-2 4-2 5-2 4-2 5-2 4-1 4-2 5-2 4-1 5-2 4-1 5-2 4-1 5-2 5-1 4-1 5-1 4-1 5-1 5-1 4-1 5-1 5 0 4-1 5M273 560l2 2 2 2 2 2 2 2 2 2 1 2 2 3 2 2 1 2 2 3 1 3 2 2 1 3 1 3 2 2 1 3 1 3 1 3 1 3 1 3 1 3 1 4 0 3 1 3 1 3 1 4 0 3 1 4 0 3 1 4 0 3 1 4 0 3 0 4 1 3 0 4 0 4 0 3 1 4 0 4 0 4 0 3 0 4 0 4 0 4 1 3 0 4 0 4 0 4 0 4 0 4 0 3 0 4 0 4 0 4 0 4 0 3 0 4 0 4 0 4 1 3 0 4 0 4 0 4 0 3 1 4 0 4 0 3 1 4 0 4 1 3 0 4 1 3 0 4 1 3 0 4 1 3 1 3 1 4 1 3 1 4 1 3 1 3 1 3 1 3 2 4 1 3 1 3 2 3 1 3 2 3 2 3 2 2 2 3 2 3 2 2 2 3 2 3 3 2 2 2 3 3 2 2 3 2 3 2 3 2M581 755l1-4 0-5 0-4-1-4 0-5 0-4-1-4 0-5-1-4 0-4-1-5-1-4 0-4-1-4-1-5-1-4-1-4-1-4-2-4-1-4-1-5-1-4-2-4-1-4-1-4-2-4-1-4-2-4-1-4-2-4-1-4-2-3-2-4-1-4-2-4-2-4-1-4-2-3-2-4-1-4-2-3-2-4-1-4-2-3-2-4-1-4-2-3-1-4-2-3-2-4-1-3-2-3-1-4-2-3-1-4-2-3-1-3-2-3-1-4-1-3-1-3-2-3-1-3M227 542l3 0 3 0 3 0 3 1 3 1 2 0 3 1 3 1 2 1 3 1 3 1 2 2 2 1 3 2 2 1 2 2 3 2 2 1 2 2M255 516l1 3 1 2 1 2 1 3 1 2 1 3 1 2 1 3 0 3 1 2 0 3 1 3 0 3 1 3 0 3 0 3 1 3 0 3 0 3 0 3 0 4 0 3 0 3-1 3 0 4 0 3 0 4-1 3 0 3 0 4-1 3 0 4-1 4 0 3-1 4 0 4-1 3 0 4-1 4 0 3-1 4-1 4 0 4-1 4 0 3-1 4-1 4 0 4-1 4-1 4 0 4-1 4 0 4-1 4 0 3-1 4 0 4-1 4 0 4-1 4 0 4 0 4-1 4 0 4 0 4 0 4 0 4 0 4-1 4 1 4 0 4 0 3 0 4 0 4 0 4 1 4 0 4 1 4 0 4 1 3 1 4 1 4 0 4 1 3 2 4 1 4 1 3 1 4 2 4 1 3 2 4 1 3 2 4 2 3 2 3 2 4 2 3 2 3 3 3 2 3 3 3 2 3 3 3M478 875l3-3 3-3 2-3 3-3 2-3 2-4 2-3 2-3 2-4 2-3 2-4 2-3 1-4 2-3 1-4 1-4 1-3 2-4 1-4 1-3 0-4 1-4 1-4 0-4 1-4 1-3 0-4 0-4 1-4 0-4 0-4 0-4 0-4 0-4 0-4 0-4 0-4 0-4-1-4 0-4 0-4-1-3 0-4-1-4 0-4-1-4 0-4-1-4 0-4-1-4 0-4-1-4-1-4 0-4-1-4-1-3 0-4-1-4-1-4 0-4-1-4-1-3 0-4-1-4-1-4 0-3-1-4 0-4-1-3 0-4-1-4 0-3-1-4 0-3-1-4 0-3 0-4-1-3 0-3 0-4 0-3 0-3 0-3 0-3 0-4 0-3 0-3 0-3 0-3 1-3 0-3 1-2 0-3 1-3 0-3 1-2 1-3 1-2 0-3 1-2 2-3 1-2M364 897l3-2 3-2 2-2 2-2 3-2 2-3 2-2 2-2 2-3 2-2 2-3 2-3 1-2 2-3 1-3 2-3 1-3 2-2 1-3 1-3 1-4 1-3 1-3 1-3 1-3 1-3 0-4 1-3 1-3 1-4 0-3 1-3 0-4 1-3 0-4 1-3 0-4 0-3 1-4 0-4 0-3 1-4 0-4 0-3 0-4 1-4 0-3 0-4 0-4 1-4 0-3 0-4 0-4 1-4 0-3 0-4 0-4 1-4 0-4 0-3 1-4 0-4 1-3 0-4 1-4 0-4 1-3 0-4 1-3 0-4 1-4 1-3 1-4 0-3 1-4 1-3 1-3 1-4 1-3 1-3 1-3 2-3 1-4 1-3 1-3 2-2 1-3 2-3 1-3 2-3 2-2 1-3 2-2 2-3 2-2 2-3 2-2 2-2 2-2 2-2 2-2 3-2 2-1 2-2 3-2 2-1 3-2 2-1 3-1 3-1 2-1 3-1 3-1 3-1 3 0 3-1 3 0 3-1 3 0 3 0 3 0 3 0 4 0 3 1 3 0 3 1 4 0 3 1 3 1 3 1 4 1M247 521l-2 3-2 3-2 4-3 3-2 3-2 4-2 3-3 4-2 3-2 3-2 4-2 4-3 3-2 4-2 3-2 4-3 4-2 3-2 4-2 4-2 4-2 3-2 4-2 4-2 4-3 4-1 4-2 4-2 4-2 4-2 4-2 4-2 4-1 5-2 4M295 492l-3 4-3 3-3 3-3 4-2 3-3 3-3 4-3 3-3 4-3 3-3 4-4 3-3 4-3 4-3 3-3 4-3 4-3 3-3 4-3 4-3 4-3 4-3 4-3 3-3 4-3 4-3 4-3 4-3 5-3 4-3 4-3 4-3 4-2 5-3 4-3 4-2 5-3 4-2 4-2 5-3 4-2 5M410 894l2-3 2-3 2-3 2-4 1-3 2-3 1-4 1-3 2-4 1-3 1-4 0-4 1-3 1-4 0-4 1-4 0-4 1-3 0-4 0-4 0-4 1-4 0-4 0-4 0-4-1-5 0-4 0-4 0-4 0-4-1-4 0-5 0-4-1-4 0-5 0-4-1-4 0-5-1-4 0-5 0-4-1-4 0-5-1-4 0-5 0-4-1-5 0-4 0-5-1-4 0-5 0-4 0-5-1-4 0-4 0-5 0-4 0-4 0-5 0-4 0-4 1-5 0-4 0-4 1-4 0-4 1-4 0-4 1-4 1-4 0-4 1-4 1-4 1-3 1-4 2-3 1-4 1-3 2-4 1-3 2-3 2-3 1-3 2-3 2-3 2-3 2-3 3-2 2-3 2-2 3-3 2-2 3-2 3-2 3-2 2-2 3-1 4-2 3-2 3-1 3-1 4-1 3-1 4-1 3-1 4 0 4-1 4 0M566 735l0-5 0-4-1-4 0-4-1-4-1-5 0-4-1-4-1-4-1-4-1-4 0-4-1-4-2-4-1-5-1-4-1-4-1-4-1-4-1-4-2-4-1-4-1-3-2-4-1-4-1-4-2-4-1-4-1-4-2-3-1-4-2-4-1-4-1-3-2-4-1-4-2-3-1-4-1-4-2-3-1-4-1-3-1-4-2-3-1-4-1-3-1-3-1-4-2-3-1-3-1-4-1-3-1-3 0-3-1-4-1-3-1-3-1-3 0-3-1-3M236 532l2 1 3 1 3 1 2 1 3 1 2 2 2 1 3 2 2 1 2 2 2 2 2 1 2 2 2 2 2 2 2 2 1 3 2 2 1 2 2 3 1 2 2 3 1 2 1 3 1 2 2 3 1 3 1 3 1 3 1 3 0 3 1 3 1 3 1 3 0 3 1 4 0 3 1 3 0 3 1 4 0 3 0 4 1 3 0 4 0 3 0 4 1 4 0 3 0 4 0 4 0 3 0 4 0 4 0 3 0 4 0 4 0 4 0 4 0 3 0 4 0 4-1 4 0 4 0 4 0 3 0 4 0 4 0 4 0 4 0 4 0 3 0 4 0 4 0 4 0 4 0 3 0 4 0 4 1 4 0 3 0 4 0 4 1 4 0 3 1 4 0 3 1 4 0 4 1 3 0 4 1 3 1 4 1 3 1 4 1 3 1 3 1 4 1 3 2 3 1 3 1 4 2 3 2 3 1 3 2 3 2 3 2 3 2 3 2 2 2 3 2 3 3 2 2 3 3 2 3 3 2 2 3 2 3 3 3 2M562 797l1-4 0-5 1-4 1-4 0-4 1-4 0-5 1-4 0-4 0-4 0-5 0-4 0-4 0-4-1-5 0-4M542 685l2 3 1 4 2 4 1 3 2 4 1 4 1 3 2 4 1 4 1 4 1 4 1 4 1 3 1 4 0 4 1 4 1 4 0 4 1 4 0 4 1 4 0 4 1 4 0 3 0 4 1 4 0 4 0 4M274 867l1-3 1-3 0-3 1-2 1-3 0-3 1-3 0-3 1-3 0-3 0-4 1-3 0-3 1-3 0-3 0-4 1-3 0-3 0-4 1-3 0-4 0-3 1-4 0-3 0-4 1-3 0-4 1-3 0-4 0-3 1-4 1-4 0-3 1-4 0-4 1-3 1-4 0-4 1-3 1-4 1-4 1-3 1-4 1-4 1-3 1-4 1-3 1-4 2-4 1-3 1-4 2-3 1-3 2-4 1-3 2-3 2-4 2-3 1-3 2-3 2-3 2-3 2-3 3-3 2-3 2-3 2-3 3-2 2-3 3-3 2-2 3-2 2-3 3-2 3-2 3-2 2-2 3-2 3-2 3-1 3-2 3-2 3-1 3-1 4-2 3-1 3-1 3-1 3-1 4 0 3-1 3 0 4-1 3 0 3 0 4-1 3 0 3 1 4 0 3 0 4 1 3 0 3 1 4 0 3 1 3 1 4 1 3 1 3 2 3 1 3 1 4 2 3 2 3 1 3 2 3 2 3 2 3 2 3 2 2 3 3 2 3 3 3 2 2 3 3 2 2 3 3 3 2 3 3 3 2 3 2 3 2 3 2 3 2 4 2 3 2 3 2 4 2 3 2 4 1 3M471 520l1-3 2-3 1-2 2-3 2-3 1-2 2-3 2-2M282 498l2 2 1 3 2 3 1 2 2 3 1 3 1 3 1 3 1 3 1 3 1 3 0 4 1 3 0 3 1 4 0 3 0 4 1 3 0 4 0 4 0 3 0 4-1 4 0 4 0 4-1 4 0 3-1 4 0 4-1 5 0 4-1 4-1 4-1 4-1 4 0 5-1 4-1 4-1 4-1 5-1 4-1 4-1 5-1 4-1 5-1 4-1 4-2 5-1 4-1 5-1 4-1 5-1 4-1 5-1 4-1 5-1 4-1 4 0 5-1 4-1 5-1 4-1 5 0 4-1 5 0 4-1 4 0 5-1 4 0 5 0 4-1 4 0 5 0 4 0 4 0 5 1 4 0 4 0 4 1 5 0 4 1 4 1 4 1 4 1 4 1 5 1 4 2 4 1 4 2 4 1 4 2 3 2 4M553 810l0-4 1-5 1-5 0-4 0-5 1-5 0-4 0-5-1-5 0-4 0-5-1-5 0-4-1-5-1-5 0-4-1-5-1-4-1-5-1-5-2-4-1-5-1-4-1-5-2-4-1-5-2-4-1-5-2-4-1-5-2-4-2-5-2-4-1-4-2-5-2-4-2-5-1-4-2-4-2-5-2-4-2-4-2-4-2-5-1-4-2-4-2-4-2-4-2-4-1-4-2-4-2-4-2-4-1-4-2-4-1-4-2-4-2-4-1-4-1-4-2-3-1-4-1-4-2-4-1-3-1-4-1-3-1-4-1-3 0-4-1-3-1-4 0-3-1-4 0-3 0-3M560 800l1-5 0-5 0-4 1-5 0-5 0-5-1-4 0-5 0-5-1-5 0-4-1-5-1-5 0-4-1-5-1-5-1-4-2-5-1-4-1-5-1-4-2-5-1-5-2-4-1-5-2-4-2-5-1-4-2-4-2-5-1-4-2-5-2-4-2-4-2-5-2-4-2-4-2-5-2-4-2-4-2-4-2-5-2-4-1-4-2-4-2-4-2-4-2-4-2-4-2-4-2-4-2-4-1-4-2-4-2-4-1-4-2-4-2-4-1-3-2-4-1-4-1-3-2-4-1-4-1-3-1-4-1-3-1-4-1-3-1-4-1-3-1-4 0-3M250 521l4 0 4 1 3 0 4 1 4 1 3 1 3 1 4 1 3 2 3 1 3 2 3 2 3 2 3 2 2 2 3 2 2 2 3 3 2 2 2 3 3 2 2 3 2 3 2 3 1 3 2 3 2 3 1 3 2 4 1 3 1 4 2 3 1 4 1 3 1 4 1 4 1 4 0 4 1 4 1 4 0 4 1 4 0 4 1 4 0 4 0 4 0 5 0 4 1 4 0 5 0 4-1 4 0 5 0 4 0 5 0 4 0 5-1 4 0 5 0 4-1 4 0 5 0 4-1 5 0 4-1 5 0 4 0 5-1 4 0 4-1 5 0 4 0 4-1 5 0 4 0 4-1 5 0 4 0 4 0 4-1 4 0 4 0 5 0 4 0 4 0 4 1 4 0 4 0 3 0 4 1 4 0 4 1 4 0 4 1 3 1 4 1 4 1 3 1 4 1 3 2 4 1 3 1 3 2 4 2 3 2 3 2 3 2 3M472 878l2-4 2-4 2-4 1-3 2-4 2-4 1-4 1-4 1-4 1-4 1-4 1-4 1-4 1-4 0-5 1-4 0-4 0-4 0-4 0-5 0-4 0-4 0-5 0-4 0-4-1-5 0-4 0-4-1-5 0-4-1-4-1-5 0-4-1-5-1-4-1-5 0-4-1-4-1-5-1-4-1-5-1-4-1-5-1-4-1-5-1-4-1-5 0-4-1-4-1-5-1-4-1-5-1-4-1-4-1-5-1-4 0-4-1-5-1-4 0-4-1-4-1-5 0-4-1-4 0-4-1-4 0-4 0-4 0-4-1-4 0-4 0-3 0-4 1-4 0-3 0-4 0-4 1-3 0-4 1-3 1-3 0-4 1-3 1-3 1-3 1-3 2-3 1-3 2-3 1-3 2-2 1-3 2-2 2-3 2-2 2-2M283 497l2 3 1 3 2 2 1 3 1 3 1 3 1 3 1 3 1 3 1 3 1 4 0 3 1 3 0 4 0 3 1 4 0 3 0 4 0 3 0 4 0 4-1 3 0 4 0 4-1 4 0 4-1 4 0 4-1 4-1 4 0 4-1 4-1 4-1 5-1 4-1 4-1 4-1 5-1 4-1 4-1 5-1 4-1 4-1 5-1 4-1 5-1 4-1 4-1 5-2 4-1 5-1 4-1 5-1 4-1 5-1 4-1 5-1 4 0 5-1 4-1 4-1 5-1 4 0 5-1 4 0 5-1 4 0 4-1 5 0 4 0 5-1 4 0 4 0 5 0 4 1 4 0 5 0 4 1 4 0 4 1 5 0 4 1 4 1 4 1 4 2 4 1 4 1 4 2 5 2 3 1 4 2 4M249 520l2 2 2 2 2 2 1 2 2 2 1 2 1 2 2 3 1 2 1 2 1 3 1 3 1 2 1 3 1 3 1 2 0 3 1 3 1 3 0 3 1 3 0 3 0 3 1 3 0 3 0 4 0 3 0 3 0 3 0 4 0 3 0 4 0 3 0 4 0 3 0 4 0 3-1 4 0 4 0 3-1 4 0 4 0 3-1 4 0 4 0 4-1 3 0 4-1 4 0 4 0 4-1 4 0 3-1 4 0 4-1 4 0 4 0 4-1 4 0 4 0 4-1 4 0 3 0 4 0 4-1 4 0 4 0 4 0 4 0 4 0 4 0 3 0 4 0 4 0 4 1 4 0 4 0 3 1 4 0 4 1 4 0 3 1 4 1 4 0 4 1 3 1 4 1 3 1 4 2 4 1 3 1 3 2 4 1 3 2 4 1 3 2 3 2 4 2 3 2 3 2 3 3 3 2 3 2 3 3 3 3 3 2 2 3 3 3 2 3 3M506 857l3-3 2-3 2-4 2-3 2-4 2-4 2-3 1-4 2-4 1-3 2-4 1-4 1-4 1-4 1-4 1-4 1-3 0-4 1-4 0-4 1-4 0-4 1-4 0-4 0-4 0-4 0-4 0-4 0-4 0-4 0-4-1-4 0-5 0-4-1-4 0-4-1-4 0-4-1-4 0-4-1-4-1-4 0-4-1-4-1-4-1-4 0-3-1-4-1-4-1-4-1-4-1-4-1-4 0-4-1-4-1-3-1-4-1-4-1-4-1-3-1-4-1-4 0-4-1-3-1-4-1-4-1-3 0-4-1-3-1-4 0-3-1-4-1-3 0-3-1-4 0-3-1-3 0-4 0-3-1-3 0-3 0-3 0-4 0-3 0-3 0-3 0-3 0-2 0-3 0-3 1-3 0-3 1-2 0-3M288 874l1-3 1-2 1-3 1-2 0-3 1-3 1-3 1-3 0-2 1-3 0-3 1-3 0-4 1-3 0-3 1-3 0-3 1-3 0-4 0-3 1-3 0-4 0-3 1-3 0-4 1-3 0-4 0-3 1-4 0-3 1-4 0-4 0-3 1-4 0-3 1-4 1-4 0-3 1-4 0-4 1-3 1-4 1-4 1-3 0-4 1-4 1-3 1-4 1-4 1-3 1-4 2-3 1-4 1-3 2-4 1-3 1-4 2-3 2-3 1-4 2-3 2-3 1-3 2-3 2-4 2-3 2-3 2-2 2-3 3-3 2-3 2-2 3-3 2-3 2-2 3-2 3-3 2-2 3-2 3-2 2-2 3-2 3-2 3-1 3-2 3-2 3-1 3-1 3-1 3-2 3-1 4-1 3 0 3-1 3-1 4 0 3-1 3 0 3 0 4 0 3 0 3 0 4 0 3 0 4 1 3 0 3 1 3 1 4 0 3 1 3 1 4 2 3 1 3 1 3 2 3 1 4 2 3 2 3 1 3 2 3 2 3 3 3 2 2 2 3 3 3 2 3 3 2 2 3 3 2 3 3 3 2 3 3 3 2 3 2 3 2 3 3 3 2 4 2 3 1 4 2 3 2 4 2 3 1 4 2 4 2 3 1 4 1 4 2 4 1 4 1 4 1 4 1 3 1 4 1 4 1 4 1 4 1 4 0 4 1 4 0 5 1 4 0 4M218 776l0-4 1-3 0-4 1-4 0-4 1-4 0-3 1-4 1-4 1-4 0-4 1-4 1-3 1-4 1-4 2-4 1-3 1-4 1-4 2-3 1-4 2-3 1-4 2-3 2-4 1-3 2-4 2-3 2-3 2-3 2-4 2-3 2-3 3-3 2-3 2-3 3-2 2-3 3-3 3-2 2-3 3-2 3-2 3-3 2-2 3-2 3-2 3-2 3-2 3-1 4-2 3-2 3-1 3-1 3-2 4-1 3-1 3-1 4 0 3-1 3-1 4 0 3-1 3 0 4 0 3 0 4 0 3 0 3 0 4 0 3 1 3 0 4 1 3 1 3 1 4 1 3 1 3 1 3 1 4 1 3 2 3 1 3 2 3 2 3 2 3 1 3 2 2 3 3 2 3 2 3 2 2 3 3 2 2 3 3 2 2 3 3 3 2 3 2 2 2 3 2 3 3 3 2 4 1 3 2 3 2 3 2 3 2 4 1 3 2 4 1 3 2 4 1 3 2 4 1 3 1 4 1 3 1 4 1 4 2 3 0 4 1 4 1 3 1 4 1 4 1 3 0 4 1 4 1 3 0 4 1 4 0 3 1 4 0 4 0 3 1 4 0 3 1 4 0 3 0 4 1 4 0 3 0 3 0 4 1 3 0 4 0 3 0 3 1 4 0 3 0 3 1 3 0 3 0 3 1 3 0 3 1 3 0 3" stroke="url(#gr2)"/><path d="M591 650l-3-4-2-5-3-4-2-5-3-4-3-5-2-4-3-4-3-4-3-5-3-4-2-4-3-4-3-4-3-4-3-4-4-4-3-4-3-4-3-4-3-3-3-4-3-4-3-4-4-3-3-4-3-4-3-3-3-4-3-3-4-4-3-3-3-4-3-3-3-4-3-3-3-3-3-4-3-3-3-3-3-4M190 595l4-4 3-3 4-3 4-3 3-3 4-3 4-3 4-2 4-2 4-3 4-2 4-1 4-2 4-2 4-1 4-1 4-1 4-1 4-1 5-1 4 0 4 0 4-1 4 0 4 0 4 1 3 0 4 1 4 0 4 1 4 1 3 1 4 1 3 2 4 1 3 2 4 2 3 1 3 2 3 2 3 3 4 2 2 2 3 3 3 2 3 3 2 3 3 3 3 3 2 3 2 3 2 4 3 3 2 3 2 4 2 3 1 4 2 4 2 4 1 3 2 4 1 4 2 4 1 4 1 5 1 4 1 4 1 4 1 4 1 5 1 4 1 4 0 5 1 4 0 5 1 4 0 5 0 4 1 5 0 4 0 4 0 5 0 4 0 5 0 4 0 5 0 4 0 5 0 4 0 4 0 5 0 4-1 4 0 5 0 4 0 4 0 4-1 4 0 5 0 4 0 4 0 4 0 4 0 4-1 4 0 3 0 4 0 4 0 4 0 4 1 3 0 4 0 4 0 3 1 4 0 3 1 4 0 3 1 3 1 4 0 3 1 3 1 3 1 3 2 3M260 859l1-3 0-3 0-3 1-3 0-3 1-3 0-3 0-3 1-4 0-3 0-3 1-3 0-4 0-3 0-4 1-3 0-3 0-4 1-3 0-4 0-3 1-4 0-4 0-3 1-4 0-3 1-4 0-4 1-3 0-4 1-4 1-3 0-4 1-4 1-3 1-4 1-4 0-3 1-4 1-4 1-3 2-4 1-4 1-3 1-4 2-3 1-4 1-3 2-4 2-3 1-3 2-4 2-3 1-3 2-4 2-3 2-3 2-3 2-3 3-3 2-3 2-3 3-2 2-3 2-3 3-2 2-3 3-2 3-2 3-3 2-2 3-2 3-2 3-2 3-1 3-2 3-2 3-1 3-2 3-1 3-1 4-2 3-1 3-1 3 0 4-1 3-1 3 0 4-1 3 0 4 0 3-1 3 0 4 1 3 0 3 0 4 0 3 1 4 1 3 0 3 1 4 1 3 1 3 1 3 1 4 2 3 1 3 2 3 1 3 2 3 2 3 2 3 2 3 2 3 2 3 2 3 3 2 2 3 2 3 3 2 3 3 2 2 3 3 3 2 3 2 3 2 3 3 3 2 3 2 4 2 3 1 3 2 4 2 3 2 3 1 4 2 3 2 4 1 4 1 3 2 4 1 4 1 3 1 4 1 4 1 4 1 3 1 4 1 4 1 4 1 4 0 3 1 4 1 4 0 4 1 4 0 4 1 3 0 4 0 4 1 4 0 4 0 3 0 4 0 4 1 3 0 4 0 4 0 3M368 605l2 3 2 4 2 3 1 4 2 4 2 3 1 4 1 4 2 4 1 4 1 4 1 4 1 5 1 4 1 4 1 4 0 5 1 4 1 4 0 5 1 4 0 5 0 4 1 5 0 4 0 4 0 5 0 4 0 5 0 4 0 5 0 4 0 5 0 4 0 5 0 4 0 4 0 5-1 4 0 4 0 5 0 4 0 4-1 4 0 4 0 5 0 4 0 4 0 4-1 4 0 4 0 4 0 4 0 3 0 4 0 4 0 4 1 3 0 4 0 4 1 3 0 4 0 3 1 4 1 3 0 4 1 3 1 3 1 3 1 4 1 3 2 3 1 3M179 713l1-5 1-5 1-5 1-5 1-5 2-4 1-5 2-5 2-5 2-4 2-5 2-4 2-5 2-4 3-4 2-4 3-4 3-4 2-4 3-4 3-4 3-3 3-4 4-3 3-4 3-3 4-3 3-3 4-2 3-3 4-3 4-2 4-2 3-2 4-2 4-2 4-2 4-1 4-2 4-1 4-1 5-1 4-1 4-1 4 0 4-1 4 0 4 0 4 0 4 0 4 1 4 0 4 1 4 0 4 1 4 1 4 1 4 2 4 1 3 2 4 1 4 2 3 2 4 2 3 2 4 3 3 2 3 3 3 2 3 3 3 3 3 3 3 3 3 3 3 3 2 4 3 3 2 3 2 4 3 4 2 3 2 4 2 4 2 4 2 4 2 4 1 4 2 4 1 4 2 4 1 5 1 4 1 4 1 5 1 4 1 4 1 5 1 4 1 5 0 4 1 5M300 881l0-3 0-4 0-3 0-4 0-3 0-4 0-3 0-4 0-4 0-4-1-3 0-4 0-4-1-4 0-4 0-4 0-4-1-4 0-4 0-4-1-5 0-4 0-4 0-4 0-5-1-4 0-4 0-5 0-4 0-5 0-4 0-4 1-5 0-4 0-5 0-4 1-5 0-4 1-5 0-4 1-5 0-4 1-5 1-4 1-5 1-4 1-4 1-5 2-4 1-4 1-5 2-4 1-4 2-4 2-4 2-4 2-4 2-4 2-4 2-3 2-4 3-4 2-3 3-4 2-3 3-3 3-3 3-3 3-3 3-3 3-3 3-3 3-2 4-3 3-2 3-2 4-2 4-2 3-2 4-2 4-1 3-2 4-1 4-1 4-1 4-1 4-1 4 0 4-1 4 0 4 0 4-1 4 1 5 0 4 0 4 1 4 0 4 1 4 1 4 1 4 2 4 1 4 1 4 2 4 2 4 2 4 2 4 2 4 3 3 2 4 3 3 2 4 3 3 3 4 3 3 4 3 3 3 3 3 4 3 4 3 3 3 4 3 4 2 4 3 4 2 4 2 5 3 4 2 4 2 5 2 4 1 5 2 5 2 4 1 5 1 5 2 5 1 5 1 5 1 5 1 5 0 5 1 5 1 5 0 5 0 5 1 5 0 5 0 5M326 889l2-2 2-2 2-3 2-2 1-2 2-3 1-2 2-3 1-2 1-3 1-3 1-2 1-3 1-3 1-3 1-3 1-3 1-3 1-3 0-3 1-3 1-3 0-3 1-4 0-3 1-3 0-3 1-4 0-3 1-4 0-3 1-3 0-4 0-3 1-4 0-3 1-4 0-4 0-3 1-4 0-3 1-4 0-4 0-3 1-4 0-4 1-3 0-4 1-4 1-4 0-3 1-4 0-4 1-3 1-4 1-4 0-3 1-4 1-4 1-3 1-4 1-3 1-4 1-3 1-4 1-3 2-4 1-3 1-4 2-3 1-3 2-3 1-3 2-4 1-3 2-3 2-3 2-3 2-2 1-3 2-3 2-3 3-2 2-3 2-2 2-3 2-2 3-2 2-2 3-2 2-2 3-2 2-2 3-2 3-1 2-2 3-1 3-2 3-1 3-1 3-1 3-1 3-1 3-1 3-1 3 0 3-1 3 0 3-1 3 0 4 0 3 0 3 0 3 1 4 0 3 1 3 0 3 1 4 1 3 1 3 1 4 1 3 1 3 1 3 2 3 1 4 2 3 2 3 2 3 2 3 2 3 2 3 2 3 3 3 2 3 3 3 2 2 3 3 3 3 3 2 3 3 3 3 4 2 3 2 3 3 4M295 862l0-4 0-4 0-3-1-4 0-4 0-4 0-4-1-4 0-4 0-4-1-4 0-4 0-4-1-4 0-4 0-4 0-5-1-4 0-4 0-5 0-4 0-4 0-5 0-4 0-5 0-4 0-4 0-5 0-4 1-5 0-4 1-5 0-4 1-5 0-4 1-5 1-4 1-5 1-4 1-5 1-4 1-4 1-5 1-4 2-4 1-4 2-5 2-4 2-4 1-4 2-4 2-4 3-3 2-4 2-4 2-3 3-4 3-3 2-4 3-3 3-3 3-3 3-3 3-3 3-3 3-2 3-3 4-2 3-3 4-2 3-2 4-2 3-2 4-2 4-1 4-2 3-1 4-1 4-1 4-1 4-1 4 0 4-1 4 0 5-1 4 0 4 1 4 0 4 0 4 1 4 0 4 1 5 1 4 1 4 1 4 2 4 1 4 2 4 2 4 2 3 2 4 2 4 2 4 3 3 2 4 3 3 3 4 3 3 3 3 3 4 4 3 3 3 3 3 4 2 4 3 4 3 3 2 4 3 5 2 4 3 4 2 4 2 5 2 4 2 5 2 4 1 5 2 4 1 5 2 5 1 5 1 5 1 4 1 5 1 5 1 5 0 5 1 5 0 5 1 5 0 5 0 5 0 5 0 5 0 5M349 894l2-3 1-3 1-3 1-4 0-3 1-3 1-4 0-3 1-3 0-4 0-3 1-4 0-4 0-3 0-4 0-4 0-3 0-4 0-4 0-4 0-4 0-4 0-4 0-4 0-4-1-4 0-4 0-4 0-5 0-4-1-4 0-4 0-5 0-4 0-4 0-5 0-4-1-5M296 493l-1 3 0 4-1 3-1 4 0 3-1 4-1 3-1 4-1 3-1 4-1 3-2 4-1 4-1 4-2 3-1 4-2 4-1 4-2 4-1 4-2 4-2 4-1 4-2 4-2 4-2 4-2 4-2 4-1 4-2 4-2 4-2 5-2 4-2 4-2 4-2 5-1 4-2 4-2 5-2 4-2 4-1 5-2 4-2 5-2 4-1 4-2 5-1 4-2 5-1 4-2 5-1 5-1 4-2 5-1 4-1 5-1 4-1 5-1 5-1 4 0 5-1 5-1 4 0 5M483 871l2-4 2-4 2-4 1-4 2-4 1-4 1-4 2-4 1-4 0-4 1-4 1-4 1-5 0-4 0-4 1-4 0-5 0-4 0-4 0-5 0-4 0-4 0-5-1-4 0-4-1-5 0-4-1-5 0-4-1-4-1-5 0-4-1-5-1-4-1-5-1-4-1-5-1-4-1-4-1-5-1-4-1-5-1-4-1-5-1-4-1-5-1-4-1-4-1-5-1-4-1-5-1-4-1-4-1-5-1-4-1-4-1-5 0-4-1-4-1-4-1-4 0-4-1-5-1-4 0-4-1-4 0-4 0-4-1-3 0-4 0-4 0-4 0-3 0-4 0-4 0-3 0-4 1-3 0-4 1-3 0-3 1-4 1-3 1-3 1-3 1-3 1-3 1-3 2-3 1-2 2-3 2-3 1-2M281 498l2 3 1 2 2 3 2 2 1 3 1 3 2 3 1 3 1 3 1 3 1 3 1 3 0 4 1 3 0 3 1 4 0 3 0 4 1 3 0 4 0 4 0 3 0 4-1 4 0 4 0 4 0 4-1 4 0 4-1 4 0 4-1 4-1 4-1 4 0 4-1 5-1 4-1 4-1 4-1 5-1 4-1 4-1 5-1 4-1 5-1 4-1 4-1 5-1 4-1 5-1 4-1 5-1 4-1 5-1 4-1 4-1 5-1 4 0 5-1 4-1 5-1 4-1 5 0 4-1 4 0 5-1 4 0 5-1 4 0 4 0 5-1 4 0 4 0 5 0 4 0 4 0 5 1 4 0 4 0 4 1 5 1 4 0 4 1 4 1 4 1 4 1 4 2 4 1 4 2 4 1 4 2 4 2 4 2 4M556 807l1-5 0-4 1-5 0-5 0-5 0-4 0-5 0-5 0-4-1-5 0-5 0-4-1-5-1-5-1-4 0-5-1-5-1-4-1-5-2-4-1-5-1-5-1-4-2-5-1-4-2-5-1-4-2-5-2-4-1-5-2-4-2-4-1-5-2-4-2-5-2-4-2-4-2-5-2-4-1-4-2-4-2-5-2-4-2-4-2-4-2-4-2-5-2-4-1-4-2-4-2-4-2-4-1-4-2-4-2-4-1-4-2-3-2-4-1-4-2-4-1-4-1-3-2-4-1-4-1-3-1-4-1-4-1-3-1-4-1-3-1-3 0-4-1-3 0-4-1-3M375 817l1 4 1 3 0 3 1 3 1 4 1 3 0 3 1 3 1 3 1 3 1 3 2 3 1 3 1 2 1 3 2 3 1 3 2 2 1 3 2 2 2 3 2 2 2 2 2 3 2 2 2 2 2 2 3 2M190 593l3-2 3-2 3-2 4-2 3-2 3-1 3-2 4-1 3-2 3-1 3-1 4-1 3-1 3 0 3-1 4-1 3 0 3 0 3 0 4-1 3 0 3 1 3 0 3 0 3 1 3 0 3 1 3 1 3 1 3 1 3 1 2 1 3 1 3 1 2 2 3 1 2 2 3 2 2 2 3 1 2 2 2 3 3 2 2 2 2 2 2 2 2 3 2 2 2 3 2 3 1 2 2 3 2 3 1 3 2 3 1 3 2 3 1 3 2 3 1 3 1 3 2 4 1 3 1 3 1 4 1 3 1 4 1 3 1 4 0 3 1 4 1 3 1 4 0 4 1 3 1 4 0 4 1 3 0 4 1 4 0 3 1 4 0 4 1 4 0 3 0 4 1 4 0 4 1 3 0 4 0 4 1 3 0 4 0 4 0 3 1 4 0 4 0 3 1 4 0 3 1 4 0 3 0 4 1 3 0 4 1 3 0 4 1 3 0 3 1 4M271 585l3 0 3 0 3 0 4 0 3 0 3 0 3 0 3 1 3 0 4 1 3 1 3 1 3 1 3 1 2 1 3 1 3 1 3 2 3 1 3 2 2 2 3 1 2 2 3 2 2 2 3 2 2 3 3 2 2 2 2 3 2 2 2 3 3 2 2 3 1 3 2 3 2 3 2 3 2 3 1 3 2 3 2 3 1 3 2 3 1 4 2 3 1 3 1 4 1 3 1 4 2 3 1 4 1 3 1 4 1 4 1 3 0 4 1 3 1 4 1 4 0 3 1 4 1 4 0 4 1 3 1 4 0 4 1 3 0 4 1 4 0 3 0 4 1 4 0 3 1 4 0 3 0 4 1 4 0 3 1 4 0 3 0 4 1 3 0 4 1 3 0 3 1 4 0 3 1 3 0 3 1 4 0 3 1 3 1 3 0 3 1 3 1 3 1 3 1 3 0 3 1 3 1 3 2 2 1 3 1 3 1 2 2 3 1 2 1 3 2 2 2 2 1 3 2 2 2 2M174 652l3-3 2-4 2-3 3-3 2-4 3-3 2-3 3-3 3-3 2-2 3-3 3-3 3-2 3-3 3-2 3-2 3-2 3-2 3-2 3-2 4-1 3-2 3-1 3-2 3-1 4-1 3-1 3-1 4-1 3-1 3 0 3-1 4 0 3 0M311 868l2 3 2 3 3 2 2 3 3 3 3 2 3 3 3 2 3 2 3 2M535 833l2-4 1-4 2-4 1-4 2-4 1-4 1-4 1-4 1-4 1-4 1-4 0-4 1-4 0-4 1-4 0-4 0-4 1-5 0-4 0-4 0-4 0-4-1-4 0-4 0-4-1-5 0-4 0-4-1-4-1-4 0-4-1-4-1-4 0-4-1-4-1-4-1-4-1-4-1-4-1-4-1-4-1-4-1-4-1-4-1-4-1-4-1-4-1-4-1-4-1-3-2-4-1-4-1-4-1-4-1-3-1-4-1-4-1-3-2-4-1-4-1-3-1-4-1-3-1-4-1-3-1-4 0-3-1-4-1-3-1-3-1-4 0-3-1-3-1-4 0-3-1-3 0-3-1-3 0-3-1-3 0-3 0-3 0-3 0-3 0-3 0-3M244 526l2 1 2 2 2 1 3 2 2 2 1 1 2 2 2 2 2 2 1 2 2 3 2 2 1 2 1 3 2 2 1 3 1 2 1 3 1 2 1 3 1 3 1 3 1 3 1 3 0 2 1 4 1 3 0 3 1 3 0 3 0 3 1 4 0 3 0 3 0 4 1 3 0 4 0 3 0 4 0 3 0 4 0 3 0 4 0 4 0 3-1 4 0 4 0 4 0 3 0 4 0 4-1 4 0 3 0 4 0 4-1 4 0 4 0 4 0 4-1 3 0 4 0 4 0 4 0 4-1 4 0 4 0 4 0 3 0 4 0 4 0 4 0 4 0 4 0 3 0 4 0 4 0 4 1 4 0 3 0 4 1 4 0 3 1 4 0 4 1 3 0 4 1 4 1 3 1 4 1 3 1 4 1 3 1 4 1 3 2 3 1 4 2 3 1 3 2 3 2 4 1 3 2 3 2 3 2 3 3 3 2 3M433 613l1-4 0-4 1-4 1-3 0-4 1-4 1-3 1-4 1-4 1-3 2-3 1-4 1-3 2-3 1-3 2-3 2-3 2-3 2-3 2-3 2-2 2-3 2-2 3-3 2-2 3-2 2-2 3-2 3-2 3-2 3-1 3-2 3-1 4-1 3-1 3-1 4-1M295 494l-1 3 0 4 0 3-1 3 0 4-1 3 0 4-1 3-1 4-1 3-1 4-1 4-1 3-1 4-1 4-1 4-2 3-1 4-2 4-1 4-1 4-2 4-2 4-1 4-2 4-1 4-2 4-2 4-1 4-2 5-2 4-2 4-1 4-2 5-2 4-2 4-2 4-1 5-2 4-2 4-1 5-2 4-2 5-1 4-2 5-2 4-1 4-2 5-1 4-2 5-1 4-1 5-2 4-1 5-1 5-1 4-1 5-1 4-1 5-1 4-1 5 0 5-1 4 0 5-1 4M492 865l2-4 2-4 2-4 1-4 2-5 1-4 1-4 1-4 1-4 1-4 0-5 1-4 0-4 1-5 0-4 0-4 0-4 0-5 0-4 0-5 0-4 0-4-1-5 0-4-1-5 0-4-1-4 0-5-1-4-1-5-1-4-1-5 0-4-1-5-1-4-1-4-1-5-1-4-2-5-1-4-1-5-1-4-1-5-1-4-1-5-1-4-1-4-2-5-1-4-1-5-1-4-1-4-1-5-1-4-1-4-1-4-1-5-1-4-1-4-1-4-1-4 0-4-1-4-1-4 0-4-1-4 0-4-1-4 0-4 0-4-1-3 0-4 0-4 0-3 0-4 0-4 1-3 0-3 0-4 1-3 0-3 1-4 1-3 1-3 1-3 1-3 1-3 1-3 1-2 2-3 1-3M181 726l1-5 1-5 1-5 1-5 1-5 1-5 1-4 2-5 1-5 2-5 2-4 1-5 2-5 2-4 2-4 3-5 2-4 2-4 3-4 2-4 3-4 3-4 3-4 3-3 3-4 3-3 3-4 4-3 3-3 3-3 4-3 4-2 3-3 4-2 4-3 4-2 3-2 4-2 4-2 4-1 4-2 4-1 4-1 4-2 5 0 4-1 4-1 4 0 4-1 4 0 4 0 4 0 4 0 4 1 5 0 4 1 4 1 3 1 4 1 4 1 4 1 4 2 4 1 3 2 4 2 3 2 4 2 3 2 4 3 3 2 3 3 3 2 3 3 3 3 3 3 3 3 3 3 3 4 2 3 3 3 2 4 3 4 2 3 2 4 2 4 2 4 2 4 2 4 1 4 2 4 2 4 1 4 2 4 1 5 1 4 1 4 1 5 1 4 1 5 1 4 1 4 0 5 1 4 1 5 0 4 0 5 1 4 0 5 0 4 1 5 0 4 0 5 0 4 0 5 0 4 0 4-1 5 0 4 0 4 0 5 0 4-1 4 0 4 0 4 0 4-1 5 0 4 0 4 0 4-1 3 0 4 0 4 0 4-1 4 0 3 0 4 0 4 0 3 0 4 0 3 0 4 0 3 0 3M246 848l0-3 0-3 0-3 1-3 0-4 0-3 0-3 1-3 0-4 0-3 0-4 1-3 0-4 0-3 0-4 1-3 0-4 0-3 1-4 0-4 0-3 1-4 0-4 1-3 0-4 1-4 0-3 1-4 1-4 1-3 0-4 1-4 1-4 1-3 1-4 1-4 1-3 1-4 1-4 2-3 1-4 1-3 2-4 1-3 2-4 2-3 1-3 2-4 2-3 2-3 2-4 2-3 2-3 2-3 2-3 2-3 2-3 3-2 2-3 3-3 2-2 3-3 2-2 3-3 3-2 3-2 2-2 3-3 3-2 3-1 3-2 3-2 3-1 3-2 4-1 3-2 3-1 3-1 3-1 4-1 3-1 3 0 4-1 3-1 4 0 3 0 3 0 4-1 3 0 4 1 3 0 3 0 4 1 3 0 3 1 4 1 3 0 3 1 4 1 3 2 3 1 3 1 4 2 3 1 3 2 3 2 3 2 3 1 3 2 3 3 3 2 2 2 3 2 3 3 2 2 3 3 2 3 3 2 2 3 3 3 2 3 2 3 2 3 2 3 3 3 2 3 1 4 2 3 2 3 2 4 1 3 2 4 2 3 1 4 2 3 1 4 1 3 1 4 2 4 1 3 1 4 1 4 1 4 1 3 0 4 1 4 1 4 1 3 0 4 1 4 1 4 0 3 1 4 0 4 0 4 1 3 0 4 0 4 1 3 0 4 0 4 0 3 1 4 0 3 0 4 0 3 0 4 0 3 1 4 0 3M469 869l3-3 2-3 2-3 2-3 2-4 2-3 2-3 2-4 1-3 2-3 1-4 2-3 1-4 1-3 1-4 1-4 1-3 1-4 1-4 1-3 0-4 1-4 1-4 0-3 0-4 1-4 0-4 0-4 0-3 1-4 0-4 0-4 0-4 0-4 0-4-1-4 0-4 0-3 0-4-1-4 0-4 0-4 0-4-1-4 0-4-1-4 0-4-1-4 0-3 0-4-1-4 0-4-1-4 0-4-1-4 0-3-1-4 0-4-1-4 0-4 0-3-1-4 0-4-1-3 0-4 0-4 0-3-1-4 0-3 0-4 0-3 0-4 0-3 0-4 0-3 0-3 0-3 0-4 0-3 0-3 1-3 0-3 0-3 1-3 0-3 1-3 0-3 1-3 1-3 1-2 1-3 1-2 1-3 1-2 1-3 1-2 1-3 2-2 1-2 2-2 1-2 2-2M258 514l1 3 1 2 0 3 1 3 0 2 0 3 1 3 0 3 0 3 0 3 0 3 0 3 0 3 0 3 0 3-1 3 0 4 0 3-1 3 0 4 0 3-1 3 0 4-1 3-1 4 0 3-1 4-1 3 0 4-1 3-1 4-1 4 0 3-1 4-1 4-1 4-1 3-1 4 0 4-1 4-1 4-1 3-1 4-1 4 0 4-1 4-1 4-1 4-1 4 0 4-1 4-1 4 0 4-1 4-1 4 0 4-1 4 0 4-1 4 0 4 0 4-1 4 0 4 0 4 0 4-1 4 0 4 0 4 0 4 1 4 0 4 0 4 0 4 1 4 0 4 1 4 0 3 1 4 1 4 1 4 1 4 1 4 1 4 1 3 2 4 1 4 2 4 1 3 2 4 2 3 2 4 2 4 2 3 2 3 3 4 2 3M454 885l3-3 3-3 2-2 3-3 3-3 2-3 2-3M215 554l3-1 3 0 4 0 3-1 3 0 3 0 3 0 3 1 3 0 3 0 3 1 3 1 3 0 3 1 2 1 3 1 3 1 2 2 3 1 2 1 3 2 2 1 2 2 3 2 2 2 2 2 2 2 2 2 2 2 2 2 2 2 2 3 1 2 2 3 2 2 1 3 2 3 1 2 1 3 2 3 1 3 1 3 1 3 2 3 1 3 1 3 1 4 1 3 0 3 1 3 1 4 1 3 0 4 1 3 1 4 0 3 1 4 0 3 1 4 0 4 1 3 0 4 0 4 1 4 0 3 0 4 1 4 0 4 0 3 0 4 0 4 1 4 0 4 0 3 0 4 0 4 0 4 1 3 0 4 0 4 0 4 0 3 1 4 0 4 0 4 0 3 0 4 1 4 0 3 0 4 1 3 0 4 1 3 0 4 1 3 0 4 1 3 0 4 1 3 1 4 1 3 1 3 0 3 1 4 1 3 1 3 2 3 1 3 1 3 1 3 2 3 1 3 2 3 1 3 2 3 2 2 2 3 2 3 2 2 2 3 2 2 3 2 2 3 2 2 3 2 3 2 2 2 3 2M593 708l-1-5-1-4 0-4-1-5-1-4-2-4-1-5-1-4-1-4-2-4-1-5-1-4-2-4-1-4-2-4-2-4-1-4-2-4-2-4-2-4-1-4-2-4-2-4-2-4-2-4-2-3-2-4-2-4-1-4-2-3-2-4-2-4-2-3-2-4-2-4-2-3-2-4-2-3-2-4-2-3-2-4-2-3-2-4-2-3-2-3-1-4-2-3-2-3-2-3-2-4M180 620l3-2 3-3 3-3 3-3 3-2 3-3 3-2 3-2 3-2 3-2 3-2 3-2 3-2 4-1 3-2 3-1 3-2 4-1 3-1 3-1 3 0 4-1 3-1 3 0 3-1 4 0 3 0 3 0 3 0 3 0 4 1 3 0 3 0 3 1 3 1 3 1 3 0 3 1 3 2 2 1 3 1 3 1 3 2 2 1 3 2 3 2 2 2 2 2 3 2 2 2 3 2 2 2 2 2 2 3 2 2 2 3 2 2 2 3 2 3 2 2 2 3 2 3 1 3 2 3 1 3 2 3 1 4 2 3 1 3 1 3 2 4 1 3 1 3 1 4 1 3 1 4 1 3 1 4 1 4 1 3 1 4 0 3 1 4 1 4 1 4 0 3 1 4 0 4 1 3 0 4 1 4 0 3 1 4 0 4 1 4 0 3 1 4 0 4 0 3 1 4 0 4 0 3 1 4 0 3 1 4 0 3 0 4 1 3 0 4 1 3 0 4 0 3 1 4 0 3 1 3 1 3 0 4 1 3 1 3 0 3 1 3 1 3 1 3 1 3 1 3 1 3 1 3 1 3 1 3 1 2 2 3 1 3 1 2 2 3 1 2 2 3 2 2 2 2 2 2 2 3 2 2 2 2M201 572l4-2 4-3 4-2 4-3 4-2 4-2 4-2 4-1 5-2 4-1 4-1 4-1 4-1 4-1 4 0 4-1 4 0 4 0 4 0 4 0 4 1 4 0 3 1 4 1 4 1 3 1 4 1 4 1 3 2 3 1 4 2 3 2 3 1 3 2 3 3 3 2 3 2 3 3 3 2 2 3 3 3 2 3 3 3 2 3 2 3 3 3 2 3 2 4 2 3 1 4 2 3 2 4 1 4 2 3 1 4 2 4 1 4 1 4 1 4 1 4 1 5 1 4 1 4 1 4 1 5 0 4 1 4 0 5 1 4 0 5 1 4 0 5 0 4 0 4 0 5 1 4 0 5 0 4 0 5 0 4-1 5 0 4 0 4 0 5 0 4 0 5 0 4-1 4 0 5 0 4 0 4-1 4 0 4 0 5 0 4 0 4 0 4-1 4 0 4 0 4 0 4 0 3 0 4 0 4 1 4 0 4 0 3 0 4 1 4 0 3 1 4 0 3 1 3 1 4 0 3 1 3 1 4 1 3 1 3 2 3 1 3M180 716l1-4 1-4 2-4 1-4 1-4 2-4 1-4 2-3 2-4 1-4 2-3 2-4 2-3 2-4 2-3 2-4 3-3 2-3 2-3 3-3 2-3 3-3 2-3 3-3 3-2 2-3 3-2 3-3 3-2 3-2 3-2 3-2 3-2 3-2 3-2 3-1 3-2 4-1 3-2 3-1 3-1 4-1 3-1 3-1 4 0 3-1 3-1 4 0 3 0 3 0 3 0 4 0 3 0 3 0 4 0 3 1 3 1 3 0 3 1 4 1 3 1 3 1 3 1 3 1 3 2 3 1 3 2 3 2 2 1 3 2 3 2 3 2 2 2 3 2 3 2 2 3 2 2 3 3 2 2 2 3 3 3 2 2 2 3 2 3 2 3 2 3 2 3 2 3 2 3 1 3 2 4 2 3 1 3 2 4 1 3 2 3 1 4 1 3 1 4 2 3 1 4 1 4 1 3 1 4 1 3 1 4 1 4 0 3 1 4 1 4 1 3 0 4 1 4 0 3 1 4 1 4 0 3 1 4 0 3 1 4 0 4 0 3 1 4 0 3 1 4 0 3 0 4 1 3 0 4 1 3 0 3 0 4 1 3 0 3 1 4 0 3 1 3 0 3 1 3 0 3 1 3 0 3 1 3 1 3 0 3 1 3 1 3 1 2 1 3 1 3 1 2 1 3 1 2 1 3 2 2M510 577l3 1 3 0 4 1 3 1 3 1 3 1 4 1 3 1 3 1 4 2 3 1 3 2 3 2 3 2 3 2 4 2 3 2 3 2 3 3 3 2 3 3 3 3 2 3M340 892l2-2 2-2 2-2 2-3 1-2 2-2 2-3 1-2 2-3 1-2 2-3 1-3 1-3 2-2 1-3 1-3 1-3 1-3 1-3 0-3 1-3 1-3 1-3 0-4 1-3 1-3 0-3 1-4 0-3 1-3 0-4 1-3 0-4 1-3 0-4 0-3 1-4 0-3 0-4 1-3 0-4 1-4 0-3 0-4 1-4 0-3 0-4 1-4 0-4 1-3 0-4 1-4 0-3 1-4 0-4 1-4 0-3 1-4 1-4 1-3 0-4 1-4 1-3 1-4 1-3 1-4 1-3 1-4 1-3 1-4 1-3 1-3 2-4 1-3 1-3 2-3 1-4 2-3 1-3 2-3 2-2 2-3 1-3 2-3 2-2 2-3 2-3 2-2 2-2 3-3 2-2 2-2 2-2 3-2 2-2 3-2 2-2 3-1 3-2 2-1 3-2 3-1 3-1 3-1 2-1 3-1 3-1 3-1 3 0 3-1 4 0 3 0 3 0 3-1 3 1 3 0 4 0 3 0 3 1M219 548l-2 3-3 4-2 3-3 4-2 3-3 4-2 4-3 3-2 4M351 896l2-2 2-2 3-2 2-2 2-3 2-2 2-2 2-3 2-2 1-3 2-2 2-3 1-3 2-2 1-3 1-3 1-3 2-3 1-3 1-3 1-3 1-3 1-3 0-3 1-3 1-3 1-4 0-3 1-3 0-4 1-3 0-3 1-4 0-3 1-4 0-3 1-4 0-3 0-4 1-4 0-3 0-4 1-3 0-4 0-4 1-3 0-4 0-4 1-4 0-3 0-4 1-4 0-4 0-3 1-4 0-4 1-4 0-3 1-4 0-4 1-3 0-4 1-4 0-3 1-4 1-4 1-3 0-4 1-3 1-4 1-3 1-4 1-3 1-4 1-3 1-3 1-4 2-3 1-3 1-3 2-3 1-3 1-3 2-3 2-3 1-3 2-3 2-2 2-3 1-3 2-2 2-2 2-3 3-2 2-2 2-2 2-2 2-2 3-2 2-2 3-2 2-1 3-2 2-1 3-2 3-1 3-1 2-1 3-1 3-1 3-1 3 0 3-1 3 0 3-1 3 0 3 0 3 0 4 0 3 0 3 0 3 1 3 0 4 1 3 1 3 0 4 1 3 2 3 1 3 1 4 2 3 1 3 2 3 2 4 1 3 3M522 723l1 4 0 5 1 5 0 4 0 5 1 5 0 4 0 5 0 4 0 5 0 5 0 4 0 5 0 4-1 5 0 4 0 5-1 4 0 4-1 5 0 4-1 4 0 5-1 4 0 4-1 4-1 4 0 4M300 881l0-3 0-4 0-3 0-4 0-3 0-4 0-3 0-4 0-4 0-4-1-3 0-4 0-4 0-4-1-4 0-4 0-4-1-4 0-4 0-4 0-5-1-4 0-4 0-4 0-5 0-4 0-4-1-5 0-4 0-5 0-4 1-4 0-5 0-4 0-5 0-4 1-5 0-4 1-5 0-4 1-5 1-4 0-5 1-4 1-5 1-4 1-4 1-5 2-4 1-4 1-5 2-4 2-4 1-4 2-4 2-4 2-4 2-4 2-4 2-3 2-4 3-4 2-3 3-4 2-3 3-3 3-3 3-3 3-3 3-3 3-3 3-3 3-2 4-3 3-2 4-2 3-2 4-2 3-2 4-2 4-1 4-2 3-1 4-1 4-1 4-1 4-1 4 0 4-1 4 0 4 0 4-1 5 1 4 0 4 0 4 1 4 0 4 1 4 1 4 1 4 2 4 1 4 1 4 2 4 2 4 2 4 2 4 2 4 3 3 2 4 3 4 2 3 3 3 3 4 3 3 4 3 3 3 3 3 4 3 3 3 4 3 4 3 4 2 4 3 4 2 4 3 5 2 4 2 4 2 5 2 4 1 5 2 5 2 4 1 5 2 5 1 5 1 5 1 5 1 5 1 5 0 4 1 6 1 5 0 5 0 5 1 5 0 5M313 886l2-2 1-3 2-2 1-2 2-3 1-2 1-3 1-2 1-3 1-3 1-3 1-2 1-3 1-3 1-3 1-3 0-3 1-3 1-3 0-3 1-3 0-4 1-3 0-3 1-3 0-4 1-3 0-3 0-4 1-3 0-4 1-3 0-4 0-3 1-4 0-3 1-4 0-3 0-4 1-4 0-3 1-4 0-4 1-3 0-4 1-4 1-3 0-4 1-4 1-3 0-4 1-4 1-3 1-4 1-4 1-3 1-4 1-4 1-3 1-4 1-3 1-4 1-3 2-4 1-3 2-3 1-4 2-3 1-3 2-3 1-3 2-4 2-3 2-3 2-2 2-3 2-3 2-3 2-3 2-2 2-3 3-2 2-3 2-2 3-2 2-2 3-2 2-2 3-2 3-2 2-2 3-2 3-1 3-2 3-1 3-1 3-2 3-1 3-1 3-1 3 0 3-1 3-1 3 0 4 0 3-1 3 0 3 0 4 0 3 0 3 0 3 1 4 0 3 1 3 0 4 1 3 1 3 1 3 1 4 2 3 1 3 1 3 2 3 1 4 2 3 2 3 2 3 2 3 2 3 2 3 3 3 2 2 3 3 2 3 3 3 3 2 3 3 3 2 3 3 3 2 3 3 3 2 4 2 3 2 4 2 3 2 4 2 3 2 4 2 4 2 4 1 4 2 4M239 842l0-5-1-4-1-4 0-4-1-5 0-4-1-4 0-5-1-4 0-5-1-4 0-5 0-4 0-5 0-4-1-5 0-5 0-4 1-5 0-4 0-5 0-5 1-4 0-5 1-5 0-4 1-5 1-5 1-4 1-5 1-4 1-5 1-4 1-5 2-4 1-5 2-4 2-4 1-5 2-4 2-4 2-4 3-4 2-4 2-4 3-4 2-4 3-3 3-4 2-3 3-4 3-3 3-3 4-3 3-3 3-3 4-3 3-2 3-3 4-2 4-3 3-2 4-2 4-2 4-2 4-1 4-2 4-1 4-1 4-1 4-1 4-1 4-1 4 0 4-1 5 0 4 0 4 0 4 0 4 1 4 0 5 1 4 0 4 1 4 1 4 2 4 1 4 1 4 2 4 2 3 2 4 1 4 3 4 2 3 2 4 3 3 2 4 3 3 3 3 3 3 3 3 3 3 3 3 3 3 4 3 3 3 4 2 4 3 3 2 4 2 4 2 4 3 4 2 4 1 5 2 4 2 4 2 4 1 5 2 4 1 5 1 4 1 5 2 4 1 5 0 4 1 5 1 4 1 5 0 5 1 4 0 5 0 5 1 4 0 5 0 4 0 5 0 5 0 4 0 5 0 4 0 5-1 4 0 5 0 4-1 5 0 4-1 4 0 5-1 4 0 4-1 4 0 5-1 4 0 4-1 4M299 882l0-4 0-3 1-4 0-3 0-4-1-3 0-4M354 894l1-3 1-4 1-3 1-3 1-3 0-3 1-4 1-3 0-4 1-3 0-4 0-3 0-4 1-4 0-3 0-4 0-4 0-4 0-3 0-4 0-4 0-4 0-4-1-4 0-4 0-4 0-5 0-4-1-4 0-4 0-4 0-5 0-4 0-4-1-5 0-4 0-4 0-5 0-4 0-5 0-4 0-5 0-4 0-5 0-4 1-4 0-5 0-4 1-5 0-4 0-5 1-4 1-4 0-5 1-4 1-4 1-5 1-4 1-4 1-4 1-4 1-5 1-4 2-4 1-3 2-4 2-4 1-4 2-3 2-4 2-4 2-3 2-3 2-4 3-3 2-3 2-3 3-3 3-3 2-2 3-3 3-3 3-2 3-2 3-3 3-2 3-2 4-1 3-2 3-2 4-1 3-2 4-1 4-1 3-1 4-1 4 0 4-1 3 0 4-1 4 0 4 0 4 0 4 1 4 0 5 1 4 1 4 0 4 2 4 1 4 1 4 2 4 1 4 2 4 2 4 2 4 3 4 2 4 3 4 3 4 2 3 3 4 4 3 3M203 570l4-1 3-1 3-1 4-1 3-1 3-1 3-1 4 0 3-1 3 0 3 0 3 0 4 0 3 0 3 0 3 1 3 0 3 1 3 0 3 1 2 1 3 1 3 1 3 1 2 1 3 2 2 1 3 2 2 1 3 2 2 2 2 2 3 2 2 2 2 2 2 2 2 2 2 3 2 2 2 2 1 3 2 3 2 2 1 3 2 3 1 3 2 3 1 2 2 4 1 3 1 3 1 3 2 3 1 3 1 4 1 3 1 3 1 4 0 3 1 4 1 3 1 4 0 3 1 4 1 4 0 3 1 4 0 4 1 3 0 4 1 4 0 3 0 4 1 4 0 4 1 3 0 4 0 4 0 4 1 3 0 4 0 4 0 4 1 3 0 4 0 4 1 4 0 3 0 4 0 4 1 3 0 4 0 3 1 4 0 4 0 3 1 4 0 3 1 4 0 3 1 4 0 3 1 3 1 4 0 3 1 3 1 3 1 4 1 3 1 3 1 3 1 3 1 3 1 3 1 3 2 3 1 3 2 3 1 2 2 3 1 3 2 2 2 3 2 2 2 3 2 2 2 2 3 2 2 3 2 2 3 2 3 2M591 648l-2-4-1-5-2-4-2-4-2-4-2-4-2-4-2-4-2-4-2-4-2-4-2-4-2-3-2-4-3-4-2-4-2-3-2-4-3-4-2-3-2-4-3-4-2-3-2-4-2-3-3-4-2-3-2-4-3-3-2-3-2-4-2-3-3-3" stroke="url(#gr3)"/><defs><path id="nasky" d="M254 518l3 1 4 1 3 0 4 1 3 2M341 880l2 3 1 3 2 4 2 3 2 3M594 674l-2-5-2-5-2-4-3-5-2-5-2-4-2-5-3-4-2-4-3-5-3-4M493 523l-3-4-3-3-3-4-3-3-3-4-2-3-3-3-3-4-2-3M591 650l-3-4-2-5-3-4-2-5-3-4-3-5-2-4-3-4-3-4-3-5-3-4-2-4-3-4M503 530l-4-4-3-3-3-4-3-3-3-4-3-3-3-3-3-4-3-3-3-3-3-4M190 595l4-4 3-3 4-3 4-3 3-3 4-3 4-3 4-2M408 882l1 3 1 3 1 3 2 3M261 511l0 3-1 3-1 3 0 4-1 3-1 3 0 3M410 896l4-2 3-2 2-2 3-3 3-2 3-3 2-2 3-3 2-2M512 537l2-1 3-1 2-2 3-1 2-1 3-1M260 859l1-3 0-3 0-3 1-3 0-3M550 788l0 3 0 4 0 4 1 3 0 4 0 4 0 3M181 637l-3 4-2 5-2 4M407 896l2-3 2-3 2-3 1-3 2-4M495 525l3-1 4-1 4 0 3-1 4 0 4 0M297 492l-1 3-1 3-1 4-1 3 0 4M398 883l1 4 1 3 2 3 1 3M179 713l1-5 1-5 1-5 1-5 1-5M352 881l3 2 2 2 3 3 2 2 3 2 3 2 3 2M581 755l1-4 0-5 0-4-1-4 0-5 0-4-1-4 0-5-1-4 0-4-1-5-1-4M516 542l-1-4-2-3-1-3-2-3-1-4-1-3-1-3-2-3-1-3M227 542l3 0 3 0 3 0 3 1 3 1 2 0M526 550l3 0 3 0 3 0 3 0 3 0 4 1M255 515l-1 3-2 4-2 3-1 3-2 3-2 4-2 3-1 3-2 4-2 3-2 4-2 3M187 654l-1 4-1 4-2 5-1 4-1 4-2 4-1 5-1 4-1 4M378 898l3-2 3-2 2-2 3-2 3-2 2-3 2-2M300 881l0-3 0-4 0-3 0-4M577 708l1 5 1 5 0 5 1 5 1 5 0 5 0 5 1 5 0 5 0 5M361 895l1-3 2-3 1-3 1-3M529 555l4 2 4 2 5 2 4 2 4 2 4 2 3 3 4 3M298 490l-3 3-2 3-3 4-2 3-3 4-3 3-2 3-3 4-3 3M190 639l-3 4-2 5-2 4-2 5-2 4-3 5-2 5M326 889l2-2 2-2 2-3 2-2 1-2M567 619l2 3 3 3 3 3 2 3 3 3 3 4 2 3 2 3 3 4M255 516l1 3 1 2 1 2 1 3 1 2M266 845l2 3 2 3 2 4 2 3 2 3 3 3 2 3 3 3 2 3 3 3M478 875l3-3 3-3 2-3 3-3 2-3 2-4 2-3 2-3 2-4 2-3M503 528l1-2 0-3 1-2 2-3 1-2M575 722l0 5 1 5 0 5 1 5 0 5 0 5 0 5 0 5 0 5M349 894l2-3 1-3 1-3 1-4M231 833l0-3 0-4 0-3 0-3 1-4 0-3M519 826l1 4 0 3 0 3 0 3 0 3 1 4M364 897l3-2 3-2 2-2 2-2 3-2 2-3 2-2M534 561l3 0 3 1 4 0 3 1 3 1 3 1 4 1M247 521l-2 3-2 3-2 4-3 3-2 3-2 4-2 3-3 4-2 3-2 3-2 4-2 4-3 3-2 4-2 3-2 4-3 4-2 3-2 4-2 4-2 4-2 3-2 4-2 4-2 4-3 4-1 4-2 4-2 4-2 4-2 4-2 4-2 4-1 5-2 4M295 492l-3 4-3 3-3 3-3 4-2 3-3 3-3 4-3 3-3 4-3 3M199 611l-3 4-2 5-3 4-3 4-2 5-3 4-2 4-2 5-3 4-2 5M410 894l2-3 2-3 2-3 2-4 1-3M494 524l3-1 4-1 3-1 4 0 4-1 4 0M507 533l0-3-1-4-1-3-1-3-1-3 0-3-1-3M236 532l2 1 3 1 3 1 2 1 3 1M333 877l3 2 2 3 3 2 3 3 2 2 3 2 3 3 3 2M562 797l1-4 0-5 1-4 1-4 0-4 1-4 0-5 1-4 0-4 0-4M301 880l1-2 2-3 1-2 1-3 1-2M578 691l2 4 1 4 2 4 1 4 1 4 1 4 1 4 1 4 1 4M519 542l3 0 3-1 3-1 2 0 3 0 3-1M260 511l-1 3-1 3-1 3-1 4-2 3-1 3-1 3-2 4-1 3M187 717l-1 5 0 4-1 4 0 5M395 896l3-2 3-2 3-2 3-2 2-2 3-3 2-2M296 493l-1 3 0 4-1 3-1 4 0 3M483 871l2-4 2-4 2-4 1-4 2-4 1-4M475 509l1-2 2-3 2-3 1-2M281 498l2 3 1 2 2 3 2 2 1 3M272 849l1 4 2 4 1 4 2 4 2 4 2 4M556 807l1-5 0-4 1-5 0-5 0-5 0-4 0-5M470 508l-1-3 0-4-1-3 0-4-1-3M563 761l1 4 0 4 1 4 0 3 0 4 1 4 0 4 0 4M274 867l1-3 1-3 0-3 1-2 1-3M401 881l2 2 2 3 2 2 2 2 2 2 3 2M190 593l3-2 3-2 3-2 4-2 3-2 3-1 3-2 4-1M475 512l2-3 2-3 1-2 2-3 2-2M282 498l2 2 1 3 2 3 1 2 2 3M268 847l2 4 1 4 2 4 1 4 2 3 2 4M553 810l0-4 1-5 1-5 0-4 0-5 1-5 0-4M470 508l-1-4 0-3-1-4 0-3 0-3M431 878l2 2 2 2 1 3 2 2 2 2M174 652l3-3 2-4 2-3 3-3 2-4 3-3 2-3 3-3M313 871l2 3 3 2 2 3 3 3 3 2 3 3 3 2 3 2 3 2M535 833l2-4 1-4 2-4 1-4 2-4 1-4 1-4 1-4 1-4 1-4 1-4M504 531l-1-3 0-3 0-3 0-3 0-3 0-3 0-3M244 526l2 1 2 2 2 1 3 2 2 2M180 716l0-5 1-5 1-5 2-5 1-5M457 867l0 3 0 4 0 3 1 4 0 3M489 520l3-1 4-1 3-1 3-1 4-1M295 494l-1 3 0 4 0 3-1 3M492 865l2-4 2-4 2-4 1-4 2-5M473 511l1-3 1-3 1-2 2-3 1-3M247 523l4 0 4 0 3 1 4 0 4 1M349 881l2 3 2 4 2 3 2 3 2 3M590 648l-2-4-3-5-2-4-3-5-2-4-3-4-3-5-3-4-2-4-3-4-3-5-3-4-3-4M505 532l-3-4-4-3-3-4-3-3-3-4-3-3-3-3-3-4-3-3-3-3-3-4-3-3M188 598l4-4 3-3 4-4 3-3 4-3 4-3 4-2 3-3 4-2M560 800l1-5 0-5 0-4 1-5 0-5 0-5-1-4M471 509l-1-3-1-4-1-3-1-4 0-3M250 521l4 0 4 1 3 0 4 1 4 1M345 880l2 4 2 3 2 3 2 3 2 3M181 726l1-5 1-5 1-5 1-5M461 868l0 3 0 4 0 3 0 3M190 742l1-4M474 859l1 3 0 3 1 2 1 3 1 3M246 848l0-3 0-3 0-3 1-3 0-4 0-3M535 809l0 4 0 3 0 4 0 3 1 4 0 3M489 852l1 3 0 3 1 3 0 2 1 3M458 868l0 4 0 3 1 4 0 3M240 842l0-4-1-5 0-4-1-4-1-4M255 855l-1-4 0-4-1-4 0-4-1-4M536 811l-1 4 0 4-1 5-1 4 0 4M469 869l3-3 2-3 2-3 2-3M504 530l2-2 1-2 2-2 1-2 2-2M258 514l1 3 1 2 0 3 1 3 0 2M242 823l1 4 2 4 1 3 2 4 2 3 2 4 2 4 2 3 2 3 3 4 2 3M454 885l3-3 3-3 2-2 3-3 3-3 2-3 2-3M215 554l3-1 3 0 4 0 3-1 3 0 3 0M370 883l3 2 2 3 2 2 3 2 3 2 2 2 3 2M593 708l-1-5-1-4 0-4-1-5-1-4-2-4-1-5-1-4-1-4-2-4-1-5-1-4-2-4-1-4-2-4-2-4M534 560l-2-3-2-4-2-3-2-4-2-3-2-4-2-3-2-3-1-4-2-3-2-3-2-3-2-4M180 620l3-2 3-3 3-3 3-3 3-2 3-3 3-2 3-2M416 880l2 2 2 2 2 2 2 3 2 2 2 2M201 572l4-2 4-3 4-2 4-3 4-2 4-2 4-2 4-1M396 883l1 3 1 3 2 3 1 3M180 716l1-4 1-4 2-4 1-4M460 868l1 2 1 3 1 2 1 3 2 2M558 596l4 2 3 2 3 2 3 3 3 2 3 3 3 3 2 3M340 892l2-2 2-2 2-2 2-3 1-2M219 548l-2 3-3 4-2 3-3 4-2 3-3 4-2 4-3 3-2 4M351 896l2-2 2-2 3-2 2-2 2-3 2-2M547 576l3 1 4 2 3 1 3 2 3 2 4 1 3 3M521 827l-1 4 0 4-1 4-1 4 0 4M300 881l0-3 0-4 0-3 0-4M577 708l1 5 1 5 0 4 1 6 1 5 0 5 0 5 1 5 0 5M539 565l4 3 4 2 4 2 4 3 4 3 3 3 4 3 4 3M294 493l-2 3-3 3-3 4-3 3-3 3-3 4-3 3-3 4-3 3-3 4M199 612l-3 4-2 4-3 4-3 5-2 4-3 5-2 4-3 5-2 4-2 5M411 894l2-3 2-3 2-4 1-3M313 886l2-2 1-3 2-2 1-2 2-3M577 655l2 4 2 3 2 4 2 3 2 4 2 4 2 4 1 4 2 4M472 878l2-4 2-4 2-4 1-3 2-4 2-4M476 512l1-3 2-2 2-3 2-2 2-2M283 497l2 3 1 3 2 2 1 3 1 3M265 843l1 4 1 4 2 5 2 3 1 4 2 4M249 520l2 2 2 2 2 2 1 2 2 2M290 860l2 3 3 3 2 3 2 3 3 3 3 3 2 2 3 3 3 2 3 3M506 857l3-3 2-3 2-4 2-3 2-4 2-4 2-3 1-4 2-4 1-3M502 528l0-3 1-3 0-3 1-2 0-3M239 842l0-5-1-4-1-4 0-4-1-5M520 826l-1 4 0 5-1 4 0 4-1 4M299 882l0-4 0-3 1-4 0-3 0-4M288 874l1-3 1-2 1-3 1-2 0-3M574 730l1 4 1 4 1 4 0 4 1 4 0 5 1 4 0 4M445 873l2 2 1 3 1 2 2 2 1 2M175 684l1-4 2-4 2-4 2-3 2-4 2-3M260 512l0 2 1 3 0 3-1 3 0 3 0 3M219 798l1 4 1 4 2 4 1 4 1 4 2 4 1 3 2 4 1 4 2 4M432 891l3-2 3-2 2-3 3-2 3-3 2-3 3-2 2-3 3-3M508 533l1-2 2-1 2-2 2-2 3-1 2-2M354 894l1-3 1-4 1-3 1-3M537 565l4 2 4 3 4 2 4 3 4 3 4 2 3 3 4 4 3 3M203 570l4-1 3-1 3-1 4-1 3-1 3-1 3-1M387 884l2 2 3 2 2 3 2 2 3 2 3 2M591 648l-2-4-1-5-2-4-2-4-2-4-2-4-2-4-2-4-2-4-2-4-2-4-2-4-2-3-2-4-3-4-2-4-2-3-2-4-3-4-2-3-2-4-3-4-2-3-2-4-2-3-3-4-2-3-2-4-3-3-2-3-2-4-2-3-3-3M504 841l0 3 1 3 0 3 1 3 0 3"/><path id="nbsky" d="M271 523l4 1 3 1 3 2 3 1M334 862l1 4 1 4 2 3 1 3 2 4M571 628l-3-4-2-4-3-5-3-4-2-4-3-4-3-4-3-4-3-4-3-4-3-4-2-4-3-4-3-4-3-4-3-4-3-4-3-4-3-3-3-4-3-4-3-3-3-4-3-4-3-3-3-4-3-3-3-4M561 602l-2-4-3-4-3-4-3-4-3-4-4-4-3-4-3-4-3-4-3-3-3-4-3-4-3-4-4-3-3-4-3-4-3-3-3-4-3-3-4-4M220 571l4-2 4-3 4-2 4-1 4-2 4-2 4-1 4-1M406 869l0 3 1 3 1 4 0 3M257 533l-1 3-1 3-1 4-1 3-1 3-1 4-1 3-1 3M202 717l-1 4 0 5-1 4 0 4 0 4 0 4-1 5 0 4M433 877l2-2 2-3 2-3 2-3 2-3 2-3 2-3M501 545l2-1 2-2 3-2 2-1 2-2M262 844l1-3 0-3 0-3 1-4 0-3 0-3M548 765l0 4 1 3 0 4 0 4 1 4 0 4M416 880l1-3 2-4 1-3 1-3 1-4M481 529l4-1 3-1 3-1 4-1M293 509l-2 3-1 4-1 3-1 4-1 3-2 4M204 733l-1 5-1 5 0 4-1 5M395 870l0 4 1 3 1 3M183 693l1-5 2-4 1-5 2-5 2-5 2-4 2-5 2-4 2-5 2-4 3-4M340 865l2 2 2 3 2 3 2 2 2 3 2 3M578 707l-1-4 0-4-1-4-1-5-1-4-1-4-1-4-2-4-1-4-1-5-1-4-2-4-1-4-1-4-2-4-1-4-2-4-1-4-2-4M542 599l-2-4-1-4-2-3-2-4-1-4-2-3-2-4-1-4-2-3-1-4-2-3-2-4-1-3-2-3-1-4-2-3-1-4M244 544l3 1 3 1 2 1 3 1 3 1M508 554l3-1 3-1 3 0 3-1 3 0 3-1M238 548l-2 4-2 3-2 4-2 3-2 4-1 3-2 4-2 4-2 3-2 4-2 4-2 3-2 4-2 4-2 4-1 3-2 4-2 4-2 4-2 4-1 4-2 4-2 4-1 4-2 4-2 4-1 4-2 4-1 4-1 4M396 883l3-2 2-3 2-3 2-2 2-3 1-3M300 864l0-4 0-3 0-4 0-4M564 665l2 4 1 5 2 5 2 4 1 5 1 5 2 5 1 5 1 5 1 5M366 883l1-3 1-4 1-3 0-3M505 549l4 1 4 0 4 1 4 2 4 1 4 1 4 2M277 517l-3 3-3 4-3 4-3 3-2 4-3 3-3 4-3 4-3 3-3 4-3 4-3 4-3 4-3 3-3 4-2 4-3 4-3 4-3 4-3 4-3 4-3 4-2 5-3 4-3 4-2 4-3 4-3 5-2 4-3 4-2 5-3 4M335 878l2-3 1-2 2-3 1-2 1-3M546 603l3 2 3 2 3 2 3 3 3 2 3 3 3 2 2 3M260 528l1 3 1 2 1 3 0 3 1 2 0 3M255 816l1 4 1 3 1 4 2 4 1 3 2 4 1 3 2 4 2 3M501 843l2-4 2-3 1-4 2-3 1-4 1-4 1-3 2-4M499 544l1-2 0-3 1-3 0-3 1-2 1-3M295 862l0-4 0-4 0-3-1-4M564 679l2 4 1 5 2 5 1 5 1 5 1 4 1 5 1 5 1 5 0 5M354 881l0-3 1-3 1-4 0-3M232 813l0-4 0-3 0-4 0-4 1-3 0-4M518 809l0 4 1 3 0 4 0 3 0 3M381 882l2-2 2-3 2-2 2-3 2-3M515 560l3 0 3 0 3 0 3 0 4 0 3 1M269 523l-3 3-3 4-4 3-3 4-3 4-3 3-3 4-3 4-3 3-3 4-3 4-3 4-3 4-3 4-3 3-3 4-3 4-3 4-3 4-3 5-3 4-3 4-3 4-3 4M419 878l2-3 1-4 1-3 2-4M481 529l3-2 3-1 3-1 4-1M566 735l0-5 0-4-1-4 0-4-1-4-1-5 0-4M517 563l-1-4-1-3-1-3-1-4-2-3-1-3-1-4-1-3-1-3M251 539l2 1 3 2 2 1 2 2 2 2M319 857l2 3 2 3 2 3 2 3 2 2 2 3 2 3M567 755l0-5 0-4 0-4 0-4-1-5 0-4M307 868l1-3 1-3 1-3 1-2 0-3M564 662l2 3 2 4 2 3 2 4 1 4 2 3 2 4 1 4 2 4M504 549l2-1 3-1 2-2 3-1 2-1 3-1M250 537l-1 3-1 3-2 4-1 3-2 4-1 3-2 4-1 3-2 4-1 3-2 4-1 3-2 4M202 655l-2 4-1 4-1 4-1 4-2 4-1 4-1 5-1 4-1 4-1 4-1 4 0 5-1 4-1 4 0 4M414 881l2-3 3-2 2-3 2-3 2-3 2-2 1-3M293 510l-1 4-1 3-1 4-1 3-1 4M209 744l-1 5-1 4 0 5M493 847l1-4 2-4 1-4 0-4 1-4M469 524l1-3 1-3 1-3 1-3M289 511l1 3 2 3 1 3 1 3M266 829l1 4 1 4 1 4 1 4 2 4M558 774l0-5 0-4-1-5 0-5 0-4-1-5-1-5M476 529l-1-3-1-4-1-4-1-3-1-4-1-3M559 733l1 4 0 4 1 4 1 4 0 4 1 4 0 4M278 853l0-3 1-3 0-3 1-3 0-3M392 869l2 2 1 3 2 2 2 3 2 2M216 579l3-2 3-1 3-1 4-1 3-1 3 0 3-1M471 520l1-3 2-3 1-2M290 511l1 3 1 3 1 3 1 3M263 826l1 4 1 4 1 4 1 5 1 4M556 778l0-5-1-5 0-4 0-5-1-5 0-4M475 529l-1-4-1-3-1-4-1-3 0-4-1-3M425 865l1 3 1 2 2 3 1 2 1 3M191 629l3-3 3-3 2-2 3-3 3-3 3-2 3-3 3-2 3-2M311 868l2 3M548 793l1-4 0-4 1-4 0-4 1-4 0-4 0-4 1-5 0-4 0-4M508 553l-1-3-1-4 0-3-1-3 0-3-1-3 0-3M255 534l1 1 2 2 2 2 2 2 1 2M300 850l2 4 1 3 2 3 2 3 2 3 3 3 2 3M184 696l1-5 1-5 2-5 1-4 2-5 2-5 2-4 2-5 2-4 2-4 3-5M457 853l0 3 0 4 0 3 0 4M477 527l3-2 3-2 3-1 3-2M293 507l0 4-1 3 0 4-1 3-1 4M214 758l-1 4M501 844l1-4 1-4 1-4 1-4 1-4 0-5M469 523l1-3 1-3 1-3 1-3M266 525l3 1 4 1 3 1 3 1 4 2M343 864l1 3 1 4 2 3 1 4 1 3M561 600l-3-4-3-4-3-4-3-4-3-4-3-4-3-4-4-3-3-4-3-4-3-4-3-4-3-3-4-4-3-4-3-3-3-4-3-3-3-4-4-3M221 571l4-3 4-2 4-2 4-2 4-1 4-2 5-1M561 767l0-5 0-5-1-5 0-4-1-5-1-5 0-4M476 527l-1-4-1-3-1-4-1-3-1-4M269 524l3 1 3 1 4 1 3 2 3 1M339 863l1 4 1 3 2 4 1 3 1 3M185 706l1-5 1-5 1-4 2-5 1-5 2-5 2-4 1-5 2-5 2-4M461 850l0 3 0 4 0 4 0 3M191 738l1-4 1-4 0-4 1-4 2-4 1-4 1-4 1-4M471 845l0 3 1 3 1 3 0 3 1 2M247 829l0-3 1-3 0-4 0-3 0-4M533 788l1 3 0 4 0 4 0 3 1 4 0 3M204 756l0-4 1-4 1-4 1-4M487 837l0 3 1 3 0 3 0 3 1 3M458 854l0 4 0 3 0 4 0 3M237 821l0-5-1-4 0-4-1-5 0-4 0-5M252 835l0-4-1-4 0-4-1-4 0-5M538 779l0 4 0 5 0 5-1 4 0 5-1 4 0 5M476 860l2-3 2-4 2-3 2-3 2-4 1-3 2-3 1-4M499 543l1-3 1-2 1-3 1-2 1-3M261 527l0 3 1 3 0 3 0 3 0 3 0 3M233 792l1 4 1 4 1 4 1 4 1 4 1 4 1 3 2 4 1 4M234 552l3 0 3 1 3 0 3 0 3 1 3 1M358 868l2 2 2 3 2 3 2 2 2 3 2 2M577 648l-2-4-2-4-1-4-2-4-2-4-2-4-1-4-2-4-2-4-2-4-2-4-2-3-2-4-2-4-1-4-2-3-2-4-2-4-2-3-2-4-2-4-2-3-2-4-2-3-2-4M204 600l3-2 3-2 3-2 3-2 3-2 4-1 3-2M409 867l1 3 1 2 2 3 1 2 2 3M233 555l5-2 4-1 4-1 4-1 4-1 4-1M393 869l1 4 0 3 1 3 1 4M185 700l1-4 2-4 1-4 2-3 2-4 1-4 2-3 2-4 2-3M455 854l1 3 1 3 1 2 1 3 1 3M533 583l3 1 3 1 4 2 3 1 3 2 3 2 3 2 3 2M349 881l2-2 2-3 1-2 2-3 1-2M364 883l2-2 2-3 2-2 1-3 2-2 2-3M524 570l3 0 4 1 3 1 3 0 4 1 3 2 3 1M524 801l-1 4 0 4-1 5 0 4-1 4 0 5M300 864l0-4 0-3 0-4 0-4M564 665l2 4 1 5 2 5 2 4 1 5 2 5 1 5 1 5 1 5 1 5M511 554l4 1 4 2 4 1 4 2 4 1 4 2 4 2M268 523l-3 4-3 3-3 4-3 4-3 3-3 4-3 4-3 3-3 4-3 4-4 4-3 3-3 4-3 4-3 4-3 4-3 4-3 4-3 4-3 4-2 4-3 4-3 5-3 4M420 878l1-4 2-3 1-4 1-3M321 874l1-2 1-3 1-2 1-3 1-3M555 627l3 3 2 3 3 3 2 3 3 3 2 3 3 3 2 4 2 3M483 855l1-4 1-4 1-4 1-4 1-4M470 523l1-3 2-3 1-3 2-2M290 511l1 3 1 3 1 3 1 3M260 823l0 4 1 4 1 4 1 4 2 4M259 532l1 2 2 3 1 2 1 2 1 3M278 837l1 3 2 4 1 3 2 3 2 4 2 3 2 3M525 822l2-4 1-4 1-4 1-4 1-4 1-4 1-3 0-4 1-4M502 545l0-3 0-3 0-3 0-3 0-2 0-3M236 820l0-4-1-4 0-5-1-4 0-5-1-4M522 805l0 4-1 4 0 5-1 4 0 4M300 864l-1-3 0-4M292 861l1-3 1-3 1-3 0-2 1-3M564 695l1 4 1 4 2 4 1 4 1 4 1 4 1 3 1 4 1 4M440 859l1 3 1 3 1 3 1 2 1 3M184 665l2-3 2-4 2-3 2-4 3-3 2-3 2-3 3-4 2-3 3-2M260 529l0 3 0 3-1 3 0 3-1 4 0 3-1 3M215 761l0 4M218 790l1 4 0 4M453 871l3-3 2-3 2-3 2-3 2-3 2-3 1-4 2-3M499 543l2-2 1-2 2-2 2-2 2-2M358 881l1-3 0-3 1-4 1-3M509 554l4 2 4 1 4 1 4 2 4 1 4 2 4 2 4 2M226 563l4 0 3-1 3 0 3 0 3 0 4 0M376 869l1 3 2 2 2 3 2 2 2 3 2 2M218 776l0-4 1-3M502 822l0 3 1 4 0 3 0 3 1 3 0 3"/></defs><use href="#nasky" stroke="#ffe000" stroke-linecap="butt" stroke-dasharray="2 5 1.5 6"/><use href="#nasky" stroke="#ff1000" stroke-linecap="butt" stroke-dasharray="1.5 4 2 5 1 6" stroke-dashoffset="2"/><use href="#nasky" stroke="#ff8000" stroke-linecap="butt" stroke-dasharray="1.5 9 1 11" stroke-dashoffset="5"/><use href="#nbsky" stroke="#ffdc00" stroke-linecap="butt" stroke-dasharray="1.5 7 1 9" stroke-dashoffset="3"/><use href="#nbsky" stroke="#ff1800" stroke-linecap="butt" stroke-dasharray="1 10 1.5 12"/><path d="M254 518l3 1M190 595l4-4M407 896l2-3M378 898l3-2M361 895l1-3M584 749l0-5-1-5-1-5-1-5-1-5-1-5-1-4-1-5-1-5-2-5-1-4-2-5-1-5-2-4-2-5-2-4-1-5-2-4-2-5-2-4-2-5-2-4-3-4-2-5-2-4-2-4-3-5-2-4-2-4-3-4-2-5-2-4-3-4-2-4-3-4-2-4-2-4-3-4-2-4-3-4-2-4-3-4-2-4-2-4-3-4-2-3-2-4-2-4-3-4-2-3-2-4-2-4-2-3-2-4-2-3-2-4-2-3-2-4-1-3-2-4-2-3-1-4M229 539l4-1 4-1 4-1 5 0 4-1 4 0 4 0 3 0 4 0 4 1 4 0 4 1 3 1 4 1 3 1 4 1 3 1 3 2 4 1 3 2 3 2 3 1 3 3 3 2 3 2 2 2 3 3 2 2 3 3 2 3 3 2 2 3 2 3 2 3 2 4 2 3 1 3 2 4 2 3 1 4 2 3 1 4 2 4 1 3 1 4 1 4 1 4 1 4 1 4 1 4 0 5 1 4 0 4 1 4 0 4 1 5 0 4 0 5 1 4 0 4 0 5 0 4 0 5 0 4 0 5 0 4 0 5 0 4 0 4-1 5 0 4 0 5 0 4 0 5-1 4 0 4 0 5-1 4 0 5 0 4 0 4-1 4 0 5 0 4 0 4 0 4-1 4 0 4 0 4 0 4 0 4 0 4 0 4 0 4 0 4 1 4 0 3 0 4 1 4 0 4 1 3 0 4 1 3 1 4 1 3 1 4 1 3 1 3 1 4 2 3 1 3 2 3 2 3 1 3M255 516l1 3M478 875l3-3M410 894l2-3M395 896l3-2M553 810l0-4M247 523l4 0M560 800l1-5M204 756l0-4M215 554l3-1M201 572l4-2M180 716l1-4M340 892l2-2M300 881l0-3M313 886l2-2M283 497l2 3M239 842l0-5M299 882l0-4M203 570l4-1M591 648l-2-4" stroke="#000"/></g><circle cx="381.6" cy="685.3" r="213" fill="none" stroke="#000" stroke-width="4.2"/><text x="397" y="537.8" font-size="22.1" text-anchor="middle" >30</text><text x="397" y="607.4" font-size="22.1" text-anchor="middle" >60</text><text x="383.5" y="464.5" font-size="22.1" text-anchor="middle" >Norte</text><text x="379.5" y="925.2" font-size="22.1" text-anchor="middle" >Sur</text><text x="157.5" y="687.7" font-size="22.1" text-anchor="end" >Oeste</text><text x="604" y="687.7" font-size="22.1" text-anchor="start" >Este</text><g transform="translate(275.6 1166.9) scale(1.018 1)" font-family="Liberation Serif" font-weight="bold" font-size="118.5"><text x="1.2" y="5.2" fill="#cdcdcd">IGN</text><text x="-3.95" y="0" fill="url(#wmw)">IGN</text></g><g clip-path="url(#clip3)" fill="none" stroke-width="2.5" stroke-linejoin="round" stroke-linecap="round"><path d="M154 1104l-2 4-2 4-2 4-2 4-1 5-1 4-1 5-1 4-1 4-1 5-1 4 0 5-1 4 0 5 0 4 0 4-1 5 0 4 0 4 0 5 1 4 0 4 0 4 0 4 1 5 0 4 1 4 0 4 1 4 0 4 1 3 0 4 1 4 1 4 1 4 0 3 1 4 1 4 1 3 1 4 1 3 1 4 1 3 1 4 1 3 1 3M633 1290l-2-2-1-2-2-2-1-3-2-2-2-2-2-1-1-2-2-2-2-1-2-2-2-1-2-2-2-1-2-1-2-1-2-1-2 0-2-1-3-1-2 0-2 0-2 0-2-1-3 0-2 1-2 0-2 0-3 0-2 1-2 0-2 1-3 1-2 1-2 1-2 1-2 1-3 1-2 1-2 1-2 2-2 1-2 2-3 1-2 2-2 1-2 2M384 1292l-2-3-1-3-1-3-2-3-1-3-1-4-1-3-2-3-1-4-1-3-1-4-2-3-1-4-1-3-1-4-1-4-1-4-2-4-1-4-1-3-1-5-1-4-1-4-2-4-1-4-1-4-1-5-1-4-2-4-1-5-1-4-2-5-1-4-1-4-2-5-1-4-2-5-2-5-2-4-1-5-2-4-2-5-3-4-2-4-2-5-3-4-3-4-2-4-4-5-3-3-4-4-3-4-5-4-4-3-5-3-5-3-5-3-6-2-5-2-7-2-6-1-6-1-7-1-7 0-6 1-7 0-6 1-7 2-5 1-6 2-5 3-5 2-5 3-4 3-4 4-4 3-3 4-3 4-3 4-2 4-3 4-2 4M502 1260l2-3 1-3 2-3 2-3 2-3 2-2 2-3 2-3 2-3 2-2 2-3 2-3 2-2 2-3 3-2 2-3 2-2 2-3 2-2 3-3 2-2 2-3 3-2 2-3 2-2 3-2 2-3 3-2 2-2 2-3 3-2 2-2 3-3 2-2 3-2 3-2 2-3 3-2 2-2 3-2 3-2 2-3 3-2 3-2 3-2 2-2 3-2 3-3 3-2 3-2 3-2 3-2 3-2 3-3 3-2 3-2 3-2 3-2 3-2 3-2 4-3 3-2 3-2 4-2 3-2 4-2 3-2 4-2 4-2 4-2 4-2 4-2M68 1090l4-1 4-2 4-2 5-2 4-1 5-2 5-1 5-1 5-1 5-1 5-1 5-1 6-1 5 0 6-1 5 0 6 0 5 0 6 0 6 1 5 0 6 1 5 1 6 1 5 1 5 2 5 2 5 1 5 2 5 2 4 3 5 2 4 3 4 2 4 3 4 3 4 3 3 3 4 3 3 4 3 3 3 3 3 4 3 3 3 4 3 4 2 4 3 3 2 4 2 4 2 4 2 4 2 4 2 4 2 4 2 4 2 4 1 4 2 5 2 4 1 4 1 4 2 4 1 4 1 4 1 5 2 4 1 4 1 4 1 4 1 5 1 4 0 4 1 4 1 4 1 4 0 4 1 4 1 4 0 4 1 5 0 4 1 4 0 4M131 1090l5-2 6-2 6-2 6-1 6-1 6-1 6-1 6-1 7 0 6 0 6 1 7 0 6 1 6 1 7 2 6 1 5 2 6 3 5 2 6 3 5 3 5 3 4 3 5 3 4 4 4 4 4 4 4 4 3 4 4 4 3 4 3 5 3 4 2 5 3 5 2 4 3 5 2 5 2 5 2 4 2 5 2 5 2 5 1 5 2 5 2 5 1 5 1 5 2 5 1 5 1 5 1 4 1 5 1 5 1 5 1 5 1 5 1 5 0 4 1 5 0 5 1 5 0 4M456 1289l1-4 2-4 1-4 2-4 2-3 2-4 2-4 1-4 2-3 2-4 3-4 2-3 2-4 2-3 2-3 3-4 2-3 2-3 3-4 2-3 3-3 3-3 2-3 3-3 3-3 3-2 3-3 3-3 3-2 3-3 3-2 3-3 3-2 3-2 3-2 4-2 3-2 3-2 4-2 3-2 4-1 3-2 4-2 3-1 4-1 4-2 3-1 4-1 3-1 4-1 4-2 3 0 4-1 4-1 4-1 3-1 4 0 4-1 4-1 3 0 4-1 4 0 4-1 3 0 4-1 4 0 4 0 3-1 4 0 4 0 4 0 3-1 4 0 4 0 4 0 3 0 4 0M68 1142l4-1 3 0 4 0 4 0 4 0 4 0 3 0 4 0 4 1 4 0 4 0 3 0 4 0 4 0 4 1 4 0 3 0 4 1 4 0 4 1 4 0 4 1 3 1 4 0 4 1 4 1 4 1 3 1 4 1 4 1 4 1 3 1 4 2 4 1 3 2 4 1 3 2 4 2 4 1 3 2 3 2 4 2 3 3 3 2 4 2 3 2 3 3 3 3 3 2 3 3 3 3 3 2M414 1072l2-6 3-6 3-6 4-6 4-6 5-6 6-6 7-5 8-6 11-4 14-5M630 1011l13 5 10 5 8 5 7 5 6 6 5 5 4 6 4 5 3 6 3 5 3 6M69 1075l2 6 3 5 2 6 2 5 2 5 2 5 2 6 2 5 2 5 2 5 2 5 1 5 2 4 2 5 2 5 2 5 1 4 2 5 2 4 2 4 1 5 2 4 2 4 2 4 2 4 1 4 2 4 2 4 2 4 2 4 2 3 1 4 2 3 2 4 2 3 2 4 2 3 2 3 2 4 2 3 2 3 2 3 2 3 2 3 2 3 2 3 2 3 2 2 2 3 2 3 3 3 2 2 2 3 2 2 2 3M654 1290l-1-3-2-3-2-2-2-3-2-2-3-2-2-2-2-2-2-2-3-1-2-2-2-1-3-1-2-1-3-1-2-1-3-1-2 0-3 0-2-1-3 0-2 1-3 0-3 0-2 1-3 0-2 1-3 1-2 1-3 1-3 2-2 1-3 2-2 1-3 2-2 2-2 2-3 2-2 2-3 2-2 2-2 2M368 1289l-1-5-1-4-1-4-2-5-1-4-1-5-1-4-1-5-1-4-1-5-1-5-1-5-1-5-1-5-1-5-1-5-1-5-1-6-1-5-1-5-1-6-1-5-1-6-1-5-2-6-1-6-1-5-2-6-1-6-2-5-1-6-2-6-2-6-2-6-2-5-2-6-3-6-3-5-3-6-4-5-4-5-4-6-5-4-5-5-7-5-6-4-8-3-9-3-9-3-10-2-10-1-11-1-11 0-10 1-10 2-9 2-9 3-8 4-7 3-6 5-5 4-5 5-4 5-4 5-3 5-3 5-2 6-2 5" stroke="url(#gl0)"/><path d="M481 1010l18-4 22-2 24-1 26 0 23 2 20 3 16 3" stroke="url(#gl0)" stroke-dasharray="0.01 5.5"/><path d="M392 1289l-1-5 0-4-1-5 0-5 0-5-1-5 0-5 0-5-1-5 0-5 0-5 0-6 0-5 0-5 0-6 0-5 0-6 0-5 0-6 0-6 0-6 1-5 0-6 0-6 1-6 0-6 1-6 0-6 1-6 0-6 1-7 1-6 0-6 1-6 1-7 1-6 1-6 2-7 1-6 2-6 2-7 2-6 2-7 3-6 4-6 4-7 5-6 8-6 9-6M646 1001l14 6 9 5 7 6 6 6 5 6 3 6 4 6 2 6M69 1054l2 5 2 6 2 6 2 6 2 5 2 6 2 6 1 5 2 6 2 5 1 5 2 6 1 5 2 5 1 5 2 5 1 5 2 5 2 5 1 4 2 5 1 5 2 4 1 5 2 4 2 5 1 4 2 4 2 4 1 4 2 4 2 4 1 4 2 4 2 4 2 4 1 3 2 4 2 4 2 3 2 3 2 4 1 3 2 3 2 4 2 3 2 3 2 3 2 3 2 3 2 3 2 3 2 2 2 3 2 3 2 3M656 1292l-1-3-2-3-2-3-2-3-2-2-2-3-2-2-2-3-2-2-2-2-2-2-3-2-2-1-2-2-3-1-2-1-3-1-2-1-3-1-2-1-3 0-3 0-2 0-3 0-2 0-3 0-3 0-2 1-3 1-3 1-2 1-3 1-2 1-3 1-3 2-2 1-3 2-2 2-3 2-2 2-3 2-2 2-2 2-3 2-2 3-2 2M462 1289l1-3 1-4 1-3 1-4 2-4 1-3 1-4 2-3 1-4 1-3 2-4 1-3 2-4 2-3 1-3 2-4 2-3 1-4 2-3 2-3 2-3 2-4 2-3 2-3 2-3 2-3 2-3 2-4 3-3 2-3 2-2 3-3 2-3 2-3 3-3 3-3 2-2 3-3 2-2 3-3 3-3 3-2 3-2 3-3 2-2 3-2 3-3 4-2 3-2 3-2 3-2 3-2 4-2 3-2 3-1 4-2 3-2 3-2 4-1 4-2 3-1 4-2 3-1 4-1 4-2 3-1 4-1 4-1 4-1 4-2 4-1 3 0 4-1 4-1 4-1 4-1 4-1 4 0 4-1 5 0 4-1 4 0 4-1 4 0M68 1098l4-1 5 0 4 0 4 0 4 0 5 0 4 0 4 0 4 0 5 1 4 0 4 0 4 1 4 0 5 1 4 1 4 0 4 1 4 1 4 1 4 1 4 1 4 1 4 2 4 1 4 1 4 2 4 2 4 1 3 2 4 2 3 2 4 2 3 2 4 2 3 2 4 2 3 2 3 3 3 2 3 3 3 2 3 3 3 3 3 2 3 3 2 3 3 3 3 3 2 3 3 3 2 3 2 3 3 4 2 3 2 3 2 3 2 4 3 3 2 3 1 4 2 3 2 4 2 3 2 4 1 4 2 3 2 4 1 3 2 4 1 4 2 3 1 4 1 4 2 3 1 4 1 4 1 4 1 3 2 4 1 4 1 4 1 3 0 4 1 4M421 1289l0-4 0-4 0-5 0-4 0-4 0-4 0-4 0-4 0-5 1-4 0-4 0-5 0-4 1-5 0-4 1-5 0-4 1-5 0-4 1-5 0-4 1-5 1-5 1-4 0-5 1-5 1-5 1-4 1-5 1-5 2-5 1-4 1-5 2-5 1-5 2-5 2-4 1-5 2-5 2-5 3-4 2-5 3-5 2-4 3-5 3-4 4-5 3-4 4-4 4-4 5-4 5-4 5-4 6-3 7-4 7-3 7-3 8-2 9-2 10-2 9-1 10-1 11-1 10 0 10 1 10 1 10 1 9 2 9 2 7 2 8 2 7 3 6 3 6 3 6 3 5 3 5 4 4 3 4 4M70 1069l4 4 4 3 3 4 4 3 3 4 3 4 3 3 3 4 2 3 3 4 3 3 2 4 3 3 2 3 3 4 2 3 2 3 3 4 2 3 2 3 2 3 3 4 2 3 2 3 2 3 2 3 2 3 3 3 2 3 2 3 2 3 2 3 2 2 2 3 2 3 2 3 3 2 2 3 2 3 2 2 2 3 2 3 2 2 2 3 2 2 2 3 2 2 2 3 2 3 2 2 2 2 2 3 3 2 2 3 2 2 2 3 2 2 2 3 2 2 2 2 2 3 2 2 2 3 2 2 2 2 2 3 2 2 1 3 2 2 2 3 2 2 2 2 2 3 2 2 2 3 2 2 1 3 2 2M208 1085l-5 1-5 2-4 2-5 2-4 2-4 3-4 3-3 3-3 3-4 3-2 4-3 3-3 4-2 4-2 3-2 4-2 4-1 4-2 4-1 5-2 4-1 4-1 4-1 4 0 5-1 4-1 4 0 4-1 5 0 4 0 4-1 4 0 5 0 4 0 4 0 4 0 4 0 4 1 4 0 4 0 4 0 4 1 4 0 4 1 4 0 4 1 4 0 4 1 3 1 4 1 4 0 4 1 3 1 4 1 3 1 4M636 1291l-1-3-2-2-1-3-1-3-2-3-1-2-2-3-2-2-1-2-2-2-2-3-1-2-2-2-2-2-2-1-2-2-2-1-2-2-2-1-2-2-2-1-2-1-3-1-2 0-2-1-2-1-2 0-3 0-2-1-2 0-3 0-2 0-2 1-3 0-2 0-2 1-3 1-2 0-2 1-3 1-2 1-2 1-3 1-2 2-2 1-2 1-3 2-2 1-2 2-2 1-2 2-2 2-3 2-2 1-2 2-2 2-2 2-2 2-2 2M376 1290l-2-3-1-2-2-3-1-3-2-3-1-3-1-3-2-3-1-3-2-4-1-3-1-3-2-4-1-3-1-4-2-3-1-4-1-3-2-4-1-4-1-4-2-4-1-3-2-4-1-4-1-4-2-4-1-4-2-4-1-5-2-4-2-4-1-4-2-4-2-4-2-4-2-5-2-4-2-4-2-4-2-4-2-4-3-4-2-4-3-4-3-3-3-4-3-4-3-3-4-3-4-3-3-3-4-3-5-3-4-2-5-2-4-2-5-2-5-1-5-2-6 0-5-1-5 0-5 0-6 1-5 0-5 2-5 1M524 1279l3-2 2-2 3-3 2-2 3-2 2-2 2-2 3-3 2-2 3-2 2-2 3-2 3-2 2-2 3-2 2-2 3-2 2-2 3-2 3-3 2-2 3-2 2-2 3-2 3-2 2-2 3-2 3-2 2-2 3-2 2-3 3-2 3-2 2-2 3-2 3-3 2-2 3-2 3-3 2-2 3-2 3-3 3-2 2-3 3-2 3-3 3-2 2-3 3-3 3-2 3-3 3-3 3-2 3-3 3-3 3-3 3-3 3-3 3-3 3-2 3-3 4-3 3-3M68 1128l4-3 4-3 3-3 4-3 4-3 4-3 4-3 4-2 5-3 4-3 5-2 5-3 5-2 5-2 5-2 6-2 6-2 5-2 6-1 7-1 6-1 6-1 7 0 6 0 7 0 6 0 7 1 6 1 6 1 6 2 6 2 6 2 6 2 5 3 5 3 5 3 5 3 5 4 4 3 4 4 4 4 4 4 4 4 3 4 3 4 3 5 3 4 3 5 3 5 2 4 3 5 2 5 2 5 2 5 2 4 2 5 2 5 2 5 1 5 2 5 1 5 2 5 1 5 1 5 1 5 1 5 1 5 1 5 1 5 1 4 1 5 1 5 0 5 1 5 1 5 0 4 1 5 0 5M628 1289l1-4 1-3 2-4 1-4 1-4 1-4 2-5 1-4 1-4 1-4 1-5 1-4 1-5 1-4 1-5 1-4 0-5 1-5 1-5 0-5 1-5 0-5 1-5 0-5 1-5 0-5 0-5 0-6 0-5 0-5 0-6 0-5-1-6 0-5-1-6-1-6 0-5-2-6-1-5-2-6-2-6-2-5-2-6-3-5-4-5-4-5-4-5-6-5-6-5-7-4-8-3-9-4-10-2-11-2-12-1-12-1-12 1-11 1-11 2-10 3-9 4-9 4-7 4-6 5-5 4-5 6-5 5-3 5-4 6-3 6-3 6-2 5-2 6-2 6-2 6-2 6-1 6-2 6-1 5-2 6-1 6-1 6-1 5-1 6-1 6-1 5-1 6-1 5-1 6-1 5-1 6-1 5-1 5-1 5-1 5-1 5-1 5-1 5-1 5-1 5-1 5-1 4-1 5-1 4-1 5-1 4-1 4-1 5-1 4M207 1290l-2-2-3-2-2-2-3-2-2-2-2-2-3-2-2-1-3-2-2-1-3-2-2-1-3-1-2-1-3-1-3-1-2 0-3-1-2 0-3 0-2 0-3 0-2 0-3 0-2 1-3 0-2 1-3 1-2 1-3 1-2 2-2 1-3 2-2 2-2 2-2 2-2 2-2 2-2 2-2 3-2 3M582 1291l2-2 3-3 2-2 2-3 2-2 2-3 3-2 2-3 2-3 2-2 2-3 2-3 2-3 2-3 2-3 2-3 2-3 3-3 2-3 2-3 2-4 2-3 2-3 1-4 2-3 2-4 2-3 2-4 2-4 2-3 2-4 2-4 2-4 2-4 2-4M511 1272l2-2 2-3 1-3 2-2 2-3 2-3 2-2 2-3 2-2 2-3 2-2 2-3 2-2 2-3 2-2 2-3 2-2 3-3 2-2 2-3 2-2 2-2 2-3 3-2 2-3 2-2 2-2 3-3 2-2 2-2 2-3 3-2 2-3 2-2 3-2 2-3 2-2 3-3 2-2 2-2 3-3 2-2 3-3 2-2 2-3 3-2 2-3 3-2 2-3 3-2 2-3 3-2 3-3 2-3 3-2 3-3 2-3 3-2 3-3 3-3 3-2 2-3 3-3 3-2 3-3 4-3 3-3 3-2 3-3 4-3 4-3 3-2 4-3 4-3M68 1082l4-3 4-2 5-3 5-2 4-2 6-3 5-2 5-2 6-1 6-2 6-2 6-1 7-1 6-1 7-1 7 0 7 0 7 0 7 0 7 1 7 0 6 1 7 2 7 1 6 2 6 2 6 2 5 3 5 3 5 2 5 3 5 4 4 3 4 3 4 4 4 3 3 4 4 4 3 4 3 4 3 4 2 4 3 4 2 4 3 4 2 5 2 4 2 4 2 4 2 5 2 4 1 5 2 4 1 4 2 5 1 4 2 5 1 4 1 5 1 4 1 4 1 5 1 4 1 5 1 4 1 4 1 5 0 4 1 5 1 4 0 4 1 4 0 5 1 4 0 4 1 4 0 4 0 5 1 4 0 4 0 4 0 4M446 1291l2-5 1-4 1-4 2-4 1-4 2-4 2-4 1-4 2-4 2-4 2-4 2-4 2-4 2-4 2-4 2-3 2-4 2-4 3-3 2-4 3-3 2-4 3-3 2-3 3-4 3-3 3-3 3-3 3-3 3-3 3-3 3-2 3-3 4-3 3-2 3-2 4-3 3-2 4-2 4-2 3-2 4-2 4-1 3-2 4-1 4-2 4-1 4-1 4-1 4-1 4-1 4-1 4-1 4 0 4-1 4 0 4-1 4 0 4 0 4-1 4 0 4 0 4 0 4 0 4 0 4 0 4 1 4 0 4 0 4 0 4 1 4 0 4 0 3 1 4 0 4 1 4 0 4 1M67 1141l4 1 4 0 4 1 3 1 4 0 4 1 3 0 4 1 4 1 3 0 4 1 3 1 4 1 4 0 3 1 4 1 4 1 3 1 4 0 3 1 4 1 3 1 4 1 3 1 4 1 4 1 3 2 4 1 3 1 3 1 4 2 3 1 4 1 3 2 4 1 3 2 3 2 3 1 4 2 3 2 3 2 3 2 4 2 3 2 3 2 3 2 3 2 3 3 3 2 3 2 3 3 2 3 3 2 3 3 3 3 2 2 3 3 3 3 2 3 3 3 2 3 2 3 3 3 2 4 2 3 3 3 2 4 2 3 2 3 2 4 2 3 2 4 2 3 2 4 1 4 2 3 2 4M347 1194l1 5 0 5 0 4 1 5 0 4 0 5 0 4 0 5 1 4 0 5 0 4 0 5 0 4 0 4-1 4 0 4 0 5 0 4 0 4-1 4 0 4 0 4M540 1283l2-3 2-2 2-2 2-3 2-2 2-3 2-2 1-2 2-3 2-2 2-3 2-2 2-2 2-3 2-2 2-3 2-2 2-3 2-2 2-3 2-2 1-3 2-3 2-2 2-3 2-3 2-2 2-3 2-3 2-3 2-2 2-3 1-3 2-3 2-3 2-3 2-3 2-3 2-3 2-3 2-3 2-3 1-4 2-3 2-3 2-3 2-4 2-3 2-4 2-3 2-4 2-3 2-4 2-3 2-4 2-4 2-4 2-3 2-4 2-4 2-4 2-4 3-4 2-4 2-4 3-4 3-4 2-4 3-4 3-4 3-5 4-4 3-4 4-4M70 1047l4-4 6-4 5-4 7-4 7-3 8-4 10-3 10-3 12-2 14-2 14-1M212 1013l15 2 12 2 12 3 10 3 9 4 8 4 6 4 6 4 6 4 4 5 4 4 4 5 3 5 4 5 2 5 3 5 2 5 2 5 2 5 2 5 2 5 1 5 2 5 1 5 2 5 1 5 1 5 1 5 1 5 1 5 1 5 1 5 0 5 1 5 1 5 0 4 1 5 0 5 1 5 0 5 1 4M636 1290l-1-3-1-4 0-3-1-4-1-3-1-3-1-4-1-3-2-3-1-3-1-3-2-3-1-3-1-3-2-3-2-3-1-3-2-2-2-3-2-2-1-2-2-3-2-2-3-2-2-2-2-1-2-2-2-2-3-1-2-1-2-1-3-1-2-1-3-1-2-1-3 0-2 0-3-1-3 0-2 0-3 1-3 0-2 0-3 1-2 1-3 1-3 0-2 2-3 1-2 1-3 1-2 2-3 1-2 2-2 2-3 1-2 2-3 2-2 2-2 2-2 2-3 3-2 2-2 2-2 2-2 2-2 3-2 2-2 2M483 1264l-2 3-2 2-2 2-2 3-2 2-2 2-2 2-2 2-2 2-2 3-1 2-2 2M358 1291l-2-3-1-2-2-2-1-3-2-2-2-3-1-2-2-3-2-3-1-3-2-2-1-3-2-3-2-3-1-3-2-3-2-3-1-4-2-3-1-3-2-3-2-4-2-3-1-3-2-4-2-3-2-4-1-3-2-3-2-4-2-3-2-4-2-3-2-4-2-3-2-3-3-4-2-3-2-3-3-3-2-3-3-4-3-3-2-2-3-3-3-3-3-3-3-2-3-3-3-2-4-2-3-2-4-1-3-2-4-1-3-2-4-1-4 0-4-1-3 0-4-1-4 1-4 0-3 0-4 1-4 1-3 1-4 2-3 1-3 2-3 2-4 2-2 2-3 3-3 2-3 3-2 3-2 3-3 3-2 3-2 3-2 4-2 3-1 4-2 3-1 4-2 4-1 3-1 4-1 4-1 4-1 4-1 4-1 4 0 4-1 4-1 4 0 4-1 4 0 4 0 3 0 4-1 4 0 4 0 4 0 4 0 4 0 4 0 4 1 4 0 4 0 3 0 4 1 4" stroke="url(#gl1)"/><path d="M442 1006l14-5 22-5 32-3 43-1 42 1 31 4 20 4M167 1013l15-1 15 0 15 1" stroke="url(#gl1)" stroke-dasharray="0.01 5.5"/><path d="M631 1288l2-4 1-4 1-4 1-4 1-4 1-4 1-5 1-4 1-5 1-4 1-4 1-5 1-5 0-4 1-5 1-5 0-5 1-5 0-5 0-5 1-5 0-5 0-5 0-5 0-5 0-6 0-5 0-5-1-6 0-5-1-5 0-6-1-5-1-6-2-5-1-6-2-5-1-6-3-5-2-5-3-5-3-5-4-5-4-5-4-5-6-4-5-4-7-4-7-3-8-3-9-2-9-2-10-1-9-1-10 1-10 1-9 1-9 3-8 3-8 3-7 4-6 4-6 4-5 5-4 5-5 5-3 5-4 5-3 6-3 5-2 6-2 6-3 5-2 6-2 5-1 6-2 6-2 5-1 6-1 6-2 5-1 6-1 5-2 6-1 5-1 6-1 5-1 5-1 5-1 6-1 5-1 5-1 5-2 5-1 5-1 4-1 5-1 5-1 5-1 4-1 5-1 4-1 4-2 5-1 4-1 4-1 4M219 1291l-2-2-3-3-2-2-2-2-3-2-2-3-2-2-3-2-2-2-3-1-2-2-3-2-2-1-3-2-2-1-3-1-3-1-2-1-3-1-2-1-3 0-3-1-2 0-3 0-3 0-2 0-3 1-2 0-3 1-2 1-3 1-2 1-3 1-2 1-2 2-3 1-2 2-2 2-2 2-2 2-2 3-3 2-1 3-2 2-2 3-2 3M636 1290l-1-3-1-3-1-4-1-3-1-3-2-3-1-3-1-2-2-3-1-3-2-3-1-2-2-3-2-2-1-2-2-3-2-2-2-2-2-2-2-1-2-2-2-2-2-1-2-2-3-1-2-1-2-1-3-1-2-1-2 0-3-1-2 0-2-1-3 0-2 0-3 0-2 0-3 1-2 0-3 1-2 0-2 1-3 1-2 1-3 1-2 1-3 2-2 1-2 1-3 2-2 1-2 2-2 2-3 1-2 2-2 2-2 2-3 2-2 2-2 2-2 2-2 2-2 2-2 2M368 1292l-1-3-2-2-1-3-2-2-1-3-2-3-2-3-1-2-2-3-1-3-2-3-1-3-2-3-1-4-2-3-1-3-2-4-1-3-2-3-1-4-2-3-1-4-2-3-1-4-2-4-1-3-2-4-2-4-1-4-2-3-2-4-2-4-1-4-2-3-2-4-2-4-2-4-3-3-2-4-2-4-2-3-3-4-2-4-3-3-3-3-2-4-3-3-3-3-4-3-3-3-3-3-4-2-4-2-3-3-4-2-4-1-4-2-4-1-5-2-4 0-4-1-5 0-4-1-5 1-4 0-4 1-4 1-5 1-4 1-3 2-4 2-4 2-3 2-4 3-3 2-3 3-3 3-2 3-3 3-2 4-3 3-2 4-2 3-2 4-1 4-2 3-1 4-2 4-1 4-1 4-1 4-1 4-1 4-1 4 0 5-1 4-1 4 0 4 0 4-1 4 0 4 0 4 0 4 0 4 0 4 0 4 0 4 0 4 0 4 0 4 1 4 0 4 0 4 1 4 0 4 1 3 0 4 1 4 1 3M563 1282l-2 2-3 3-2 2M370 1291l-1-4-1-4-1-4-1-5-1-4-2-5-1-4-1-5-1-5-1-4-1-5-1-5-1-5 0-5-1-5-1-5-1-6-1-5-1-5-1-6-1-5-1-6-1-5-1-6-1-5-2-6-1-6-1-5-1-6-2-6-1-6-2-5-1-6-2-6-2-6-2-6-3-6-2-5-3-6-3-6-4-5-4-5-4-6-5-5-6-4-6-5-8-4-8-4-9-3-10-2-10-2-12-1-11-1-12 1-11 1-10 2-10 2-8 4-8 3-7 4-6 5-5 5-4 4-4 6-4 5-3 5-2 5-3 6-1 5-2 6-2 6-1 5-1 6-1 5 0 6-1 5 0 6 0 5-1 6 0 5 0 5 0 6 0 5 1 5 0 5 0 5 1 6 0 5 1 4 0 5 1 5 1 5 1 5 0 4 1 5 1 4 1 5 1 4 1 5 1 4 1 4 1 4 2 5 1 4 1 4 1 4 2 4 1 3 1 4M656 1290l-1-4-1-4-1-4-2-4-1-4-1-4-1-4-2-4-1-4-2-3-2-4-1-3-2-4-2-3-2-3-2-3-2-3-3-3-2-3-2-2-3-3-2-2-3-2-3-2-2-2-3-1-3-1-3-2-3-1-3-1-3 0-3-1-3 0-3 0-3 0-3 0-3 1-3 1-4 0-3 2-3 1-3 1-3 2-3 1-3 2-2 2-3 2-3 2-3 3-2 2-3 3-3 2-2 3-3 3-2 2-3 3-2 3-3 3-2 3-2 3-3 3-2 4-2 3M625 1222l1-4 0-4 0-4 0-4 0-4 0-5 0-4-1-4 0-4 0-5-1-4 0-4-1-5-1-4 0-4-1-4-1-5-2-4-1-4-1-4-2-4-1-4-2-4-2-4-3-4-2-4-3-4-2-3-3-4-4-3-3-3-4-3-4-3-4-2-4-3-5-2-5-1-5-2-5-1-6-1-5 0-5-1-6 0-5 1-6 1-5 1-6 1-5 2-4 2-5 2-5 3-4 2-4 3-4 3-4 4-3 3-4 4-3 3-3 4-3 4-2 4-3 4-2 4-3 4-2 4-2 4-2 4-2 5-2 4-2 4-1 4-2 4-2 5-1 4-2 4-1 4-2 4-1 5-2 4-1 4-2 4-1 4-1 4-2 4-1 3-1 4-2 4-1 4-1 3-1 4-2 4-1 3-1 4-2 3-1 3-1 4-2 3-1 3-1 3-2 3-1 3-2 3-1 3-1 3-2 2M258 1290l-2-2-2-2-2-2-2-1-2-2-2-2-2-2-2-2-2-2-2-2-2-1-2-2-3-2-2-2-2-1-2-2-2-1-2-2-3-1-2-1-2-2-2-1-3-1-2-1-2-1-3-1-2-1-2 0-2-1-3 0-2-1-2 0-3 0-2 0-2 0-3 0-2 0-2 1-2 0-3 1-2 1-2 0-2 1-2 2-2 1-2 1-2 1-2 2-2 1-2 2-2 2-2 2-2 2-1 2-2 2-2 2-1 3-2 2-2 3-1 2-1 3-2 2-1 3M615 1289l0-3 1-4 1-3 1-4 1-3 1-4 0-4 1-4 1-3 0-4 1-4 0-4 1-4 0-4 1-4 0-4 0-4 0-4 1-4M632 1290l0-4 0-4 0-4-1-4 0-3 0-4-1-4 0-4-1-3-1-4 0-4-1-3-1-4-1-4-1-3-1-4-1-3-1-4-2-3-1-4-2-3-1-3-2-3-1-4-2-3-2-3-2-2-2-3-2-3-2-2-2-3-3-2-2-2-3-2-2-2-3-2-2-1-3-2-3-1-3-1-3-1-3-1-3-1-3 0-3 0-3-1-3 0-3 1-3 0-3 1-3 0-3 1-3 1-3 1-3 2-3 1-3 2-3 2-3 1-2 2-3 2-3 2-2 3-3 2-2 2-3 3-2 2-3 3-2 3-2 2-3 3-2 3-2 3-2 2-2 3-2 3-2 3-2 3-2 3-2 3-2 2-2 3-2 3-2 3-2 3-2 2-1 3-2 3-2 3-2 2-2 3-1 3-2 2-2 3-2 2-1 2-2 3-2 2-2 2-1 2-2 3-2 2-2 2M335 1292l-2-2-2-2-2-2-1-3-2-2-2-2-2-2-1-3-2-2-2-3-2-2-2-3-1-2-2-3-2-2-2-3-2-3-2-2-1-3-2-3-2-3-2-3-2-2-2-3-2-3-2-3-2-3-2-2-2-3-2-3-3-3-2-2-2-3-2-3-3-2-2-3-2-2-3-2-2-3-3-2-3-2-2-2-3-2-3-2-2-2-3-1-3-2-3-1-3-2-3-1-3-1-3-1-3 0-3-1-3 0-3 0-3 0-3 0-3 0-3 1-3 0-3 1-2 1-3 1-3 1-3 2-2 2-3 1-2 2-3 2-2 2-3 3-2 2-2 3-2 2-2 3-2 3-2 3-1 3-2 3-2 3-1 3-1 3-2 4-1 3-1 3-1 4-2 4-1 3 0 4-1 3-1 4-1 4-1 3 0 4-1 4 0 4-1 3 0 4 0 4-1 4 0 3M390 1291l-1-3-1-3-1-3-1-4-2-3-1-3-1-4-1-4-1-3-1-4-1-4-1-3-1-4-1-4-1-4-1-4-1-4-1-4-1-4-1-5-1-4 0-4-1-5-1-4-1-5-1-4-1-5-1-4-1-5-1-4-1-5-1-5-1-5-1-4-2-5-1-5-1-5-1-5-2-5-1-4-2-5-1-5-2-5-2-5-2-5-2-5-3-4-2-5-3-5-3-4-4-5-4-4-4-4-4-4-6-4-5-4-6-3-7-3-7-2-8-3-8-1-9-2-9 0-9-1-9 1-9 1-9 1-8 2-7 2-7 3-6 3-6 3-5 4-5 3-4 4-3 4-4 5-2 4-3 4-2 5-2 4-2 5-1 4-2 5-1 5-1 4-1 5 0 5-1 4 0 5-1 4 0 5 0 4 0 5 0 4 0 5 0 4 0 5 1 4 0 4 0 5 1 4 0 4 1 4 0 4 1 4 0 4 1 4 1 4 1 4 0 4 1 4 1 4 1 4 1 3 1 4 1 4 1 3 1 4 1 3 1 4 1 3 2 4 1 3 1 3 1 3 1 4 2 3 1 3 1 3 2 3M628 1292l-1-2-2-2-2-1-2-2-2-1-2-1-2-1-2-1-2-1-2-1-2-1-2-1-2 0-2-1-2 0-2 0-2 0-2 0-3 0-2 0-2 0-2 0-2 1-2 0-3 1-2 1-2 0-2 1-2 1-2 1-2 1-3 1-2 1-2 2-2 1M655 1290l-2-3-2-2-2-3-2-2-2-2-2-3-2-2-3-1-2-2-2-2-3-1-2-2-2-1-3-1-2-1-3-1-2 0-3-1-2 0-3 0-2 0-3 0-3 0-2 0-3 1-2 1-3 0-3 1-2 1-3 2-2 1-3 1-2 2-3 1-2 2-3 2-2 2-3 2-2 2-2 2-3 2-2 2M368 1289l-1-4-1-4-1-5-1-4-1-4-1-5-2-5-1-4-1-5-1-5-1-5-1-4-1-5-1-5-1-6-1-5-1-5-1-5-1-6-1-5-1-5-1-6-1-5-1-6-1-5-2-6-1-6-1-5-2-6-1-6-2-6-1-5-2-6-2-6-2-6-3-5-2-6-3-6-3-5-4-6-4-5-4-5-5-5-5-5-6-4-7-4-8-4-8-3-9-3-10-2-11-2-10 0-11 0-11 1-10 1-9 3-9 3-8 3-7 4-6 4-6 4-5 5-4 5-4 5-3 5-3 5-2 6-2 5-2 6-2 5-1 6-1 5-1 6-1 5-1 6 0 5-1 6 0 5 0 6 0 5 0 5 0 5 0 6 0 5 1 5 0 5 0 5 1 5 0 5 1 5 1 5 0 4 1 5 1 5 1 4 1 5 1 4 1 5 1 4 1 4 1 5 1 4 1 4 1 4 1 4 2 4 1 4 1 4M251 1260l-2-2-3-2-2-2-2-2-2-2-2-2-2-1-3-2-2-2-2-1-3-2-2-1-2-2-3-1-2-1-2-1-3-1-2-1-2-1-3-1-2-1-3 0-2 0-3-1-2 0-2 0-3 0-2 0-3 1-2 0-2 1-3 0-2 1-2 1-3 1-2 1-2 1-2 2-2 1-2 2-2 2-2 1-2 2-2 2-2 2-2 3-1 2-2 2-2 3-1 2-2 3-1 3-2 2-1 3-2 3-1 3-1 3-1 3-1 3-1 3M621 1290l0-4 1-4 0-3 1-4 1-4 0-4 0-4 1-4 0-3 0-4 1-4 0-4 0-4 0-4 0-4 0-4 0-4 0-5 0-4-1-4 0-4 0-4-1-4 0-4-1-4-1-5 0-4-1-4-1-4-1-4-2-4-1-4-1-4-2-4-2-4-1-3-2-4-2-4-3-3-2-4-3-3-2-3-3-3-3-3-3-3-4-3-3-2-4-2-4-2-4-2-4-1-4-2-4-1-5 0-4-1-5 0-4 0-5 0-4 1-5 1-4 1-5 1-4 2-4 2-4 2-4 2-4 2-3 3-4 3-3 2-3 4-3 3-3 3-3 3-3 4-3 3-2 4-3 4-2 3-2 4-3 4-2 4-2 3-2 4-2 4-2 4-1 4-2 4-2 3-2 4-1 4-2 4-1 4-2 3-2 4-1 4-2 4-1 3-2 4-1 3-2 4-1 3-2 4-1 3-1 3-2 4-1 3-2 3-1 3-2 3-1 3-2 3-1 3-2 3-1 2-2 3-1 3-2 2-1 3M280 1290l-2-2-2-2-2-2-2-2-2-2-2-2-2-2-2-2-2-2-2-3-2-2-2-2-2-2-2-2-2-2-2-2M224 1214l2 3 3 2 2 3 2 2 2 3 2 3 2 2 2 3 2 3 2 2 2 3 2 3 2 2 2 3 2 3 2 3 2 3 1 2 2 3 2 3 2 3 1 3 2 3 2 3 1 3 2 3 2 3 1 3M436 1289l0-4 0-4 1-4 0-5 1-4 0-4 1-4 1-4 0-4 1-4 1-4 1-5 0-4 1-4 1-4 1-4 1-5 1-4 2-4 1-4 1-5 1-4 2-4 1-4 2-4 1-5 2-4 2-4 1-4 2-4 2-4 2-4 2-4 2-4 3-4 2-4 3-4 2-4 3-4 3-4 2-3 3-4 4-3 3-4 3-3 4-3 3-3 4-4 4-2 4-3 5-3 4-3 5-2 4-2 5-2 5-2 6-2 5-2 5-1 6-1 6-1 5-1 6-1 6 0 6-1 6 0 6 0 5 1 6 0 6 1 5 0 6 1 5 1 5 1 5 2 5 1 5 2 5 1 5 2 4 2 5 2 4 1 4 2M69 1090l4 2 4 2 4 3 4 2 4 2 3 2 4 2 3 2 3 3 4 2 3 2 3 2 3 3 4 2 3 2 3 2 3 3 3 2 3 2 2 2 3 3 3 2 3 2 3 2 3 3 2 2 3 2 3 2 2 3 3 2 3 2 2 2 3 3 3 2 2 2 3 2 2 3 3 2 2 2 3 2 2 3 3 2 2 2 2 3 3 2 2 2 3 3 2 2 2 2 3 3 2 2 2 3 2 2 3 3 2 2 2 3M117 1255l-1 5 0 4 0 5 1 4 0 5 0 5 0 4 1 5M648 1291l0-5 0-4 0-5 0-4 0-5 0-5 0-4 0-5-1-5 0-4-1-5 0-5-1-4 0-5-1-5-1-4-1-5-1-5-1-4-2-5-1-4-2-5-1-4-2-4-2-5-2-4-3-4-2-4-2-3-3-4-3-4-3-3-3-3-3-3-4-3-3-2-4-2-4-3-4-1-4-2-5-1-4-1-4 0-5-1-4 0-5 1-4 0-4 1-5 1-4 2-4 1-4 2-4 3-4 2-4 3-4 3-3 3-4 3-3 3-3 4-3 3-3 4-3 4-3 4-2 4-3 4-2 4-3 4-2 4-2 4-3 4-2 5-2 4-2 4-2 4-2 4-2 5-2 4-1 4-2 4-2 4-2 4-2 4-1 4-2 4-2 4-2 4-1 3-2 4-2 4-1 3-2 4-2 3M288 1291l-2-4-2-3-2-3-2-3-2-3-2-3-3-4-2-3-2-3-2-4-2-3-2-3-3-3-2-3-2-4-3-3-2-3-2-3-3-3-2-3-3-3-3-3-2-2-3-3-3-3-2-2-3-2-3-3-3-2-3-1-3-2-3-2-3-1-3-2-4-1-3-1-3 0-3-1-3 0-4 0-3 0-3 0-3 0-3 1-3 1-3 1-4 1-2 2-3 1-3 2-3 2-3 2-2 3-3 2-2 3-3 3-2 2-2 3-2 4-2 3-2 3-2 4-2 3-1 4-2 4-1 4-2 3-1 4-1 4-2 4-1 4-1 5-1 4-1 4 0 4-1 4M282 1291l-2-3-2-3-2-4-3-3-2-3-2-3-2-3-2-3-2-4-2-3-3-3-2-3-2-3-3-3-2-3-2-3-3-3-2-3-3-3-2-3-3-2-2-3-3-2-3-3-3-2-2-2-3-2-3-2-3-2-3-2-3-1-3-2-3-1-3-1-3-1-4 0-3-1-3 0-3 0-3 0-3 0-3 1-3 0-3 1-3 1-3 2-3 1-3 2-3 2-2 2-3 2-2 2-3 2-2 3-3 3-2 3-2 3-2 3-2 3-2 3-2 4-1 3-2 4-2 4-1 3-1 4-2 4-1 4-1 4-1 4-1 4-1 4-1 4M629 1288l2-3 1-4 1-4 2-4 1-4 1-5 1-4 1-4 1-4 1-5 1-4 1-5 1-4 1-5 0-5 1-4 1-5 0-5 1-5 1-5 0-5 0-5 1-5 0-5 0-5 0-6 0-5 0-5 0-6 0-5-1-5 0-6-1-5 0-6-1-5-1-6-2-6-1-5-2-6-2-5-2-5-3-6-3-5-4-5-4-5-4-5-6-4-6-5-6-4-8-3-8-3-10-3-10-2-11-1-10 0-11 0-11 2-10 1-10 3-8 3-8 4-7 4-7 4-5 5-5 5-5 5-4 5-3 6-4 5-2 6-3 5-2 6-3 6-2 6-2 5-1 6-2 6-1 6-2 6-1 5-2 6-1 6-1 5-1 6-1 5-1 6-1 5-1 6-1 5-1 5-1 6-1 5-1 5-1 5-1 5-1 5-1 5-1 4-1 5-1 5-1 5-2 4-1 5-1 4-1 4-1 4-1 5-1 4M338 1291l-2-4-1-3-2-4-2-3-1-4-2-4-2-4-1-4-2-4-2-4-1-4-2-4-2-5-1-4-2-4-2-4-2-5-1-4-2-5-2-4-2-4-2-5-2-4-2-5-3-4-2-5-2-4-3-4-2-5-3-4-2-4-3-4-3-4-3-4-3-4-4-3-3-4-4-3-4-3-4-3-4-3-4-2-4-3-5-2-4-1-5-2-5-1-5-1-5 0-4 0-5 0-5 1-5 1-4 1-5 2-4 1-4 3-4 2-4 3-4 3-3 3-4 3-3 3-3 4-3 4-2 4-3 4-2 4-2 5-2 4-2 5-1 4-2 5-1 4-2 5-1 5-1 4-1 5-1 5 0 5-1 5-1 4 0 5 0 5-1 5 0 4 0 5 0 5 0 5 0 4 0 5 0 4 0 5 0 5 1 4 0 5M648 1291l1-5 0-4 0-5 0-4 0-5-1-5 0-4 0-5-1-5 0-4-1-5 0-5-1-4-1-5-1-4-1-5-1-5-1-4-1-5-1-4-2-5-2-4-1-4-2-5-2-4-2-4-3-4-2-3-3-4-2-4-3-3-3-3-4-3-3-3-3-3-4-2-4-2-4-2-4-1-4-2-4-1-4-1-4 0-5 0-4 0-4 0-5 1-4 1-4 1-4 2-5 2-4 2-3 2-4 2-4 3-3 3-4 3-3 3-3 4-4 3-3 4-2 3-3 4-3 4-3 4-2 4-3 4-2 4-2 4-2 4-3 4-2 4-2 5-2 4-2 4-2 4-2 4-2 4-2 4-1 4-2 4-2 4-2 4-2 4-1 4-2 4-2 4-2 3-1 4-2 3-2 4-2 3M629 1290l0-4 1-3 0-4 0-4-1-4 0-4 0-4 0-4 0-3-1-4 0-4-1-4 0-4-1-4 0-4-1-4-1-3-1-4-1-4-1-4-1-3-1-4-1-4-2-3-1-4-2-3-1-4-2-3-2-3-2-3-2-3-2-3-2-3-2-3-3-2-2-3-3-2-2-3-3-2-3-1-3-2-3-2-3-1-3-1-4-1-3-1-3-1-4 0-3-1-3 0-4 1-3 0-4 0-3 1-3 1-4 1-3 1-3 2-4 1-3 2-3 2-3 2-3 2-3 2-2 3-3 2-3 3-3 3-2 2-3 3-2 3-3 3-2 3-2 3-2 3-3 3-2 3-2 3-2 3-2 4-2 3-2 3-2 3-2 3-2 3-1 4-2 3-2 3-2 3-2 3-1 3-2 3-2 3-1 3-2 3-2 3-2 2-1 3-2 3-2 3-1 2-2 3-2 2-1 3-2 2-2 2-1 3-2 2-2 2-2 2M319 1291l-2-1-2-3-1-2-2-2-2-2-2-2-2-2-2-3-2-2-1-2-2-3-2-2-2-2-2-3-2-2-2-3-2-2-2-3-2-2-2-3-2-3-2-2-2-3-2-2-2-3-2-2-2-3-2-2-3-2-2-3-2-2-2-2-3-2-2-2-3-3-2-2-3-1-2-2-3-2-2-2-3-1-2-2-3-1-3-1-2-1-3-1-3-1-3-1-2 0-3-1-3 0-3 0-3 0-2 0-3 0-3 1-2 0-3 1-3 1-2 1-3 1-2 2-3 1-2 2-3 1-2 2-2 2-2 2-2 3-2 2-2 2-2 3-2 2-2 3-2 3-1 3-2 3-1 3-2 3-1 3-1 3-2 3-1 4-1 3-1 4-1 3-1 3-1 4-1 4 0 3-1 4-1 3 0 4-1 4M428 1289l0-4 1-4 0-5 0-4 0-4 0-4 1-4 0-4 1-5 0-4 1-4 0-4 1-5 0-4 1-5 1-4 0-4 1-5 1-4 1-5 1-4 1-5 1-4 1-5 1-4 2-5 1-4 1-5 2-4 1-4 2-5 2-4 2-5 1-4 2-5 2-4 3-4 2-5 2-4 3-4 2-4 3-5 3-4 3-4 4-4 3-3 4-4 4-4 4-3 4-4 5-3 5-3 5-3 5-3 6-2 6-3 6-2 7-2 6-1 7-2 7-1 8-1 7 0 8 0 7 0 7 0 8 1 7 0 7 1 6 2 7 1 6 2 6 2 6 2 5 2 6 2 5 3 4 2 5 3 5 2 4 3M68 1081l4 3 4 2 3 3 4 3 3 3 4 3 3 3 3 3 3 2 3 3 3 3 3 3 3 3 3 3 3 2 3 3 2 3 3 3 3 3 2 2 3 3 2 3 3 2 2 3 3 3 2 2 3 3 2 3 3 2 2 3 2 2 3 3 2 2 2 3 3 2 2 3 2 2 3 3 2 2 2 3 3 2 2 2 2 3 2 2 3 3 2 2 2 2 2 3 2 2 3 3 2 2 2 2 2 3 2 2 2 3 3 2 2 2 2 3 2 2 2 3 2 2 2 3 2 2 2 3 2 2 2 3 2 2 2 3 2 2 2 3 2 2 2 3 2 3 1 2 2 3 2 3 2 2 2 3 1 3 2 2 2 3M489 1254l1-3 2-3 2-3 2-3 2-4 1-3 2-3 2-3 2-3 2-3 2-3 2-2 2-3 3-3 2-3 2-3 2-2 2-3 3-3 2-3 2-2 3-3 2-2 3-3 2-2 3-3 2-2 3-3 2-2 3-2 3-3 2-2 3-2 3-2 2-3 3-2 3-2 3-2 3-2 3-2 3-2 3-2 3-2 3-2 3-2 3-2 3-2 3-2 3-1 3-2 4-2 3-2 3-1 4-2 3-2 3-2 4-1 3-2 4-1 3-2 4-1 3-2 4-1 4-2 3-1 4-2 4-1 4-1 4-2 4-1 4-1 4-1 4-1M70 1095l4-1 5-1 4-1 4-1 5-1 4 0 5-1 4-1 5 0 5 0 4-1 5 0 5 0 4 0 5 0 5 1 5 0 4 0 5 1 5 1 4 1 5 0 5 2 4 1 5 1 4 1 4 2 5 2 4 1 4 2 4 2 4 2 4 2 4 3 3 2 4 3 4 2 3 3 3 3 4 2 3 3 3 3 3 3 3 3 3 4 2 3 3 3 3 3 2 4 3 3 2 4 2 3 2 4 3 3 2 4 2 4 2 4 2 3 1 4 2 4 2 4 2 3 1 4 2 4 1 4 2 4 1 4 1 4 2 4 1 4 1 4 1 4 1 4 2 4 1 3 1 4 1 4 0 4 1 4 1 4 1 4 1 4 0 4 1 4" stroke="url(#gl2)"/><path d="M208 1290l-3-2-2-2-2-2-3-2-2-2-2-2-3-2-2-2-3-1-2-2-3-1-2-1-3-1-2-1-3-1-3-1-2-1-3 0-2-1-3 0-2 0-3 0-3 0-2 0-3 1-2 1-3 0-2 1-2 1-3 2-2 1-2 1-3 2-2 2-2 2-2 2-2 2-2 2-2 2-2 3-2 2M584 1290l2-2 2-3 2-2 3-3 2-2 2-3 2-2 2-3 2-3 2-3 3-2 2-3 2-3 2-3 2-3 2-3 2-3 2-3 2-4 2-3 2-3 2-4 2-3 2-4 2-3 2-4 2-3 2-4 1-4 2-4 2-4 2-4 2-4 2-4 2-4 2-4 1-4 2-5 2-4 2-4 2-5 2-5 2-4 2-5 2-5 2-5 2-4 2-5 2-5 2-5 2-5 2-6 3-5 2-5 3-5M69 1077l2-5 4-5 3-6 4-5 4-5 5-6 5-5 6-5 7-5 8-5 10-4 12-4 15-4M268 1014l14 4 12 4 9 5 8 5 7 5 6 6 5 5 4 6 3 6 4 6 2 6 3 6 2 6 2 6 2 6 2 7 2 6 1 6 1 6 2 6 1 6 1 6 1 6 1 6 0 6 1 5 1 6 0 6 1 6 0 5 1 6 0 6 1 5 0 6 0 5 0 6 1 5 0 6 0 5 0 5 0 5 0 5 0 5 0 5 0 5-1 5 0 5 0 5 0 5-1 4M443 1290l1-4 1-4 0-4 1-4 1-4 0-3 1-4 1-4 1-4 1-4 1-4 1-4 1-4 1-4 2-4 1-4 1-4 2-4 1-4 1-4 2-4 1-4 2-4 2-4 1-4 2-4 2-3 2-4 2-4 2-4 2-3 2-4 3-4 2-3 2-4 3-3 2-4 3-3 3-4 3-3 2-3 3-3 4-3 3-3 3-3 3-3 4-3 3-2 4-3 4-2 4-3 4-2 4-2 4-2 4-2 4-2 5-1 4-2 5-1 4-2 5-1 5-1 5-1 4-1 5 0 5-1 5 0 5-1 5 0 5 0 5 0 4 1 5 0 5 0 5 1 4 0 5 1 5 1 4 1 5 0 4 1 4 1 5 2 4 1M68 1095l4 1 4 2 4 1 4 1 4 2 4 1 4 2 3 1 4 2 4 1 3 2 4 2 3 1 4 2 3 2 4 1 3 2 3 2 4 2 3 1 3 2 3 2 3 2 3 2 4 2 3 2 3 2 3 1 3 2 3 2 3 2 2 2 3 3 3 2 3 2 3 2 3 2 2 2 3 2 3 3 2 2 3 2 3 2 2 3 3 2 2 2 3 3 2 2 3 3 2 2 3 3 2 2 2 3 3 3 2 2 2 3 2 3 3 2 2 3 2 3 2 3 2 2 2 3 2 3 2 3 2 3 2 3 2 3 2 3 1 3 2 3 2 3 2 3 1 4 2 3 2 3 1 3 2 3 1 4 2 3 1 3 2 3 1 4 1 3M681 1098l1-6 2-5 2-6 2-5 2-6 2-6 2-6 3-5M69 1047l3-6 4-6 4-6 5-6 6-6 8-5 10-6M307 1003l14 5 9 6 7 6 6 6 4 6 4 7 3 6 2 6 2 7 2 6 2 6 1 7 2 6 1 6 1 7 1 6 1 6 1 6 0 7 1 6 1 6 0 6 1 6 0 6 1 6 0 6 0 6 1 6 0 6 0 5 0 6 1 6 0 5 0 6 0 5 0 6 0 5 0 5-1 6 0 5 0 5 0 5 0 5-1 5 0 5 0 5-1 5 0 5-1 4 0 5M526 1280l2-3 3-2 2-2 2-2 3-2 2-3 3-2 2-2 3-2 2-2 3-2 2-2 3-2 2-3 3-2 3-2 2-2 3-2 2-2 3-2 2-2 3-2 3-2 2-2 3-2 2-2 3-3 3-2 2-2 3-2 3-2 2-2 3-3 3-2 2-2 3-2 2-3 3-2 3-3 2-2 3-2 3-3 3-2 2-3 3-2 3-3 3-3 2-2 3-3 3-3 3-2 3-3 3-3 2-3 3-3 3-3 3-3 4-3 3-3 3-2 3-3 3-3 4-4M69 1126l4-3 3-3 4-3 4-3 4-2 4-3 4-3 4-3 5-3 4-3 5-2 5-3 5-2 5-2 6-2 5-2 6-2 6-2 6-1 6-1 7-1 6-1 7 0 7 0 6 0 7 1 6 1 7 1 6 1 6 2 6 2 6 2 6 3 5 2 5 3 5 3 5 4M422 1291l0-5 1-5 0-4 1-5 1-5 1-5 1-4 0-5 1-5 1-5 2-5 1-5 1-4 1-5 2-5 1-5 2-5 1-5 2-5 2-4 1-5 2-5 2-5 2-4 3-5 2-5 2-4 3-5 3-4 2-5 3-4 3-4 4-5 3-4 3-4 4-4 4-3 4-4 4-3 4-4 5-3 5-3 5-2 5-3 5-2 5-3 6-1 6-2 5-1 6-2 6-1 6 0 6-1 6 0 6 0 6 1 6 0 6 1 6 1 6 1 5 2 6 1 5 2 5 2 5 2 5 2 5 2 4 2 5 3 4 2 4 3 4 2 4 3 4 2 4 3 4 3 3 2 4 3M68 1133l4 2 3 3 4 3 3 2 3 3 3 3 3 2 4 3 3 2 3 3 3 3 3 2 3 3 2 2 3 2 3 3 3 2 3 3 3 2 3 2 2 3 3 2 3 2 3 2 3 2 2 3 3 2 3 2 3 2 2 2 3 2 3 2 3 2 2 2 3 2 3 2 2 2 3 2 3 2 2 2 3 3 3 2 2 2 3 2 3 2 2 2 3 2 3 2 2 2 3 2 2 2 3 2 2 2 3 2 2 2 3 3 3 2 2 2 2 2 3 3 2 2 3 2 2 3 3 2 2 2 2 3 3 2 2 3 2 2 2 3M408 1289l0-4-1-4 0-3-1-4 0-4-1-4 0-4-1-4 0-5 0-4-1-4 0-4 0-5 0-4-1-5 0-4 0-5 0-4 0-5 0-5 0-4 0-5 0-5 0-5 0-5 0-4 0-5 0-5 1-5 0-5 0-6 0-5 1-5 0-5 0-5 1-5 0-6 1-5 0-5 1-6 0-5 1-5 1-6 0-5 1-6 1-5 1-5 1-6 1-5 2-6 1-5 2-6 2-5 2-6 2-5 4-5 4-6 5-5 7-5 11-5M678 995l13 4M69 1004l6 5 4 5 4 6 3 5 2 5 3 5 2 5 2 5 2 5 1 4 2 5 1 5 2 5 1 5 2 4 1 5 2 5 1 4 2 5 1 4 1 5 2 4 1 5 1 4 2 4 1 4 2 4 1 5 1 4 2 4 1 4 2 3 1 4 2 4 1 4 2 4 1 3 2 4 1 4 2 3 1 4 2 3 1 4 2 3 1 3 2 4 2 3 1 3 2 3 1 3 2 3 2 3 1 3 2 3 2 3 1 3 2 3 2 3 2 3 1 3 2 2 2 3 2 3 1 3 2 2 2 3 2 2 1 3 2 3 2 2 2 3 2 2 1 3 2 2 2 2 2 3 2 2 2 3M428 1268l1-5 1-5 1-5 1-4 1-5 1-5 1-5 2-4 1-5 1-5 2-5 1-4 2-5 2-5 2-5 2-4 2-5 2-5 2-4 2-5 3-4 2-5 3-4 3-4 2-4 3-5 3-4 4-4 3-4 4-3 3-4 4-4 4-3 4-3 4-3 5-3 4-3 5-3 5-2 5-2 5-2 6-2 5-2 5-1 6-1 6-1 5-1 6 0 6 0 6 0 5 0 6 0 5 1 6 1 5 1 6 1 5 1 5 2 5 1 5 2 5 2 4 2 5 2 4 2 5 2 4 3 4 2 4 2 4 2 4 3 3 2 4 3 4 2M67 1134l4 2 3 3 4 2 3 2 3 3 4 2 3 3 3 2 3 2 3 3 3 2 3 3 3 2 4 2 2 2 3 3 3 2 3 2 3 2 3 2 3 3 3 2 3 2 3 2 3 2 2 2 3 2 3 2 3 2 3 2 2 2 3 2 3 2 3 2 3 2 2 2 3 2 3 2 3 2 2 2 3 2 3 2 2 2 3 2 3 2 3 2 2 2 3 2 2 2 3 2 3 2 2 2 3 2 2 2 3 3 3 2 2 2 3 2 2 3 3 2 2 2 2 3 3 2 2 2 3 3 2 2 2 3 3 3 2 2 2 3 2 3M397 1289l0-5 0-4-1-5 0-5 0-5 0-5 0-5 0-5 0-5 0-5 0-6 0-5 0-5 0-6 1-5 0-6 0-5 1-6 0-5 1-6 0-6 1-5 1-6 0-6 1-6 1-6 1-6 1-6 1-6 1-6 1-6 2-6 1-6 2-6 2-6 2-6 2-6 2-6M655 1288l-1-4-1-4-1-4-1-4-1-4-1-4-2-4-1-4-1-4-2-4-1-4-2-3-2-4-2-3-2-4-2-3-2-3-2-3-2-3-3-3-2-2-3-3-2-2-3-2-3-2-2-2-3-1-3-2-3-1-3-1-3-1-3-1-4 0-3 0-3 0-3 0-3 0-3 1-4 0-3 1-3 1-3 2-3 1-3 2-3 2-3 1-3 2-3 3-3 2-3 2-2 3-3 2-3 3-2 3-3 3-2 3-3 3-2 3-3 3-2 3-2 3-2 3-3 4-2 3M332 1290l-2-4-2-3-1-4-2-4-2-3-1-4-2-4-2-4-2-4-1-4-2-4-2-4-2-4-2-4-1-4-2-5-2-4-2-4-2-4-2-5-2-4-2-4-3-4-2-5-2-4-2-4-3-4-3-4-2-4-3-4-3-4-3-4-3-3-3-4-3-3-4-3-3-3-4-3-4-3-4-3-4-2-4-2-4-2-4-1-5-1-4-1-5-1-4 0-5 0-4 0-5 1-4 1-4 1-5 1-4 2-4 2-3 3-4 2-4 3-3 3-3 3-3 3-3 4-3 4-2 4-3 3-2 5-2 4-2 4-2 4-1 5-2 4-1 5-2 4-1 5-1 5-1 4-1 5-1 5 0 4-1 5 0 5-1 4 0 5-1 5 0 4 0 5 0 5 0 4 0 5 0 5 0 4 0 5M647 1291l1-4 0-5 0-4 0-5 0-4 0-5 0-5 0-4-1-5 0-5 0-4-1-5 0-5-1-5-1-4-1-5-1-5-1-4-1-5-1-5-1-4-2-5-1-4-2-5-2-4-2-4-2-4-2-4-3-4-2-4-3-4-3-3-3-3-4-4-3-2-4-3-3-3-4-2-4-2-4-1-5-2-4-1-4-1-5 0-4 0-5 0-5 0-4 1-5 1-4 1-4 2-4 2-5 2-4 2-4 3-3 3-4 3-3 3-4 3-3 4-3 3-3 4-3 4-3 4-3 4-2 4-3 4-2 4-3 4-2 5-2 4-2 4-2 4-2 5-2 4-2 4-2 4-2 5-2 4-2 4-2 4-1 4-2 4-2 4-2 4-1 4-2 4-2 4-2 4-1 4-2 3-2 4-1 3-2 4M286 1291l-2-3-2-3-3-3-2-3-2-3-2-4-2-3-2-3-2-3-2-4-2-3-3-3-2-3-2-3-3-3-2-4-2-3-3-3-2-3-3-2-2-3-3-3-3-3-2-2-3-3-3-2-3-2-3-2-3-2-3-2-3-2-3-1-3-2-3-1-3-1-3-1-3 0-3-1-4 0-3 0-3 0-3 0-3 1-3 0-3 1-3 1-3 2-3 1-3 2-3 2-2 2-3 2-3 2-2 3-3 3-2 2-2 3-2 3-2 3-2 4-2 3-2 4-2 3-1 4-2 4-1 3-2 4-1 4-1 4-2 4-1 4-1 4-1 4-1 5 0 4M387 1172l-1 5 0 5-1 5 0 5-1 4-1 5 0 4-1 5 0 4-1 5-1 4 0 5-1 4-1 4 0 4-1 4-1 4-1 4 0 4-1 4-1 4-1 4-1 4-1 3 0 4-1 3-1 4-1 3M584 1292l2-3 2-3 1-3 2-3 1-2 2-3 1-3 2-3 1-3 2-3 1-3 2-3 1-4 1-3 2-3 1-3 1-4 2-3 1-3 1-4 1-3 2-4 1-3 1-4 1-4 1-3 1-4 1-4 1-4 1-4 1-3 1-4 1-4 1-5 1-4 1-4 1-4 0-4 1-5 1-4 0-4 1-5 0-4 1-5 0-4 0-5 1-5 0-4 0-5 0-5 0-4 0-5-1-5 0-5-1-5 0-5-1-5-2-4-1-5-2-5-2-5-2-5-3-5-4-4-4-5-6-4-6-5-8-4-9-3-12-3-13-3M479 1013l-13 2-11 4-9 3-8 5-7 4-5 5-5 4-4 5-3 5-3 5-3 6-2 5-2 5-1 5-2 6-1 5-1 5-2 5-1 6-1 5-1 5 0 5-1 6-1 5-1 5 0 5-1 5 0 5-1 5-1 5 0 5-1 5 0 5-1 5M613 1198l2-3 1-3 2-4 2-3 1-4 2-3 1-4 2-3 2-4 1-3 2-4 1-4 2-4 1-3 2-4 1-4 2-4 1-4 2-4 1-4 2-5 1-4 2-4 1-4 2-5 1-4 2-4 2-5 1-4 2-5 2-5 1-4 2-5 2-5 2-4 2-5 2-5 2-5 3-5 3-5 3-5 4-4 4-5M67 1014l7-5 9-5 12-4M292 1000l12 5 9 4 6 5 5 6 5 5 3 5 3 5 2 6 3 5 1 5 2 6 2 5 1 6 1 5 1 5 2 6 1 5 0 5 1 6 1 5 1 5 0 6 1 5 1 5 0 5 1 5 0 6 0 5 1 5 0 5 0 5 1 5 0 5 0 5 0 5 0 5 1 4 0 5 0 5 0 5 0 4 0 5 0 5 0 4-1 5 0 4 0 4 0 5 0 4-1 4 0 5 0 4-1 4 0 4 0 4-1 4 0 4-1 4 0 4-1 3M555 1287l2-2 2-2 2-3 2-2 2-3 1-2 2-3 2-2 2-3 2-2 2-3 1-2 2-3 2-2 2-3 2-3 1-2 2-3 2-3 2-3 1-2 2-3 2-3 2-3 1-3 2-3 2-3 1-3 2-3 2-3 1-3 2-4 2-3 1-3M419 1267l-2 2-1 3-2 3-1 2-2 3-2 2-1 3-2 2-1 2-2 3M301 1291l-2-2-1-2-2-2-2-2-2-2-2-2-2-2-2-2-2-3-2-2-2-2-2-2-2-3-2-2-2-2-2-3-2-2-2-2-2-2-2-3-2-2-2-2-2-2-3-2-2-3-2-2-2-2-2-2-3-1-2-2-2-2-3-2-2-1-3-2-2-1-3-2-2-1-3-1-2-1-3-1-2-1-3-1-2 0-3-1-3 0-2-1-3 0-2 0-3 0-2 1-3 0-2 1-3 0-2 1-3 1-2 1-3 2-2 1-2 1-2 2-2 2-3 1-2 2-2 2-2 3-2 2-1 2-2 3-2 2-2 3-1 2-2 3-1 3-2 3-1 3-1 3-2 3-1 3-1 3-1 4-1 3-1 3-1 4-1 3-1 3 0 4M626 1289l0-4 0-4 1-4 0-4 0-3 0-4 0-4 0-4 0-4 0-4 0-4 0-4 0-4 0-4-1-4 0-4-1-4 0-4-1-4 0-4-1-4-1-4-1-4-1-4-1-4-1-3-1-4-2-4-1-4-2-3-2-4-1-3-2-4-2-3-2-3-3-4-2-3-3-2-2-3-3-3-3-2-3-3-3-2-3-2-4-2-3-1-4-1-4-2-3-1-4 0-4-1-4 0-4 0-3 0-4 1-4 0-4 1-4 1-4 1-3 2-4 1-3 2-4 2-3 3-4 2-3 2-3 3-3 3-3 2-3 3-2 3-3 3-2 4-3 3-2 3-3 3-2 4-2 3-2 4-2 3-2 4-2 3-2 4-2 3-2 4-2 3-2 4-2 3-1 4-2 3-2 3-1 4-2 3-2 4-1 3-2 3-2 3-1 3-2 4-1 3-2 3-2 3-1 3-2 3-1 2-2 3M129 1108l-2 5-2 6-1 5-2 5-1 6-1 5-1 5-1 6 0 5-1 5 0 6-1 5 0 5 0 5 0 5 0 6 0 5 0 5 1 5 0 5 0 4 1 5 0 5 1 5 0 5 1 4 1 5 0 4 1 5 1 4 1 5 1 4 1 4 1 5 1 4 1 4 1 4M654 1288l-1-5 0-4-1-4-1-4-1-4-1-5-1-4-2-4-1-4-1-4-2-4-1-3-2-4-2-4-2-3-2-4-2-3-2-3-2-3-2-3-3-3-2-3-3-3-2-2-3-2-3-2-3-2-3-2-3-1-3-2-3-1-3-1-3-1-3 0-4 0-3 0-3 0-4 0-3 1-3 0-3 1-4 1-3 2-3 1-3 2-3 2-3 2-3 2-3 2-3 2-3 3-3 3-2 2-3 3-3 3-2 3-3 3-2 3-3 3-2 3-3 4-2 3-2 3-2 3-3 4M326 1289l-1-4-2-3-2-4-2-3-1-4-2-4-2-4-2-3-2-4-1-4-2-4-2-4-2-4-2-4-2-4-2-4-2-4-2-5-2-4-2-4-2-4-2-4-3-4-2-4-2-4-3-4-2-4-3-4-3-3-3-4-3-4-3-3-3-4-3-3-3-3-4-3-3-2-4-3-4-2-4-2-4-2-4-2-4-1-4-1-4-1-5-1-4 0-4 0-4 0-5 1-4 1-4 1-4 1-4 2-3 2-4 2-4 3-3 2-3 3-3 3-3 3-3 4-3 3-2 4-2 4-3 4-2 4-2 4-2 4-1 5-2 4-1 4-2 5-1 4-1 5-1 4-1 5-1 5-1 4 0 5-1 4 0 5-1 5 0 4 0 5-1 5 0 4 0 5 0 4 0 5 0 4M519 1279l3-2 2-3 2-2 3-2 2-3 3-2 2-2 3-2 2-2 3-3 2-2 3-2 2-2 3-2 3-2 2-2 3-2 2-2 3-2 3-2 2-2 3-2 2-2 3-2 3-2 2-2 3-3 3-2 2-2 3-2 3-2 2-2 3-2 3-2 3-2 2-2 3-3 3-2 2-2 3-2 3-2 3-3 3-2 2-2 3-3 3-2 3-3 3-2 2-3 3-2 3-3 3-2 3-3 3-2 3-3 3-3 3-2 3-3 3-3 3-2 4-3 3-3 3-3 4-3M68 1130l4-3 3-3 4-3 4-2 4-3 4-3 4-2 4-3 4-3 5-2 4-2 5-3 5-2 5-2 5-2 6-2 5-1 6-2 5-1 6-1 6-1 6-1 7 0 6 0 6 0 6 0 6 1 6 1 6 1 6 1 6 2 6 2 5 2 6 2 5 3 5 3 5 3 4 3 5 3 4 4 4 4 4 3 3 4 4 4 3 5 3 4 3 4 3 5 3 4 3 5 2 4 3 5 2 5 2 4 2 5 2 5 2 5 2 5 2 4 1 5 2 5 1 5 2 5 1 5 1 5 1 5 2 4 1 5 1 5 1 5 1 5 0 5 1 5 1 4 1 5 0 5 1 4 0 5M452 1291l1-4 0-4 1-3 1-4 1-4 1-4 1-4 2-3 1-4 1-4 1-4 1-3 2-4 1-4 2-4 1-3 2-4 1-4 2-3 1-4 2-4 2-3 2-4 2-3 1-4 2-3 2-4 3-3 2-4 2-3 2-3 2-4 3-3 2-3 3-3 2-3 3-3 2-3 3-3 3-3 3-3 3-3 3-2 3-3 3-3 3-2 3-3 3-2 4-2 3-2 4-3 3-2 4-2 4-1 3-2 4-2 4-2 4-1 4-2 4-1 4-1 4-2 4-1 4-1 4-1 4-1 5-1 4 0 4-1 5-1 4 0 4 0 4-1 5 0 4 0 4 0 5-1 4 0 4 1 5 0 4 0 4 0 4 0 5 1 4 0M70 1098l4 0 4 1 4 0 4 1 4 1 4 1 4 0 4 1 4 1 4 1 4 1 4 1 4 1 4 1 3 2 4 1 4 1 3 1 4 2 4 1 3 1 4 2 3 1 4 2 3 2 4 1 3 2 3 2 4 1 3 2 3 2 4 2 3 2 3 2 3 2 3 2 3 2 3 3 3 2 3 2 3 2 2 3 3 2 3 3 3 2 2 3 3 2 3 3 2 3 3 2 2 3 2 3 3 3 2 3 2 3 3 3 2 3 2 3 2 3 2 3 2 3 2 3 2 3 2 3 2 4 2 3 2 3 1 3 2 4 2 3 1 3 2 4 2 3 1 4 2 3 1 4 1 3 2 4 1 3 1 4 2 3 1 4 1 3 1 4M337 1278l-1-2-2-3-2-2-2-3-1-3-2-2-2-3-1-3-2-3-2-3-2-2-1-3-2-3-2-3-2-3-1-3-2-3-2-4-2-3-2-3-2-3-2-3-2-3-2-3-2-3-2-3-2-3-2-3-3-3-2-3-2-3-3-3-2-3-2-3-3-2-3-3-2-2-3-3-3-2-3-2-3-3-3-2-3-1-3-2-3-2-3-1-3-1-3-1-4-1-3-1-3-1-4 0-3 0-3 0-4 0-3 0-3 1-4 1-3 1-3 1-3 1-3 2-3 1-3 2-2 2-3 2-3 3-2 2-3 3-2 2-2 3-2 3-2 3-2 3-2 3-2 3-1 4-2 3-1 3-2 4-1 4-1 3-1 4-1 4-1 3-1 4-1 4-1 4 0 3-1 4-1 4 0 4-1 4 0 4 0 4-1 3 0 4 0 4 0 4 0 4 0 4 0 3M634 1289l0-3-1-4 0-4-1-3 0-4-1-4-1-3-1-4-1-3-1-4-1-3-1-4-1-3-1-3-1-3-2-4-1-3-2-3-1-3-2-3-2-3-1-2-2-3-2-2-2-3-2-2-2-3-3-2-2-2-2-2-3-1-2-2-2-1-3-2-3-1-2-1-3-1-3-1-2 0-3-1-3 0-3 0-3 0-2 0-3 0-3 1-3 0-3 1-2 1-3 1-3 1-3 1-2 2-3 1-3 2-2 1-3 2-2 2-3 2-2 2-3 2-2 2-2 2-3 3-2 2-2 2-3 3-2 2-2 3-2 2-2 3-2 2-2 3-2 3-2 2-2 3-2 2-2 3-2 3-2 2-2 3-2 2-2 3-2 2-2 3-1 2-2 2-2 3-2 2-2 2-2 2-1 3-2 2-2 2-2 2-2 2M347 1291l-2-2-1-3-2-2-2-2-2-2-1-3-2-2M606 1291l2-3 1-4 1-3 1-3 1-4 1-3 1-4 1-3 1-4 1-3 1-4 1-4 1-4 0-3 1-4 1-4 0-4 1-4 1-4 0-4 1-4 0-4 1-4 0-4 0-4 1-5 0-4 0-4 0-4 0-5 0-4 0-4 0-5-1-4 0-5 0-4-1-5-1-4 0-5-1-4-1-4-2-5-1-4-1-5-2-4-2-4-2-5-2-4-3-4-2-4-3-4-4-4-3-3-4-4-5-3-5-3-5-3-5-2-6-2-6-2-7-2-7-1-7 0-7 0-7 0-7 0-7 1-6 2-7 2-6 2-6 2-5 3-5 3-5 3-4 4-4 3-4 4-4 4-3 4-3 5-3 4-3 4-2 5-3 4-2 5-2 4-2 5-2 4-2 5-1 4-2 5-2 5-1 4-1 5-2 4-1 5-1 4-2 5-1 4-1 5-1 4-2 4-1 5-1 4-1 4-1 4-1 4-1 5-1 4-2 4-1 4-1 3-1 4-1 4-1 4-1 3-1 4-2 4-1 3-1 3-1 4-1 3-2 3-1 4-1 3-2 3-1 3-1 3M235 1291l-2-1-2-2-2-2-2-1-2-2-2-2-2-1-3-2-2-1-2-1-2-2-2-1-2-1-2-1-3-2-2-1-2-1-2 0-2-1-3-1-2 0-2-1-2 0-3-1-2 0-2 0-2 0-2 0-3 0-2 0-2 1-2 0-2 1-2 1-2 0-2 1-2 1-2 1-2 2-2 1-2 1-2 2-2 1-2 2-2 2-1 2-2 2-2 2-1 2-2 2M571 1290l1-3 2-2 2-3 2-2 1-3 2-3 2-2 1-3 2-3 2-2 1-3 2-3 2-3 1-3 2-3 2-3 1-3 2-3 1-3 2-3 1-3 2-3 1-3 2-4 1-3 2-3 1-4 1-3 2-4 1-3 2-4 1-3 1-4 2-4 1-3 1-4 1-4 2-4 1-4 1-4 1-4 1-4 1-4 1-4 1-4 1-5 1-4 1-4 1-5 1-4 1-5 1-4 1-5 1-4 0-5 1-5 1-5 0-4 1-5 0-5 1-5 0-5 0-5 0-5 0-5 0-6 0-5-1-5-1-5-1-5-2-5-3-6-4-5-6-5-10-5M414 995l-12 5-7 5-6 5-3 6-3 5-2 6-1 5-1 6-1 5-1 6 0 5-1 6 0 5-1 6 0 5 0 6 0 5 0 6 0 5-1 6 0 5 0 5 0 6 0 5 0 5 0 5 0 6 0 5 0 5-1 5 0 5 0 5 0 5 0 5 0 5-1 5 0 4 0 5 0 5-1 5 0 4 0 5-1 4 0 5 0 4-1 5 0 4-1 4 0 5-1 4 0 4-1 4 0 4-1 4-1 4 0 4-1 4-1 3 0 4-1 4-1 3M596 1292l2-3 2-3 2-2 2-3 2-3 2-3 2-3 2-3 2-3 2-3 2-3 2-4 1-3 2-3 2-4 2-3 2-4 2-3 1-4 2-3 2-4 2-4 1-4 2-4 2-4 2-4 1-4 2-4 1-4 2-5 2-4 1-4 2-5 1-4 2-5 1-5 2-5 2-4 1-5 2-5 1-5 2-5 1-6 2-5 1-5 2-5 1-6 2-5 1-6 2-5 2-6 1-6 2-5 2-6 2-6 2-6 3-6M68 1042l3-6 4-6 4-6 5-6 7-6 8-5 13-6M325 1005l10 6 7 6 5 7 4 6 3 6 3 7 2 6 2 6 2 7 1 6 2 7 1 6 1 6 1 7 1 6 1 6 1 7 0 6 1 6 0 6 1 6 0 6 1 7 0 6 1 5 0 6 0 6 0 6 1 6 0 6 0 5 0 6 0 5 0 6 0 5 0 6 0 5 0 5-1 6 0 5 0 5 0 5-1 5 0 5 0 5-1 5 0 4-1 5 0 5M525 1279l1-3 2-2 2-3 2-2 2-3 2-2 2-3 2-2 2-3 2-2 2-2 2-3 2-2 2-3 2-2 2-2 2-3 2-2 2-3 2-2 2-3 2-2 2-2 2-3 2-2 3-3 2-2 2-3 2-2 2-3 2-2 2-3 2-2 2-3 2-3 3-2 2-3 2-3 2-2 2-3 2-3 2-3 3-2 2-3 2-3 2-3 2-3 3-3 2-3 2-3 2-3 3-3 2-3 2-3 3-3 2-3 2-3 3-3 2-4 3-3 2-3 3-4 2-3 3-3 3-4 3-3 3-3 3-4 3-3 3-4 3-3 4-3 4-4 3-3M68 1068l5-3 4-3 5-3 5-3 6-3 5-3 7-3 6-3 7-2 8-2 8-2 8-2 9-1 9-1 10 0 9 0 10 0 9 1 9 1 9 1 9 2 8 2 7 3 7 2 7 4 6 3 5 3 5 4 5 4 5 4 4 4 4 4 3 4 4 4 3 5 3 4 2 5 3 4 2 5 2 4 3 5 2 5 1 4 2 5 2 5 1 4 2 5 1 5 2 5 1 4 1 5 1 5 1 4 1 5 1 5 1 4 1 5 1 5 0 4 1 5 1 5 0 4 1 5 0 4 1 5 0 4 1 4 0 5 0 4 1 4 0 5 0 4 0 4 0 4 0 5 0 4 0 4 0 4 0 4 0 4M154 1225l2 3 1 4 2 3 1 3 2 3 1 3 2 3 1 3 2 3 1 3 2 3 2 3 1 3 2 2 1 3 2 3 2 3 1 2 2 3 2 3 2 2 1 3 2 2M402 1289l-1-4 0-3-1-4-1-4-1-4 0-4-1-4-1-4 0-4-1-4 0-4-1-4 0-4-1-5 0-4-1-4 0-5-1-4 0-5-1-4 0-5 0-5-1-5 0-4 0-5 0-5-1-5 0-5 0-5 0-5-1-5 0-5 0-5 0-5-1-5 0-6 0-5 0-5-1-6 0-5 0-5 0-6-1-5 0-6-1-5 0-6-1-5 0-5-1-6-1-5-1-6-2-5-2-6-2-5-2-6-4-5-5-5-6-5-9-5-13-5M164 999l-13 4-9 5-6 5-5 5-4 5-2 5-2 5-1 5-1 5-1 5-1 5 0 5 0 6 0 5 0 4 0 5 0 5 1 5 0 5 1 5 0 4 1 5 0 5 1 4 1 5 1 4 0 5 1 4 1 5 1 4 1 4 1 5 1 4 1 4 1 4 1 4 1 4 2 4 1 4 1 4 1 3 1 4 2 4 1 3 1 4 1 4 2 3 1 4 2 3 1 3 1 4 2 3 1 3M610 1292l-2-1-2 0-2 0-2 0-2 0-2 0-2 0-2 0-3 1M397 1292l-1-4-1-3-1-4-1-3-1-4-1-3-1-4-1-4-1-4-1-4 0-3-1-4-1-4-1-5 0-4-1-4-1-4-1-5 0-4-1-4-1-5 0-4-1-5-1-4 0-5-1-5-1-5 0-4-1-5 0-5-1-5-1-5 0-5-1-5-1-5-1-5 0-5-1-5-1-5-1-5-1-6-1-5-1-5-2-5-1-5-2-6-1-5-2-5-2-5-2-5-3-5-3-5-4-5-4-5-4-5-6-4-6-5-7-4-9-3-10-3-12-3-13-2-14-1-14-1-15 1-14 1-13 2-11 3-10 3-8 3-7 4-6 4-5 5-4 4-3 5-3 5-3 4-2 5-2 5-1 5-1 5-1 5-1 4-1 5 0 5-1 5 0 5 0 4 0 5 0 5 0 4 0 5 0 5 1 4 0 5 0 4 1 4 0 5 1 4 1 4 0 5 1 4 1 4 1 4 0 4 1 4 1 4 1 4 1 4 1 4 1 4 1 3 1 4 1 4 2 3 1 4 1 3 1 4 1 3 2 4 1 3 1 3 2 4 1 3 1 3 2 3 1 3 1 3 2 4 1 3 2 2 1 3 2 3 1 3 2 3 1 3M251 1192l3 3 2 3 3 2 3 3 3 4 2 3 3 3 3 3 2 3 2 4 3 3 2 4 2 3 3 4 2 3 2 4 2 4 2 3 2 4 2 4 2 4 1 3 2 4 2 4 1 4 2 4 1 4 2 4M422 1291l0-5 1-5 0-5 1-4 1-5 1-5 0-5 1-4 1-5 1-5 2-5 1-5 1-5 1-4 2-5 1-5 2-5 1-5 2-5 2-5 1-4 2-5 2-5 2-5 3-4 2-5 2-4 3-5 3-5 2-4 3-4 3-5 3-4 4-4 3-4 4-4 4-3 4-4 4-4 4-3 5-3 5-3 5-3 5-2 5-3 5-2 6-2 6-1 5-2 6-1 6-1 6 0 6-1 6 0 6 0 6 1 6 0 6 1 6 1 6 1 5 1 6 2 5 2 5 2 5 2 5 2 5 2 4 2 5 3 4 2 4 2 4 3 4 3 4 2 4 3 4 3 4 2 3 3M69 1133l3 2 3 3 4 3 3 2 3 3 3 3 4 2 3 3 3 3 3 2 3 3 3 2 3 3 3 2 2 3 3 2 3 2 3 3 3 2 3 2 3 3 2 2 3 2 3 2 3 3 2 2 3 2 3 2 3 2 2 2 3 2 3 2 3 2 2 3 3 2 3 2 2 2 3 2 3 2 2 2 3 2 3 2 2 2 3 2 3 2 2 2 3 2 3 2 2 2 3 2 2 2 3 2 2 2 3 2 2 3 3 2 2 2 3 2 2 3 3 2 2 2 3 2 2 3 3 2 2 3 2 2 3 3 2 2 2 3M415 1290l0-3-1-4 0-4 0-4-1-4 0-5 0-4 0-4 0-4-1-4 0-5 0-4 0-4 0-5 1-4 0-5 0-4 0-5 0-5 0-4 1-5 0-5 0-5 1-4 0-5 1-5 0-5 1-5 0-5 1-5 1-5 1-5 0-5 1-5 1-5 1-5 1-5 2-5 1-5 1-5 2-5 1-6 2-5 2-5 2-5 2-5 2-5 3-5 2-5 4-5 3-5 4-5 4-4 5-5 6-4 7-5 8-4 9-4 10-3 13-3 14-2M617 1010l14 2 13 3 10 3 10 4 8 3 7 4 6 4 5 5 5 4M69 1046l4 4 4 5 3 4 3 4 3 4 3 5 3 4 2 4 3 4 2 5 2 4 2 4 3 4 2 4 2 4 2 4 2 4 2 4 2 4 1 3 2 4 2 4 2 3 2 4 2 4 2 3 1 4 2 3 2 4 2 3 2 3 2 4 1 3 2 3 2 3 2 3 2 4 2 3 1 3 2 3 2 3 2 3 2 3 2 2 2 3 1 3 2 3 2 3 2 2 2 3 2 3 2 2 2 3 1 3 2 2 2 3 2 2 2 3 2 2 2 3 2 2 2 3 2 2 2 3 1 2 2 3 2 2 2 2 2 3 2 2 2 3 2 2 2 2 1 3 2 2 2 2 2 3M456 1290l2-4 1-4 2-4 2-4 1-3 2-4 2-4 2-4 2-3 2-4 2-3 2-4 2-3 3-4 2-3 2-4 3-3 2-3 2-3 3-3 3-3 2-3 3-3 3-3 2-3 3-3 3-3 3-2 3-3 3-2 3-3 3-2 3-2 4-3 3-2 3-2 3-2 4-2 3-1 3-2 4-2 3-2 4-1 3-2 4-1 4-1 3-2 4-1 3-1 4-1 4-1 3-1 4-1 4-1 3-1 4-1 4 0 4-1 3-1 4 0 4-1 3 0 4-1 4 0 4-1 3 0 4-1 4 0 4 0 3-1 4 0 4 0 4 0 3-1 4 0 4 0 4 0M67 1142l4-1 4 0 4 0 3 0 4 0 4 0 4 0 4 0 3 0 4 0 4 0 4 0 4 0 4 1 3 0 4 0 4 0 4 1 4 0 4 1 3 0 4 1 4 0 4 1 4 1 4 1 4 0 3 1 4 1 4 1 4 2 3 1 4 1 4 2 3 1 4 2 4 1 3 2 4 2 3 2 4 2 3 2 3 2 4 2 3 3 3 2 3 2 3 3 4 3 3 2 3 3 2 3 3 3 3 3 3 3 2 3 3 3 3 4 2 3 3 3 2 4 2 3 2 4 3 3 2 4 2 3 2 4 2 4 2 4 2 3 2 4 1 4 2 4 2 4 1 4 2 4 2 4 1 4M422 1292l0-5 1-5 1-4 0-5 1-5 1-5 1-4M395 1288l0-5 0-5-1-4 0-5 0-5 0-5 0-5 0-5-1-5 0-6 0-5 0-5 1-6 0-5 0-5 0-6 0-6 1-5 0-6 0-5 1-6 0-6 1-6 1-6 0-6 1-6 1-5 1-6 1-7 1-6 1-6 1-6 1-6 2-6 1-6 2-6 2-7 2-6 3-6 2-6 3-6 4-6 4-6 5-6 5-6 7-5 8-5 10-5 13-5M621 1011l14 4 11 5 9 5 8 5 6 5 6 5 4 6 5 5 3 6 4 5 3 6 2 5M69 1079l3 5 2 5 2 6 2 5 3 5 2 5 2 6 2 5 1 5 2 5 2 4 2 5 2 5 2 5 2 4 1 5 2 4 2 5 2 4 2 4 1 5 2 4 2 4 2 4 2 4 1 4 2 4 2 4 2 3 2 4 2 4 2 3 2 4 1 3 2 4 2 3 2 3 2 4 2 3 2 3 2 3 2 3 2 3 2 3 3 3 2 3 2 2 2 3 2 3 2 2 2 3 2 3 2 2 3 3 2 2M597 1291l1-3 2-3 1-4 1-3 2-3 1-3 1-3 2-3 1-4 1-3 1-4 1-3 1-3 1-4 2-4 1-3 1-4 1-3 1-4 0-4 1-4 1-4 1-4 1-4 1-4 0-4 1-4 1-4 0-4 1-4 0-4 1-5 0-4 0-4 1-5 0-4 0-5 0-4 0-5 0-4 0-5-1-4 0-5 0-5-1-4-1-5-1-5-1-4-1-5-1-4-2-5-2-5-2-4-2-5-3-4-3-5-3-4-4-4-5-4-5-3-5-4-7-3-7-3-8-3-8-2-9-1-10-1-10 0-10 0-10 0-9 2-9 2-8 2-8 3-7 3-6 3-6 4-5 4-5 4-4 4-4 5-3 5-3 4-3 5-2 5-3 5-2 4-2 5-2 5-1 5-2 5-1 5-2 5-1 5-1 5-1 5-1 5-2 5-1 4-1 5-1 5-1 5-1 5 0 4-1 5-1 4-1 5-1 4-1 5-1 4-1 5-1 4 0 4-1 5-1 4-1 4-1 4-1 4-1 4-1 4-1 4-1 3-1 4-1 4-1 3-1 4-1 3-1 4-1 3-1 4-1 3-1 3M207 1292l-2-2-2-1-3-1-2-1-2-1-2-1-2-1-2-1-2-1-2-1-3 0-2-1-2 0-2-1-2 0-2 0-2 0-3 0-2 0-2 0-2 1-2 0-2 0-2 1-2 1-2 1-2 0-2 1-2 2-2 1-2 1-2 1-2 2" stroke="url(#gl3)"/><path d="M154 1013l17-3 19-1 21-1 21 1 19 2 17 3M109 1006l16-5 22-4 32-4 41 0 39 1 29 4 19 5M456 996l18-5 32-4 55-1 59 1 38 3 20 5M559 1012l-15-2-16-1-17 1-17 1-15 2M95 1000l17-4 25-4 35-2 41 0 36 2 26 4 17 4M621 997l-16-4-28-4-48-2-56 0-37 4-22 4M112 1001l19-5 31-4 45-2 48 1 35 4 22 5 13 5M334 999l-19-4-28-3-36-1-37 1-30 3-20 4M533 1011l16-2 17-1 17 0 18 1 16 1M479 1013l16-4 19-3 22-1 24-1 23 1 21 3 17 3" stroke="url(#gl3)" stroke-dasharray="0.01 5.5"/><defs><path id="nac3" d="M631 1288l2-4 1-4 1-4 1-4 1-4M403 1271l-1 4-2 5-1 4-1 4-1 4M219 1291l-2-2-3-3-2-2-2-2-3-2-2-3-2-2-3-2-2-2-3-1-2-2M127 1268l-2 2-2 2-2 2-2 3-3 2-1 3-2 2-2 3-2 3M208 1290l-3-2-2-2-2-2-3-2-2-2-2-2-3-2-2-2-3-1-2-2-3-1-2-1-3-1M133 1269l-2 1-2 1-3 2-2 2-2 2-2 2-2 2-2 2-2 2-2 3-2 2M584 1290l2-2 2-3 2-2 3-3 2-2 2-3 2-2 2-3M368 1270l0 5 0 5 0 5-1 4M636 1290l-1-3-1-3-1-4-1-3-1-3-2-3-1-3M368 1292l-1-3-2-2-1-3-2-2-1-3-2-3-2-3-1-2-2-3M139 1269l1 4 0 4 1 3 0 4 1 4 1 3M443 1290l1-4 1-4 0-4 1-4 1-4M279 1268l2 3 1 4 2 3 1 3 2 3 1 4 1 3M563 1282l-2 2-3 3-2 2M370 1291l-1-4-1-4-1-4-1-5-1-4M129 1268l1 4 1 4 1 4 2 4 1 3 1 4M656 1290l-1-4-1-4-1-4-2-4-1-4M374 1271l-1 5 0 5-1 4 0 5M526 1280l2-3 3-2 2-2 2-2 3-2M397 1269l-1 3-2 3-1 3-2 3-1 3-1 3-2 2M258 1290l-2-2-2-2-2-2-2-1-2-2-2-2-2-2-2-2-2-2-2-2-2-1-2-2M143 1268l-2 2-2 2-1 3-2 2-2 3-1 2-1 3-2 2-1 3M615 1289l0-3 1-4 1-3 1-4 1-3 1-4M149 1269l1 3 1 4 1 3 1 4 1 3 1 3M633 1290l-2-2-1-2-2-2-1-3-2-2-2-2-2-1-1-2-2-2-2-1-2-2-2-1M555 1268l-2 1-2 1-2 2-2 1-2 2-3 1-2 2-2 1-2 2M384 1292l-2-3-1-3-1-3-2-3-1-3-1-4-1-3M422 1291l0-5 1-5 0-4 1-5M236 1268l2 2 3 2 2 3 3 2 2 2 2 3 3 2 2 3 2 2 2 3M392 1289l-1-5 0-4-1-5 0-5M152 1268l2 3 2 3 2 3 2 3 2 2 2 3 2 3 2 3M656 1292l-1-3-2-3-2-3-2-3-2-2-2-3-2-2-2-3-2-2M563 1269l-2 2-3 2-2 2-2 2-3 2-2 3-2 2M408 1289l0-4-1-4 0-3-1-4 0-4M190 1268l2 2 2 3 2 2 1 3 2 2 2 2 2 3 2 2 2 3M632 1290l0-4 0-4 0-4-1-4 0-3M445 1268l-2 3-2 2-1 2-2 3-2 2-2 2-1 2-2 3-2 2-2 2M335 1292l-2-2-2-2-2-2-1-3-2-2-2-2-2-2-1-3-2-2-2-3M133 1271l-1 3 0 4 0 4-1 4 0 3M243 1268l3 2 2 2 3 3 2 2 2 3 3 3 2 2 2 3 2 3M397 1289l0-5 0-4-1-5 0-5M462 1289l1-3 1-4 1-3 1-4 2-4 1-3M304 1268l2 4 1 4 1 4 1 3 0 4 1 4M390 1291l-1-3-1-3-1-3-1-4-2-3-1-3-1-4M156 1268l1 3 1 3 1 4 2 3 1 3 1 3 2 3M628 1292l-1-2-2-2-2-1-2-2-2-1-2-1-2-1-2-1-2-1-2-1-2-1-2-1-2 0-2-1-2 0-2 0-2 0-2 0-3 0-2 0-2 0-2 0-2 1-2 0-3 1-2 1-2 0-2 1-2 1-2 1-2 1-3 1-2 1-2 2-2 1M655 1290l-2-3-2-2-2-3-2-2-2-2-2-3-2-2-3-1-2-2-2-2M578 1268l-2 2-3 1-2 2-3 2-2 2-3 2-2 2-2 2-3 2-2 2M368 1289l-1-4-1-4-1-5-1-4-1-4M128 1268l1 4 1 4 1 4 2 4 1 4 1 4M136 1269l-1 3-2 3-1 3-1 3-1 3-1 3-1 3M621 1290l0-4 1-4 0-3 1-4 1-4M407 1269l-2 3-1 3-2 3-1 2-2 3-1 3-2 2-1 3M280 1290l-2-2-2-2-2-2-2-2-2-2-2-2-2-2-2-2-2-2-2-3M421 1289l0-4 0-4 0-5 0-4 0-4M227 1268l2 3 2 2 2 2 2 3 2 2 2 3 2 2 1 3 2 2M144 1270l1 4 0 4 1 3 1 4 1 3 1 4M636 1291l-1-3-2-2-1-3-1-3-2-3-1-2-2-3-2-2-1-2M523 1269l-2 2-2 2-2 2-2 2M376 1290l-2-3-1-2-2-3-1-3-2-3-1-3-1-3M655 1288l-1-4-1-4-1-4-1-4-1-4M332 1290l-2-4-2-3-1-4-2-4-2-3-1-4M116 1271l0 5 0 5 0 4 0 5M647 1291l1-4 0-5 0-4 0-5 0-4M441 1269l-2 4-1 4-2 3-2 4-1 3-2 4M286 1291l-2-3-2-3-3-3-2-3-2-3-2-4-2-3M113 1270l-1 4-1 4-1 4-1 5 0 4M264 1268l2 3 1 3 2 3 2 3 1 3 2 3 2 3 1 3M436 1289l0-4 0-4 1-4 0-5 1-4M372 1268l-1 4-1 3 0 4-1 3-1 4-1 3M584 1292l2-3 2-3 1-3 2-3 1-2 2-3 1-3 2-3M116 1269l1 4 0 5 0 5 0 4 1 5M648 1291l0-5 0-4 0-5 0-4 0-5M443 1269l-1 3-2 4-2 4-1 3-2 4-2 3M288 1291l-2-4-2-3-2-3-2-3-2-3-2-3-3-4M113 1270l-1 5-1 4-1 4 0 4-1 4M357 1271l-1 4 0 4-1 4 0 4-1 3M555 1287l2-2 2-2 2-3 2-2 2-3 1-2 2-3 2-2M417 1269l-1 3-2 3-1 2-2 3-2 2-1 3-2 2-1 2-2 3M301 1291l-2-2-1-2-2-2-2-2-2-2-2-2-2-2-2-2-2-3-2-2-2-2M134 1268l-1 4-1 3-1 3-1 4-1 3-1 3 0 4M626 1289l0-4 0-4 1-4 0-4 0-3M524 1279l3-2 2-2 3-3 2-2 3-2M342 1268l1 5 1 5 0 4 1 5 0 5M125 1268l1 4 1 5 1 4 1 4 1 4M654 1288l-1-5 0-4-1-4-1-4M326 1289l-1-4-2-3-2-4-2-3-1-4M115 1268l0 4 0 5 0 4 0 5 0 4M628 1289l1-4 1-3 2-4 1-4 1-4M398 1270l-1 5-1 4-1 4-1 5-1 4M207 1290l-2-2-3-2-2-2-3-2-2-2-2-2-3-2-2-1-3-2-2-1-3-2-2-1-3-1M135 1268l-3 1-2 2-2 1-3 2-2 2-2 2-2 2-2 2-2 2-2 2-2 3-2 3M582 1291l2-2 3-3 2-2 2-3 2-2 2-3 3-2 2-3 2-3M282 1291l-2-3-2-3-2-4-3-3-2-3-2-3-2-3M114 1269l-1 4-1 4-1 4-1 4-1 4M629 1288l2-3 1-4 1-4 2-4 1-4M400 1271l-1 4-1 4-1 4-1 5-1 4M519 1279l3-2 2-3 2-2 3-2M341 1271l1 5 0 5 1 4 0 5M511 1272l2-2M333 1268l0 5 1 4 0 4 0 4 0 4M452 1291l1-4 0-4 1-3 1-4 1-4 1-4M293 1269l1 3 1 4 2 3 1 4 1 3 1 4M325 1270l0 4 1 5 0 4 1 4 0 4M342 1270l1 5 0 5 1 5 0 4M456 1289l1-4 2-4 1-4 2-4 2-3M446 1291l2-5 1-4 1-4 2-4 1-4M293 1271l2 3 2 4 1 4 2 3 2 4M337 1278l-1-2-2-3-2-2-2-3M134 1269l0 4 0 4 0 4 0 4 0 3M634 1289l0-3-1-4 0-4-1-3 0-4M461 1268l-1 2-2 2-2 3-2 2-2 2-2 2-1 3-2 2-2 2-2 2-2 2M347 1291l-2-2-1-3-2-2-2-2-2-2-1-3-2-2M606 1291l2-3 1-4 1-3 1-3 1-4 1-3M388 1270l-1 3-2 3-1 4-1 3-2 3-1 3-1 3M235 1291l-2-1-2-2-2-2-2-1-2-2-2-2-2-1-3-2-2-1-2-1-2-2-2-1-2-1-2-1-3-2-2-1M156 1268l-2 1-2 2-2 1-2 1-2 2-2 1-2 2-2 2-1 2-2 2-2 2-1 2-2 2M571 1290l1-3 2-2 2-3 2-2 1-3 2-3 2-2 1-3M364 1269l0 4-1 4-1 3 0 4-1 4-1 3M596 1292l2-3 2-3 2-2 2-3 2-3 2-3 2-3 2-3M375 1270l-1 5 0 4-1 5 0 5M525 1279l1-3 2-2 2-3 2-2M341 1271l0 4 0 4 0 4 0 4 0 4M177 1270l2 3 2 3 1 2 2 3 2 3 2 2 1 3 2 2M402 1289l-1-4 0-3-1-4-1-4-1-4M610 1292l-2-1-2 0-2 0-2 0-2 0-2 0-2 0-2 0-3 1M397 1292l-1-4-1-3-1-4-1-3-1-4-1-3M166 1271l1 3 2 2 1 3 2 3 1 3 2 3 1 3M304 1270l2 4 1 4 2 4 1 4 2 4M422 1291l0-5 1-5 0-5 1-4M236 1268l2 2 3 2 2 3 3 2 2 3 2 2 3 3 2 2 2 3M159 1270l2 2 2 3 2 3 3 3 2 2 2 3 2 2 2 3M654 1290l-1-3-2-3-2-2-2-3-2-2-3-2-2-2-2-2-2-2-3-1M578 1268l-3 2-2 1-3 2-2 2-2 2-3 2-2 2-3 2-2 2-2 2M368 1289l-1-5-1-4-1-4-2-5M415 1290l0-3-1-4 0-4 0-4-1-4M209 1269l2 3 2 2 2 3 2 2 2 2 1 3 2 2 2 2 2 3M338 1291l-2-4-1-3-2-4-2-3-1-4-2-4M117 1269l0 4 0 5 0 5 1 4 0 5M648 1291l1-5 0-4 0-5 0-4 0-5M446 1268l-2 4-2 3-1 4-2 3-2 4-2 3M629 1290l0-4 1-3 0-4 0-4-1-4M430 1269l-1 2-2 3-2 2-1 3-2 2-2 2-1 3-2 2-2 2-2 2M319 1291l-2-1-2-3-1-2-2-2-2-2-2-2-2-2-2-3-2-2-1-2M132 1271l0 3-1 4-1 3 0 4-1 4M456 1290l2-4 1-4 2-4 2-4 1-3M304 1269l2 4 1 4 2 4 2 4 1 4M422 1292l0-5 1-5 1-4 0-5 1-5M428 1289l0-4 1-4 0-5 0-4 0-4M248 1270l1 2 2 3 2 3 2 2 2 3 1 3 2 2 2 3M349 1270l0 4 0 4-1 4 0 4 0 4M540 1283l2-3 2-2 2-2 2-3 2-2 2-3M636 1290l-1-3-1-4 0-3-1-4-1-3-1-3M479 1269l-2 2-2 3-2 2-2 2-2 2-2 2-2 2-2 3-1 2-2 2M358 1291l-2-3-1-2-2-2-1-3-2-2-2-3-1-2-2-3-2-3M136 1269l0 4 1 4 0 4 0 3 0 4 1 4M395 1288l0-5 0-5-1-4 0-5M159 1268l2 2 2 3 2 3 2 2 2 3 2 3 2 2 3 3 2 2M597 1291l1-3 2-3 1-4 1-3 2-3 1-3 1-3M379 1271l-1 3-1 4-1 3-1 4-1 3-1 3M207 1292l-2-2-2-1-3-1-2-1-2-1-2-1-2-1-2-1-2-1-2-1-3 0-2-1-2 0-2-1-2 0-2 0-2 0-3 0-2 0-2 0-2 1-2 0-2 0-2 1-2 1-2 1-2 0-2 1-2 2-2 1-2 1-2 1-2 2M315 1270l1 4 1 4 1 4 0 4 1 4"/><path id="nbc3" d="M637 1268l1-4 1-5 1-4 1-5M408 1248l-1 5-1 5-1 4-1 5-1 4M195 1270l-2-2-3-2-2-1-3-2-2-1-3-1-3-1-2-1-3-1-2-1-3 0-3-1-2 0-3 0-3 0-2 0-3 1-2 0-3 1-2 1-3 1-2 1-3 1-2 1-2 2-3 1-2 2-2 2M181 1270l-2-1-3-1-2-1-3-1-3-1-2-1-3 0-2-1-3 0-2 0-3 0-3 0-2 0-3 1-2 1-3 0-2 1-2 1-3 2-2 1M601 1270l2-3 2-3 3-2 2-3 2-3 2-3 2-3 2-3M369 1250l0 5 0 5 0 5-1 5M628 1268l-1-2-2-3-1-3-2-3-1-2-2-3-2-2-1-2M522 1247l-2 2-3 2-2 2-2 2-2 2-2 2-2 2-2 2M356 1271l-2-3-1-3-2-3-1-3-2-3-1-4-2-3M138 1249l0 4 0 4 1 4 0 4 0 4M447 1270l0-3 1-4 1-4 1-4 1-4 1-4M269 1249l2 3 2 3 1 4 2 3 2 3 1 3M365 1270l-2-5-1-4-1-5-1-5-1-4M124 1251l1 4 1 4 1 4 2 5M650 1270l-1-4-1-4-2-4-1-4-2-3-2-4M513 1249l-2 3-3 3-2 4-2 3M375 1251l0 5-1 5 0 5M535 1271l3-2 2-3 3-2 2-2 3-2 2-2 3-2 2-2 3-2 2-3 3-2M405 1249l-1 4-2 3-1 3-1 4-2 3-1 3M236 1270l-2-2-3-2-2-2-2-1-2-2-2-1-2-2-3-1-2-1-2-2-2-1-3-1-2-1-2-1-3-1-2-1-2 0-2-1-3 0M175 1247l-2 0-3 1-2 1-2 0-2 1-2 2-2 1-2 1-2 1-2 2-2 1-2 2-2 2-2 2-2 2-1 2-2 2M620 1268l0-4 1-4 1-3 0-4 1-4M144 1247l1 4 0 3 1 4 1 4 1 3 1 4M616 1271l-2-2-2-1-2-2-2-1-2-1-2-1-2-1-2 0-2-1-3-1-2 0-2 0-2 0-2-1-3 0-2 1-2 0-2 0-3 0-2 1-2 0-2 1-3 1-2 1-2 1-2 1-2 1-3 1-2 1-2 1M375 1270l-2-3-1-4-1-3-1-4-2-3-1-4M425 1267l1-5 1-4 0-5 1-5M213 1248l3 2 2 2 3 2 2 2 3 3 3 2 2 2 2 2 3 3 2 2M390 1270l0-5-1-5 0-5 0-5M141 1249l1 3 2 3 2 4 2 3 2 3 2 3 2 3M641 1270l-2-2-2-2-2-2-3-2-2-1-2-2-3-1-2-1-3-1-2-1-3-1-2-1-3 0-3 0-2 0-3 0-2 0-3 0-3 0-2 1-3 1-3 1-2 1-3 1-2 1-3 1-3 2-2 1-3 2-2 2-3 2-2 2M406 1270l-1-4 0-4-1-4 0-5 0-4M178 1249l2 3 1 3 2 2 2 3 2 2 1 3 2 3 2 2M631 1271l0-4-1-4 0-4-1-3-1-4 0-4M459 1247l-2 2-1 3-2 3-2 3-2 2-2 3-1 3-2 2-2 3M317 1269l-2-2-2-3-1-2-2-3-2-2-2-3-2-3-2-2M137 1248l-1 4-1 4-1 3 0 4-1 4 0 4M428 1268l1-5 1-5 1-5 1-4M221 1247l2 2 3 3 3 2 2 2 3 2 2 3 3 2 2 2 2 3 3 2M396 1270l0-5 0-5 0-5 0-5M469 1268l1-4 2-3 1-4 1-3 2-4 1-3M298 1250l2 3 1 4 1 4 1 4 1 3M382 1268l-1-4-1-3-1-4-1-4-1-3M149 1247l1 4 1 3 1 4 1 3 2 4 1 3M636 1270l-2-2-3-1-2-2-2-1-3-1-2-1-3-1-2 0-3-1-2 0-3 0-2 0-3 0-3 0-2 0-3 1-2 1-3 0-3 1-2 1-3 2-2 1-3 1-2 2M363 1268l-1-5-2-5-1-4-1-5M124 1251l1 4 1 4 1 5 1 4M251 1260l-2-2-3-2-2-2-2-2-2-2-2-2-2-1M151 1247l-2 2-2 3-1 2-2 2-2 3-1 2-2 3-1 3-2 2M624 1267l0-4 1-4 0-3 0-4 1-4M417 1247l-1 3-2 4-1 3-2 3-1 3-2 3-1 3M260 1269l-2-2-2-2-2-2-2-2-2-2-2-2M421 1268l0-4 0-4 0-4 0-5 1-4M212 1249l2 2 2 3 2 2 2 2 2 3 2 2 1 3 2 2 2 3M140 1247l1 4 0 4 1 4 0 4 1 3 1 4M624 1270l-1-2-2-2-2-3-1-2-2-2-2-2-2-1-2-2-2-1-2-2-2-1-2-2-2-1M556 1247l-2 1-2 1-3 1-2 2-2 1-2 1-3 2-2 1-2 2-2 1-2 2-2 2-3 2-2 1-2 2M366 1270l-2-3-1-3-2-4-1-3-1-3-2-4-1-3M650 1268l-1-4-2-4-1-4-1-4-2-4M507 1247l-2 3-3 4-2 3M322 1268l-2-4-2-4-2-4-1-4-2-4M117 1248l-1 5 0 4 0 5 0 5M648 1269l0-5 0-5 0-4-1-5M450 1249l-2 4-2 4-1 4-2 4-2 4M271 1269l-2-3-2-3-2-4-2-3-3-3-2-3-2-3M122 1247l-2 4-1 3-2 4-1 4-1 4-2 4M251 1248l2 3 2 3 2 3 2 3 1 2 2 3 2 3M438 1268l0-4 1-4 1-4 0-4 1-4M376 1248l-1 4 0 4-1 4-1 4-1 4M597 1269l1-3 2-3 1-3 2-3 1-4 1-3 2-3M117 1255l-1 5 0 4 0 5M648 1268l0-5 0-4 0-5-1-5M452 1249l-2 4-1 4-2 4-2 4-2 4M273 1268l-2-3-2-3-2-4-2-3-2-3-3-3M121 1247l-1 4-2 3-1 4-1 4-2 4-1 4M358 1250l0 5 0 4-1 4 0 4 0 4M568 1270l2-2 2-3 2-2 2-3 1-2 2-3 2-2 2-3 2-3M419 1267l-2 2M282 1270l-2-2-2-2-2-3-2-2-2-2-2-3-2-2-2-2-2-2-2-3M143 1247l-1 3-2 3-1 3-1 3-2 3-1 3-1 3M627 1270l0-4 0-4 0-4 0-4 0-4M428 1250l-1 3-2 3-2 3-1 3-2 3-1 2-2 3M534 1270l3-2 2-2 2-2 3-3 2-2 3-2 2-2 3-2 3-2 2-2 3-2M339 1249l1 4 1 5 1 5 0 5M121 1250l1 5 1 4 1 5 1 4M651 1271l-1-4-1-5-1-4-2-4-1-4M499 1247l-3 4M318 1271l-2-4-2-4-2-3-2-4-1-4-2-4M117 1249l-1 5 0 4 0 5-1 5M634 1270l1-4 2-5 1-4 1-4 1-4M403 1247l-1 5-1 5-1 4-1 5-1 4M180 1270l-2-1-3-1-2-1-3-1-3-1-2 0-3-1-2 0-3 0-2 0-3 0-2 0-3 0-2 1-3 0-2 1-3 1-2 1-3 1-2 2M602 1268l2-2 2-3 2-3 2-3 2-3 2-3 2-3M267 1269l-2-3-2-4-2-3-3-3-2-3-2-3-3-3M121 1250l-2 4-1 3-1 4-2 4-1 4M636 1269l1-5 1-4 1-4 1-4 1-5M406 1247l-1 5-1 5-1 5-2 4-1 5M529 1270l2-3 3-2 2-2 3-2 2-2 3-3 2-2 3-2 2-2 3-2M337 1247l1 5 1 5 0 5 1 5M513 1270l2-3 1-3 2-2 2-3 2-3 2-2 2-3 2-2M331 1247l0 5 1 4 0 4 1 4 0 4M457 1268l1-4 2-3 1-4 1-4 1-4M284 1248l2 3 1 4 2 3 1 4 1 3 2 4M502 1260l2-3 1-3 2-3 2-3M321 1250l1 4 1 4 0 4 1 4 1 4M339 1251l1 5 1 5 1 5 0 4M464 1270l2-4 2-4 1-4 2-3 2-4 3-4M453 1270l2-4 2-4 1-4 2-4 2-4M278 1247l3 3 2 4 2 3 2 3 2 4 2 3 2 4M332 1271l-2-3-1-3-2-2-2-3-1-3-2-3-2-3-2-2M136 1250l-1 4 0 4 0 4-1 3 0 4M632 1271l-1-4-1-3-1-4-1-3-1-4-1-3M477 1247l-2 3-2 3-2 2-2 3-2 2-2 3-2 2-2 3-1 2M613 1271l1-4 1-3 1-4 1-3 1-4 1-4M395 1249l-1 3-1 4-2 4-1 3-1 3-1 4M206 1271l-3-2-2-1-2-1-2 0-2-1-3-1-2 0-2-1-2 0-3-1-2 0-2 0-2 0-2 0-3 0-2 0-2 1-2 0-2 1-2 1-2 0-2 1-2 1-2 1-2 2M584 1269l2-3 2-2 1-3 2-3 2-3 1-3 2-3M367 1249l0 4-1 4 0 4-1 4-1 4M612 1269l2-3 2-3 2-3 2-4 1-3 2-3M376 1250l0 5-1 5 0 5 0 5M532 1269l2-3 2-2 2-3 2-2 2-3 2-2 2-2 2-3 2-2M341 1249l0 5 0 4 0 4 0 4 0 5M165 1247l1 3 2 3 1 3 2 3 2 3 1 3 2 2 1 3M398 1270l0-4-1-4-1-4 0-4-1-4M391 1271l-1-4-1-4-1-4-1-4 0-3-1-4M156 1248l2 4 1 3 1 3 2 3 1 3 1 3 2 4M293 1248l2 3 2 4 2 4 2 4 1 3 2 4M425 1267l1-5 0-5 1-4 1-5M213 1248l3 2 2 2 3 2 2 3 3 2 2 2 3 2 2 3 3 2 2 2M145 1249l2 3 2 3 2 3 2 3 2 3 2 3 2 3M636 1269l-3-1-2-2-2-1-3-1-2-1-3-1-2-1-3-1-2 0-3 0-2-1-3 0-2 1-3 0-3 0-2 1-3 0-2 1-3 1-2 1-3 1-3 2-2 1-3 2M362 1267l-1-5-1-4-1-5-1-4M413 1271l0-5 0-4 0-4 0-4-1-4M192 1247l2 3 2 2 2 3 2 2 2 3 1 2 2 3 2 2 2 2M328 1269l-2-4-1-4-2-4-2-4-1-4M117 1250l0 5 0 5 0 4 0 5M649 1268l-1-5 0-4 0-5-1-5M455 1248l-2 4-2 4-2 4-1 4-2 4M629 1267l0-4 0-4 0-3-1-4 0-4M442 1249l-1 3-2 3-2 3-2 2-1 3-2 3-2 3M301 1270l-2-3-2-2-2-2-2-3-2-2-2-3-2-2-2-3-2-2M138 1250l-1 3-1 4-1 3-1 3-1 4-1 4M464 1271l2-4 2-4 2-4 2-3 2-4 2-3M295 1250l2 4 2 3 2 4 1 4 2 4M425 1268l1-5 1-4M429 1268l0-4 1-4 0-4 1-5 0-4M230 1247l2 2 2 3 2 2 2 3 2 2 2 3 2 2 2 3 2 3M350 1249l0 4 0 4-1 4 0 4 0 5M550 1271l2-3 2-2 1-2 2-3 2-2 2-3 2-2 2-2 2-3 2-2M631 1270l-1-4-1-3-2-3-1-3-1-3-2-3-1-3M497 1248l-2 2M483 1264l-2 3-2 2M345 1271l-2-3-1-3-2-2-1-3-2-3-2-3-1-3-2-3M136 1249l0 4 0 4 0 4 0 4 0 4M394 1269l0-5 0-5 0-5 0-5M144 1247l2 3 2 3 2 3 2 3 2 3 3 3 2 3 2 2M606 1269l2-3 1-4 1-3 1-4 1-3 1-3M385 1249l-1 4-1 3-1 4-1 4-1 3-1 4M489 1254l1-3 2-3M309 1247l2 4 1 3 1 4 1 4 0 4 1 4"/></defs><use href="#nac3" stroke="#ffe000" stroke-linecap="butt" stroke-dasharray="2 5 1.5 6"/><use href="#nac3" stroke="#ff1000" stroke-linecap="butt" stroke-dasharray="1.5 4 2 5 1 6" stroke-dashoffset="2"/><use href="#nac3" stroke="#ff8000" stroke-linecap="butt" stroke-dasharray="1.5 9 1 11" stroke-dashoffset="5"/><use href="#nbc3" stroke="#ffdc00" stroke-linecap="butt" stroke-dasharray="1.5 7 1 9" stroke-dashoffset="3"/><use href="#nbc3" stroke="#ff1800" stroke-linecap="butt" stroke-dasharray="1 10 1.5 12"/><path d="M631 1288l2-4M584 1290l2-2M370 1291l-1-4M384 1292l-2-3M392 1289l-1-5M255 1291l-2-3-3-3-2-3-2-3-2-2-2-3-3-3-2-3-2-2-3-3-2-3-2-2-3-3-2-2-3-3-2-2-3-2-3-2-2-2-3-2-2-2-3-2-3-1-3-2-2-1-3-1-3-1-3-1-3-1-3 0-2-1-3 0-3 0-3 0-3 1-3 0-2 1-3 1-3 0-2 2-3 1-3 1-2 2-3 2-2 2-2 2-3 2-2 2-2 3-2 2-2 3-2 3-2 3-2 3-2 3-2 3-1 4-2 3-1 4-2 3-1 4-2 3M616 1290l2-4 2-3 1-4 2-3 2-4 1-3 2-4 1-4 2-3 1-4 2-4 1-4 2-4 1-4 1-4 2-5 1-4 1-4 2-5 1-4 1-5 1-4 1-5 1-5 1-4 1-5 1-5 1-5 1-5 1-5 1-6 0-5 1-5 1-5 0-6 1-5 0-6 1-5 0-6 0-6 0-6 0-5 0-6 0-6 0-6-1-6-1-6-1-6-1-6-2-6-2-6-3-6-4-6-5-6-7-6-8-5-12-5M459 1010l-12 5-9 5-7 6-5 6-4 6-4 6-3 7-2 6-2 6-1 7-2 6-1 7-1 6-1 6-1 7-1 6 0 6-1 6-1 7 0 6-1 6 0 6-1 6 0 6-1 6 0 6-1 6 0 5 0 6-1 6 0 5-1 6 0 5-1 6 0 5-1 5-1 6 0 5-1 5 0 5-1 5-1 5 0 5-1 5-1 4-1 5 0 4-1 5-1 4-1 5M632 1290l0-4M335 1292l-2-2M368 1289l-1-4M376 1290l-2-3M288 1291l-2-4M628 1289l1-4M282 1291l-2-3M502 1260l2-3M606 1291l2-3M596 1292l2-3M525 1279l1-3M402 1289l-1-4M422 1291l0-5M415 1290l0-3M648 1291l1-5M456 1290l2-4M422 1292l0-5M597 1291l1-3M207 1292l-2-2" stroke="#000"/><path d="M614 1010l-15-4-21-4-26-2-28 0-27 2-21 3-17 5" stroke="#000" stroke-dasharray="0.01 5.5"/></g><rect x="67" y="1239" width="630" height="1" fill="#000"/><rect x="67" y="1187" width="630" height="1" fill="#000"/><rect x="67" y="1134" width="630" height="1" fill="#000"/><rect x="67" y="1082" width="630" height="1" fill="#000"/><rect x="67" y="1029" width="630" height="1" fill="#000"/><rect x="83.8" y="979" width="1.5" height="1.8" fill="#000"/><rect x="83.8" y="1288.2" width="1.5" height="1.8" fill="#000"/><rect x="101.2" y="979" width="1.5" height="1.8" fill="#000"/><rect x="101.2" y="1288.2" width="1.5" height="1.8" fill="#000"/><rect x="118.5" y="979" width="2" height="3.5" fill="#000"/><rect x="118.5" y="1286.5" width="2" height="3.5" fill="#000"/><rect x="136.2" y="979" width="1.5" height="1.8" fill="#000"/><rect x="136.2" y="1288.2" width="1.5" height="1.8" fill="#000"/><rect x="153.8" y="979" width="1.5" height="1.8" fill="#000"/><rect x="153.8" y="1288.2" width="1.5" height="1.8" fill="#000"/><rect x="171" y="979" width="2" height="3.5" fill="#000"/><rect x="171" y="1286.5" width="2" height="3.5" fill="#000"/><rect x="188.8" y="979" width="1.5" height="1.8" fill="#000"/><rect x="188.8" y="1288.2" width="1.5" height="1.8" fill="#000"/><rect x="206.2" y="979" width="1.5" height="1.8" fill="#000"/><rect x="206.2" y="1288.2" width="1.5" height="1.8" fill="#000"/><rect x="223.5" y="979" width="2" height="3.5" fill="#000"/><rect x="223.5" y="1286.5" width="2" height="3.5" fill="#000"/><rect x="241.2" y="979" width="1.5" height="1.8" fill="#000"/><rect x="241.2" y="1288.2" width="1.5" height="1.8" fill="#000"/><rect x="258.8" y="979" width="1.5" height="1.8" fill="#000"/><rect x="258.8" y="1288.2" width="1.5" height="1.8" fill="#000"/><rect x="276" y="979" width="2" height="3.5" fill="#000"/><rect x="276" y="1286.5" width="2" height="3.5" fill="#000"/><rect x="293.8" y="979" width="1.5" height="1.8" fill="#000"/><rect x="293.8" y="1288.2" width="1.5" height="1.8" fill="#000"/><rect x="311.2" y="979" width="1.5" height="1.8" fill="#000"/><rect x="311.2" y="1288.2" width="1.5" height="1.8" fill="#000"/><rect x="328.5" y="979" width="2" height="3.5" fill="#000"/><rect x="328.5" y="1286.5" width="2" height="3.5" fill="#000"/><rect x="346.2" y="979" width="1.5" height="1.8" fill="#000"/><rect x="346.2" y="1288.2" width="1.5" height="1.8" fill="#000"/><rect x="363.8" y="979" width="1.5" height="1.8" fill="#000"/><rect x="363.8" y="1288.2" width="1.5" height="1.8" fill="#000"/><rect x="381" y="979" width="2" height="3.5" fill="#000"/><rect x="381" y="1286.5" width="2" height="3.5" fill="#000"/><rect x="398.8" y="979" width="1.5" height="1.8" fill="#000"/><rect x="398.8" y="1288.2" width="1.5" height="1.8" fill="#000"/><rect x="416.2" y="979" width="1.5" height="1.8" fill="#000"/><rect x="416.2" y="1288.2" width="1.5" height="1.8" fill="#000"/><rect x="433.5" y="979" width="2" height="3.5" fill="#000"/><rect x="433.5" y="1286.5" width="2" height="3.5" fill="#000"/><rect x="451.2" y="979" width="1.5" height="1.8" fill="#000"/><rect x="451.2" y="1288.2" width="1.5" height="1.8" fill="#000"/><rect x="468.8" y="979" width="1.5" height="1.8" fill="#000"/><rect x="468.8" y="1288.2" width="1.5" height="1.8" fill="#000"/><rect x="486" y="979" width="2" height="3.5" fill="#000"/><rect x="486" y="1286.5" width="2" height="3.5" fill="#000"/><rect x="503.8" y="979" width="1.5" height="1.8" fill="#000"/><rect x="503.8" y="1288.2" width="1.5" height="1.8" fill="#000"/><rect x="521.2" y="979" width="1.5" height="1.8" fill="#000"/><rect x="521.2" y="1288.2" width="1.5" height="1.8" fill="#000"/><rect x="538.5" y="979" width="2" height="3.5" fill="#000"/><rect x="538.5" y="1286.5" width="2" height="3.5" fill="#000"/><rect x="556.2" y="979" width="1.5" height="1.8" fill="#000"/><rect x="556.2" y="1288.2" width="1.5" height="1.8" fill="#000"/><rect x="573.8" y="979" width="1.5" height="1.8" fill="#000"/><rect x="573.8" y="1288.2" width="1.5" height="1.8" fill="#000"/><rect x="591" y="979" width="2" height="3.5" fill="#000"/><rect x="591" y="1286.5" width="2" height="3.5" fill="#000"/><rect x="608.8" y="979" width="1.5" height="1.8" fill="#000"/><rect x="608.8" y="1288.2" width="1.5" height="1.8" fill="#000"/><rect x="626.2" y="979" width="1.5" height="1.8" fill="#000"/><rect x="626.2" y="1288.2" width="1.5" height="1.8" fill="#000"/><rect x="643.5" y="979" width="2" height="3.5" fill="#000"/><rect x="643.5" y="1286.5" width="2" height="3.5" fill="#000"/><rect x="661.2" y="979" width="1.5" height="1.8" fill="#000"/><rect x="661.2" y="1288.2" width="1.5" height="1.8" fill="#000"/><rect x="678.8" y="979" width="1.5" height="1.8" fill="#000"/><rect x="678.8" y="1288.2" width="1.5" height="1.8" fill="#000"/><rect x="69" y="1238" width="4" height="3" fill="#000"/><rect x="691" y="1238" width="4" height="3" fill="#000"/><rect x="69" y="1186" width="4" height="3" fill="#000"/><rect x="691" y="1186" width="4" height="3" fill="#000"/><rect x="69" y="1133" width="4" height="3" fill="#000"/><rect x="691" y="1133" width="4" height="3" fill="#000"/><rect x="69" y="1081" width="4" height="3" fill="#000"/><rect x="691" y="1081" width="4" height="3" fill="#000"/><rect x="69" y="1028" width="4" height="3" fill="#000"/><rect x="691" y="1028" width="4" height="3" fill="#000"/><rect x="65" y="975" width="4" height="319" fill="#000"/><rect x="695" y="975" width="4" height="319" fill="#000"/><rect x="65" y="975" width="634" height="4" fill="#000"/><rect x="65" y="1290" width="634" height="4" fill="#000"/><text x="67" y="1315.3" font-size="22.1" text-anchor="middle" >0</text><text x="119.5" y="1315.3" font-size="22.1" text-anchor="middle" >30</text><text x="172" y="1315.3" font-size="22.1" text-anchor="middle" >60</text><text x="224.5" y="1315.3" font-size="22.1" text-anchor="middle" >90</text><text x="277" y="1315.3" font-size="22.1" text-anchor="middle" >120</text><text x="329.5" y="1315.3" font-size="22.1" text-anchor="middle" >150</text><text x="382" y="1315.3" font-size="22.1" text-anchor="middle" >180</text><text x="434.5" y="1315.3" font-size="22.1" text-anchor="middle" >210</text><text x="487" y="1315.3" font-size="22.1" text-anchor="middle" >240</text><text x="539.5" y="1315.3" font-size="22.1" text-anchor="middle" >270</text><text x="592" y="1315.3" font-size="22.1" text-anchor="middle" >300</text><text x="644.5" y="1315.3" font-size="22.1" text-anchor="middle" >330</text><text x="697" y="1315.3" font-size="22.1" text-anchor="middle" >360</text><text x="57.5" y="1299.8" font-size="22.1" text-anchor="end" >0</text><text x="57.5" y="1247.3" font-size="22.1" text-anchor="end" >15</text><text x="57.5" y="1194.8" font-size="22.1" text-anchor="end" >30</text><text x="57.5" y="1142.3" font-size="22.1" text-anchor="end" >45</text><text x="57.5" y="1089.8" font-size="22.1" text-anchor="end" >60</text><text x="57.5" y="1037.3" font-size="22.1" text-anchor="end" >75</text><text x="57.5" y="984.8" font-size="22.1" text-anchor="end" >90</text><text x="381.5" y="1344.3" font-size="22.1" text-anchor="middle" >Azimut (grados)</text><text x="0" y="0" font-size="22.1" text-anchor="middle" transform="translate(21.8 1133) rotate(-90)">Elevación (grados)</text><g transform="translate(954.2 1166.9) scale(1.018 1)" font-family="Liberation Serif" font-weight="bold" font-size="118.5"><text x="1.2" y="5.2" fill="#cdcdcd">IGN</text><text x="-3.95" y="0" fill="url(#wmw)">IGN</text></g><g clip-path="url(#clip4)" fill="none" stroke-width="2.5" stroke-linejoin="round" stroke-linecap="round"><path d="M736 1104l1 4 2 4 1 4 1 4 2 5 1 4 1 5 1 4 2 4 1 5 1 4 2 5 1 4 1 5 2 4 1 4 1 5 2 4 1 4 1 5 2 4 1 4 1 4 2 4 1 5 1 4 1 4 2 4 1 4 1 4 2 3 1 4 1 4 2 4 1 4 1 3 2 4 1 4 1 3 1 4 2 3 1 4 1 3 2 4 1 3 1 3M1089 1290l1-2 2-2 1-2 1-3 2-2 1-2 1-1 2-2 1-2 1-1 2-2 1-1 1-2 1-1 2-1 1-1 1-1 2 0 1-1 1-1 2 0 1 0 1 0 2-1 1 0 1 1 1 0 2 0 1 0 1 1 2 0 1 1 1 1 2 1 1 1 1 1 2 1 1 1 1 1 2 1 1 2 1 1 2 2 1 1 1 2 1 1 2 2M1258 1292l2-3 1-3 1-3 2-3 1-3 1-4 2-3 1-3 1-4 2-3 1-4 1-3 1-4 2-3 1-4 1-4 2-4 1-4 1-4 2-3 1-5 1-4 2-4 1-4 1-4 1-4 2-5 1-4 1-4 2-5 1-4 1-5 2-4 1-4 1-5 2-4 1-5 1-5 2-4 1-5 1-4 2-5 1-4 1-4 1-5 2-4 1-4 1-4 2-5 1-3 1-4 2-4 1-4 1-3 2-3 1-3 1-3 1-2 2-2 1-2 1-1 2-1 1-1 1 0 2 1 1 0 1 1 2 2 1 1 1 2 2 3 1 2 1 3 2 3 1 4 1 3 1 4 2 4 1 4 1 4 2 4 1 4M943 1260l2-3 1-3 1-3 2-3 1-3 1-2 2-3 1-3 1-3 1-2 2-3 1-3 1-2 2-3 1-2 1-3 2-2 1-3 1-2 2-3 1-2 1-3 2-2 1-3 1-2 2-2 1-3 1-2 1-2 2-3 1-2 1-2 2-3 1-2 1-2 2-2 1-3 1-2 2-2 1-2 1-2 1-3 2-2 1-2 1-2 2-2 1-2 1-3 2-2 1-2 1-2 2-2 1-2 1-3 2-2 1-2 1-2 2-2 1-2 1-2 1-3 2-2 1-2 1-2 2-2 1-2 1-2 2-2 1-2 1-2 2-2 1-2 1-2 1-1 2-2 1-2 1-2 2-1 1-2 1-1 2-1 1-1 1-1 2-1 1-1 1-1 2 0 1-1 1 0 2 0 1 0 1 0 1 1 2 0 1 1 1 1 2 1 1 1 1 2 2 2 1 1 1 2 2 2 1 3 1 2 1 3 2 2 1 3 1 3 2 3 1 3 1 3 2 4 1 3 1 3 2 4 1 3 1 4 2 4 1 4 1 3 2 4 1 4 1 4 1 4 2 4 1 4 1 4 2 4 1 4 1 4 2 5 1 4 1 4 2 4 1 4 1 4 1 4 2 5 1 4 1 4 2 4 1 4 1 5 2 4 1 4 1 4 2 4 1 4 1 4 2 4 1 4 1 4 2 5 1 4 1 4 1 4M736 1090l1-2 2-2 1-2 1-1 2-1 1-1 1-1 1-1 2 0 1 0 1 1 2 0 1 1 1 1 2 2 1 1 1 2 2 3 1 2 1 3 2 3 1 3 1 3 2 3 1 4 1 4 1 4 2 4 1 4 1 4 2 4 1 5 1 4 2 5 1 5 1 4 2 5 1 5 1 5 1 4 2 5 1 5 1 5 2 5 1 5 1 5 2 5 1 5 1 5 2 5 1 5 1 4 2 5 1 5 1 5 2 5 1 5 1 5 1 4 2 5 1 5 1 5 2 4M1195 1289l2-4 1-4 1-4 2-4 1-3 1-4 2-4 1-4 1-3 1-4 2-4 1-3 1-4 2-3 1-3 1-4 2-3 1-3 1-4 2-3 1-3 1-3 2-3 1-3 1-3 2-2 1-3 1-3 1-2 2-3 1-2 1-3 2-2 1-2 1-2 2-2 1-2 1-2 2-2 1-2 1-1 1-2 2-2 1-1 1-1 2-2 1-1 1-1 2-1 1-1 1-2 2 0 1-1 1-1 2-1 1-1 1 0 2-1 1-1 1 0 1-1 2 0 1-1 1 0 2-1 1 0 1 0 2-1 1 0 1 0 2 0 1-1 1 0 1 0 2 0 1 0 1 0 2 0 1-1 1 0 2 0 1 0 1 0 2 0 1 0 1 0 2 1 1 0 1 0 2 0 1 0 1 0 1 1 2 0 1 0 1 1 2 0 1 1 1 0 2 1 1 1 1 0 2 1 1 1 1 1 1 1 2 1 1 1 1 1 2 1 1 2 1 1 2 2 1 1 1 2 2 2 1 1 1 2 2 2 1 2 1 3 2 2 1 2 1 2 1 3 2 3 1 2 1 3 2 3 1 2M736 1072l1-6 2-6 1-6 1-6 2-6 1-6 1-6 1-5 2-6 1-4 1-5 2-4 1-2 1-1 2 0 1 2 1 3 2 3 1 5 1 5 2 5 1 5 1 6 2 5 1 6 1 5 1 6 2 5 1 6 1 5 2 6 1 5 1 6 2 5 1 5 1 5 2 6 1 5 1 5 1 5 2 5 1 5 1 4 2 5 1 5 1 5 2 4 1 5 1 4 2 4 1 5 1 4 2 4 1 4 1 4 2 4 1 4 1 4 1 4 2 4 1 3 1 4 2 3 1 4 1 3 2 4 1 3 1 3 2 4 1 3 1 3 1 3 2 3 1 3 1 3 2 3 1 3 1 2 2 3 1 3 1 3 2 2 1 3 1 2 2 3M1104 1290l1-3 1-3 1-2 2-3 1-2 1-2 2-2 1-2 1-2 2-1 1-2 1-1 2-1 1-1 1-1 1-1 2-1 1 0 1 0 2-1 1 0 1 1 2 0 1 0 1 1 2 0 1 1 1 1 2 1 1 1 1 2 2 1 1 2 1 1 1 2 2 2 1 2 1 2 2 2 1 2 1 2 2 2M1277 1289l1-5 1-4 2-4 1-5 1-4 2-5 1-4 1-5 2-4 1-5 1-5 1-5 2-5 1-5 1-5 2-5 1-5 1-6 2-5 1-5 1-6 2-5 1-6 1-5 2-6 1-6 1-5 2-6 1-6 1-5 1-6 2-6 1-6 1-6 2-5 1-6 1-6 2-5 1-6 1-5 2-5 1-6 1-4 1-5 2-5 1-4 1-3 2-3 1-3 1-2 2-1 1-1 1 0 2 1 1 2 1 2 2 3 1 4 1 3 2 5 1 4 1 5 1 5 2 5 1 5 1 5 2 6 1 5" stroke="url(#gl0)"/><path d="M827 1289l1-5 1-4 1-5 2-5 1-5 1-5 2-5 1-5 1-5 2-5 1-5 1-6 2-5 1-5 1-6 2-5 1-6 1-5 2-6 1-6 1-6 1-5 2-6 1-6 1-6 2-6 1-6 1-6 2-6 1-6 1-7 2-6 1-6 1-6 1-7 2-6 1-6 1-7 2-6 1-6 1-7 2-6 1-7 1-6 2-6 1-7 1-6 2-6 1-6 1-5 2-5 1-3 1-1 1 1 2 4 1 4 1 6 2 5 1 6 1 6 2 6 1 6 1 6 2 6 1 6 1 5 1 6 2 6 1 6 1 5 2 6 1 6 1 5 2 6 1 5 1 5 2 6 1 5 1 5 2 5 1 5 1 5 2 5 1 5 1 4 1 5 2 5 1 4 1 5 2 4 1 5 1 4 2 4 1 4 1 4 2 4 1 4 1 4 1 4 2 4 1 4 1 3 2 4 1 4 1 3 2 3 1 4 1 3 2 3 1 4 1 3 2 3 1 3 1 3 2 3 1 3 1 3 1 2 2 3 1 3 1 3M1243 1292l1-3 1-3 2-3 1-3 1-2 1-3 2-2 1-3 1-2 2-2 1-2 1-2 2-1 1-2 1-1 2-1 1-1 1-1 2-1 1-1 1 0 2 0 1 0 1 0 1 0 2 0 1 0 1 1 2 1 1 1 1 1 2 1 1 1 1 1 2 2 1 1 1 2 1 2 2 2 1 2 1 2 2 2 1 2 1 2 2 3 1 2M1004 1289l1-3 1-4 2-3 1-4 1-4 2-3 1-4 1-3 2-4 1-3 1-4 2-3 1-4 1-3 1-3 2-4 1-3 1-4 2-3 1-3 1-3 2-4 1-3 1-3 2-3 1-3 1-3 1-4 2-3 1-3 1-2 2-3 1-3 1-3 2-3 1-3 1-2 2-3 1-2 1-3 2-3 1-2 1-2 2-3 1-2 1-2 1-3 2-2 1-2 1-2 2-2 1-2 1-2 2-2 1-1 1-2 2-2 1-2 1-1 1-2 2-1 1-2 1-1 2-1 1-2 1-1 2-1 1-1 1-1 2-2 1-1 1 0 2-1 1-1 1-1 2-1 1-1 1 0 1-1 2 0 1-1 1 0 2-1 1 0 1 0 2-1 1 0 1 0 2 0 1 0 1 0 1 0 2 0 1 0 1 1 2 0 1 0 1 1 2 0 1 1 1 1 2 0 1 1 1 1 2 1 1 1 1 1 2 1 1 2 1 1 1 1 2 2 1 2 1 1 2 2 1 2 1 2 2 2 1 2 1 2 2 2 1 2 1 2 1 3 2 2 1 3 1 2 2 3 1 3 1 2 2 3 1 3 1 3 2 3 1 3 1 3 2 3 1 3 1 4 2 3 1 3 1 3 1 4 2 3 1 3 1 4 2 3 1 4 1 3 2 4 1 4 1 3 2 4 1 3 1 4 1 4 2 3 1 4 1 4 2 3 1 4 1 4 2 4 1 3 1 4 2 4 1 4 1 3 2 4 1 4M937 1289l1-4 1-4 2-5 1-4 1-4 2-4 1-4 1-4 2-5 1-4 1-4 2-5 1-4 1-5 1-4 2-5 1-4 1-5 2-4 1-5 1-4 2-5 1-5 1-4 2-5 1-5 1-5 2-4 1-5 1-5 2-5 1-4 1-5 1-5 2-5 1-5 1-4 2-5 1-5 1-5 2-4 1-5 1-5 2-4 1-5 1-4 1-5 2-4 1-4 1-4 2-4 1-4 1-4 2-3 1-4 1-3 2-3 1-2 1-2 2-2 1-1 1-1 2-1 1 0 1 1 1 1 2 1 1 2 1 2 2 2 1 2 1 3 2 3 1 3 1 3 2 3 1 4 1 3 1 4 2 3 1 4 1 3 2 4 1 3 1 4 2 4 1 3 1 4 2 3 1 4 1 3 2 4 1 3 1 3 2 4 1 3 1 3 1 4 2 3 1 3 1 3 2 4 1 3 1 3 2 3 1 3 1 3 2 3 1 3 1 3 1 3 2 3 1 2 1 3 2 3 1 3 1 2 2 3 1 3 1 2 2 3 1 3 1 2 2 3 1 2 1 3 2 2 1 3 1 3 1 2 2 2 1 3 1 2 2 3 1 2 1 3 2 2 1 3 1 2 2 2 1 3 1 2 1 3 2 2 1 2 1 3 2 2 1 3 1 2 2 3 1 2 1 2 2 3 1 2 1 3 2 2 1 3 1 2M736 1085l1 1 2 2 1 2 1 2 2 2 1 3 1 3 1 3 2 3 1 3 1 4 2 3 1 4 1 4 2 3 1 4 1 4 2 4 1 4 1 5 2 4 1 4 1 4 2 4 1 5 1 4 1 4 2 4 1 5 1 4 2 4 1 4 1 5 2 4 1 4 1 4 2 4 1 4 1 4 1 4 2 4 1 4 1 4 2 4 1 4 1 4 2 4 1 4 1 3 2 4 1 4 1 4 2 3 1 4 1 3 2 4M1101 1291l1-3 2-2 1-3 1-3 1-3 2-2 1-3 1-2 2-2 1-2 1-3 2-2 1-2 1-2 2-1 1-2 1-1 1-2 2-1 1-2 1-1 2-1 1-1 1 0 2-1 1-1 1 0 2 0 1-1 1 0 2 0 1 0 1 1 2 0 1 0 1 1 1 1 2 0 1 1 1 1 2 1 1 1 1 1 2 2 1 1 1 1 2 2 1 1 1 2 1 1 2 2 1 2 1 2 2 1 1 2 1 2 2 2 1 2 1 2M1277 1290l1-3 1-2 2-3 1-3 1-3 2-3 1-3 1-3 2-3 1-4 1-3 1-3 2-4 1-3 1-4 2-3 1-4 1-3 2-4 1-4 1-4 2-4 1-3 1-4 2-4 1-4 1-4 2-4 1-4 1-5 1-4 2-4 1-4 1-4 2-4 1-4 1-5 2-4 1-4 1-4 2-4 1-4 1-4 1-4 2-4 1-3 1-4 2-4 1-3 1-3 2-3 1-3 1-3 2-3 1-2 1-2 2-2 1-2 1-1 2-2 1 0 1-1 1 0 2 0 1 1 1 0 2 2 1 1M1051 1279l1-2 2-2 1-3 1-2 2-2 1-2 1-2 2-3 1-2 1-2 1-2 2-2 1-2 1-2 2-2 1-2 1-2 2-2 1-2 1-3 2-2 1-2 1-2 1-2 2-2 1-2 1-2 2-2 1-2 1-2 2-3 1-2 1-2 2-2 1-2 1-3 2-2 1-2 1-3 2-2 1-2 1-3 1-2 2-3 1-2 1-3 2-2 1-3 1-3 2-2 1-3 1-3 2-2 1-3 1-3 1-3 2-3 1-3 1-3 2-2 1-3 1-3 2-3 1-3 1-3 2-3 1-3 1-3 2-3 1-3 1-3 2-2 1-3 1-3 1-2 2-3 1-2 1-2 2-2 1-2 1-2 2-2 1-1 1-1 2-1 1-1 1 0 1 0 2 0 1 0 1 1 2 1 1 1 1 2 2 2 1 2 1 2 2 3 1 3 1 3 2 3 1 4 1 3 2 4 1 4 1 4 1 4 2 4 1 4 1 5 2 4 1 5 1 5 2 4 1 5 1 5 2 5 1 5 1 4 1 5 2 5 1 5 1 5 2 5 1 5 1 5 2 5 1 5 1 5 2 5 1 5 1 5 2 5 1 4 1 5 2 5 1 5 1 5 1 5 2 4 1 5 1 5M752 1289l1-4 1-3 2-4 1-4 1-4 2-4 1-5 1-4 2-4 1-4 1-5 2-4 1-5 1-4 1-5 2-4 1-5 1-5 2-5 1-5 1-5 2-5 1-5 1-5 2-5 1-5 1-5 1-6 2-5 1-5 1-6 2-5 1-6 1-5 2-6 1-6 1-5 2-6 1-5 1-6 2-6 1-5 1-6 2-5 1-5 1-5 1-5 2-5 1-5 1-4 2-3 1-4 1-2 2-2 1-1 1-1 2 1 1 1 1 2 1 3 2 4 1 4 1 4 2 5 1 4 1 6 2 5 1 5 1 6 2 6 1 6 1 5 2 6 1 6 1 6 2 6 1 6 1 6 1 5 2 6 1 6 1 6 2 5 1 6 1 6 2 5 1 6 1 5 2 6 1 5 1 6 1 5 2 5 1 5 1 5 2 5 1 5 1 5 2 5 1 5 1 5 2 4 1 5 1 4 2 5 1 4 1 4 2 5 1 4M1013 1290l1-2 2-2 1-2 1-2 2-2 1-2 1-2 1-1 2-2 1-1 1-2 2-1 1-1 1-1 2-1 1-1 1 0 2-1 1 0 1 0 1 0 2 0 1 0 1 0 2 1 1 0 1 1 2 1 1 1 1 1 2 2 1 1 1 2 2 2 1 2 1 2 2 2 1 2 1 2 1 3 2 3M1320 1291l1-2 2-3 1-2 1-3 2-2 1-3 1-2 2-3 1-3 1-2 1-3 2-3 1-3 1-3 2-3 1-3 1-3 2-3 1-3 1-3 2-4 1-3 1-3 2-4 1-3 1-4 2-3 1-4 1-4 1-3 2-4 1-4 1-4 2-4 1-4M1014 1272l2-2 1-3 1-3 2-2 1-3 1-3 1-2 2-3 1-2 1-3 2-2 1-3 1-2 2-3 1-2 1-3 2-2 1-3 1-2 1-3 2-2 1-2 1-3 2-2 1-3 1-2 2-2 1-3 1-2 2-2 1-3 1-2 2-3 1-2 1-2 2-3 1-2 1-3 1-2 2-2 1-3 1-2 2-3 1-2 1-3 2-2 1-3 1-2 2-3 1-2 1-3 1-2 2-3 1-3 1-2 2-3 1-3 1-2 2-3 1-3 1-2 2-3 1-3 1-2 2-3 1-3 1-3 2-2 1-3 1-3 1-3 2-2 1-3 1-3 2-2 1-3 1-2 2-3 1-2 1-2 2-3 1-2 1-2 1-1 2-2 1-2 1-1 2-1 1-1 1-1 2 0 1 0 1 0 2 0 1 1 1 0 2 1 1 2 1 1 2 2 1 2 1 2 1 3 2 3 1 2 1 3 2 4 1 3 1 3 2 4 1 3 1 4 2 4 1 4 1 4 1 4 2 4 1 4 1 4 2 4 1 5 1 4 2 4 1 4 1 5 2 4 1 5 1 4 2 4 1 5 1 4 2 5 1 4 1 5 1 4 2 4 1 5 1 4 2 5 1 4 1 4 2 5 1 4 1 5 2 4 1 4 1 4 1 5 2 4 1 4 1 4 2 4 1 5 1 4 2 4 1 4 1 4M979 1291l1-5 1-4 2-4 1-4 1-4 2-4 1-4 1-4 2-4 1-4 1-4 2-4 1-4 1-4 1-4 2-3 1-4 1-4 2-3 1-4 1-3 2-4 1-3 1-3 2-4 1-3 1-3 2-3 1-3 1-3 2-3 1-2 1-3 1-3 2-2 1-2 1-3 2-2 1-2 1-2 2-2 1-2 1-1 2-2 1-1 1-2 1-1 2-1 1-1 1-1 2-1 1-1 1-1 2 0 1-1 1 0 2-1 1 0 1 0 2-1 1 0 1 0 2 0 1 0 1 0 1 0 2 1 1 0 1 0 2 0 1 1 1 0 2 0 1 1 1 0 2 1 1 0 1 1 1 0 2 1 1 0 1 1 2 1 1 0 1 1 2 0 1 1 1 1 2 0 1 1 1 1 2 1 1 0 1 1 2 1 1 1 1 1 1 0 2 1 1 1 1 1 2 1 1 1 1 1 2 1 1 2 1 1 2 1 1 1 1 2 1 1 2 1 1 2 1 1 2 2 1 2 1 1 2 2 1 2 1 2 2 2 1 2 1 2 2 2 1 2 1 2 2 3 1 2 1 2 1 3 2 3 1 2 1 3 2 3 1 2 1 3 2 3 1 3 1 3 2 3 1 3 1 3 1 4 2 3 1 3 1 4 2 3 1 3 1 4 2 3 1 4 1 3 2 4 1 4 1 3 2 4M736 1194l1 5 2 5 1 4 1 5 2 4 1 5 1 4 1 5 2 4 1 5 1 4 2 5 1 4 1 4 2 4 1 4 1 5 2 4 1 4 1 4 2 4 1 4M1195 1283l2-3 1-2 1-2 2-3 1-2 1-3 2-2 1-2 1-3 1-2 2-3 1-2 1-2 2-3 1-2 1-3 2-2 1-3 1-2 2-3 1-2 1-3 2-3 1-2 1-3 2-3 1-2 1-3 1-3 2-3 1-2 1-3 2-3 1-3 1-3 2-3 1-3 1-3 2-3 1-3 1-3 1-3 2-4 1-3 1-3 2-3 1-4 1-3 2-4 1-3 1-4 2-3 1-4 1-3 2-4 1-4 1-4 2-3 1-4 1-4 1-4 2-4 1-4 1-4 2-4 1-4 1-4 2-4 1-4 1-4 2-5 1-4 1-4 1-4 2-4 1-4 1-4 2-4 1-4 1-3 2-4 1-3 1-3 2-2 1-2 1-1 2-1 1 0 1 1 2 2 1 2 1 3 1 3 2 4 1 4 1 4 2 4 1 4 1 5 2 4 1 5 1 5 2 5 1 5 1 5 1 5 2 5 1 5 1 5 2 5 1 5 1 5 2 5 1 5 1 5 2 5 1 5 1 5 2 5 1 5 1 5 2 5 1 5 1 5 1 4 2 5 1 5 1 5 2 5 1 4M863 1290l2-3 1-4 1-3 2-4 1-3 1-3 1-4 2-3 1-3 1-3 2-3 1-3 1-3 2-3 1-3 1-3 2-3 1-2 1-3 2-2 1-2 1-3 2-2 1-2 1-2 1-1 2-2 1-2 1-1 2-1 1-1 1-1 2-1 1-1 1-1 2 0 1 0 1-1 1 0 2 0 1 1 1 0 2 0 1 1 1 1 2 1 1 0 1 2 2 1 1 1 1 1 2 2 1 1 1 2 2 2 1 1 1 2 1 2 2 2 1 2 1 2 2 3 1 2 1 2 2 2 1 2 1 3 2 2 1 2M962 1264l1 3 1 2 2 2 1 3 1 2 2 2 1 2 1 2 2 2 1 3 1 2 2 2M1050 1291l1-3 1-2 2-2 1-3 1-2 2-3 1-2 1-3 2-3 1-3 1-2 1-3 2-3 1-3 1-3 2-3 1-3 1-4 2-3 1-3 1-3 2-4 1-3 1-3 1-4 2-3 1-4 1-3 2-3 1-4 1-3 2-4 1-3 1-4 2-3 1-3 1-4 2-3 1-3 1-3 2-3 1-4 1-3 1-2 2-3 1-3 1-3 2-2 1-3 1-2 2-2 1-2 1-1 2-2 1-1 1-2 1-1 2 0 1-1 1 0 2-1 1 1 1 0 2 0 1 1 1 1 2 1 1 2 1 1 2 2 1 2 1 2 2 2 1 3 1 2 1 3 2 3 1 3 1 3 2 3 1 3 1 4 2 3 1 4 1 3 2 4 1 4 1 3 1 4 2 4 1 4 1 4 2 4 1 4 1 4 2 4 1 4 1 4 2 4 1 4 1 3 2 4 1 4 1 4 2 4 1 4 1 4 1 4 2 4 1 4 1 4 2 3 1 4 1 4" stroke="url(#gl1)"/><path d="M956 1288l2-4 1-4 1-4 2-4 1-4 1-4 2-5 1-4 1-5 2-4 1-4 1-5 2-5 1-4 1-5 2-5 1-5 1-5 1-5 2-5 1-5 1-5 2-5 1-5 1-5 2-6 1-5 1-5 2-6 1-5 1-5 1-6 2-5 1-6 1-5 2-6 1-5 1-6 2-5 1-5 1-5 2-5 1-5 1-5 2-5 1-4 1-4 2-4 1-3 1-3 1-2 2-2 1-1 1-1 2 1 1 1 1 1 2 3 1 3 1 3 2 4 1 4 1 4 1 5 2 5 1 5 1 5 2 5 1 6 1 5 2 6 1 6 1 5 2 6 1 5 1 6 2 6 1 5 1 6 2 6 1 5 1 6 1 5 2 6 1 5 1 6 2 5 1 5 1 5 2 6 1 5 1 5 2 5 1 5 1 5 1 4 2 5 1 5 1 5 2 4 1 5 1 4 2 4 1 5 1 4 2 4 1 4M1210 1291l1-2 1-3 2-2 1-2 1-2 2-3 1-2 1-2 2-2 1-1 1-2 2-2 1-1 1-2 2-1 1-1 1-1 1-1 2-1 1-1 1 0 2-1 1 0 1 0 2 0 1 0 1 1 2 0 1 1 1 1 1 1 2 1 1 1 1 1 2 2 1 1 1 2 2 2 1 2 1 2 2 3 1 2 1 3 2 2 1 3 1 3M773 1290l1-3 1-3 2-4 1-3 1-3 2-3 1-3 1-2 2-3 1-3 1-3 1-2 2-3 1-2 1-2 2-3 1-2 1-2 2-2 1-1 1-2 2-2 1-1 1-2 2-1 1-1 1-1 2-1 1-1 1 0 1-1 2 0 1-1 1 0 2 0 1 0 1 0 2 1 1 0 1 1 2 0 1 1 1 1 1 1 2 1 1 1 1 2 2 1 1 1 1 2 2 1 1 2 1 2 2 1 1 2 1 2 2 2 1 2 1 2 2 2 1 2 1 2 1 2 2 2M953 1292l1-3 1-2 1-3 2-2 1-3 1-3 2-3 1-2 1-3 2-3 1-3 1-3 2-3 1-4 1-3 2-3 1-4 1-3 2-3 1-4 1-3 1-4 2-3 1-4 1-4 2-3 1-4 1-4 2-4 1-3 1-4 2-4 1-4 1-3 1-4 2-4 1-4 1-3 2-4 1-4 1-3 2-4 1-4 1-3 2-3 1-4 1-3 2-3 1-3 1-3 2-3 1-2 1-2 1-3 2-2 1-1 1-2 2-1 1-2 1 0 2-1 1 0 1-1 2 1 1 0 1 1 1 1 2 1 1 1 1 2 2 2 1 2 1 2 2 3 1 2 1 3 2 3 1 3 1 3 2 4 1 3 1 4 2 3 1 4 1 4 1 3 2 4 1 4 1 4 2 4 1 4 1 4 2 4 1 4 1 5 2 4 1 4 1 4 1 4 2 4 1 4 1 4 2 4 1 4 1 4 2 4 1 4 1 4 2 4 1 4 1 4 2 4 1 4 1 4 2 4 1 3 1 4 1 4 2 3M736 1282l1 2 2 3 1 2M858 1291l1-4 2-4 1-4 1-5 2-4 1-5 1-4 2-5 1-5 1-4 1-5 2-5 1-5 1-5 2-5 1-5 1-6 2-5 1-5 1-6 2-5 1-6 1-5 2-6 1-5 1-6 2-6 1-5 1-6 1-6 2-6 1-5 1-6 2-6 1-6 1-6 2-6 1-5 1-6 2-6 1-5 1-5 1-6 2-5 1-4 1-5 2-4 1-4 1-3 2-2 1-2 1-1 2-1 1 1 1 1 2 2 1 2 1 4 2 3 1 4 1 5 1 5 2 4 1 6 1 5 2 5 1 5 1 6 2 5 1 6 1 6 2 5 1 6 1 5 1 6 2 5 1 6 1 5 2 6 1 5 1 5 2 6 1 5 1 5 2 5 1 5 1 6 2 5 1 4 1 5 2 5 1 5 1 5 1 4 2 5 1 4 1 5 2 4 1 5 1 4 2 4 1 4 1 5 2 4 1 4 1 4 1 4 2 3 1 4M1268 1290l1-4 1-4 2-4 1-4 1-4 1-4 2-4 1-4 1-4 2-3 1-4 1-3 2-4 1-3 1-3 2-3 1-3 1-3 1-3 2-2 1-3 1-2 2-2 1-2 1-2 2-1 1-1 1-2 2-1 1-1 1 0 2-1 1 0 1 0 2 0 1 0 1 1 1 1 2 0 1 2 1 1 2 1 1 2 1 1 2 2 1 2 1 2 2 2 1 3 1 2 1 3 2 2 1 3 1 3 2 2 1 3 1 3 2 3 1 3 1 3 2 3 1 4 1 3M736 1222l1-4 2-4 1-4 1-4 2-4 1-5 1-4 1-4 2-4 1-5 1-4 2-4 1-5 1-4 2-4 1-4 1-5 2-4 1-4 1-4 2-4 1-4 1-4 2-4 1-4 1-4 1-4 2-3 1-4 1-3 2-3 1-3 1-3 2-2 1-3 1-2 2-1 1-2 1-1 1-1 2 0 1-1 1 0 2 1 1 1 1 1 2 1 1 2 1 2 2 2 1 3 1 2 2 3 1 3 1 4 2 3 1 4 1 3 1 4 2 4 1 4 1 4 2 4 1 4 1 4 2 4 1 4 1 5 2 4 1 4 1 4 1 4 2 5 1 4 1 4 2 4 1 4 1 5 2 4 1 4 1 4 2 4 1 4 1 4 2 3 1 4 1 4 2 4 1 3 1 4 1 4 2 3 1 4 1 3 2 3 1 4 1 3 2 3 1 3 1 3 2 3 1 3 1 3 1 3 2 2M966 1290l1-2 1-2 2-2 1-1 1-2 2-2 1-2 1-2 2-2 1-2 1-1 1-2 2-2 1-2 1-1 2-2 1-1 1-2 2-1 1-1 1-2 2-1 1-1 1-1 1-1 2-1 1-1 1 0 2-1 1 0 1-1 2 0 1 0 1 0 2 0 1 0 1 0 2 1 1 0 1 1 2 1 1 0 1 1 1 2 2 1 1 1 1 1 2 2 1 1 1 2 2 2 1 2 1 2 2 2 1 2 1 2 1 3 2 2 1 3 1 2 2 3 1 2 1 3M1341 1289l1-3 2-4 1-3 1-4 2-3 1-4 1-4 2-4 1-3 1-4 2-4 1-4 1-4 1-4 2-4 1-4 1-4 2-4 1-4M836 1290l1-4 1-4 2-4 1-4 1-3 2-4 1-4 1-4 2-3 1-4 1-4 2-3 1-4 1-4 1-3 2-4 1-3 1-4 2-3 1-4 1-3 2-3 1-3 1-4 2-3 1-3 1-2 1-3 2-3 1-2 1-3 2-2 1-2 1-2 2-2 1-2 1-1 2-2 1-1 1-1 2-1 1-1 1-1 2 0 1 0 1-1 1 0 2 1 1 0 1 1 2 0 1 1 1 1 2 1 1 2 1 1 2 2 1 2 1 1 1 2 2 2 1 2 1 3 2 2 1 2 1 3 2 2 1 3 1 3 2 2 1 3 1 3 2 3 1 2 1 3 2 3 1 3 1 3 1 3 2 3 1 2 1 3 2 3 1 3 1 3 2 2 1 3 1 3 2 3 1 2 1 3 1 3 2 2 1 3 1 2 2 2 1 3 1 2 2 2 1 2 1 3 2 2 1 2M1037 1292l1-2 1-2 1-2 2-3 1-2 1-2 2-2 1-3 1-2 2-3 1-2 1-3 2-2 1-3 1-2 2-3 1-3 1-2 2-3 1-3 1-3 1-3 2-2 1-3 1-3 2-3 1-3 1-2 2-3 1-3 1-3 2-2 1-3 1-3 1-2 2-3 1-2 1-2 2-3 1-2 1-2 2-2 1-2 1-2 2-2 1-1 1-2 2-1 1-2 1-1 2-1 1-1 1 0 1-1 2 0 1 0 1 0 2 0 1 0 1 1 2 0 1 1 1 1 2 1 1 1 1 2 1 2 2 1 1 2 1 2 2 2 1 3 1 2 2 3 1 2 1 3 2 3 1 3 1 3 2 3 1 3 1 3 2 3 1 4 1 3 1 3 2 4 1 4 1 3 2 4 1 3 1 4 2 4 1 3 1 4 2 4 1 4 1 3 1 4 2 4 1 4 1 3M844 1291l1-3 1-3 2-3 1-4 1-3 2-3 1-4 1-4 1-3 2-4 1-4 1-3 2-4 1-4 1-4 2-4 1-4 1-4 2-4 1-5 1-4 1-4 2-5 1-4 1-5 2-4 1-5 1-4 2-5 1-4 1-5 2-5 1-5 1-4 2-5 1-5 1-5 2-5 1-5 1-4 1-5 2-5 1-5 1-5 2-5 1-5 1-4 2-5 1-5 1-4 2-5 1-4 1-4 1-4 2-4 1-4 1-3 2-3 1-2 1-3 2-1 1-2 1 0 2-1 1 1 1 1 2 1 1 2 1 2 2 3 1 3 1 3 1 4 2 3 1 4 1 4 2 5 1 4 1 4 2 5 1 4 1 5 2 4 1 5 1 5 1 4 2 5 1 5 1 4 2 5 1 4 1 5 2 4 1 5 1 4 2 5 1 4 1 5 2 4 1 4 1 5 2 4 1 4 1 4 1 4 2 4 1 4 1 4 2 4 1 4 1 4 2 4 1 4 1 4 2 3 1 4 1 4 1 3 2 4 1 3 1 4 2 3 1 4 1 3 2 3 1 3 1 4 2 3 1 3 1 3 2 3M1308 1292l2-2 1-2 1-1 2-2 1-1 1-1 1-1 2-1 1-1 1-1 2-1 1-1 1 0 2-1 1 0 1 0 2 0 1 0 1 0 1 0 2 0 1 0 1 1 2 0 1 1 1 1 2 0 1 1 1 1 2 1 1 1 1 1 2 1 1 2 1 1M897 1290l2-3 1-2 1-3 2-2 1-2 1-3 2-2 1-1 1-2 2-2 1-1 1-2 1-1 2-1 1-1 1-1 2 0 1-1 1 0 2 0 1 0 1 0 2 0 1 0 1 1 2 1 1 0 1 1 2 1 1 2 1 1 1 1 2 2 1 1 1 2 2 2 1 2 1 2 2 2 1 2 1 2 2 2M1071 1289l1-4 1-4 2-5 1-4 1-4 2-5 1-5 1-4 1-5 2-5 1-5 1-4 2-5 1-5 1-6 2-5 1-5 1-5 2-6 1-5 1-5 2-6 1-5 1-6 2-5 1-6 1-6 1-5 2-6 1-6 1-6 2-5 1-6 1-6 2-6 1-5 1-6 2-6 1-5 1-6 1-5 2-5 1-5 1-5 2-4 1-4 1-4 2-3 1-3 1-2 2-2 1 0 1 0 2 1 1 1 1 3 2 3 1 3 1 4 1 4 2 4 1 5 1 5 2 5 1 5 1 5 2 6 1 5 1 6 2 5 1 6 1 5 1 6 2 5 1 6 1 5 2 6 1 5 1 6 2 5 1 5 1 5 2 6 1 5 1 5 2 5 1 5 1 5 2 5 1 5 1 5 1 4 2 5 1 5 1 4 2 5 1 4 1 5 2 4 1 4 1 5 2 4 1 4 1 4 1 4 2 4 1 4 1 4M736 1260l1-2 2-2 1-2 1-2 2-2 1-2 1-1 1-2 2-2 1-1 1-2 2-1 1-2 1-1 2-1 1-1 1-1 2-1 1-1 1-1 2-1 1 0 1 0 2-1 1 0 1 0 1 0 2 0 1 1 1 0 2 1 1 0 1 1 2 1 1 1 1 1 2 1 1 2 1 1 1 2 2 2 1 1 1 2 2 2 1 2 1 3 2 2 1 2 1 3 2 2 1 3 1 3 2 2 1 3 1 3 2 3 1 3 1 3 1 3 2 3M1107 1290l2-4 1-4 1-3 2-4 1-4 1-4 2-4 1-4 1-3 2-4 1-4 1-4 1-4 2-4 1-4 1-4 2-4 1-5 1-4 2-4 1-4 1-4 2-4 1-4 1-4 2-5 1-4 1-4 2-4 1-4 1-4 1-4 2-4 1-4 1-4 2-3 1-4 1-4 2-3 1-4 1-3 2-3 1-3 1-3 1-3 2-3 1-2 1-2 2-2 1-2 1-1 2-2 1-1 1 0 2-1 1 0 1 0 2 0 1 1 1 1 2 1 1 1 1 2 1 2 2 2 1 2 1 2 2 3 1 3 1 2 2 4 1 3 1 3 2 3 1 4 1 3 1 4 2 4 1 3 1 4 2 4 1 4 1 3 2 4 1 4 1 4 2 4 1 4 1 3 2 4 1 4 1 4 2 4 1 3 1 4 1 4 2 4 1 3 1 4 2 3 1 4 1 3 2 4 1 3 1 3 2 4 1 3 1 3 1 3 2 3 1 3 1 3 2 3 1 3 1 2 2 3 1 3 1 2 2 3M1345 1290l1-2 2-2 1-2 1-2 2-2 1-2 1-2 2-2 1-2 1-3 1-2 2-2 1-2 1-2 2-2 1-2M736 1214l1 3 2 2 1 3 1 2 2 3 1 3 1 2 1 3 2 3 1 2 1 3 2 3 1 2 1 3 2 3 1 3 1 3 2 2 1 3 1 3 2 3 1 3 1 3 2 3 1 3 1 3 1 3 2 3M1182 1289l2-4 1-4 1-4 2-5 1-4 1-4 1-4 2-4 1-4 1-4 2-4 1-5 1-4 2-4 1-4 1-4 2-5 1-4 1-4 1-4 2-5 1-4 1-4 2-4 1-4 1-5 2-4 1-4 1-4 2-4 1-4 1-4 2-4 1-4 1-4 2-4 1-4 1-4 1-4 2-4 1-3 1-4 2-3 1-4 1-3 2-3 1-3 1-4 2-2 1-3 1-3 1-3 2-2 1-2 1-2 2-2 1-2 1-2 2-1 1-1 1-1 2-1 1-1 1 0 2-1 1 0 1 0 2 1 1 0 1 1 1 0 2 1 1 1 1 1 2 2 1 1 1 2 2 1 1 2 1 2 2 2 1 1 1 2 1 2 2 2 1 2 1 3 2 2 1 2 1 2 2 2 1 2 1 3 2 2 1 2 1 2 2 3 1 2 1 2 2 2 1 3 1 2 1 2 2 2 1 3 1 2 2 2 1 2 1 3 2 2 1 2 1 2 2 3 1 2 1 2 1 2 2 3 1 2 1 2 2 2 1 3 1 2 2 2 1 2 1 3 2 2 1 2 1 3 2 2 1 2 1 3 2 2 1 2 1 3 1 2 2 3 1 2 1 3 2 2 1 3M736 1255l1 5 2 4 1 5 1 4 2 5 1 5 1 4 1 5M1016 1291l1-5 1-4 2-5 1-4 1-5 1-5 2-4 1-5 1-5 2-4 1-5 1-5 2-4 1-5 1-5 2-4 1-5 1-5 1-4 2-5 1-4 1-5 2-4 1-4 1-5 2-4 1-4 1-4 2-3 1-4 1-4 2-3 1-3 1-3 2-3 1-2 1-2 1-3 2-1 1-2 1-1 2-1 1 0 1-1 2 0 1 1 1 0 2 1 1 1 1 2 1 1 2 2 1 3 1 2 2 3 1 3 1 3 2 3 1 3 1 4 2 3 1 4 1 4 2 4 1 4 1 4 2 4 1 4 1 4 1 4 2 4 1 5 1 4 2 4 1 4 1 4 2 5 1 4 1 4 2 4 1 4 1 4 1 4 2 4 1 4 1 4 2 4 1 3 1 4 2 4 1 3 1 4 2 3M1230 1291l1-4 1-3 1-3 2-3 1-3 1-3 2-4 1-3 1-3 2-4 1-3 1-3 2-3 1-3 1-4 1-3 2-3 1-3 1-3 2-3 1-3 1-3 2-2 1-3 1-3 2-2 1-2 1-3 2-2 1-1 1-2 2-2 1-1 1-2 1-1 2-1 1 0 1-1 2 0 1 0 1 0 2 0 1 0 1 1 2 1 1 1 1 1 1 2 2 1 1 2 1 2 2 2 1 3 1 2 2 3 1 3 1 2 2 3 1 4 1 3 2 3 1 4 1 3 2 4 1 4 1 4 1 3 2 4 1 4 1 4 2 4 1 5 1 4 2 4 1 4 1 4M810 1291l1-3 1-3 1-4 2-3 1-3 1-3 2-3 1-3 1-4 2-3 1-3 1-3 2-3 1-3 1-3 1-3 2-3 1-3 1-3 2-3 1-2 1-3 2-2 1-3 1-2 2-2 1-2 1-2 2-2 1-2 1-1 2-2 1-1 1-1 1-1 2 0 1-1 1 0 2 0 1 0 1 0 2 1 1 0 1 1 2 1 1 2 1 1 1 2 2 2 1 2 1 2 2 2 1 2 1 3 2 3 1 3 1 3 2 3 1 3 1 3 2 4 1 3 1 4 2 4 1 3 1 4 1 4 2 4 1 4 1 4 2 4 1 4 1 4M1173 1288l1-3 2-4 1-4 1-4 2-4 1-5 1-4 2-4 1-4 1-5 2-4 1-5 1-4 1-5 2-5 1-4 1-5 2-5 1-5 1-5 2-5 1-5 1-5 2-5 1-5 1-6 1-5 2-5 1-6 1-5 2-5 1-6 1-5 2-6 1-5 1-6 2-6 1-5 1-6 2-5 1-5 1-6 2-5 1-5 1-5 1-5 2-4 1-5 1-4 2-3 1-3 1-3 2-2 1-1 1 0 2 0 1 2 1 1 1 3 2 3 1 4 1 4 2 4 1 5 1 5 2 5 1 5 1 6 2 5 1 6 1 5 2 6 1 6 1 6 2 5 1 6 1 6 1 6 2 6 1 5 1 6 2 6 1 5 1 6 2 5 1 6 1 5 2 6 1 5 1 5 1 6 2 5 1 5 1 5 2 5 1 5 1 5 2 4 1 5 1 5 2 5 1 4 1 5 2 4 1 4 1 4 2 5 1 4M828 1291l1-4 1-3 2-4 1-3 1-4 2-4 1-4 1-4 2-4 1-4 1-4 2-4 1-5 1-4 2-4 1-4 1-5 2-4 1-5 1-4 1-4 2-5 1-4 1-5 2-4 1-5 1-4 2-4 1-5 1-4 2-4 1-4 1-4 1-4 2-4 1-3 1-4 2-3 1-3 1-3 2-3 1-2 1-3 2-2 1-1 1-2 2-1 1-1 1 0 2 0 1 0 1 1 1 1 2 1 1 2 1 1 2 3 1 2 1 3 2 3 1 3 1 3 2 3 1 4 1 4 1 4 2 4 1 4 1 5 2 4 1 5 1 4 2 5 1 4 1 5 2 5 1 4 1 5 2 5 1 5 1 5 2 4 1 5 1 5 1 5 2 4 1 5 1 5 2 5 1 4 1 5 2 4 1 5 1 5 2 4 1 5M1223 1291l1-5 2-4 1-5 1-4 2-5 1-5 1-4 1-5 2-5 1-4 1-5 2-5 1-4 1-5 2-4 1-5 1-5 2-4 1-5 1-4 1-5 2-4 1-4 1-5 2-4 1-4 1-4 2-3 1-4 1-4 2-3 1-3 1-3 2-3 1-3 1-2 2-2 1-2 1-1 1-2 2-1 1-1 1 0 2 0 1 0 1 0 2 1 1 1 1 1 2 2 1 2 1 2 1 2 2 2 1 3 1 3 2 3 1 3 1 4 2 3 1 4 1 3 2 4 1 4 1 4 2 4 1 4 1 4 2 4 1 4 1 4 1 4 2 5 1 4 1 4 2 4 1 4 1 4 2 4 1 4 1 4 2 4 1 4 1 4 1 4 2 4 1 4 1 3 2 4 1 3 1 4 2 3M926 1290l2-4 1-3 1-4 2-4 1-4 1-4 2-4 1-4 1-3 1-4 2-4 1-4 1-4 2-4 1-4 1-4 2-3 1-4 1-4 2-4 1-3 1-4 1-4 2-3 1-4 1-3 2-4 1-3 1-3 2-3 1-3 1-3 2-3 1-3 1-2 2-3 1-2 1-3 2-2 1-1 1-2 1-2 2-1 1-1 1-1 2-1 1-1 1 0 2-1 1 0 1 1 2 0 1 0 1 1 1 1 2 1 1 1 1 2 2 1 1 2 1 2 2 2 1 2 1 2 2 3 1 2 1 3 2 3 1 2 1 3 2 3 1 3 1 3 1 3 2 3 1 3 1 3 2 3 1 3 1 4 2 3 1 3 1 3 2 3 1 3 1 4 1 3 2 3 1 3 1 3 2 3 1 3 1 3 2 3 1 3 1 3 2 2 1 3 1 3 2 3 1 2 1 3 2 2 1 3 1 2 1 2 2 3 1 2 1 2 2 2M1138 1291l1-1 1-3 2-2 1-2 1-2 2-2 1-2 1-3 1-2 2-2 1-3 1-2 2-2 1-3 1-2 2-3 1-2 1-3 2-2 1-3 1-3 1-2 2-3 1-2 1-3 2-2 1-3 1-2 2-2 1-3 1-2 2-2 1-2 1-2 2-3 1-2 1-1 2-2 1-2 1-2 1-1 2-2 1-1 1-1 2-1 1-1 1-1 2-1 1 0 1-1 2 0 1 0 1 0 1 0 2 0 1 1 1 0 2 1 1 1 1 1 2 1 1 2 1 1 2 2 1 1 1 2 2 2 1 2 1 3 2 2 1 2 1 3 1 2 2 3 1 3 1 3 2 3 1 3 1 3 2 3 1 3 1 3 2 4 1 3 1 4 1 3 2 3 1 4 1 4 2 3 1 4 1 3 2 4 1 4M740 1289l1-4 2-4 1-5 1-4 1-4 2-4 1-4 1-4 2-5 1-4 1-4 2-4 1-5 1-4 2-5 1-4 1-4 2-5 1-4 1-5 2-4 1-5 1-4 1-5 2-4 1-5 1-4 2-5 1-4 1-4 2-5 1-4 1-5 2-4 1-5 1-4 1-4 2-5 1-4 1-4 2-4 1-5 1-4 2-4 1-4 1-3 2-4 1-4 1-3 2-4 1-3 1-3 2-3 1-3 1-2 1-3 2-2 1-2 1-1 2-2 1-1 1-1 2 0 1 0 1 0 2 0 1 1 1 0 1 1 2 2 1 1 1 2 2 2 1 2 1 2 2 2 1 3 1 2 2 3 1 2 1 3 2 3 1 3 1 2 2 3 1 3 1 3 1 3 2 3 1 3 1 2 2 3 1 3 1 3 2 3 1 3 1 2 2 3 1 3 1 3 1 3 2 2 1 3 1 3 2 2 1 3 1 3 2 2 1 3 1 3 2 2 1 3 1 2 2 3 1 2 1 3 2 2 1 3 1 2 1 3 2 2 1 3 1 2 2 2 1 3 1 2 2 3 1 2 1 2 2 3 1 2 1 3 1 2 2 2 1 3 1 2 2 3 1 2 1 2 2 3 1 2 1 3 2 2 1 3 1 2 2 3 1 2 1 3 2 2 1 3 1 2 1 3 2 2 1 3 1 3 2 2 1 3 1 3 2 2 1 3 1 3 2 2 1 3M744 1254l1-3 1-3 2-3 1-3 1-4 2-3 1-3 1-3 2-3 1-3 1-3 2-2 1-3 1-3 2-3 1-3 1-2 2-3 1-3 1-3 1-2 2-3 1-2 1-3 2-2 1-3 1-2 2-3 1-2 1-2 2-3 1-2 1-2 1-2 2-3 1-2 1-2 2-2 1-2 1-2 2-2 1-2 1-2 2-2 1-2 1-2 2-2 1-2 1-1 2-2 1-2 1-2 1-1 2-2 1-2 1-2 2-1 1-2 1-1 2-2 1-1 1-2 2-1 1-2 1-1 1-2 2-1 1-1 1-2 2-1 1-1 1-1 2-1 1-1 1-1 2-1 1-1 1-1 2-1 1 0 1-1 2-1 1 0 1 0 1-1 2 0 1 0 1 0 2 0 1 1 1 0 2 0 1 1 1 1 2 1 1 0 1 2 1 1 2 1 1 1 1 2 2 2 1 1 1 2 2 2 1 2 1 2 2 3 1 2 1 3 2 2 1 3 1 3 2 2 1 3 1 3 1 3 2 3 1 4 1 3 2 3 1 3 1 4 2 3 1 4 1 3 2 4 1 3 1 4 1 4 2 4 1 3 1 4 2 4 1 4 1 3 2 4 1 4 1 4 2 4 1 4 1 4 2 4 1 4 1 4 2 4 1 4 1 4 1 3 2 4 1 4 1 4 2 4 1 4 1 4 2 4 1 4 1 4" stroke="url(#gl2)"/><path d="M802 1290l1-2 1-2 2-2 1-2 1-2 2-2 1-2 1-2 1-1 2-2 1-1 1-1 2-1 1-1 1-1 2-1 1-1 1 0 2-1 1 0 1 0 1 0 2 0 1 0 1 1 2 1 1 0 1 1 2 1 1 2 1 1 2 1 1 2 1 2 2 2 1 2 1 2 2 2 1 2 1 3 1 2M1110 1290l1-2 2-3 1-2 1-3 2-2 1-3 1-2 2-3 1-3 1-3 1-2 2-3 1-3 1-3 2-3 1-3 1-3 2-3 1-4 1-3 2-3 1-4 1-3 2-4 1-3 1-4 2-3 1-4 1-4 1-4 2-4 1-4 1-4 2-4 1-4 1-4 2-4 1-5 1-4 2-4 1-5 1-5 1-4 2-5 1-5 1-5 2-4 1-5 1-5 2-5 1-5 1-6 2-5 1-5 1-5 2-6 1-5 1-5 2-6 1-5 1-5 1-6 2-5 1-5 1-5 2-5 1-4 1-4 2-4 1-3 1-1 2-1 1 1 1 2 1 3 2 4 1 4 1 5 2 5 1 5 1 6 2 5 1 6 1 6 2 6 1 6 1 6 2 6 1 6 1 6 2 7 1 6 1 6 1 6 2 6 1 6 1 6 2 6 1 6 1 6 2 5 1 6 1 6 2 6 1 5 1 6 1 6 2 5 1 6 1 5 2 6 1 5 1 6 2 5 1 5 1 5 2 5 1 5 1 5 2 5 1 5 1 5 2 5 1 5 1 4M1080 1290l1-4 1-4 2-4 1-4 1-4 2-3 1-4 1-4 2-4 1-4 1-4 2-4 1-4 1-4 2-4 1-4 1-4 2-4 1-4 1-4 1-4 2-4 1-4 1-4 2-4 1-4 1-3 2-4 1-4 1-4 2-3 1-4 1-4 1-3 2-4 1-3 1-4 2-3 1-4 1-3 2-3 1-3 1-3 2-3 1-3 1-3 2-3 1-2 1-3 2-2 1-3 1-2 1-2 2-2 1-2 1-2 2-1 1-2 1-1 2-2 1-1 1-1 2-1 1-1 1 0 1-1 2 0 1-1 1 0 2 0 1 0 1 1 2 0 1 0 1 1 2 0 1 1 1 1 2 1 1 0 1 1 2 1 1 2 1 1 1 1 2 1 1 2 1 1 2 1 1 2 1 1 2 2 1 1 1 2 2 1 1 2 1 2 1 1 2 2 1 2 1 1 2 2 1 2 1 2 2 1 1 2 1 2 2 2 1 2 1 2 2 2 1 2 1 1 2 2 1 2 1 2 1 2 2 3 1 2 1 2 2 2 1 2 1 2 2 2 1 3 1 2 2 2 1 2 1 3 1 2 2 2 1 3 1 2 2 3 1 2 1 3 2 2 1 3 1 3 2 2 1 3 1 3 2 2 1 3 1 3 2 3 1 2 1 3 1 3 2 3 1 3 1 3 2 3 1 3 1 3 2 3 1 3 1 3 2 4 1 3 1 3 1 3 2 3 1 4 1 3 2 3 1 3 1 4 2 3M736 1098l1-6 2-5 1-6 1-5 2-6 1-6 1-6 1-5 2-6 1-6 1-6 2-6 1-6 1-6 2-5 1-6 1-5 2-4 1-4 1 0 2 1 1 4 1 5 2 5 1 6 1 6 1 6 2 6 1 7 1 6 2 6 1 7 1 6 2 6 1 7 1 6 2 6 1 7 1 6 1 6 2 6 1 7 1 6 2 6 1 6 1 6 2 6 1 6 1 6 2 6 1 6 1 6 2 5 1 6 1 6 2 5 1 6 1 5 1 6 2 5 1 5 1 6 2 5 1 5 1 5 2 5 1 5 1 5 2 5 1 5 1 5 1 4 2 5M1233 1280l2-3 1-2 1-2 2-2 1-2 1-3 2-2 1-2 1-2 2-2 1-2 1-2 1-2 2-3 1-2 1-2 2-2 1-2 1-2 2-2 1-2 1-2 2-2 1-2 1-2 2-2 1-3 1-2 2-2 1-2 1-2 1-2 2-3 1-2 1-2 2-2 1-3 1-2 2-3 1-2 1-2 2-3 1-2 1-3 1-2 2-3 1-3 1-2 2-3 1-3 1-2 2-3 1-3 1-3 2-3 1-3 1-3 2-3 1-3 1-2 2-3 1-3 1-4 1-3 2-3 1-3 1-3 2-3 1-2 1-3 2-3 1-3 1-3 2-3 1-2 1-3 1-2 2-2 1-2 1-2 2-2 1-2 1-1 2-1 1-1 1-1 2 0 1 0 1 0 2 1 1 1 1 1 2 1 1 2 1 2 1 2 2 3 1 2 1 3 2 3 1 4M936 1291l1-5 1-5 1-4 2-5 1-5 1-5 2-4 1-5 1-5 2-5 1-5 1-5 2-4 1-5 1-5 1-5 2-5 1-5 1-5 2-4 1-5 1-5 2-5 1-4 1-5 2-5 1-4 1-5 2-4 1-5 1-4 2-4 1-5 1-4 1-4 2-4 1-3 1-4 2-3 1-4 1-3 2-3 1-2 1-3 2-2 1-3 1-1 1-2 2-1 1-2 1-1 2 0 1-1 1 0 2 0 1 1 1 0 2 1 1 1 1 1 2 2 1 1 1 2 2 2 1 2 1 2 1 2 2 2 1 3 1 2 2 3 1 2 1 3 2 2 1 3 1 3 2 2 1 3 1 3 1 2 2 3 1 3 1 2 2 3 1 3 1 2 2 3 1 2 1 3 2 3 1 2 1 3 2 2 1 2 1 3 2 2 1 3 1 2 1 2 2 3 1 2 1 2 2 2 1 2 1 3 2 2 1 2 1 2 2 2 1 2 1 2 1 2 2 2 1 2 1 2 2 2 1 2 1 2 2 2 1 3 1 2 2 2 1 2 1 2 2 2 1 2 1 2 2 2 1 2 1 2 1 2 2 2 1 2 1 2 2 3 1 2 1 2 2 2 1 3 1 2 2 2 1 3 1 2 1 2 2 3 1 2 1 3 2 2 1 3M1122 1289l1-4 1-4 2-3 1-4 1-4 2-4 1-4 1-4 2-5 1-4 1-4 2-4 1-5 1-4 2-5 1-4 1-5 2-4 1-5 1-5 1-4 2-5 1-5 1-5 2-5 1-4 1-5 2-5 1-5 1-5 2-6 1-5 1-5 1-5 2-5 1-5 1-6 2-5 1-5 1-6 2-5 1-5 1-6 2-5 1-6 1-5 2-5 1-6 1-5 2-6 1-5 1-6 1-5 2-6 1-5 1-5 2-6 1-5 1-5 2-5 1-5 1-4 2-1 1 1 1 3 1 5 2 4 1 5 1 5 2 5 1 6 1 5 2 5 1 5 1 5 2 5 1 5 1 4 2 5 1 5 1 5 2 5 1 4 1 5 1 5 2 4 1 5 1 4 2 5 1 4 1 5 2 4 1 4 1 4 2 4 1 5 1 4 1 4 2 4 1 3 1 4 2 4 1 4 1 4 2 3 1 4 1 4 2 3 1 4 1 3 2 4 1 3 1 3 2 4 1 3 1 3 1 3 2 3 1 3 1 3 2 3 1 3 1 3 2 3 1 3 1 3 2 3 1 3 1 2 1 3 2 3 1 3 1 2 2 3 1 2 1 3 2 3 1 2 1 3 2 2 1 3 1 2 2 2 1 3 1 2 2 3M736 1268l1-5 2-5 1-5 1-4 2-5 1-5 1-5 1-4 2-5 1-5 1-5 2-4 1-5 1-5 2-5 1-4 1-5 2-5 1-4 1-5 2-4 1-5 1-4 2-4 1-4 1-5 1-4 2-4 1-4 1-3 2-4 1-4 1-3 2-3 1-3 1-3 2-3 1-3 1-2 1-2 2-2 1-2 1-2 2-1 1-1 1-1 2-1 1 0 1 0 2 0 1 0 1 0 2 1 1 1 1 1 2 1 1 1 1 2 1 1 2 2 1 2 1 2 2 2 1 2 1 2 2 3 1 2 1 2 2 2 1 3 1 2 1 3 2 2 1 3 1 2 2 3 1 2 1 2 2 3 1 2 1 3 2 2 1 2 1 3 2 2 1 3 1 2 2 2 1 2 1 3 1 2 2 2 1 2 1 2 2 3 1 2 1 2 2 2 1 2 1 2 2 2 1 2 1 2 1 2 2 2 1 2 1 2 2 2 1 2 1 2 2 2 1 2 1 2 2 2 1 2 1 2 2 2 1 2 1 2 2 2 1 2 1 2 1 2 2 2 1 2 1 2 2 2 1 2 1 3 2 2 1 2 1 2 2 3 1 2 1 2 1 3 2 2 1 2 1 3 2 2 1 3 1 3 2 2 1 3 1 3M1316 1289l1-5 2-4 1-5 1-5 2-5 1-5 1-5 2-5 1-5 1-5 2-6 1-5 1-5 1-6 2-5 1-6 1-5 2-6 1-5 1-6 2-6 1-5 1-6 2-6 1-6 1-6 2-6 1-6 1-6 2-6 1-6 1-6 1-6 2-6 1-6 1-6 2-6 1-6M849 1288l1-4 2-4 1-4 1-4 1-4 2-4 1-4 1-4 2-4 1-4 1-4 2-3 1-4 1-3 2-4 1-3 1-3 1-3 2-3 1-3 1-2 2-3 1-2 1-2 2-2 1-2 1-1 2-2 1-1 1-1 2-1 1-1 1 0 2 0 1 0 1 0 1 0 2 1 1 0 1 1 2 1 1 2 1 1 2 2 1 2 1 1 2 2 1 3 1 2 1 2 2 3 1 2 1 3 2 3 1 3 1 3 2 3 1 3 1 3 2 3 1 3 1 3 2 4 1 3M1039 1290l1-4 2-3 1-4 1-4 2-3 1-4 1-4 2-4 1-4 1-4 2-4 1-4 1-4 2-4 1-4 1-5 2-4 1-4 1-4 1-5 2-4 1-4 1-4 2-5 1-4 1-4 2-4 1-4 1-4 2-4 1-4 1-4 1-3 2-4 1-3 1-3 2-3 1-3 1-3 2-3 1-2 1-2 2-2 1-1 1-1 2-1 1-1 1 0 2 0 1 0 1 1 1 1 2 1 1 1 1 2 2 2 1 3 1 2 2 3 1 3 1 3 2 3 1 4 1 4 1 4 2 3 1 5 1 4 2 4 1 4 1 5 2 4 1 5 1 4 2 5 1 5 1 4 2 5 1 5 1 4 2 5 1 5 1 4 1 5 2 5 1 4 1 5 2 5 1 4 1 5 2 5 1 4 1 5M802 1291l1-4 1-5 2-4 1-5 1-4 2-5 1-5 1-4 1-5 2-5 1-4 1-5 2-5 1-5 1-4 2-5 1-5 1-4 2-5 1-5 1-4 1-5 2-4 1-5 1-4 2-4 1-4 1-4 2-4 1-4 1-4 2-3 1-3 1-4 2-2 1-3 1-3 2-2 1-2 1-1 1-2 2-1 1-1 1 0 2 0 1 0 1 0 2 1 1 1 1 1 2 2 1 2 1 2 1 2 2 3 1 3 1 3 2 3 1 3 1 4 2 3 1 4 1 4 2 4 1 4 1 4 2 4 1 4 1 4 2 5 1 4 1 4 1 4 2 5 1 4 1 4 2 4 1 5 1 4 2 4 1 4 1 4 2 4 1 4 1 4 1 4 2 4 1 4 1 4 2 4 1 3 1 4 2 3 1 4M1017 1291l1-3 2-3 1-3 1-3 1-3 2-4 1-3 1-3 2-3 1-4 1-3 2-3 1-3 1-3 2-3 1-4 1-3 1-3 2-3 1-2 1-3 2-3 1-3 1-2 2-3 1-2 1-2 2-2 1-2 1-2 2-2 1-1 1-2 2-1 1-1 1-1 1 0 2-1 1 0 1 0 2 0 1 0 1 1 2 0 1 1 1 1 2 2 1 1 1 2 1 2 2 2 1 2 1 2 2 3 1 3 1 2 2 3 1 3 1 3 2 4 1 3 1 4 2 3 1 4 1 4 2 3 1 4 1 4 1 4 2 4 1 4 1 4 2 4 1 5 1 4M736 1172l1 5 2 5 1 5 1 5 2 4 1 5 1 4 1 5 2 4 1 5 1 4 2 5 1 4 1 4 2 4 1 4 1 4 2 4 1 4 1 4 2 4 1 4 1 4 2 3 1 4 1 3 1 4 2 3M1222 1292l1-3 1-3 2-3 1-3 1-2 2-3 1-3 1-3 1-3 2-3 1-3 1-3 2-4 1-3 1-3 2-3 1-4 1-3 2-3 1-4 1-3 1-4 2-3 1-4 1-4 2-3 1-4 1-4 2-4 1-4 1-3 2-4 1-4 1-5 2-4 1-4 1-4 2-4 1-5 1-4 1-4 2-5 1-4 1-5 2-4 1-5 1-5 2-4 1-5 1-5 2-4 1-5 1-5 1-5 2-5 1-5 1-5 2-4 1-5 1-5 2-5 1-5 1-5 2-4 1-5 1-4 2-5 1-4 1-3 2-3 1-3 1-2 1-1 2 1 1 1 1 2 2 2 1 4 1 3 2 5 1 4 1 5 2 4 1 5 1 5 1 5 2 6 1 5 1 5 2 5 1 6 1 5 2 5 1 5 1 6 2 5 1 5 1 5 2 6 1 5 1 5 2 5 1 5 1 5 1 5 2 5 1 5 1 5 2 5 1 5M736 1198l1-3 2-3 1-4 1-3 2-4 1-3 1-4 1-3 2-4 1-3 1-4 2-4 1-4 1-3 2-4 1-4 1-4 2-4 1-4 1-4 2-5 1-4 1-4 2-4 1-5 1-4 1-4 2-5 1-4 1-5 2-5 1-4 1-5 2-5 1-4 1-5 2-5 1-5 1-5 1-5 2-5 1-4 1-5 2-5 1-5 1-5 2-4 1-4 1-4 2-2 1 0 1 2 2 4 1 4 1 5 2 4 1 5 1 6 1 5 2 5 1 5 1 6 2 5 1 5 1 6 2 5 1 6 1 5 2 5 1 6 1 5 1 5 2 6 1 5 1 5 2 6 1 5 1 5 2 5 1 5 1 6 2 5 1 5 1 5 2 5 1 5 1 5 2 5 1 5 1 5 1 4 2 5 1 5 1 5 2 4 1 5 1 5 2 4 1 5 1 4 2 4 1 5 1 4 1 4 2 5 1 4 1 4 2 4 1 4 1 4 2 4 1 4 1 4 2 3M1321 1287l2-2 1-2 1-3 2-2 1-3 1-2 2-3 1-2 1-3 1-2 2-3 1-2 1-3 2-2 1-3 1-3 2-2 1-3 1-3 2-3 1-2 1-3 2-3 1-3 1-3 2-3 1-3 1-3 1-3 2-3 1-3 1-4 2-3 1-3M736 1267l1 2 2 3 1 3 1 2 2 3 1 2 1 3 1 2 2 2 1 3M821 1291l2-2 1-2 1-2 2-2 1-2 1-2 1-2 2-2 1-3 1-2 2-2 1-2 1-3 2-2 1-2 1-3 2-2 1-2 1-2 2-3 1-2 1-2 2-2 1-2 1-3 1-2 2-2 1-2 1-1 2-2 1-2 1-2 2-1 1-2 1-1 2-2 1-1 1-1 1-1 2-1 1-1 1-1 2 0 1-1 1 0 2-1 1 0 1 0 2 0 1 1 1 0 2 1 1 0 1 1 2 1 1 1 1 2 1 1 2 1 1 2 1 2 2 1 1 2 1 2 2 3 1 2 1 2 2 3 1 2 1 3 1 2 2 3 1 3 1 3 2 3 1 3 1 3 2 3 1 3 1 4 2 3 1 3 1 4 2 3 1 3 1 4M1227 1289l1-4 2-4 1-4 1-4 1-3 2-4 1-4 1-4 2-4 1-4 1-4 2-4 1-4 1-4 2-4 1-4 1-4 1-4 2-4 1-4 1-4 2-4 1-4 1-4 2-4 1-3 1-4 2-4 1-4 1-3 2-4 1-3 1-4 2-3 1-3 1-4 1-3 2-2 1-3 1-3 2-2 1-3 1-2 2-2 1-2 1-1 2-1 1-2 1-1 1 0 2-1 1 0 1 0 2 0 1 1 1 0 2 1 1 1 1 1 2 2 1 1 1 2 2 2 1 3 1 2 2 2 1 3 1 3 1 2 2 3 1 3 1 3 2 4 1 3 1 3 2 3 1 4 1 3 2 4 1 3 1 4 1 3 2 4 1 3 1 4 2 3 1 4 1 3 2 4 1 3 1 3 2 4 1 3 1 4 2 3 1 3 1 3 2 3 1 4 1 3 1 3 2 3 1 3 1 3 2 2 1 3M736 1108l1 5 2 6 1 5 1 5 2 6 1 5 1 5 1 6 2 5 1 5 1 6 2 5 1 5 1 5 2 5 1 6 1 5 2 5 1 5 1 5 2 4 1 5 1 5 2 5 1 5 1 4 1 5 2 4 1 5 1 4 2 5 1 4 1 4 2 5 1 4 1 4 2 4M1054 1288l1-5 1-4 2-4 1-4 1-4 2-5 1-4 1-4 1-4 2-4 1-4 1-3 2-4 1-4 1-3 2-4 1-3 1-3 2-3 1-3 1-3 1-3 2-3 1-2 1-2 2-2 1-2 1-2 2-1 1-2 1-1 2-1 1-1 1 0 2 0 1 0 1 0 2 0 1 1 1 0 1 1 2 1 1 2 1 1 2 2 1 2 1 2 2 2 1 2 1 2 2 3 1 3 1 2 1 3 2 3 1 3 1 3 2 3 1 3 1 3 2 4 1 3 1 3 2 3 1 4M1247 1289l1-4 1-3 1-4 2-3 1-4 1-4 2-4 1-3 1-4 2-4 1-4 1-4 2-4 1-4 1-4 2-4 1-4 1-5 2-4 1-4 1-4 1-4 2-4 1-4 1-4 2-4 1-4 1-4 2-3 1-4 1-4 2-3 1-4 1-3 1-3 2-3 1-2 1-3 2-2 1-2 1-2 2-2 1-1 1-1 2-1 1-1 1 0 2 0 1 0 1 1 2 1 1 1 1 1 1 2 2 2 1 2 1 3 2 2 1 3 1 3 2 3 1 4 1 3 2 4 1 4 1 4 1 4 2 4 1 4 1 5 2 4 1 4 1 5 2 4 1 5 1 4 2 5 1 5 1 4 2 5 1 4 1 5 2 5 1 4 1 5 1 5 2 4 1 5 1 4 2 5 1 4M838 1279l2-2 1-3 1-2 2-2 1-3 1-2 2-2 1-2 1-2 2-3 1-2 1-2 1-2 2-2 1-2 1-2 2-2 1-2 1-2 2-2 1-2 1-2 2-2 1-2 1-2 1-2 2-3 1-2 1-2 2-2 1-2 1-2 2-2 1-2 1-2 2-2 1-3 1-2 2-2 1-2 1-2 2-3 1-2 1-2 1-3 2-2 1-3 1-2 2-3 1-2 1-3 2-2 1-3 1-2 2-3 1-3 1-2 1-3 2-3 1-2 1-3 2-3 1-3 1-3 2-2 1-3 1-3 2-3 1-2 1-3 2-3 1-2 1-3 2-3 1-2 1-2 1-3 2-2 1-2 1-2 2-2 1-1 1-2 2-1 1-1 1-1 2-1 1 0 1 0 1 0 2 0 1 1 1 1 2 1 1 1 1 2 2 2 1 2 1 2 2 3 1 3 1 3 2 3 1 3 1 4 2 4 1 3 1 4 1 4 2 5 1 4 1 4 2 5 1 4 1 5 2 4 1 5 1 5 2 4 1 5 1 5 1 5 2 5 1 4 1 5 2 5 1 5 1 5 2 5 1 5 1 5 2 4 1 5 1 5 2 5 1 5 1 5 2 5 1 4 1 5 1 5 2 4 1 5M779 1291l2-4 1-4 1-3 2-4 1-4 1-4 1-4 2-3 1-4 1-4 2-4 1-3 1-4 2-4 1-4 1-3 2-4 1-4 1-3 2-4 1-4 1-3 2-4 1-3 1-4 1-3 2-4 1-3 1-4 2-3 1-3 1-4 2-3 1-3 1-3 2-3 1-3 1-3 1-3 2-3 1-3 1-3 2-2 1-3 1-3 2-2 1-3 1-2 2-2 1-2 1-3 2-2 1-2 1-1 2-2 1-2 1-2 1-1 2-2 1-1 1-1 2-2 1-1 1-1 2-1 1-1 1-1 2 0 1-1 1-1 1 0 2 0 1-1 1 0 2 0 1 0 1-1 2 0 1 1 1 0 2 0 1 0 1 0 2 1 1 0 1 1 2 0 1 1 1 0 1 1 2 1 1 1 1 0 2 1 1 1 1 1 2 1 1 1 1 1 2 1 1 2 1 1 1 1 2 1 1 2 1 1 2 1 1 2 1 1 2 2 1 2 1 1 2 2 1 2 1 1 2 2 1 2 1 2 2 2 1 2 1 2 1 2 2 2 1 3 1 2 2 2 1 2 1 3 2 2 1 3 1 2 2 3 1 2 1 3 1 3 2 2 1 3 1 3 2 3 1 3 1 3 2 3 1 3 1 3 2 3 1 3 1 3 2 3 1 3 1 3 2 4 1 3 1 3 1 3 2 4 1 3 1 3 2 4 1 3 1 4 2 3 1 4 1 3 2 4 1 3 1 4 1 3 2 4 1 3 1 4M736 1278l1-2 2-3 1-2 1-3 2-3 1-2 1-3 1-3 2-3 1-3 1-2 2-3 1-3 1-3 2-3 1-3 1-3 2-4 1-3 1-3 2-3 1-3 1-3 2-3 1-3 1-3 1-3 2-3 1-3 1-3 2-3 1-3 1-3 2-3 1-2 1-3 2-2 1-3 1-2 1-2 2-3 1-2 1-1 2-2 1-2 1-1 2-1 1-1 1-1 2-1 1-1 1 0 2 0 1 0 1 0 2 0 1 1 1 1 1 1 2 1 1 1 1 2 2 1 1 2 1 2 2 2 1 3 1 2 2 3 1 2 1 3 1 3 2 3 1 3 1 3 2 3 1 4 1 3 2 3 1 4 1 4 2 3 1 4 1 4 2 3 1 4 1 4 2 4 1 3 1 4 1 4 2 4 1 4 1 4 2 4 1 3 1 4 2 4 1 4 1 4 2 4 1 3M1164 1289l1-3 1-4 2-4 1-3 1-4 2-4 1-3 1-4 2-3 1-4 1-3 2-4 1-3 1-3 2-3 1-4 1-3 2-3 1-3 1-3 1-3 2-2 1-3 1-2 2-3 1-2 1-3 2-2 1-2 1-2 2-1 1-2 1-1 1-2 2-1 1-1 1-1 2-1 1 0 1-1 2 0 1 0 1 0 2 0 1 0 1 1 2 0 1 1 1 1 2 1 1 1 1 1 1 2 2 1 1 2 1 1 2 2 1 2 1 2 2 2 1 2 1 2 2 2 1 3 1 2 1 2 2 3 1 2 1 3 2 2 1 3 1 2 2 3 1 3 1 2 2 3 1 2 1 3 2 3 1 2 1 3 2 2 1 3 1 2 1 3 2 2 1 2 1 3 2 2 1 2 1 2 2 3 1 2 1 2 2 2 1 2M1357 1291l1-2 1-3 2-2 1-2 1-2 2-3 1-2M846 1291l2-3 1-4 1-3 2-3 1-4 1-3 1-4 2-3 1-4 1-3 2-4 1-4 1-4 2-3 1-4 1-4 2-4 1-4 1-4 1-4 2-4 1-4 1-4 2-4 1-4 1-5 2-4 1-4 1-4 2-5 1-4 1-4 2-5 1-4 1-5 2-4 1-5 1-4 1-5 2-4 1-4 1-5 2-4 1-5 1-4 2-4 1-5 1-4 2-4 1-4 1-4 1-4 2-3 1-4 1-3 2-3 1-3 1-2 2-2 1-2 1-2 2-1 1 0 1 0 2 0 1 0 1 1 2 2 1 2 1 2 1 2 2 3 1 3 1 3 2 4 1 3 1 4 2 4 1 4 1 5 2 4 1 4 1 5 1 4 2 5 1 4 1 5 2 4 1 5 1 4 2 5 1 5 1 4 2 5 1 4 1 5 2 4 1 5 1 4 2 5 1 4 1 4 1 5 2 4 1 4 1 4 2 4 1 5 1 4 2 4 1 4 1 3 2 4 1 4 1 4 1 3 2 4 1 4 1 3 2 3 1 4 1 3 2 3 1 4 1 3 2 3 1 3 1 3M1117 1291l1-1 1-2 2-2 1-1 1-2 1-2 2-1 1-2 1-1 2-1 1-2 1-1 2-1 1-1 1-2 2-1 1-1 1 0 2-1 1-1 1 0 2-1 1 0 1-1 1 0 2 0 1 0 1 0 2 0 1 0 1 1 2 0 1 1 1 1 2 0 1 1 1 1 1 1 2 2 1 1 1 1 2 2 1 1 1 2 2 2 1 2 1 2 2 2 1 2 1 2M1022 1290l1-3 2-2 1-3 1-2 2-3 1-3 1-2 2-3 1-3 1-2 2-3 1-3 1-3 1-3 2-3 1-3 1-3 2-3 1-3 1-3 2-3 1-3 1-3 2-4 1-3 1-3 2-4 1-3 1-4 2-3 1-4 1-3 1-4 2-4 1-3 1-4 2-4 1-4 1-4 2-4 1-4 1-4 2-4 1-4 1-4 1-5 2-4 1-4 1-5 2-4 1-5 1-4 2-5 1-4 1-5 2-5 1-5 1-4 2-5 1-5 1-5 2-5 1-5 1-5 1-5 2-6 1-5 1-5 2-5 1-5 1-5 2-6 1-5 1-5 2-5 1-4 1-4 1-2 2 0 1 4 1 4 2 5 1 5 1 5 2 6 1 5 1 6 2 5 1 6 1 5 2 6 1 5 1 6 2 5 1 6 1 5 1 6 2 5 1 6 1 5 2 6 1 5 1 5 2 6 1 5 1 5 2 5 1 6 1 5 1 5 2 5 1 5 1 5 2 5 1 5 1 5 2 5 1 4 1 5 2 5 1 5 1 4 2 5 1 4 1 5 2 4 1 5 1 4 1 4 2 5 1 4 1 4 2 4 1 4 1 4 2 4 1 4 1 4 2 3 1 4 1 4 1 3M904 1292l1-3 2-3 1-2 1-3 2-3 1-3 1-3 1-3 2-3 1-3 1-3 2-4 1-3 1-3 2-4 1-3 1-4 2-3 1-4 1-3 2-4 1-4 1-4 2-4 1-4 1-4 1-4 2-4 1-4 1-5 2-4 1-4 1-5 2-4 1-5 1-5 2-5 1-4 1-5 1-5 2-5 1-5 1-6 2-5 1-5 1-5 2-6 1-5 1-6 2-5 1-6 1-6 2-5 1-6 1-6 2-6 1-6 1-6 1-6 2-6 1-6 1-6 2-6 1-5 1-6 2-5 1-4 1-2 2 1 1 4 1 5 1 5 2 6 1 6 1 7 2 6 1 6 1 7 2 6 1 6 1 7 2 6 1 7 1 6 2 6 1 7 1 6 2 6 1 7 1 6 1 6 2 6 1 6 1 6 2 7 1 6 1 5 2 6 1 6 1 6 2 6 1 6 1 5 1 6 2 5 1 6 1 5 2 6 1 5 1 5 2 6 1 5 1 5 2 5 1 5 1 5 2 5 1 5 1 4 2 5 1 5M844 1279l1-3 1-2 2-3 1-2 1-3 2-2 1-3 1-2 1-3 2-2 1-2 1-3 2-2 1-3 1-2 2-2 1-3 1-2 2-3 1-2 1-3 1-2 2-2 1-3 1-2 2-3 1-2 1-3 2-2 1-3 1-2 2-3 1-2 1-3 2-3 1-2 1-3 2-3 1-2 1-3 1-3 2-3 1-2 1-3 2-3 1-3 1-3 2-3 1-3 1-3 2-3 1-3 1-3 1-3 2-3 1-3 1-3 2-3 1-4 1-3 2-3 1-4 1-3 2-3 1-4 1-3 2-3 1-4 1-3 2-4 1-3 1-3 1-4 2-3 1-4 1-3 2-3 1-3 1-3 2-3 1-3 1-3 2-3 1-2 1-2 1-2 2-2 1-1 1-1 2 0 1 0 1 0 2 1 1 1 1 1 2 2 1 2 1 3 2 2 1 4 1 3 2 3 1 4 1 4 1 4 2 4 1 4 1 4 2 4 1 5 1 4 2 5 1 4 1 5 2 4 1 5 1 5 1 4 2 5 1 5 1 4 2 5 1 5 1 5 2 4 1 5 1 5 2 4 1 5 1 5 2 4 1 5 1 5 2 4 1 5 1 5 1 4 2 5 1 4 1 5 2 4 1 4 1 5 2 4 1 4 1 5 2 4 1 4 1 4 1 5 2 4 1 4 1 4 2 4 1 4M736 1225l1 3 2 4 1 3 1 3 2 3 1 3 1 3 1 3 2 3 1 3 1 3 2 3 1 3 1 2 2 3 1 3 1 3 2 2 1 3 1 3 2 2 1 3 1 2M1210 1289l1-4 1-3 2-4 1-4 1-4 2-4 1-4 1-4 2-4 1-4 1-4 2-4 1-4 1-5 2-4 1-4 1-5 1-4 2-5 1-4 1-5 2-5 1-5 1-4 2-5 1-5 1-5 2-5 1-5 1-5 1-5 2-5 1-5 1-5 2-5 1-6 1-5 2-5 1-6 1-5 2-5 1-6 1-5 2-6 1-5 1-6 2-5 1-5 1-6 1-5 2-6 1-5 1-6 2-5 1-6 1-5 2-5 1-5 1-5 2-5 1-4 1-3 1-1 2 1 1 3 1 4 2 4 1 5 1 5 2 5 1 5 1 5 2 5 1 5 1 5 2 5 1 5 1 5 2 6 1 5 1 4 1 5 2 5 1 5 1 5 2 5 1 4 1 5 2 5 1 4 1 5 2 4 1 5 1 4 1 5 2 4 1 4 1 5 2 4 1 4 1 4 2 4 1 4 1 4 2 4 1 4 1 3 2 4 1 4 1 3 2 4 1 4 1 3 1 4 2 3 1 3 1 4 2 3 1 3M870 1292l1-1 1 0 2 0 1 0 1 0 2 0 1 0 1 0 2 1M1020 1292l1-4 1-3 1-4 2-3 1-4 1-3 2-4 1-4 1-4 2-4 1-3 1-4 2-4 1-5 1-4 1-4 2-4 1-5 1-4 2-4 1-5 1-4 2-5 1-4 1-5 2-5 1-5 1-4 2-5 1-5 1-5 2-5 1-5 1-5 1-5 2-5 1-5 1-5 2-5 1-5 1-6 2-5 1-5 1-5 2-5 1-6 1-5 1-5 2-5 1-5 1-5 2-5 1-5 1-5 2-5 1-4 1-5 2-4 1-3 1-3 2-3 1-2 1-1 2-1 1 1 1 1 1 2 2 3 1 3 1 3 2 4 1 4 1 5 2 4 1 5 1 5 2 4 1 5 1 5 1 5 2 5 1 5 1 4 2 5 1 5 1 5 2 5 1 4 1 5 2 5 1 4 1 5 2 5 1 4 1 5 2 4 1 4 1 5 1 4 2 4 1 5 1 4 2 4 1 4 1 4 2 4 1 4 1 4 2 4 1 4 1 4 1 3 2 4 1 4 1 3 2 4 1 3 1 4 2 3 1 4 1 3 2 3 1 4 1 3 2 3 1 3 1 3 2 3 1 4 1 3 1 2 2 3 1 3 1 3 2 3 1 3M736 1192l1 3 2 3 1 2 1 3 2 4 1 3 1 3 1 3 2 3 1 4 1 3 2 4 1 3 1 4 2 3 1 4 1 4 2 3 1 4 1 4 2 4 1 3 1 4 2 4 1 4 1 4 1 4 2 4M1148 1291l1-5 2-5 1-5 1-4 2-5 1-5 1-5 2-4 1-5 1-5 2-5 1-5 1-5 1-4 2-5 1-5 1-5 2-5 1-5 1-5 2-4 1-5 1-5 2-5 1-4 1-5 2-4 1-5 1-5 2-4 1-4 1-5 1-4 2-4 1-4 1-4 2-3 1-4 1-4 2-3 1-3 1-3 2-3 1-2 1-3 1-2 2-2 1-1 1-2 2-1 1-1 1 0 2-1 1 0 1 0 2 1 1 0 1 1 2 1 1 1 1 1 2 2 1 2 1 2 1 2 2 2 1 2 1 2 2 3 1 2 1 2 2 3 1 3 1 2 2 3 1 3 1 2 1 3 2 3 1 2 1 3 2 3 1 2 1 3 2 3 1 2 1 3 2 3 1 2 1 3 2 2 1 3 1 2 2 3 1 2 1 2 1 3 2 2 1 2 1 3 2 2 1 2 1 2 2 3 1 2 1 2 2 2 1 2 1 2 1 2 2 2 1 2 1 3 2 2 1 2 1 2 2 2 1 2 1 2 2 2 1 2 1 2 2 2 1 2 1 2 2 2 1 2 1 2 1 2 2 2 1 2 1 2 2 2 1 3 1 2 2 2 1 2 1 3 2 2 1 2 1 2 1 3 2 2 1 3 1 2 2 3 1 2 1 3M810 1290l1-3 1-4 1-4 2-4 1-4 1-5 2-4 1-4 1-4 2-4 1-5 1-4 2-4 1-5 1-4 1-5 2-4 1-5 1-5 2-4 1-5 1-5 2-5 1-4 1-5 2-5 1-5 1-5 2-5 1-5 1-5 2-5 1-5 1-5 1-5 2-5 1-5 1-5 2-5 1-5 1-5 2-6 1-5 1-5 2-5 1-5 1-5 1-5 2-5 1-5 1-5 2-5 1-4 1-5 2-4 1-5 1-4 2-4 1-3 1-3 2-2 1-2 1-1 2 0 1 1 1 1 1 2 2 3 1 3 1 4 2 3 1 4 1 4 2 5 1 4 1 4 2 4 1 5 1 4 1 4 2 4 1 5 1 4 2 4 1 4 1 5 2 4 1 4 1 4 2 4 1 4 1 4 2 4 1 4 1 4 2 3 1 4 1 4 1 3 2 4 1 4 1 3 2 4 1 3 1 4 2 3 1 3 1 4 2 3 1 3 1 3 1 3 2 4 1 3 1 3 2 3 1 3 1 3 2 3 1 2 1 3 2 3 1 3 1 3 2 2 1 3 1 3 2 2 1 3 1 3 1 2 2 3 1 2 1 3 2 2 1 3 1 2 2 3 1 2 1 3 2 2 1 3 1 2 1 2 2 3 1 2 1 3 2 2 1 2 1 3 2 2 1 2 1 3M777 1290l1-4 1-4 2-4 1-4 1-3 2-4 1-4 1-4 1-3 2-4 1-3 1-4 2-3 1-4 1-3 2-4 1-3 1-3 2-3 1-3 1-3 2-3 1-3 1-3 2-3 1-3 1-3 1-2 2-3 1-2 1-3 2-2 1-2 1-3 2-2 1-2 1-2 2-2 1-1 1-2 1-2 2-2 1-1 1-2 2-1 1-1 1-2 2-1 1-1 1-1 2-1 1-1 1-1 2-1 1-1 1-1 2 0 1-1 1-1 1 0 2-1 1 0 1-1 2 0 1-1 1 0 2-1 1 0 1 0 2-1 1 0 1 0 1 0 2-1 1 0 1 0 2 0 1 0 1-1 2 0 1 0 1 0 2 0 1 0 1 0 2 0 1 0 1 0 2 0 1 0 1 0 1 1 2 0 1 0 1 0 2 1 1 0 1 1 2 0 1 1 1 0 2 1 1 1 1 1 1 0 2 1 1 1 1 1 2 2 1 1 1 1 2 2 1 1 1 2 2 1 1 2 1 2 2 2 1 2 1 2 2 2 1 2 1 3 1 2 2 2 1 3 1 3 2 2 1 3 1 3 2 3 1 3 1 3 2 3 1 3 1 4 1 3 2 3 1 4 1 3 2 4 1 3 1 4 2 3 1 4 1 4 2 4 1 3 1 4 2 4 1 4 1 4 2 4 1 4 1 4 1 4M1357 1292l1-5 1-5 2-4 1-5 1-5 2-5 1-4M1105 1288l1-5 1-5 2-4 1-5 1-5 2-5 1-5 1-5 2-5 1-6 1-5 2-5 1-6 1-5 1-5 2-6 1-6 1-5 2-6 1-5 1-6 2-6 1-6 1-6 2-6 1-6 1-5 2-6 1-7 1-6 2-6 1-6 1-6 1-6 2-6 1-6 1-7 2-6 1-6 1-6 2-6 1-6 1-6 2-6 1-6 1-5 1-5 2-5 1-5 1-4 2-3 1-1 1-1 2 1 1 3 1 3 2 4 1 5 1 5 2 5 1 5 1 5 2 6 1 5 1 6 1 5 2 6 1 5 1 6 2 5 1 5 1 6 2 5 1 5 1 5 2 6 1 5 1 5 1 5 2 4 1 5 1 5 2 5 1 4 1 5 2 4 1 5 1 4 2 4 1 5 1 4 2 4 1 4 1 4 2 4 1 4 1 4 1 3 2 4 1 4 1 3 2 4 1 3 1 4 2 3 1 3 1 4 2 3 1 3 1 3 1 3 2 3 1 3 1 3 2 3 1 2 1 3 2 3 1 2 1 3 2 3 1 2 1 3 2 2M979 1291l1-3 1-3 2-4 1-3 1-3 2-3 1-3 1-3 2-4 1-3 1-4 2-3 1-3 1-4 1-4 2-3 1-4 1-3 2-4 1-4 1-4 2-4 1-4 1-4 2-4 1-4 1-4 2-4 1-4 1-4 2-4 1-5 1-4 1-4 2-5 1-4 1-5 2-4 1-5 1-4 2-5 1-4 1-5 2-5 1-4 1-5 1-5 2-4 1-5 1-4 2-5 1-5 1-4 2-5 1-4 1-5 2-4 1-4 1-4 2-3 1-4 1-3 2-3 1-3 1-2 1-1 2-1 1 0 1 0 2 0 1 2 1 2 2 2 1 3 1 3 2 3 1 4 1 4 1 4 2 4 1 5 1 5 2 4 1 5 1 5 2 5 1 4 1 5 2 5 1 5 1 5 2 5 1 5 1 5 2 5 1 5 1 5 1 5 2 4 1 5 1 5 2 5 1 5 1 4 2 5 1 4 1 5 2 4 1 5 1 4 1 5 2 4 1 4 1 5 2 4 1 4 1 4 2 4 1 4 1 4 2 4 1 3 1 4 2 4 1 3 1 4 2 3 1 4 1 3 1 4 2 3 1 3M1270 1292l2-2 1-1 1-1 1-1 2-1 1-1 1-1 2-1 1-1 1-1 2 0 1-1 1 0 2-1 1 0 1 0 1 0 2 0 1 0 1 0 2 1 1 0 1 0 2 1 1 1 1 1 2 0 1 1 1 2 2 1 1 1 1 1 2 2" stroke="url(#gl3)"/><defs><path id="nac4" d="M956 1288l2-4 1-4 1-4 2-4 1-4M1090 1271l2 4 1 5 1 4 2 4 1 4M1210 1291l1-2 1-3 2-2 1-2 1-2 2-3 1-2 1-2 2-2 1-1 1-2M1258 1268l2 2 1 2 1 2 2 3 1 2 1 3 2 2 1 3 1 3M802 1290l1-2 1-2 2-2 1-2 1-2 2-2 1-2 1-2 1-1 2-2 1-1 1-1 2-1M841 1269l1 1 2 1 1 2 1 2 2 2 1 2 1 2 2 2 1 2 1 3 1 2M1110 1290l1-2 2-3 1-2 1-3 2-2 1-3 1-2 2-3M1269 1270l1 5 2 5 1 5 1 4M773 1290l1-3 1-3 2-4 1-3 1-3 2-3 1-3M953 1292l1-3 1-2 1-3 2-2 1-3 1-3 2-3 1-2 1-3M1101 1269l1 4 2 4 1 3 1 4 1 4 2 3M1080 1290l1-4 1-4 2-4 1-4 1-4M1292 1268l2 3 1 4 1 3 2 3 1 3 1 4 2 3M736 1282l1 2 2 3 1 2M858 1291l1-4 2-4 1-4 1-5 2-4M993 1268l2 4 1 4 1 4 1 4 2 3 1 4M1268 1290l1-4 1-4 2-4 1-4 1-4M827 1271l1 5 1 5 1 4 2 5M1233 1280l2-3 1-2 1-2 2-2 1-2M865 1269l1 3 1 3 2 3 1 3 1 3 1 3 2 2M966 1290l1-2 1-2 2-2 1-1 1-2 2-2 1-2 1-2 2-2 1-2 1-1 1-2M1037 1268l1 2 1 2 1 3 2 2 1 3 1 2 2 3 1 2 1 3M1341 1289l1-3 2-4 1-3 1-4 2-3 1-4M788 1269l2 3 1 4 1 3 2 4 1 3 1 3M1089 1290l1-2 2-2 1-2 1-3 2-2 1-2 1-1 2-2 1-2 1-1 2-2 1-1M1139 1268l1 1 2 1 1 2 1 1 2 2 1 1 1 2 1 1 2 2M1258 1292l2-3 1-3 1-3 2-3 1-3 1-4 2-3M936 1291l1-5 1-5 1-4 2-5M1118 1268l1 2 2 2 1 3 1 2 1 2 2 3 1 2 1 3 2 2 1 3M827 1289l1-5 1-4 1-5 2-5M975 1268l1 3 2 3 1 3 1 3 1 2 2 3 1 3 1 3M1243 1292l1-3 1-3 2-3 1-3 1-2 1-3 2-2 1-3 1-2M1294 1269l1 2 1 2 2 2 1 2 1 2 2 3 1 2M1122 1289l1-4 1-4 2-3 1-4 1-4M1302 1268l1 2 1 3 2 2 1 3 1 2 2 2 1 3 1 2 2 3M836 1290l1-4 1-4 2-4 1-4 1-3M958 1268l1 3 1 2 2 2 1 3 1 2 2 2 1 2 1 3 2 2 1 2M1037 1292l1-2 1-2 1-2 2-3 1-2 1-2 2-2 1-3 1-2 2-3M1164 1271l1 3 1 4 2 4 1 4 1 3M914 1268l2 2 1 2 1 3 2 2 1 3 1 3 2 2 1 3 1 3M1316 1289l1-5 2-4 1-5 1-5M1004 1289l1-3 1-4 2-3 1-4 1-4 2-3M1219 1268l1 4 2 4 1 4 1 3 2 4 1 4M844 1291l1-3 1-3 2-3 1-4 1-3 2-3 1-4M1006 1268l2 3 1 3 1 4 2 3 1 3 1 3 2 3M1308 1292l2-2 1-2 1-1 2-2 1-1 1-1 1-1 2-1 1-1 1-1 2-1 1-1 1 0 2-1 1 0 1 0 2 0 1 0 1 0 1 0 2 0 1 0 1 1 2 0 1 1 1 1 2 0 1 1 1 1 2 1 1 1 1 1 2 1 1 2 1 1M897 1290l2-3 1-2 1-3 2-2 1-2 1-3 2-2 1-1 1-2 2-2M939 1268l2 2 1 1 1 2 2 2 1 2 1 2 2 2 1 2 1 2 2 2M1071 1289l1-4 1-4 2-5 1-4 1-4M1205 1268l1 4 1 4 1 4 2 4 1 4 1 4M806 1269l1 3 1 3 2 3 1 3 1 3 1 3 2 3M1107 1290l2-4 1-4 1-3 2-4 1-4M1253 1269l1 3 2 3 1 3 1 2 2 3 1 3 1 2 2 3M1345 1290l1-2 2-2 1-2 1-2 2-2 1-2 1-2 2-2 1-2 1-3M937 1289l1-4 1-4 2-5 1-4 1-4M1132 1268l2 3 1 2 1 2 2 3 1 2 1 3 2 2 1 3 1 2M802 1270l1 4 1 4 2 3 1 4 1 3 2 4M1101 1291l1-3 2-2 1-3 1-3 1-3 2-2 1-3 1-2 2-2M1173 1269l1 2 2 2 1 2 1 2M1277 1290l1-3 1-2 2-3 1-3 1-3 2-3 1-3M849 1288l1-4 2-4 1-4 1-4 1-4M1039 1290l1-4 2-3 1-4 1-4 2-3 1-4M1156 1271l1 5 2 5 1 4 1 5M802 1291l1-4 1-5 2-4 1-5 1-4M917 1269l1 4 2 4 1 3 1 4 2 3 1 4M1017 1291l1-3 2-3 1-3 1-3 1-3 2-4 1-3M1109 1270l1 4 1 4 2 4 1 5 1 4M762 1268l2 3 1 3 1 3 2 3 1 3 1 3 1 3 2 3M1182 1289l2-4 1-4 1-4 2-5 1-4M765 1268l1 4 2 3 1 4 1 3 1 4 2 3M1222 1292l1-3 1-3 2-3 1-3 1-2 2-3 1-3 1-3M740 1269l1 4 2 5 1 5 1 4 1 5M1016 1291l1-5 1-4 2-5 1-4 1-5M1130 1269l1 3 1 4 2 4 1 3 1 4 2 3M1230 1291l1-4 1-3 1-3 2-3 1-3 1-3 2-4M1323 1270l1 5 1 4 2 4 1 4 1 4M879 1271l1 4 2 4 1 4 1 4 2 3M1321 1287l2-2 1-2 1-3 2-2 1-3 1-2 2-3 1-2M737 1269l2 3 1 3 1 2 2 3 1 2 1 3 1 2 2 2 1 3M821 1291l2-2 1-2 1-2 2-2 1-2 1-2 1-2 2-2 1-3 1-2 2-2M925 1268l1 4 2 3 1 3 1 4 2 3 1 3 1 4M1227 1289l1-4 2-4 1-4 1-4 1-3M1051 1279l1-2 2-2 1-3 1-2 2-2M1231 1268l1 5 1 5 2 4 1 5 1 5M778 1268l1 4 2 5 1 4 1 4 2 4M1054 1288l1-5 1-4 2-4 1-4M1247 1289l1-4 1-3 1-4 2-3 1-4M1359 1268l2 4 1 5 1 4 2 5 1 4M752 1289l1-4 1-3 2-4 1-4 1-4M888 1270l2 5 1 4 1 4 2 5 1 4M1013 1290l1-2 2-2 1-2 1-2 2-2 1-2 1-2 1-1 2-2 1-1 1-2 2-1 1-1M1051 1268l1 1 2 2 1 1 1 2 2 2 1 2 1 2 2 2 1 2 1 2 1 3 2 3M1320 1291l1-2 2-3 1-2 1-3 2-2 1-3 1-2 2-3 1-3M810 1291l1-3 1-3 1-4 2-3 1-3 1-3 2-3M899 1269l1 4 1 4 2 4 1 4 1 4M1173 1288l1-3 2-4 1-4 1-4 2-4M1308 1271l2 4 1 4 1 4 2 5 1 4M838 1279l2-2 1-3 1-2 2-2M1021 1271l1 5 1 5 2 4 1 5M1014 1272l2-2M1214 1268l1 5 1 4 2 4 1 4 1 4M779 1291l2-4 1-4 1-3 2-4 1-4 1-4M995 1269l1 3 1 4 1 3 2 4 1 3 1 4M1143 1270l1 4 2 5 1 4 1 4 1 4M813 1270l2 5 1 5 1 5 2 4M1195 1289l2-4 1-4 1-4 2-4 1-3M979 1291l1-5 1-4 2-4 1-4 1-4M1177 1271l1 3 2 4 1 4 1 3 2 4M736 1278l1-2 2-3 1-2 1-3M863 1269l2 4 1 4 1 4 2 4 1 3M1164 1289l1-3 1-4 2-4 1-3 1-4M1275 1268l2 2 1 2 1 3 2 2 1 2 1 2 2 3 1 2 1 2 2 2 1 2M1357 1291l1-2 1-3 2-2 1-2 1-2 2-3 1-2M846 1291l2-3 1-4 1-3 2-3 1-4 1-3M1005 1270l1 3 2 3 1 4 1 3 2 3 1 3 1 3M1117 1291l1-1 1-2 2-2 1-1 1-2 1-2 2-1 1-2 1-1 2-1 1-2 1-1 2-1 1-1 1-2 2-1M1165 1268l1 1 2 2 1 1 1 1 2 2 1 1 1 2 2 2 1 2 1 2 2 2 1 2 1 2M1022 1290l1-3 2-2 1-3 1-2 2-3 1-3 1-2 2-3M1201 1269l1 4 1 4 2 3 1 4 1 4 1 3M904 1292l1-3 2-3 1-2 1-3 2-3 1-3 1-3 1-3M1058 1270l1 5 1 4 2 5 1 5M844 1279l1-3 1-2 2-3 1-2M1040 1271l2 4 1 4 1 4 2 4 1 4M756 1270l1 3 1 3 2 2 1 3 1 3 2 2 1 3 1 2M1210 1289l1-4 1-3 2-4 1-4 1-4M870 1292l1-1 1 0 2 0 1 0 1 0 2 0 1 0 1 0 2 1M1020 1292l1-4 1-3 1-4 2-3 1-4 1-3M1189 1271l1 3 1 2 2 3 1 3 1 3 2 3 1 3M766 1270l2 4 1 4 1 4 1 4 2 4M1148 1291l1-5 2-5 1-5 1-4M1331 1268l1 2 1 2 1 3 2 2 1 3 1 2 2 3 1 2 1 3M837 1270l1 2 2 3 1 3 1 3 2 2 1 3 1 2 2 3M1104 1290l1-3 1-3 1-2 2-3 1-2 1-2 2-2 1-2 1-2 2-1M1146 1268l1 2 1 1 1 2 2 2 1 2 1 2 2 2 1 2 1 2 2 2M1277 1289l1-5 1-4 2-4 1-5M810 1290l1-3 1-4 1-4 2-4 1-4M998 1269l2 3 1 2 1 3 2 2 1 2 1 3 2 2 1 2 1 3M828 1291l1-4 1-3 2-4 1-3 1-4 2-4M947 1269l2 4 1 5 1 5 2 4 1 5M1223 1291l1-5 2-4 1-5 1-4 2-5M1336 1268l1 4 1 3 2 4 1 3 1 4 2 3M926 1290l2-4 1-3 1-4 2-4 1-4M1058 1269l1 2 1 3 2 2 1 3 1 2 1 2 2 3 1 2 1 2 2 2M1138 1291l1-1 1-3 2-2 1-2 1-2 2-2 1-2 1-3 1-2 2-2M1254 1271l2 3 1 4 1 3 2 4 1 4M777 1290l1-4 1-4 2-4 1-4 1-3M975 1269l1 4 2 4 1 4 1 4 1 4M1357 1292l1-5 1-5 2-4 1-5 1-5M740 1289l1-4 2-4 1-5 1-4 1-4M943 1270l2 2 1 3 1 3 2 2 1 3 1 3 2 2 1 3M758 1270l2 4 1 4 1 4 2 4 1 4M1195 1283l2-3 1-2 1-2 2-3 1-2 1-3M863 1290l2-3 1-4 1-3 2-4 1-3 1-3M964 1269l2 2 1 3 1 2 2 2 1 2 1 2 2 2 1 3 1 2 2 2M1050 1291l1-3 1-2 2-2 1-3 1-2 2-3 1-2 1-3 2-3M1191 1269l2 4 1 4 1 4 2 3 1 4 1 4M1105 1288l1-5 1-5 2-4 1-5M1256 1268l1 2 1 3 2 3 1 2 1 3 2 3 1 2 1 3 2 2M979 1291l1-3 1-3 2-4 1-3 1-3 2-3 1-3M1144 1271l2 3 1 4 1 3 1 4 2 3 1 3M1270 1292l2-2 1-1 1-1 1-1 2-1 1-1 1-1 2-1 1-1 1-1 2 0 1-1 1 0 2-1 1 0 1 0 1 0 2 0 1 0 1 0 2 1 1 0 1 0 2 1 1 1 1 1 2 0 1 1 1 2 2 1 1 1 1 1 2 2M945 1270l1 4 1 4 2 4 1 4 1 4"/><path id="nbc4" d="M963 1268l1-4 2-5 1-4 1-5M1084 1248l1 5 1 5 2 4 1 5 1 4M1223 1270l1-2 2-2 1-1 1-2 2-1 1-1 1-1 1-1 2-1 1-1 1 0 2-1 1 0 1 0 2 0 1 0 1 1 2 0 1 1 1 1 1 1 2 1 1 1 1 1 2 2 1 1 1 2 2 2M816 1270l1-1 2-1 1-1 1-1 2-1 1-1 1 0 2-1 1 0 1 0 1 0 2 0 1 0 1 1 2 1 1 0 1 1 2 1 1 2 1 1M1121 1270l1-3 1-3 1-2 2-3 1-3 1-3 2-3 1-3M1264 1250l1 5 1 5 2 5 1 5M782 1268l1-2 2-3 1-3 1-3 1-2 2-3 1-2 1-2M846 1247l2 2 1 2 1 2 2 2 1 2 1 2 1 2 2 2M963 1271l1-3 2-3 1-3 1-3 2-3 1-4 1-3M1094 1249l2 4 1 4 1 4 2 4 1 4M1086 1270l2-3 1-4 1-4 2-4 1-4 1-4M1285 1249l1 3 1 3 2 4 1 3 1 3 1 3M865 1270l1-5 1-4 2-5 1-5 1-4M988 1251l1 4 2 4 1 4 1 5M1274 1270l1-4 2-4 1-4 1-4 2-3 1-4M1345 1249l1 3 2 3 1 4 1 3M821 1251l2 5 1 5 1 5M1239 1271l1-2 1-3 2-2 1-2 1-2 2-2 1-2 1-2 1-2 2-3 1-2M857 1249l1 4 1 3 2 3 1 4 1 3 2 3M980 1270l1-2 2-2 1-2 1-1 2-2 1-1 1-2 2-1 1-1 1-2 2-1 1-1 1-1 1-1 2-1 1-1 1 0 2-1 1 0M1016 1247l1 0 1 1 2 1 1 0 1 1 1 2 2 1 1 1 1 1 2 2 1 1 1 2 2 2 1 2 1 2 2 2 1 2M1349 1268l1-4 2-4 1-3 1-4 2-4M781 1247l1 4 1 3 2 4 1 4 1 3 1 4M1102 1271l2-2 1-1 1-2 1-1 2-1 1-1 1-1 2 0 1-1 1-1 2 0 1 0 1 0 2-1 1 0 1 1 1 0 2 0 1 0 1 1 2 0 1 1 1 1 2 1 1 1 1 1 2 1 1 1 1 1 2 1M1268 1270l1-3 1-4 2-3 1-4 1-3 1-4M942 1267l1-5 2-4 1-5 1-5M1106 1248l1 2 2 2 1 2 1 2 2 3 1 2 1 2 2 2 1 3 1 2M832 1270l1-5 1-5 2-5 1-5M967 1249l1 3 2 3 1 4 1 3 2 3 1 3 1 3M1253 1270l1-2 2-2 1-2 1-2 2-1 1-2 1-1 2-1 1-1 1-1 2-1 1-1 1 0 2 0 1 0 1 0 1 0 2 0 1 0 1 1 2 1 1 1 1 1 2 1 1 1 1 1 2 2 1 1 1 2 1 2 2 2 1 2M1128 1270l2-4 1-4 1-4 2-5 1-4M1292 1249l2 3 1 3 1 2 2 3 1 2 1 3 2 3 1 2M842 1271l2-4 1-4 1-4 2-3 1-4 1-4M947 1247l2 2 1 3 1 3 2 3 1 2 1 3 1 3 2 2 1 3M1050 1269l1-2 1-3 2-2 1-3 1-2 2-3 1-3 1-2M1156 1248l1 4 2 4 1 3 1 4 2 4 1 4M736 1268l1-5 2-5 1-5 1-4M903 1247l1 2 1 3 2 2 1 2 1 2 2 3 1 2 1 2 1 3 2 2M1321 1270l2-5 1-5 1-5 2-5M1012 1268l1-4 1-3 2-4 1-3 1-4 2-3M1212 1250l2 3 1 4 1 4 2 4 1 3M853 1268l1-4 1-3 2-4 1-4 1-3M998 1247l2 4 1 3 1 4 2 3 1 4 1 3M909 1270l2-2 1-1 1-2 1-1 2-1 1-1 1-1 2 0 1-1 1 0 2 0 1 0 1 0 2 0 1 0 1 1 2 1 1 0 1 1 2 1 1 2 1 1 1 1 2 2M1077 1268l2-5 1-5 1-4 1-5M1199 1251l2 4 1 4 1 5 2 4M736 1260l1-2 2-2 1-2 1-2 2-2 1-2 1-1M794 1247l1 2 1 3 2 2 1 2 1 3 2 2 1 3 1 3 2 2M1115 1267l2-4 1-4 1-3 2-4 1-4M1244 1247l1 3 2 4 1 3 1 3 1 3 2 3 1 3M1358 1269l1-2 2-2 1-2 1-2 2-2 1-2M943 1268l2-4 1-4 1-4 2-5 1-4M1122 1249l1 2 1 3 2 2 1 2 1 3 2 2 1 3 1 2 2 3M794 1247l1 4 1 4 2 4 1 4 1 3 2 4M1111 1270l2-2 1-2 1-3 2-2 1-2 1-2 2-1 1-2 1-1 1-2 2-1 1-2 1-1M1153 1247l2 1 1 1 1 1 2 2 1 1 1 1 2 2 1 1 1 2 1 1 2 2 1 2 1 2 2 1 1 2M1286 1270l1-3 2-3 1-4 1-3 1-3 2-4 1-3M855 1268l2-4 1-4 1-4 2-4 1-4M929 1247l1 3 2 4 1 3M1047 1268l1-4 2-4 1-4 1-4 2-4M1149 1248l2 5 1 4 1 5 2 5M808 1269l2-5 1-5 1-4 1-5M911 1249l1 4 1 4 1 4 2 4 1 4M1026 1269l1-3 2-3 1-4 1-3 2-3 1-3 1-3M1101 1247l1 4 2 3 1 4 1 4 1 4 2 4M753 1248l1 3 2 3 1 3 1 3 2 2 1 3 1 3M1189 1268l1-4 1-4 2-4 1-4 1-4M758 1248l2 4 1 4 1 4 2 4 1 4M1232 1269l1-3 2-3 1-3 1-3 2-4 1-3 1-3M736 1255l1 5 2 4 1 5M1022 1268l1-5 2-4 1-5 1-5M1123 1249l1 4 2 4 1 4 1 4 2 4M1239 1268l1-3 1-3 2-4 1-3 1-3 2-3M1315 1247l1 4 1 3 2 4 1 4 1 4 2 4M872 1250l2 5 1 4 1 4 2 4 1 4M1331 1270l1-2 1-3 1-2 2-3 1-2 1-3 2-2 1-3 1-3M736 1267l1 2M834 1270l2-2 1-2 1-3 2-2 1-2 1-3 2-2 1-2 1-2 2-3M916 1247l1 3 1 3 2 3 1 3 1 3 2 3 1 3M1233 1270l2-4 1-4 1-4 2-4 1-4M1357 1250l1 3 1 3 2 3 1 3 1 3 2 2 1 3M1056 1270l2-2 1-2 1-2 2-3 1-2 1-2 1-2 2-2 1-2 1-2 2-2M1226 1249l1 4 1 5 2 5 1 5M773 1250l1 5 1 4 2 5 1 4M1059 1271l1-4 2-5 1-4 1-4 1-4M1138 1247l1 4M1253 1271l1-4 2-4 1-3 1-4 2-4 1-4M1354 1249l2 5 1 4 1 5 1 5M758 1270l2-4 1-5 1-4 2-4 1-4M882 1247l1 5 1 5 2 4 1 5 1 4M1027 1270l2-1 1-1 1-1 2-1 1-1 1 0 2-1 1 0 1 0 1 0 2 0 1 0 1 0 2 1 1 0 1 1 2 1 1 1 1 1 2 2M1332 1268l1-2 1-3 2-3 1-3 1-3 2-3 1-3M819 1269l1-3 1-4 2-3 1-3 1-3 2-3 1-3M892 1250l2 4 1 3 1 4 1 4 2 4M1180 1269l1-5 1-4 2-4 1-4 1-5M1302 1247l1 5 1 5 2 5 1 4 1 5M844 1270l1-3 1-2 2-2 1-2 1-2 2-3 1-2 1-2 1-2 2-2M1014 1247l2 5 1 5 1 5 2 5M1016 1270l1-3 1-3 2-2 1-3 1-3 1-2 2-3 1-2M1207 1247l1 5 2 4 1 4 1 4 2 4M787 1268l1-4 2-3 1-4 1-4 2-4M987 1248l1 3 1 4 2 3 1 4 1 3 2 4M943 1260l2-3 1-3 1-3 2-3M1136 1250l2 4 1 4 1 4 2 4 1 4M808 1251l2 5 1 5 1 5 1 4M1202 1270l1-4 2-4 1-4 1-3 1-4 2-4M985 1270l2-4 1-4 1-4 2-4 1-4M1168 1247l1 3 1 4 2 3 1 3 1 4 2 3 1 4M740 1271l1-3 2-3 1-2 1-3 1-3 2-3 1-3 1-2M857 1250l1 4 1 4 2 4 1 3 1 4M1170 1271l2-4 1-3 1-4 2-3 1-4 1-3M1265 1247l1 3 2 3 1 2 1 3 2 2 1 3 1 2 1 3 2 2M854 1271l1-4 2-3 1-4 1-3 2-4 1-4M997 1249l1 3 2 4 1 4 1 3 2 3 1 4M1135 1271l1-2 2-1 1-1 1 0 2-1 1-1 1 0 2-1 1 0 1-1 1 0 2 0 1 0 1 0 2 0 1 0 1 1 2 0 1 1 1 1 2 0 1 1 1 1 1 1 2 2M1033 1269l1-3 1-2 2-3 1-3 1-3 1-3 2-3M1194 1249l1 4 2 4 1 4 1 4 2 4M914 1269l2-3 1-3 1-3 2-4 1-3 1-3M1052 1250l2 5 1 5 1 5 2 5M849 1269l1-3 2-2 1-3 1-2 1-3 2-2 1-2 1-3 2-2M1034 1249l1 5 2 4 1 4 1 4 1 5M745 1247l1 3 2 3 1 3 1 3 2 3 1 3 1 2 2 3M1216 1270l2-4 1-4 1-4 2-4 1-4M1027 1271l2-4 1-4 1-4 2-4 1-3 1-4M1180 1248l1 4 1 3 2 3 1 3 1 3 2 3 1 4M758 1248l2 3 1 4 1 4 2 4 1 3 1 4M1155 1267l1-5 1-5 2-4 1-5M1319 1248l1 2 1 2 2 2 1 3 1 2 2 2 1 2 1 3 2 2 1 2M828 1249l1 3 1 3 2 3 1 3 1 3 2 3 1 3M1115 1269l2-1 1-2 1-1 2-1 1-1 1-1 1-1 2-1 1 0 1 0 2-1 1 0 1 1 2 0 1 0 1 1 2 0 1 1 1 1 2 1 1 1 1 2 2 1 1 2M1283 1267l2-5 1-4 1-5 2-4M816 1271l1-5 2-4 1-4 1-4 2-4M987 1247l1 3 1 2 2 3 1 2 1 3 2 2 1 3 1 2 1 2M836 1269l1-4 1-4 2-4 1-4 1-4M942 1250l1 5 2 5 1 4 1 5M1230 1268l1-5 1-4 1-5 2-5M1329 1248l2 4 1 4 1 4 1 4 2 4M934 1267l2-4 1-4 1-3 1-4 2-4M1048 1249l2 3 1 3 1 3 2 2 1 3 1 3 2 3M1151 1270l1-3 1-2 2-2 1-3 1-2 2-3 1-2 1-3 2-2M1247 1250l1 3 1 4 1 3 2 3 1 4 1 4M783 1271l2-4 1-4 1-4 1-3 2-4 1-3M968 1250l2 4 1 3 1 4 2 4 1 4M1363 1268l2-5 1-4M746 1268l2-4 1-4 1-4 2-5 1-4M932 1247l1 2 1 3 2 2 1 3 1 2 1 3 2 2 1 3 1 3M752 1249l1 4 1 4 2 4 1 4 1 5M1202 1271l1-3 2-2 1-2 1-3 1-2 2-3 1-2 1-2 2-3 1-2M871 1270l1-4 2-3 1-3 1-3 2-3 1-3 1-3M953 1248l1 2M962 1264l1 3 1 2M1060 1271l2-3 1-3 1-2 1-3 2-3 1-3 1-3 2-3M1185 1249l1 4 2 4 1 4 1 4 1 4M1110 1269l1-5 2-5 1-5 1-5M1247 1247l1 3 1 3 1 3 2 3 1 3 1 3 2 3 1 2M988 1269l1-3 2-4 1-3 1-4 2-3 1-3M1136 1249l2 4 1 3 1 4 2 4 1 3 1 4M744 1254l1-3 1-3M937 1247l1 4 1 3 2 4 1 4 1 4 2 4"/></defs><use href="#nac4" stroke="#ffe000" stroke-linecap="butt" stroke-dasharray="2 5 1.5 6"/><use href="#nac4" stroke="#ff1000" stroke-linecap="butt" stroke-dasharray="1.5 4 2 5 1 6" stroke-dashoffset="2"/><use href="#nac4" stroke="#ff8000" stroke-linecap="butt" stroke-dasharray="1.5 9 1 11" stroke-dashoffset="5"/><use href="#nbc4" stroke="#ffdc00" stroke-linecap="butt" stroke-dasharray="1.5 7 1 9" stroke-dashoffset="3"/><use href="#nbc4" stroke="#ff1800" stroke-linecap="butt" stroke-dasharray="1 10 1.5 12"/><path d="M956 1288l2-4M1110 1290l1-2M858 1291l1-4M1258 1292l2-3M827 1289l1-5M750 1291l2-3 1-3 1-3 2-3 1-2 1-3 2-3 1-3 1-2 2-3 1-3 1-2 2-3 1-2 1-3 1-2 2-2 1-2 1-2 2-2 1-2 1-2 2-1 1-2 1-1 2-1 1-1 1-1 1-1 2 0 1-1 1 0 2 0 1 0 1 1 2 0 1 1 1 1 2 0 1 2 1 1 2 1 1 2 1 2 2 2 1 2 1 2 1 2 2 3 1 2 1 3 2 3 1 3 1 3 2 3 1 3 1 4 2 3 1 4 1 3 1 4 2 3M1096 1290l1-4 1-3 2-4 1-3 1-4 2-3 1-4 1-4 1-3 2-4 1-4 1-4 2-4 1-4 1-4 2-5 1-4 1-4 2-5 1-4 1-5 1-4 2-5 1-5 1-4 2-5 1-5 1-5 2-5 1-5 1-6 2-5 1-5 1-5 2-6 1-5 1-6 2-5 1-6 1-6 1-6 2-5 1-6 1-6 2-6 1-6 1-6 2-6 1-6 1-6 2-6 1-6 1-6 1-6 2-6 1-5 1-5 2-4 1-4 1-2 2 0 1 2 1 3 2 5 1 5 1 5 2 6 1 6 1 6 2 6 1 7 1 6 1 6 2 7 1 6 1 7 2 6 1 6 1 7 2 6 1 6 1 6 2 7 1 6 1 6 1 6 2 6 1 6 1 6 2 6 1 6 1 5 2 6 1 6 1 5 2 6 1 5 1 6 2 5 1 5 1 6 2 5 1 5 1 5 1 5 2 5 1 5 1 5 2 4 1 5 1 4 2 5 1 4 1 5M836 1290l1-4M1037 1292l1-2M1071 1289l1-4M1277 1290l1-3M1230 1291l1-4M752 1289l1-4M810 1291l1-3M943 1260l2-3M846 1291l2-3M904 1292l1-3M844 1279l1-3M1210 1289l1-4M1148 1291l1-5M810 1290l1-3M1223 1291l1-5M777 1290l1-4M1357 1292l1-5M979 1291l1-3M1270 1292l2-2" stroke="#000"/></g><rect x="736" y="1239" width="630" height="1" fill="#000"/><rect x="736" y="1187" width="630" height="1" fill="#000"/><rect x="736" y="1134" width="630" height="1" fill="#000"/><rect x="736" y="1082" width="630" height="1" fill="#000"/><rect x="736" y="1029" width="630" height="1" fill="#000"/><rect x="761.5" y="979" width="1.5" height="1.8" fill="#000"/><rect x="761.5" y="1288.2" width="1.5" height="1.8" fill="#000"/><rect x="787.8" y="979" width="1.5" height="1.8" fill="#000"/><rect x="787.8" y="1288.2" width="1.5" height="1.8" fill="#000"/><rect x="813.8" y="979" width="2" height="3.5" fill="#000"/><rect x="813.8" y="1286.5" width="2" height="3.5" fill="#000"/><rect x="840.2" y="979" width="1.5" height="1.8" fill="#000"/><rect x="840.2" y="1288.2" width="1.5" height="1.8" fill="#000"/><rect x="866.5" y="979" width="1.5" height="1.8" fill="#000"/><rect x="866.5" y="1288.2" width="1.5" height="1.8" fill="#000"/><rect x="892.5" y="979" width="2" height="3.5" fill="#000"/><rect x="892.5" y="1286.5" width="2" height="3.5" fill="#000"/><rect x="919" y="979" width="1.5" height="1.8" fill="#000"/><rect x="919" y="1288.2" width="1.5" height="1.8" fill="#000"/><rect x="945.2" y="979" width="1.5" height="1.8" fill="#000"/><rect x="945.2" y="1288.2" width="1.5" height="1.8" fill="#000"/><rect x="971.2" y="979" width="2" height="3.5" fill="#000"/><rect x="971.2" y="1286.5" width="2" height="3.5" fill="#000"/><rect x="997.8" y="979" width="1.5" height="1.8" fill="#000"/><rect x="997.8" y="1288.2" width="1.5" height="1.8" fill="#000"/><rect x="1024" y="979" width="1.5" height="1.8" fill="#000"/><rect x="1024" y="1288.2" width="1.5" height="1.8" fill="#000"/><rect x="1050" y="979" width="2" height="3.5" fill="#000"/><rect x="1050" y="1286.5" width="2" height="3.5" fill="#000"/><rect x="1076.5" y="979" width="1.5" height="1.8" fill="#000"/><rect x="1076.5" y="1288.2" width="1.5" height="1.8" fill="#000"/><rect x="1102.8" y="979" width="1.5" height="1.8" fill="#000"/><rect x="1102.8" y="1288.2" width="1.5" height="1.8" fill="#000"/><rect x="1128.8" y="979" width="2" height="3.5" fill="#000"/><rect x="1128.8" y="1286.5" width="2" height="3.5" fill="#000"/><rect x="1155.2" y="979" width="1.5" height="1.8" fill="#000"/><rect x="1155.2" y="1288.2" width="1.5" height="1.8" fill="#000"/><rect x="1181.5" y="979" width="1.5" height="1.8" fill="#000"/><rect x="1181.5" y="1288.2" width="1.5" height="1.8" fill="#000"/><rect x="1207.5" y="979" width="2" height="3.5" fill="#000"/><rect x="1207.5" y="1286.5" width="2" height="3.5" fill="#000"/><rect x="1234" y="979" width="1.5" height="1.8" fill="#000"/><rect x="1234" y="1288.2" width="1.5" height="1.8" fill="#000"/><rect x="1260.2" y="979" width="1.5" height="1.8" fill="#000"/><rect x="1260.2" y="1288.2" width="1.5" height="1.8" fill="#000"/><rect x="1286.2" y="979" width="2" height="3.5" fill="#000"/><rect x="1286.2" y="1286.5" width="2" height="3.5" fill="#000"/><rect x="1312.8" y="979" width="1.5" height="1.8" fill="#000"/><rect x="1312.8" y="1288.2" width="1.5" height="1.8" fill="#000"/><rect x="1339" y="979" width="1.5" height="1.8" fill="#000"/><rect x="1339" y="1288.2" width="1.5" height="1.8" fill="#000"/><rect x="738" y="1238" width="4" height="3" fill="#000"/><rect x="1360" y="1238" width="4" height="3" fill="#000"/><rect x="738" y="1186" width="4" height="3" fill="#000"/><rect x="1360" y="1186" width="4" height="3" fill="#000"/><rect x="738" y="1133" width="4" height="3" fill="#000"/><rect x="1360" y="1133" width="4" height="3" fill="#000"/><rect x="738" y="1081" width="4" height="3" fill="#000"/><rect x="1360" y="1081" width="4" height="3" fill="#000"/><rect x="738" y="1028" width="4" height="3" fill="#000"/><rect x="1360" y="1028" width="4" height="3" fill="#000"/><rect x="734" y="975" width="4" height="319" fill="#000"/><rect x="1364" y="975" width="4" height="319" fill="#000"/><rect x="734" y="975" width="634" height="4" fill="#000"/><rect x="734" y="1290" width="634" height="4" fill="#000"/><text x="736" y="1315.3" font-size="22.1" text-anchor="middle" >0</text><text x="814.8" y="1315.3" font-size="22.1" text-anchor="middle" >3</text><text x="893.5" y="1315.3" font-size="22.1" text-anchor="middle" >6</text><text x="972.2" y="1315.3" font-size="22.1" text-anchor="middle" >9</text><text x="1051" y="1315.3" font-size="22.1" text-anchor="middle" >12</text><text x="1129.8" y="1315.3" font-size="22.1" text-anchor="middle" >15</text><text x="1208.5" y="1315.3" font-size="22.1" text-anchor="middle" >18</text><text x="1287.2" y="1315.3" font-size="22.1" text-anchor="middle" >21</text><text x="1366" y="1315.3" font-size="22.1" text-anchor="middle" >24</text><text x="1397" y="1299.8" font-size="22.1" text-anchor="end" >0</text><text x="1397" y="1247.3" font-size="22.1" text-anchor="end" >15</text><text x="1397" y="1194.8" font-size="22.1" text-anchor="end" >30</text><text x="1397" y="1142.3" font-size="22.1" text-anchor="end" >45</text><text x="1397" y="1089.8" font-size="22.1" text-anchor="end" >60</text><text x="1397" y="1037.3" font-size="22.1" text-anchor="end" >75</text><text x="1397" y="984.8" font-size="22.1" text-anchor="end" >90</text><text x="1051" y="1344.3" font-size="22.1" text-anchor="middle" >Tiempo (horas)</text><text x="0" y="0" font-size="22.1" text-anchor="middle" transform="translate(1428.4 1134) rotate(-90)">Elevación (grados)</text></svg></body></html>
